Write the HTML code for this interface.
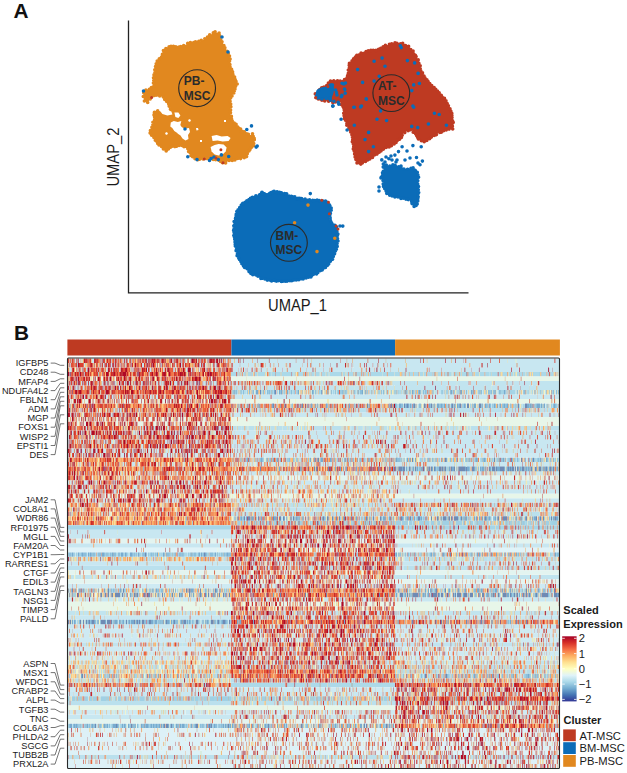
<!DOCTYPE html>
<html><head><meta charset="utf-8"><style>
html,body{margin:0;padding:0;background:#fff;}
body{width:627px;height:773px;overflow:hidden;}
svg{display:block;font-family:"Liberation Sans",sans-serif;}
</style></head><body>
<svg width="627" height="773" viewBox="0 0 627 773">
<path d="M215.3 32.2C216.2 32.3 218.1 32.7 218.9 33.6C219.7 34.5 219.7 36.5 220.3 37.9C220.9 39.3 221.7 40.5 222.5 42.2C223.3 43.9 224.5 46.1 225.4 48.0C226.3 49.9 227.5 51.8 228.2 53.7C228.9 55.6 229.3 57.2 229.7 59.4C230.1 61.5 229.9 64.4 230.4 66.6C230.9 68.8 231.7 70.2 232.5 72.4C233.3 74.6 234.7 77.6 235.4 79.5C236.1 81.4 236.9 82.3 236.8 83.8C236.7 85.3 235.6 86.9 235.0 88.5C234.4 90.1 233.9 91.8 233.2 93.4C232.5 95.0 231.5 96.2 231.0 98.0C230.5 99.8 230.5 101.5 230.4 104.0C230.3 106.5 230.2 110.4 230.4 112.8C230.6 115.2 230.9 116.9 231.5 118.5C232.1 120.1 233.0 121.2 234.0 122.5C235.0 123.8 236.1 125.1 237.5 126.5C238.9 127.9 240.8 129.7 242.7 131.0C244.6 132.3 247.2 133.7 248.9 134.5C250.6 135.3 252.2 134.8 253.1 135.7C254.0 136.6 254.6 138.2 254.6 139.9C254.6 141.6 254.0 144.2 253.1 146.1C252.2 148.0 249.9 149.6 248.9 151.3C247.9 153.0 248.2 155.3 246.8 156.5C245.4 157.7 242.7 158.0 240.6 158.5C238.5 159.0 236.3 159.2 234.4 159.6C232.5 159.9 230.6 160.1 229.2 160.6C227.8 161.1 227.1 162.3 226.1 162.7C225.1 163.1 224.2 163.5 223.0 163.2C221.8 162.8 220.4 161.2 218.8 160.6C217.2 160.0 215.2 159.9 213.7 159.6C212.1 159.2 211.2 158.6 209.5 158.5C207.8 158.4 204.9 159.0 203.3 159.2C201.7 159.4 201.2 159.8 199.8 159.7C198.4 159.6 196.4 159.3 195.0 158.7C193.6 158.0 192.1 157.1 191.1 155.8C190.1 154.5 190.0 152.5 189.2 151.1C188.4 149.7 187.7 148.2 186.4 147.2C185.1 146.2 183.5 145.5 181.6 145.3C179.7 145.2 176.8 146.1 174.9 146.3C173.0 146.5 171.6 146.0 170.1 146.7C168.6 147.4 167.6 150.8 165.8 150.6C164.1 150.4 161.4 147.1 159.6 145.3C157.8 143.5 156.3 141.6 154.8 139.6C153.3 137.6 151.2 135.1 150.5 133.5C149.8 131.9 149.9 131.6 150.3 130.1C150.7 128.6 152.1 126.2 152.7 124.4C153.3 122.7 153.8 121.7 154.1 119.6C154.4 117.5 154.1 113.5 154.6 112.0C155.1 110.5 155.7 110.5 157.1 110.8C158.5 111.0 161.1 112.9 162.9 113.5C164.7 114.1 166.3 114.7 167.7 114.4C169.1 114.1 171.2 112.9 171.5 111.6C171.8 110.3 170.4 108.6 169.6 106.8C168.8 105.0 167.8 102.6 166.7 101.0C165.6 99.4 164.5 98.2 162.9 97.2C161.3 96.2 158.8 95.2 157.1 95.0C155.3 94.8 153.5 95.3 152.4 96.0C151.3 96.7 151.2 98.1 150.4 99.1C149.6 100.1 148.6 101.8 147.6 102.0C146.6 102.2 145.2 101.4 144.5 100.5C143.8 99.6 143.4 97.7 143.3 96.5C143.2 95.3 143.2 94.4 143.7 93.4C144.1 92.4 144.9 91.2 146.0 90.5C147.1 89.8 148.7 89.8 150.0 89.0C151.3 88.2 153.0 87.5 153.6 86.0C154.2 84.5 153.5 81.8 153.6 80.0C153.7 78.2 154.1 77.4 154.3 75.2C154.5 73.0 154.5 69.0 155.0 66.6C155.5 64.2 156.1 62.6 157.2 60.9C158.3 59.2 160.6 58.3 161.5 56.6C162.4 54.9 162.2 52.2 162.9 50.8C163.6 49.4 164.4 48.7 165.8 48.0C167.2 47.3 169.3 46.8 171.5 46.5C173.7 46.2 176.3 46.6 178.7 46.5C181.1 46.4 184.3 46.4 185.9 45.8C187.5 45.2 186.8 43.5 188.0 42.9C189.2 42.3 191.3 42.4 193.1 42.2C194.9 42.0 196.9 42.0 198.8 41.5C200.7 41.0 203.1 40.1 204.5 39.4C205.9 38.7 206.4 37.9 207.4 37.2C208.4 36.5 209.3 35.7 210.3 35.0C211.3 34.3 212.4 33.4 213.2 32.9C214.0 32.4 214.4 32.1 215.3 32.2Z" fill="#E1881F"/>
<path d="M215.1 31.8h0M219.1 33.1h0M219.6 35.6h0M219.8 37.9h0M220.8 40.0h0M222.0 41.7h0M223.9 45.5h0M224.9 47.7h0M227.0 51.4h0M228.3 53.6h0M229.5 56.0h0M230.1 59.1h0M229.5 61.3h0M229.9 64.6h0M230.0 66.7h0M231.6 69.3h0M232.6 71.9h0M232.9 74.4h0M234.6 77.0h0M235.2 79.6h0M236.0 81.4h0M237.2 84.0h0M235.6 86.2h0M235.0 89.0h0M234.4 90.7h0M233.8 92.9h0M232.0 96.0h0M230.6 98.0h0M230.1 101.2h0M230.7 104.1h0M230.9 106.7h0M230.6 110.0h0M230.5 112.7h0M231.4 116.2h0M231.5 118.7h0M232.2 120.7h0M234.2 123.1h0M236.1 124.2h0M237.4 126.7h0M238.7 128.0h0M240.6 129.0h0M242.2 131.3h0M244.3 131.9h0M246.7 133.8h0M248.4 134.4h0M253.2 136.2h0M254.2 138.2h0M254.3 139.8h0M253.7 143.5h0M253.6 145.7h0M251.3 147.5h0M250.0 149.5h0M249.0 151.0h0M247.3 153.8h0M246.6 156.6h0M244.2 157.7h0M240.6 158.6h0M237.7 158.5h0M234.9 159.9h0M232.2 160.5h0M229.1 160.5h0M225.6 162.9h0M222.5 162.7h0M220.6 161.5h0M218.6 160.1h0M215.7 159.7h0M213.2 159.4h0M208.9 158.9h0M206.5 158.4h0M203.0 159.0h0M199.6 159.2h0M197.8 159.8h0M195.0 158.7h0M192.6 156.8h0M190.9 155.5h0M190.5 153.0h0M188.6 151.6h0M187.8 148.7h0M186.5 146.6h0M184.0 146.8h0M182.0 145.5h0M179.1 145.5h0M176.7 146.3h0M174.9 146.6h0M172.3 146.2h0M170.5 147.3h0M168.4 149.0h0M166.2 150.9h0M163.4 148.9h0M161.5 146.5h0M159.0 145.0h0M157.7 143.6h0M156.9 141.4h0M155.3 140.2h0M153.9 137.4h0M151.6 135.2h0M150.1 133.1h0M150.4 130.6h0M151.9 127.2h0M152.9 124.8h0M152.9 122.2h0M154.6 119.9h0M154.6 117.0h0M154.0 114.9h0M154.4 112.4h0M157.7 110.7h0M159.9 112.7h0M163.2 113.1h0M164.9 113.5h0M168.2 114.8h0M169.2 113.4h0M172.1 111.8h0M170.4 109.3h0M169.2 106.2h0M168.7 104.1h0M166.7 101.5h0M164.7 99.5h0M163.3 96.9h0M159.7 95.9h0M156.8 95.1h0M154.5 95.4h0M152.0 96.5h0M150.2 99.0h0M147.7 102.5h0M144.4 101.0h0M143.3 96.5h0M143.7 92.8h0M145.9 90.1h0M149.4 89.4h0M151.4 87.5h0M153.9 86.1h0M153.4 83.0h0M153.7 80.3h0M153.5 77.7h0M154.0 74.9h0M154.9 72.3h0M154.8 69.8h0M155.5 66.5h0M156.2 63.8h0M157.2 61.1h0M159.3 58.8h0M161.5 57.1h0M162.4 54.2h0M163.4 50.5h0M165.9 48.5h0M169.1 46.8h0M171.0 46.4h0M173.4 46.2h0M175.8 46.7h0M179.0 47.0h0M180.7 46.5h0M183.7 45.6h0M186.4 46.4h0M187.7 43.4h0M190.4 42.5h0M193.7 42.6h0M195.5 41.8h0M198.8 41.3h0M201.3 40.2h0M204.8 38.8h0M207.5 37.1h0M209.7 34.8h0M213.3 32.9h0" stroke="#E1881F" stroke-width="3.6" stroke-linecap="round" fill="none"/>
<path d="M397.4 42.8C399.3 42.8 401.3 43.1 403.2 43.7C405.1 44.3 407.3 45.3 408.9 46.6C410.5 47.9 411.4 49.6 412.7 51.4C414.0 53.1 415.5 55.2 416.6 57.1C417.7 59.0 418.6 60.7 419.4 62.9C420.2 65.1 420.3 68.0 421.3 70.5C422.3 73.0 423.4 75.7 425.2 78.2C427.0 80.8 429.5 83.2 431.9 85.8C434.3 88.3 437.5 91.3 439.5 93.5C441.5 95.7 442.7 97.3 444.0 98.9C445.3 100.5 446.0 101.1 447.2 103.1C448.4 105.1 450.1 107.6 451.1 110.9C452.2 114.2 453.3 119.8 453.5 122.8C453.7 125.8 453.5 127.6 452.3 128.8C451.1 130.0 448.6 129.4 446.4 130.0C444.2 130.6 441.6 131.2 439.2 132.4C436.8 133.6 434.4 135.6 432.0 137.2C429.6 138.8 427.0 141.6 424.8 142.0C422.6 142.4 420.5 141.0 418.9 139.6C417.3 138.2 416.7 135.2 415.3 133.6C413.9 132.0 412.3 130.2 410.5 130.0C408.7 129.8 406.1 131.2 404.5 132.4C402.9 133.6 402.3 135.6 400.9 137.2C399.5 138.8 398.1 140.4 396.1 142.0C394.1 143.6 391.3 145.4 388.9 146.8C386.5 148.2 383.9 149.1 381.5 150.5C379.1 151.9 376.8 153.8 374.5 155.5C372.2 157.2 369.8 159.0 367.5 160.5C365.2 162.0 362.3 164.2 360.5 164.5C358.7 164.8 357.7 164.1 356.7 162.3C355.7 160.6 354.9 157.0 354.3 154.0C353.7 151.0 353.5 147.6 353.1 144.4C352.7 141.2 352.7 137.6 351.9 134.8C351.1 132.0 349.5 130.4 348.3 127.6C347.1 124.8 345.5 121.3 344.7 118.1C343.9 114.9 344.0 110.8 343.5 108.5C343.0 106.2 342.2 105.2 341.5 104.0C340.8 102.8 339.9 101.8 339.0 101.5C338.1 101.2 337.0 101.8 336.0 102.0C335.0 102.2 334.2 103.1 333.0 103.0C331.8 102.9 330.3 101.9 329.0 101.5C327.7 101.1 326.5 100.8 325.0 100.5C323.5 100.2 321.6 99.9 320.0 99.5C318.4 99.1 316.2 98.9 315.5 98.0C314.8 97.1 315.1 95.2 315.5 94.0C315.9 92.8 316.9 92.0 318.0 91.0C319.1 90.0 320.5 89.2 322.0 88.2C323.5 87.2 325.6 86.1 327.0 85.0C328.4 83.9 329.3 82.3 330.5 81.5C331.7 80.7 332.4 80.5 334.0 80.3C335.6 80.1 338.3 80.6 340.0 80.5C341.7 80.4 342.9 79.9 344.0 79.5C345.1 79.1 345.9 79.7 346.7 78.2C347.5 76.7 348.1 73.0 348.6 70.5C349.1 68.0 348.5 65.1 349.6 62.9C350.7 60.7 353.4 58.7 355.3 57.1C357.2 55.5 358.9 54.2 361.1 53.3C363.3 52.3 365.8 52.0 368.7 51.4C371.6 50.8 375.4 50.5 378.3 49.5C381.2 48.5 383.7 46.7 385.9 45.7C388.1 44.7 389.8 44.2 391.7 43.7C393.6 43.2 395.5 42.8 397.4 42.8Z" fill="#BE3A22"/>
<path d="M396.9 43.4h0M400.6 43.8h0M402.7 43.4h0M405.5 45.5h0M408.6 46.2h0M410.7 49.5h0M413.1 51.1h0M413.6 53.8h0M415.4 55.4h0M416.1 56.6h0M418.2 59.9h0M418.9 63.4h0M420.2 65.8h0M420.2 68.4h0M420.8 70.9h0M422.5 72.9h0M424.0 76.1h0M424.9 77.8h0M426.9 79.8h0M428.1 81.6h0M429.7 83.5h0M431.7 85.6h0M434.1 87.5h0M435.7 89.3h0M437.4 91.0h0M439.2 92.9h0M441.3 95.4h0M442.1 97.1h0M444.5 98.4h0M446.0 100.9h0M447.2 103.5h0M448.4 105.7h0M450.0 108.9h0M450.9 111.3h0M451.8 113.4h0M451.9 115.5h0M452.0 117.6h0M452.5 120.7h0M453.2 122.4h0M452.4 126.2h0M452.7 129.0h0M449.1 129.1h0M446.2 130.0h0M443.6 130.7h0M441.3 132.2h0M439.8 132.5h0M436.5 134.6h0M434.2 135.4h0M431.4 137.1h0M429.6 138.8h0M426.8 140.4h0M424.2 141.7h0M421.4 140.7h0M418.4 139.0h0M417.5 137.3h0M416.6 135.6h0M415.6 133.8h0M413.2 132.3h0M410.4 129.8h0M408.1 130.8h0M404.8 132.6h0M402.2 135.2h0M401.4 137.4h0M399.6 139.2h0M397.3 140.4h0M396.1 142.4h0M394.1 144.0h0M391.4 145.7h0M389.1 147.0h0M386.1 147.5h0M383.5 149.1h0M381.0 150.9h0M379.2 152.3h0M377.0 154.1h0M374.5 154.9h0M372.5 157.5h0M369.8 158.9h0M367.7 160.0h0M365.5 161.5h0M362.3 162.9h0M360.8 164.1h0M357.0 162.9h0M355.9 159.4h0M355.1 157.0h0M354.6 154.1h0M354.2 151.1h0M353.3 148.9h0M353.7 146.6h0M353.2 143.8h0M352.3 141.7h0M352.7 139.8h0M352.4 136.9h0M351.9 134.8h0M350.7 131.9h0M350.0 129.6h0M348.9 128.1h0M346.8 125.2h0M346.9 123.4h0M345.5 120.2h0M344.4 118.6h0M344.1 115.8h0M343.7 113.3h0M344.3 110.5h0M343.9 108.5h0M343.0 106.5h0M341.2 104.5h0M339.0 100.9h0M335.4 102.0h0M332.9 102.8h0M328.6 101.3h0M324.8 100.9h0M321.9 100.3h0M320.4 99.0h0M318.3 99.0h0M316.0 97.7h0M315.3 93.9h0M318.6 91.1h0M319.8 89.5h0M321.7 87.7h0M324.0 87.0h0M326.7 85.5h0M328.4 83.0h0M330.5 81.1h0M333.8 80.8h0M337.5 80.8h0M340.2 81.0h0M344.5 79.6h0M347.0 77.7h0M347.6 75.6h0M348.3 73.2h0M348.3 70.0h0M349.4 67.5h0M349.2 65.2h0M349.4 63.2h0M352.1 60.7h0M353.6 58.8h0M355.4 57.0h0M356.8 55.4h0M358.8 55.1h0M361.1 53.0h0M364.1 53.3h0M366.1 51.6h0M368.3 50.9h0M370.9 50.4h0M373.2 50.2h0M376.0 50.4h0M378.6 49.4h0M380.7 48.3h0M383.2 46.8h0M385.4 45.4h0M389.4 44.3h0M391.7 43.9h0M395.0 42.9h0" stroke="#BE3A22" stroke-width="3.6" stroke-linecap="round" fill="none"/>
<path d="M383.6 164.4C384.6 163.6 387.3 165.6 389.3 165.7C391.3 165.8 393.8 164.7 395.7 165.1C397.6 165.5 398.9 167.7 400.8 168.3C402.7 168.9 405.1 168.9 407.2 168.9C409.3 168.9 412.0 167.8 413.6 168.3C415.2 168.8 416.0 170.6 416.8 172.1C417.6 173.6 418.5 175.3 418.7 177.2C418.9 179.1 418.0 181.5 418.0 183.6C418.0 185.7 418.7 187.4 418.7 190.0C418.7 192.6 418.2 196.6 418.0 198.9C417.8 201.2 418.1 202.7 417.4 204.0C416.7 205.3 414.7 206.9 413.6 206.5C412.5 206.1 412.3 202.7 411.0 201.4C409.7 200.1 408.0 199.5 405.9 198.9C403.8 198.3 400.6 198.0 398.3 197.6C396.0 197.2 393.8 196.9 391.9 196.3C390.0 195.7 388.1 195.1 386.8 193.8C385.5 192.5 384.8 190.8 384.2 188.7C383.6 186.6 383.4 182.9 383.0 181.0C382.6 179.1 381.6 178.9 381.7 177.2C381.8 175.5 383.3 172.9 383.6 170.8C383.9 168.7 382.7 165.2 383.6 164.4Z" fill="#0B6CB8"/>
<path d="M383.3 164.1h0M386.3 165.0h0M389.8 166.1h0M392.9 164.8h0M395.1 165.4h0M398.7 166.7h0M400.9 167.7h0M403.9 169.1h0M407.6 169.3h0M411.0 168.3h0M413.1 167.9h0M415.2 170.4h0M417.3 172.4h0M417.9 175.0h0M418.6 177.3h0M417.8 180.7h0M417.7 184.1h0M418.5 186.6h0M418.3 189.7h0M418.7 192.5h0M417.9 193.9h0M418.2 196.8h0M417.9 198.6h0M417.8 200.9h0M417.2 204.0h0M416.1 205.4h0M414.1 206.5h0M412.0 203.6h0M411.6 201.6h0M408.2 199.6h0M405.9 199.1h0M403.3 198.2h0M401.0 198.5h0M398.0 197.0h0M394.9 196.9h0M392.1 195.9h0M389.7 195.3h0M386.8 193.4h0M386.1 191.0h0M384.6 188.4h0M383.5 186.4h0M383.2 184.1h0M383.0 180.6h0M381.4 177.1h0M382.5 175.6h0M382.5 172.8h0M383.3 171.4h0M383.2 167.1h0" stroke="#0B6CB8" stroke-width="3.6" stroke-linecap="round" fill="none"/>
<path d="M251.0 198.4C252.6 197.6 254.9 197.3 256.7 196.5C258.4 195.7 259.9 193.7 261.5 193.5C263.1 193.3 264.2 195.7 266.3 195.5C268.4 195.3 271.3 192.7 273.9 192.2C276.4 191.7 279.1 192.1 281.6 192.7C284.2 193.2 286.6 194.6 289.2 195.5C291.8 196.4 294.3 197.8 296.9 198.4C299.5 199.1 302.1 199.1 304.6 199.4C307.2 199.7 309.6 200.2 312.2 200.3C314.8 200.5 317.3 200.0 319.9 200.3C322.4 200.6 325.6 200.9 327.5 202.2C329.4 203.5 331.0 205.8 331.3 208.0C331.6 210.2 329.4 213.0 329.4 215.6C329.4 218.2 330.0 221.4 331.3 223.3C332.6 225.2 336.1 225.7 337.1 227.0C338.1 228.3 337.0 229.0 337.1 230.9C337.2 232.8 338.0 236.1 338.0 238.6C338.0 241.1 337.7 243.6 337.1 246.2C336.5 248.8 335.0 251.7 334.2 253.9C333.4 256.1 333.4 257.7 332.3 259.6C331.2 261.5 329.6 263.5 327.5 265.4C325.4 267.3 322.8 269.2 319.9 271.1C317.0 273.0 313.8 275.5 310.3 276.9C306.8 278.3 303.0 278.9 298.8 279.7C294.6 280.5 289.9 281.5 285.4 281.7C280.9 281.9 276.1 281.3 272.0 280.7C267.9 280.1 264.0 279.1 260.5 277.8C257.0 276.5 253.9 275.1 251.0 273.0C248.1 270.9 245.5 268.3 243.3 265.4C241.1 262.5 239.0 259.3 237.6 255.8C236.2 252.3 235.3 248.1 234.7 244.3C234.0 240.5 233.7 236.6 233.7 232.8C233.7 229.0 234.2 224.9 234.7 221.4C235.2 217.9 235.5 214.5 236.6 211.8C237.7 209.1 239.7 206.8 241.4 205.1C243.2 203.3 245.5 202.4 247.1 201.3C248.7 200.2 249.4 199.2 251.0 198.4Z" fill="#0B6CB8"/>
<path d="M250.5 198.3h0M254.3 197.9h0M257.0 197.1h0M259.6 194.8h0M261.1 194.0h0M264.2 193.9h0M266.5 195.4h0M268.7 194.2h0M271.0 192.7h0M273.6 192.0h0M277.0 191.9h0M279.6 192.2h0M281.4 193.1h0M284.5 193.6h0M286.1 194.5h0M289.0 196.0h0M291.4 196.3h0M294.8 196.9h0M296.8 198.8h0M299.8 198.2h0M301.5 198.5h0M305.1 199.1h0M307.4 200.2h0M309.5 199.7h0M312.7 200.4h0M314.5 200.6h0M317.1 200.0h0M319.3 200.6h0M322.9 201.1h0M325.5 201.0h0M327.2 202.2h0M329.3 204.7h0M329.9 205.8h0M331.2 208.0h0M331.2 210.2h0M330.4 213.4h0M329.8 215.9h0M330.2 218.0h0M330.5 220.6h0M331.6 222.8h0M332.9 224.8h0M334.9 225.2h0M336.5 227.1h0M336.9 231.5h0M337.9 234.1h0M337.4 235.5h0M337.5 238.6h0M338.0 241.1h0M337.1 243.6h0M337.2 246.4h0M336.4 249.2h0M335.4 250.9h0M334.6 253.7h0M333.3 256.6h0M332.6 259.2h0M330.4 261.2h0M328.7 263.9h0M327.6 265.2h0M325.5 267.4h0M323.7 267.9h0M322.2 269.9h0M320.5 270.6h0M317.9 272.6h0M316.5 273.9h0M313.6 274.3h0M311.8 275.4h0M310.9 277.0h0M308.5 277.3h0M306.1 278.0h0M303.1 278.9h0M301.6 278.7h0M298.9 279.8h0M296.2 279.9h0M293.9 280.0h0M291.8 280.8h0M290.0 280.7h0M287.0 281.2h0M285.6 281.3h0M282.9 281.2h0M281.3 281.4h0M278.2 280.7h0M276.3 281.1h0M274.4 280.4h0M271.6 280.9h0M269.6 279.9h0M267.2 280.1h0M264.9 279.0h0M262.6 278.3h0M260.9 278.4h0M258.0 276.2h0M256.0 275.0h0M252.8 274.7h0M250.9 273.4h0M249.0 271.6h0M247.1 268.8h0M244.6 267.4h0M243.5 265.9h0M241.7 263.6h0M240.9 261.6h0M239.5 259.4h0M238.8 258.2h0M237.1 255.8h0M237.4 254.1h0M236.1 250.8h0M236.4 249.5h0M235.3 246.1h0M235.2 244.2h0M235.0 242.1h0M234.7 239.3h0M234.4 237.1h0M233.8 235.5h0M234.1 232.4h0M233.6 230.4h0M234.1 228.1h0M233.8 225.7h0M234.8 224.2h0M234.1 221.5h0M235.5 218.4h0M236.1 216.1h0M236.2 214.3h0M236.8 211.6h0M238.1 209.7h0M239.7 207.5h0M241.3 205.0h0M242.7 204.0h0M245.2 202.2h0M247.4 201.6h0M249.0 199.5h0" stroke="#0B6CB8" stroke-width="3.6" stroke-linecap="round" fill="none"/>
<path d="M170.8 122.5l3 -1.5l4 1l3.5 -1l-1 4l2 3l-2 4l-3 1l-3 -2l-2 -3l-2 -1.5z" fill="#fff"/>
<path d="M177 129l4 -2l4 1.5l4 -0.5l1 4l-2 3l0.5 4l-3 1.5l-3 -2l-2 -3l-3 -2z" fill="#fff"/>
<path d="M211.6 136l5 -1l5 1.5l6 -0.5l3 2l-2 3l-6 0.5l-5 -1l-5 0.5z" fill="#fff"/>
<path d="M210.6 147l4 -2l4 -1l5 0.5l3 3l-1 4l-3 3l-4 1l-4 -1l-3 -3z" fill="#fff"/>
<path d="M159.4 110l6 0l6 1.5l1 3l-5 1l-5 -1.5z" fill="#fff"/>
<path d="M174.4 112.5l4 0l2 3l-2 2.5l-3 -1z" fill="#fff"/>
<path d="M196 128l2 0l0.5 2l-2 0.5z" fill="#fff"/>
<path d="M165 133l2 -1l1 2l-2 1z" fill="#fff"/>
<path d="M200 140l2 0l0 2l-2 0z" fill="#fff"/>
<path d="M188 120l2 -1l1 2l-2 1z" fill="#fff"/>
<path d="M224 120l2 0l0 2l-2 0z" fill="#fff"/>
<path d="M317.5 89.5C318.3 88.8 319.6 88.0 321.0 87.5C322.4 87.0 324.5 87.2 326.0 86.5C327.5 85.8 328.8 83.9 330.0 83.5C331.2 83.1 332.3 83.2 333.0 84.0C333.7 84.8 333.9 86.5 334.0 88.0C334.1 89.5 333.8 91.5 333.5 93.0C333.2 94.5 332.4 95.8 332.0 97.0C331.6 98.2 331.6 100.0 331.0 100.5C330.4 101.0 329.5 100.3 328.5 100.0C327.5 99.7 326.2 98.6 325.0 98.5C323.8 98.4 322.2 99.5 321.0 99.5C319.8 99.5 318.4 99.1 317.5 98.5C316.6 97.9 316.1 97.1 315.8 96.0C315.6 94.9 315.7 93.1 316.0 92.0C316.3 90.9 316.7 90.2 317.5 89.5Z" fill="#0B6CB8"/>
<path d="M342.0 83.3h0M345.5 83.0h0M344.5 89.0h0M345.2 93.2h0M341.3 96.7h0M338.2 102.4h0M338.8 104.3h0M333.0 106.0h0M330.5 100.2h0M335.6 90.0h0M318.4 91.0h0M336.5 92.5h0M337.0 95.0h0M343.8 83.9h0M344.8 89.7h0M341.9 95.4h0M332.5 85.0h0M331.0 87.0h0M316.5 96.0h0M318.0 98.0h0M322.0 99.0h0M326.0 98.5h0M330.0 98.0h0" stroke="#0B6CB8" stroke-width="3.6" stroke-linecap="round" fill="none"/>
<path d="M400.3 45.7h0M401.2 47.6h0M382.1 58.1h0M374.1 61.3h0M385.0 66.3h0M407.4 60.6h0M414.6 62.9h0M357.6 69.6h0M418.1 73.4h0M362.6 82.4h0M374.1 81.1h0M379.2 76.3h0M413.7 84.9h0M419.4 83.5h0M411.8 90.6h0M366.4 99.2h0M360.7 106.9h0M353.8 107.3h0M413.7 107.3h0M366.2 98.9h0M354.3 107.3h0M361.4 106.1h0M380.6 110.9h0M377.0 119.3h0M386.6 120.5h0M412.9 106.1h0M434.4 113.3h0M439.2 114.5h0M428.4 124.0h0M446.4 125.2h0M411.7 126.4h0M417.7 127.6h0M368.6 132.4h0M365.0 139.6h0M373.4 146.8h0M368.6 151.6h0M354.3 125.2h0M347.1 130.0h0M341.1 119.3h0M332.7 106.1h0M333.9 101.3h0" stroke="#0B6CB8" stroke-width="3.6" stroke-linecap="round" fill="none"/>
<path d="M402.1 146.8h0M398.5 151.6h0M394.9 155.1h0M381.8 159.9h0M388.9 158.7h0M412.9 145.6h0M421.2 146.8h0M416.5 157.5h0M420.0 164.7h0M422.4 161.1h0M392.0 160.0h0M396.0 162.0h0M385.0 162.0h0M401.0 166.0h0M410.0 158.0h0M418.0 163.0h0M407.0 151.0h0M391.0 156.0h0M386.0 157.0h0M397.0 160.0h0M405.0 160.0h0M379.0 187.0h0M379.0 191.0h0M381.0 178.0h0" stroke="#0B6CB8" stroke-width="3.6" stroke-linecap="round" fill="none"/>
<path d="M222.0 37.0h0M228.0 52.0h0M251.5 125.9h0M246.8 129.5h0M257.2 146.1h0M256.2 147.1h0M211.1 158.5h0M218.3 159.6h0M221.4 154.9h0M228.7 156.5h0M197.0 159.6h0M187.8 156.8h0M185.0 129.0h0M143.5 91.0h0M209.5 160.5h0M214.0 157.0h0" stroke="#0B6CB8" stroke-width="3.6" stroke-linecap="round" fill="none"/>
<path d="M151.6 97.5h0M315.8 97.6h0M328.0 86.5h0M220.9 149.7h0M204.3 159.1h0M223.0 162.7h0M216.0 158.0h0" stroke="#BE3A22" stroke-width="3.0" stroke-linecap="round" fill="none"/>
<path d="M252.5 197.5h0M256.0 196.0h0M262.0 192.5h0M266.5 195.0h0M270.0 193.5h0M274.0 191.5h0M277.5 192.5h0M281.0 193.0h0M286.5 194.0h0M292.5 197.0h0M298.0 198.5h0M302.0 199.5h0M247.0 201.0h0M243.0 203.5h0M264.0 194.0h0M272.0 192.5h0" stroke="#0B6CB8" stroke-width="4.0" stroke-linecap="round" fill="none"/>
<path d="M308.0 205.1h0M294.6 222.7h0M334.8 238.2h0M317.0 251.6h0" stroke="#E1881F" stroke-width="3.6" stroke-linecap="round" fill="none"/>
<path d="M321.8 200.3h0M328.5 202.2h0M329.4 213.7h0M336.1 226.1h0M338.0 229.0h0" stroke="#BE3A22" stroke-width="3.0" stroke-linecap="round" fill="none"/>
<path d="M342.8 226.1h0M340.0 226.0h0M310.3 193.6h0M262.4 193.6h0" stroke="#0B6CB8" stroke-width="3.6" stroke-linecap="round" fill="none"/>
<path d="M252.5 133.7h0M241.6 132.1h0" stroke="#E1881F" stroke-width="3.6" stroke-linecap="round" fill="none"/>
<circle cx="197.1" cy="88.2" r="18.4" fill="none" stroke="#2b2b2b" stroke-width="1.15"/><text x="183.8" y="85.4" font-weight="bold" font-size="12" fill="#2b2b2b">PB-</text><text x="183.8" y="99.6" font-weight="bold" font-size="12" fill="#2b2b2b">MSC</text>
<circle cx="391.3" cy="93.1" r="18.4" fill="none" stroke="#2b2b2b" stroke-width="1.15"/><text x="378.0" y="90.3" font-weight="bold" font-size="12" fill="#2b2b2b">AT-</text><text x="378.0" y="104.5" font-weight="bold" font-size="12" fill="#2b2b2b">MSC</text>
<circle cx="288.9" cy="242.8" r="18.4" fill="none" stroke="#2b2b2b" stroke-width="1.15"/><text x="275.6" y="240.0" font-weight="bold" font-size="12" fill="#2b2b2b">BM-</text><text x="275.6" y="254.2" font-weight="bold" font-size="12" fill="#2b2b2b">MSC</text>
<path d="M128.5 20.4V292.8H468.5" fill="none" stroke="#222" stroke-width="1.3"/>
<text transform="translate(297.5 310.8) scale(0.9 1)" text-anchor="middle" font-size="16.4" fill="#1a1a1a">UMAP_1</text>
<text transform="translate(118.5 157.1) rotate(-90) scale(0.9 1)" text-anchor="middle" font-size="16.4" fill="#1a1a1a">UMAP_2</text>
<text x="13.5" y="17.9" font-weight="bold" font-size="20.8" fill="#111">A</text>
<text x="14.0" y="340.4" font-weight="bold" font-size="20.8" fill="#111">B</text>
<rect x="67.4" y="339.5" width="164" height="16" fill="#BE3A22"/>
<rect x="231.4" y="339.5" width="163.7" height="16" fill="#0B6CB8"/>
<rect x="395.1" y="339.5" width="164.8" height="16" fill="#E1881F"/>
<g fill="none" stroke-width="4.525">
<path stroke="#da4131" d="M68 360.75h1m3 0h1M80 365.26h3m112 0h1M102 369.76h1m8 0h1m90 0h2M94 374.27h1m38 0h1m9 0h1m6 0h1m24 0h1M172 378.77h1m20 0h1M71 383.28h1m213 0h1M101 387.78h1m3 0h1m54 0h1m38 0h1M78 392.29h1m2 0h1m32 0h1m7 0h1m60 0h1m23 0h2M100 396.79h1m1 0h1m40 0h1m84 0h1M100 405.80h2m94 0h1m11 0h1m16 0h1m152 0h1M127 410.31h1m44 0h1m24 0h1m139 0h1M115 414.81h1M199 419.32h1M198 428.33h1M120 432.83h1m244 0h1M132 441.84h1m16 0h1m6 0h1m32 0h1m21 0h1M131 446.35h1m15 0h1m20 0h1m323 0h1M85 450.85h1M89 455.36h1m61 0h1M85 459.86h1m19 0h1m3 0h1m6 0h1m62 0h1M68 464.37h1m76 0h1M171 468.87h1m30 0h1m101 0h2M164 477.88h1M119 482.39h1M299 491.40h1M69 500.41h2M139 504.91h1m18 0h1m34 0h1M91 513.92h1m97 0h1m1 0h1M77 518.43h1m86 0h1M73 522.93h1m43 0h1m10 0h1m53 0h1m20 0h1M246 527.44h1m18 0h1m21 0h1m5 0h1m56 0h1m7 0h1M254 531.94h1m111 0h2M282 536.45h1M334 545.46h1M251 549.96h1m47 0h1m24 0h1m125 0h1M239 554.47h1m39 0h1m85 0h1m16 0h1M389 558.97h1M255 563.48h1M238 572.49h1m61 0h1m7 0h1M256 576.99h1m75 0h1m2 0h1M235 581.50h1M328 586.00h1m55 0h1M269 590.51h1m10 0h1m14 0h1m50 0h1m4 0h1M336 595.01h1m3 0h1M233 599.52h1m43 0h2m58 0h1M355 608.53h1M251 617.54h1M370 622.04h1m160 0h1M319 631.05h1M233 635.56h1m84 0h1M422 640.06h1M280 644.57h1M254 649.07h1m107 0h1M328 653.58h1m90 0h1M321 658.08h1M244 671.60h1m5 0h1m40 0h1m24 0h1m11 0h1m31 0h1m30 0h1M368 676.10h1M250 680.61h1m117 0h1M84 685.11h1m65 0h1m45 0h1m292 0h1m1 0h1m15 0h1m19 0h1M203 689.62h1m274 0h1M422 694.12h1m117 0h1m4 0h1M397 698.63h1m30 0h1m43 0h1m4 0h1m10 0h1m36 0h1M396 712.14h1m29 0h1m69 0h1M529 716.65h1M509 721.15h1M531 725.66h1m2 0h1M558 739.17h1M382 743.68h1M416 748.18h1M408 757.19h1M407 766.20h1"/>
<path stroke="#ddafa1" d="M69 360.75h1M286 365.26h1M77 369.76h1m75 0h1m40 0h1m62 0h1M110 383.28h1m206 0h1m46 0h1M84 387.78h1m192 0h1M295 392.29h1M115 396.79h1m36 0h1m272 0h1M92 401.30h1m81 0h1m30 0h1M96 410.31h1m38 0h1m189 0h1m29 0h1m23 0h1m43 0h1M169 414.81h1m111 0h1m89 0h1m42 0h1M79 419.32h1m9 0h1m10 0h1m11 0h1m51 0h1M183 423.82h1m236 0h2M420 428.33h1m127 0h1M181 432.83h1M99 437.34h2M284 441.84h1m99 0h1M122 446.35h1m225 0h1m165 0h1M240 450.85h1m14 0h1m91 0h1M172 455.36h1m26 0h1m100 0h1M299 464.37h1m64 0h1m160 0h1M182 468.87h1M71 473.38h1m35 0h1m130 0h1m7 0h1m298 0h1M117 477.88h1m19 0h1M264 482.39h1m254 0h1M423 486.89h1m60 0h1M186 491.40h1m51 0h1m100 0h1m55 0h1M254 495.90h1m55 0h1M202 500.41h1m58 0h1M238 504.91h1m45 0h1m34 0h1m21 0h1m66 0h1M134 513.92h1m173 0h1M212 518.43h1M520 531.94h1M257 536.45h1M159 540.95h1M265 545.46h1m31 0h1m72 0h1M287 549.96h1m56 0h1M529 554.47h1M168 558.97h1m49 0h1m58 0h1M246 572.49h1m54 0h1m38 0h1m53 0h1M304 576.99h1m198 0h1M293 581.50h1m4 0h1m19 0h1m4 0h1M521 586.00h1M347 599.52h1M271 604.02h1M251 608.53h1m9 0h1m23 0h1m18 0h1M166 613.03h1m270 0h1m18 0h1m10 0h1m89 0h1M211 617.54h1M176 626.55h1m170 0h1m88 0h1M305 631.05h1m203 0h1M198 635.56h1m169 0h1m16 0h1M96 644.57h1m47 0h1m68 0h1M219 649.07h1m194 0h1M81 653.58h1m23 0h1m68 0h1m124 0h1M274 658.08h1m50 0h1M209 662.59h1m231 0h1m18 0h1M344 667.09h1m56 0h1m75 0h1M400 671.60h1M68 676.10h1m22 0h1M112 680.61h1m180 0h1m25 0h1m139 0h1M68 689.62h1m112 0h1m263 0h1M221 694.12h1m29 0h1m276 0h1M308 703.13h1m12 0h1M552 707.64h1M460 712.14h1m25 0h1M244 716.65h1M145 721.15h1m95 0h1m30 0h1m54 0h1m5 0h1m23 0h1m132 0h1m54 0h1M445 730.16h1m2 0h1m38 0h1m65 0h1M168 734.67h1m78 0h1m40 0h1m85 0h1M333 739.17h1m37 0h1M75 743.68h1m170 0h1m283 0h1M81 748.18h1m26 0h1m151 0h1m16 0h1m80 0h1m19 0h1m29 0h1M306 752.69h1m43 0h1m12 0h1M410 757.19h1m79 0h1m60 0h1M90 761.70h1m82 0h1m86 0h2m130 0h1M329 766.20h1m82 0h1m43 0h1m39 0h1m1 0h1m18 0h1"/>
<path stroke="#df745c" d="M70 360.75h1m2 0h1m114 0h1m16 0h1M75 365.26h1m7 0h1m5 0h1m138 0h1M135 369.76h1m39 0h1m46 0h1M219 374.27h1M82 378.77h1m20 0h1m31 0h1M350 383.28h1m7 0h1M154 387.78h1m251 0h1M71 392.29h1m24 0h1m18 0h1m73 0h1m11 0h1M146 396.79h1m37 0h1M136 401.30h1m46 0h1M121 405.80h1m28 0h1m31 0h1M107 410.31h1m50 0h1m20 0h1m40 0h1m150 0h1M95 414.81h1M198 419.32h1M110 423.82h1m71 0h1m30 0h1M107 428.33h1m333 0h1M461 432.83h1M232 437.34h1m176 0h1M109 441.84h1m49 0h1m70 0h1m88 0h1M72 446.35h1m15 0h1m63 0h1m39 0h1m15 0h1M261 450.85h1m2 0h1m220 0h1M179 455.36h1m81 0h1M95 459.86h1m49 0h1m14 0h1m21 0h1M117 464.37h1m104 0h1m289 0h1m17 0h1M227 468.87h1m41 0h1m14 0h1m42 0h1M112 477.88h1m12 0h1m55 0h1m46 0h1m10 0h1m166 0h1M102 486.89h1m27 0h1m23 0h1M182 491.40h1m206 0h1M77 495.90h1m75 0h1m50 0h1M188 500.41h1M86 504.91h1m85 0h1m295 0h1M139 509.42h1M145 518.43h1m49 0h1m17 0h1M99 522.93h1m72 0h1m48 0h1M241 527.44h1m38 0h1m64 0h1M264 531.94h1M313 536.45h1M265 540.95h1M390 545.46h1m2 0h1m158 0h1M241 554.47h1m60 0h1M329 558.97h1M259 563.48h1m24 0h1m22 0h1m86 0h1m39 0h1M243 567.98h1m17 0h2m66 0h1m54 0h1M322 581.50h1m22 0h1M249 586.00h1M352 590.51h1m53 0h1M232 595.01h1m21 0h1M283 599.52h1m103 0h1M361 604.02h1m32 0h1M295 608.53h1m6 0h1m28 0h1m61 0h1m43 0h1M256 617.54h1m86 0h1M414 622.04h1m71 0h1M557 626.55h1M349 631.05h1m1 0h1M115 635.56h1m219 0h1M318 640.06h1m44 0h1m20 0h1m69 0h1m40 0h1M108 644.57h1m186 0h1m64 0h1m32 0h1M277 649.07h1M191 653.58h1m62 0h1m10 0h1m125 0h1M309 658.08h1m5 0h1M384 662.59h1m10 0h1m66 0h1M233 667.09h1m100 0h1m15 0h1m114 0h1m23 0h1m24 0h1M89 671.60h1m414 0h1M297 676.10h1m24 0h1M414 685.11h1m45 0h1m31 0h1m13 0h1M414 689.62h1M177 694.12h1m102 0h1m229 0h1m11 0h1m11 0h1M452 698.63h1m88 0h1M508 703.13h1M527 707.64h1M172 712.14h1m42 0h1m216 0h1M286 716.65h1m184 0h1m79 0h1M212 721.15h1m126 0h1m155 0h1M549 725.66h1M264 730.16h1m223 0h1m2 0h1M221 734.67h1m23 0h1m186 0h1m92 0h1M125 743.68h1m230 0h1M334 748.18h1M284 752.69h1m113 0h1m41 0h1m38 0h1M481 761.70h1"/>
<path stroke="#d1aea4" d="M71 360.75h1m29 0h1m265 0h1M278 365.26h1m40 0h1M254 374.27h1m108 0h1m41 0h1m149 0h1M138 383.28h1m63 0h1m30 0h1m10 0h1m10 0h1m44 0h1m74 0h1M147 387.78h1m23 0h1m338 0h2M231 392.29h1M234 396.79h1m109 0h1m79 0h1M223 405.80h1m30 0h1M225 410.31h1M99 414.81h1m46 0h2m37 0h1m36 0h1m9 0h1m245 0h1m63 0h1m15 0h1M89 428.33h1m389 0h1M117 432.83h1m45 0h1m19 0h1m167 0h1M222 437.34h1m36 0h1m32 0h1m214 0h1M309 441.84h1m57 0h1m104 0h1M83 446.35h1m293 0h1M124 450.85h1m138 0h1m72 0h1m51 0h1m81 0h1M316 459.86h1m16 0h1m190 0h1M363 464.37h1M183 468.87h1M127 473.38h1m7 0h1m20 0h1m165 0h1m45 0h2m159 0h1M240 482.39h1m106 0h1m90 0h1m34 0h1M186 486.89h1M100 491.40h1m1 0h1m166 0h1m11 0h1M109 500.41h1m34 0h1M149 504.91h1m118 0h1m44 0h1m96 0h1m38 0h1M163 509.42h1m61 0h1m281 0h1M77 513.92h1m27 0h1m39 0h1m92 0h1M173 518.43h1m225 0h1M256 522.93h1m242 0h1M274 527.44h1m195 0h1m42 0h1m14 0h1M201 531.94h1m161 0h1m69 0h1m46 0h1m23 0h1M266 536.45h1m32 0h1m30 0h1m65 0h1m38 0h1m83 0h1M328 545.46h2m132 0h2M539 554.47h1M546 558.97h2M164 563.48h1m138 0h1m7 0h1m222 0h1M334 567.98h2m113 0h1M216 576.99h1m38 0h1m56 0h1m132 0h1M238 586.00h1m144 0h1m41 0h1M497 590.51h1m20 0h1M437 595.01h1M293 599.52h1m4 0h1m147 0h1M360 613.03h1m125 0h1M240 617.54h1m94 0h1m2 0h1m13 0h1m24 0h2m2 0h1m102 0h1m16 0h1M109 626.55h2m98 0h1M90 631.05h1m61 0h1m153 0h1m25 0h1m86 0h1M73 635.56h1m197 0h1m4 0h1m65 0h1M248 640.06h1m8 0h1M118 644.57h1m90 0h1m59 0h1m124 0h1M313 649.07h1m181 0h2M381 653.58h1m28 0h1m17 0h1M258 658.08h1m9 0h1m1 0h1m110 0h1m8 0h1M147 662.59h1m168 0h1m99 0h1m66 0h1M279 667.09h2m43 0h1m91 0h1M240 671.60h1m43 0h1m47 0h1m95 0h1M131 676.10h1m9 0h1m61 0h1m240 0h1m50 0h1M113 680.61h1m202 0h1m120 0h1M91 685.11h1m24 0h1m4 0h1m38 0h1m4 0h1m27 0h1M86 689.62h1m360 0h1M216 694.12h1m1 0h2m194 0h1m45 0h1m74 0h1M416 698.63h1m13 0h1m20 0h1m39 0h1m62 0h1M429 703.13h1M117 712.14h1m87 0h1m43 0h1m156 0h1m133 0h1M306 716.65h1m70 0h1m9 0h1m78 0h1M392 725.66h1M501 748.18h1M310 752.69h1M79 757.19h1m134 0h2m144 0h1M251 766.20h1"/>
<path stroke="#d3968c" d="M74 360.75h1M126 365.26h1m83 0h1m172 0h1M189 383.28h1M98 387.78h1m13 0h1m136 0h1m69 0h1m4 0h1M89 392.29h1m122 0h1m214 0h1M81 396.79h1m53 0h2m417 0h1M151 401.30h1M271 405.80h1m14 0h1m61 0h1m15 0h1m12 0h1M131 410.31h1m17 0h1m140 0h1m14 0h1m136 0h1m6 0h1m75 0h1M119 414.81h1m4 0h1m3 0h1m63 0h1m99 0h1m14 0h1M90 419.32h1M175 428.33h1m7 0h1m15 0h1m24 0h1M73 432.83h1m21 0h1M501 437.34h1M70 441.84h1m8 0h1M133 446.35h1m274 0h1M183 450.85h1m202 0h1m147 0h1M457 455.36h1M493 464.37h1m14 0h1M354 468.87h1m13 0h1M159 473.38h1m157 0h1M167 477.88h1m50 0h1m19 0h1M107 482.39h1m4 0h1m7 0h1m33 0h1m63 0h1m147 0h1m182 0h1M317 486.89h1m10 0h1m183 0h1M201 491.40h1m158 0h1m12 0h1m113 0h1M113 500.41h1m31 0h1m113 0h1m102 0h1M105 504.91h1m367 0h1m4 0h1m33 0h1m12 0h1m1 0h1M208 509.42h1m131 0h1m161 0h1m22 0h1M223 513.92h1M188 518.43h1m11 0h1m65 0h1m142 0h1M232 522.93h1M273 527.44h1m162 0h1m62 0h1m53 0h1M244 531.94h1m20 0h1m108 0h1m15 0h1m164 0h1M315 536.45h1m28 0h1m202 0h1M270 540.95h1m100 0h1M335 545.46h1M271 549.96h1M334 554.47h1m143 0h1m5 0h1M288 558.97h1m57 0h1M257 563.48h1m56 0h1m29 0h1m132 0h1m27 0h1M238 567.98h1m136 0h1M139 576.99h1m121 0h1m94 0h1M232 581.50h1M203 586.00h1m75 0h1m191 0h1M327 590.51h1m202 0h1M522 595.01h1M481 599.52h1M237 608.53h1m25 0h1M218 613.03h1m22 0h1m66 0h1m78 0h1m3 0h1M233 617.54h1m89 0h1M295 622.04h1m18 0h1m202 0h1M353 626.55h1m23 0h1M297 631.05h1m20 0h1m55 0h1m108 0h1M108 635.56h1m104 0h1m34 0h1m8 0h1m72 0h1m138 0h1M98 640.06h1m185 0h1m98 0h1m37 0h1m81 0h1M267 644.57h1m2 0h1m51 0h1m40 0h1m55 0h1M285 649.07h1m50 0h1m133 0h1m72 0h1m11 0h1M138 653.58h1m240 0h1M346 658.08h1m20 0h1M263 662.59h1m2 0h1M125 667.09h1m132 0h1m72 0h1m22 0h1m37 0h1m81 0h1m1 0h1m22 0h1m2 0h1M351 671.60h1m24 0h1M382 676.10h1m101 0h1M96 680.61h1m22 0h1m141 0h1m23 0h1m158 0h1m85 0h1M109 685.11h1m43 0h1m34 0h1m282 0h1m38 0h1m27 0h1M167 689.62h1m45 0h1m46 0h1m45 0h1m128 0h1m106 0h1M154 694.12h1m180 0h1m90 0h1m88 0h1M353 698.63h1m52 0h1m43 0h1M350 703.13h1m73 0h1M545 707.64h1M191 712.14h1m191 0h1m1 0h1M395 716.65h1m14 0h1M463 721.15h1M207 725.66h1m214 0h1m56 0h1M125 730.16h1M156 734.67h1m68 0h1m329 0h1M434 739.17h1M522 743.68h1m18 0h1M255 748.18h1m125 0h1m33 0h1M396 752.69h1m94 0h1M85 757.19h1m44 0h1m30 0h1m29 0h1m211 0h1M116 761.70h1m391 0h1M153 766.20h1m375 0h1"/>
<path stroke="#c8e7f1" d="M75 360.75h1m3 0h1m12 0h2m34 0h1m97 0h1m4 0h3m1 0h3m3 0h2m1 0h8m1 0h4m1 0h10m2 0h7m1 0h17m2 0h6m2 0h2m1 0h3m1 0h28m1 0h5m2 0h4m1 0h14m2 0h9m1 0h6m2 0h18m1 0h14m1 0h2m1 0h2m2 0h17m1 0h5m1 0h3m1 0h7m1 0h1m2 0h23m1 0h8m1 0h7m1 0h7m2 0h37m2 0h3M84 365.26h1m26 0h1m30 0h2m31 0h1m24 0h1m4 0h1m9 0h1m17 0h6m2 0h7m1 0h5m2 0h1m2 0h1m4 0h1m1 0h3m2 0h2m2 0h3m1 0h6m3 0h1m2 0h11m1 0h4m1 0h2m2 0h7m2 0h2m1 0h6m1 0h5m2 0h7m4 0h2m3 0h5m2 0h3m1 0h1m1 0h5m2 0h3m2 0h4m2 0h2m1 0h2m2 0h13m2 0h62m2 0h10m2 0h4m1 0h28m2 0h41M70 369.76h1m76 0h1m2 0h1m35 0h1m4 0h1m7 0h1m12 0h1m20 0h5m1 0h1m2 0h1m1 0h1m3 0h3m2 0h1m8 0h4m2 0h4m4 0h6m1 0h3m2 0h12m1 0h5m1 0h5m4 0h7m1 0h5m4 0h18m1 0h9m2 0h2m2 0h2m2 0h3m1 0h1m2 0h2m1 0h3m1 0h5m1 0h7m1 0h6m2 0h19m4 0h11m1 0h19m1 0h2m2 0h5m1 0h6m2 0h31m1 0h7m1 0h28m2 0h2m1 0h6M266 392.29h1M84 396.79h1m21 0h2m4 0h1m37 0h1m2 0h1m2 0h2m14 0h1m17 0h1m5 0h1m10 0h1m18 0h1m8 0h7m1 0h9m1 0h1m2 0h3m2 0h9m2 0h14m1 0h13m2 0h3m1 0h3m3 0h1m1 0h28m3 0h4m1 0h3m2 0h21m1 0h12m1 0h16m2 0h3m2 0h2m1 0h1m3 0h1m1 0h2m3 0h1m3 0h1m1 0h2m1 0h9m1 0h2m2 0h4m6 0h2m2 0h1m1 0h2m2 0h2m2 0h2m1 0h1m1 0h8m3 0h3m4 0h6m1 0h4m2 0h1m1 0h7m1 0h17m1 0h4m2 0h6m2 0h2m1 0h4M111 414.81h1m107 0h1m11 0h1m2 0h6m1 0h1m1 0h7m2 0h2m1 0h5m1 0h1m2 0h1m2 0h3m5 0h4m8 0h1m1 0h1m4 0h1m1 0h10m2 0h7m3 0h4m5 0h8m2 0h1m1 0h2m3 0h1m1 0h5m1 0h3m1 0h3m3 0h9m1 0h2m1 0h1m2 0h12m3 0h2m2 0h8m2 0h1m2 0h4m2 0h3m4 0h4m2 0h1m1 0h1m1 0h12m2 0h1m4 0h1m2 0h5m2 0h1m4 0h1m1 0h6m1 0h1m4 0h2m1 0h5m2 0h4m1 0h4m2 0h2m2 0h5m1 0h1m2 0h1m2 0h4m2 0h1m1 0h5m1 0h6m1 0h2m2 0h6m2 0h2m3 0h2M500 428.33h1M72 432.83h1m39 0h1m27 0h1m19 0h1m4 0h1m9 0h1m19 0h1m19 0h1m7 0h1m8 0h2m1 0h12m2 0h7m3 0h1m1 0h3m3 0h4m2 0h35m2 0h2m2 0h2m1 0h8m2 0h4m1 0h1m1 0h5m2 0h2m2 0h6m2 0h1m1 0h3m2 0h4m3 0h5m1 0h1m1 0h2m1 0h1m1 0h6m2 0h12m2 0h3m2 0h5m2 0h3m6 0h2m1 0h2m3 0h4m2 0h1m3 0h1m1 0h3m3 0h3m2 0h5m3 0h4m2 0h4m1 0h2m1 0h2m3 0h13m3 0h5m4 0h3m4 0h5m4 0h1m2 0h1m1 0h4m2 0h2m2 0h3m3 0h4m1 0h1m2 0h3m2 0h3M94 437.34h1m24 0h1m86 0h1m18 0h1m14 0h1m1 0h1m3 0h8m6 0h8m4 0h2m1 0h2m1 0h1m1 0h2m2 0h1m5 0h2m1 0h2m2 0h1m5 0h4m4 0h6m1 0h10m2 0h7m5 0h1m2 0h8m1 0h3m1 0h5m1 0h4m3 0h4m1 0h1m1 0h2m2 0h1m1 0h1m2 0h6m3 0h1m2 0h2m2 0h2m2 0h2m1 0h2m2 0h8m2 0h3m2 0h4m1 0h1m4 0h4m2 0h12m3 0h21m1 0h3m8 0h1m1 0h1m1 0h3m2 0h1m2 0h1m2 0h3m4 0h7m2 0h5m2 0h6m1 0h7m1 0h1m2 0h1m2 0h4m2 0h1M83 441.84h1m20 0h1m7 0h1m1 0h1m50 0h2m18 0h1m10 0h1m36 0h4m4 0h2m6 0h1m5 0h2m2 0h6m12 0h2m8 0h1m4 0h3m2 0h1m2 0h1m2 0h1m2 0h2m7 0h3m2 0h9m2 0h1m3 0h1m5 0h1m6 0h1m1 0h3m2 0h3m2 0h3m5 0h2m2 0h1m1 0h2m3 0h1m6 0h5m7 0h8m1 0h3m1 0h3m2 0h6m2 0h6m2 0h4m1 0h6m2 0h9m1 0h3m1 0h1m1 0h11m3 0h4m1 0h4m2 0h13m1 0h6m2 0h10m1 0h2m2 0h1m2 0h5m1 0h3m1 0h17m1 0h4M103 446.35h1m38 0h1m33 0h1m11 0h1m37 0h1m5 0h2m2 0h1m1 0h2m11 0h1m1 0h1m3 0h3m2 0h1m2 0h1m3 0h2m5 0h1m1 0h3m3 0h2m2 0h1m3 0h2m5 0h1m2 0h1m2 0h2m4 0h1m2 0h1m8 0h1m8 0h4m1 0h1m1 0h4m2 0h1m4 0h2m6 0h4m4 0h2m2 0h1m4 0h2m1 0h2m3 0h1m5 0h2m4 0h8m6 0h3m2 0h1m2 0h5m1 0h3m1 0h3m1 0h4m2 0h4m1 0h4m3 0h16m1 0h8m1 0h6m1 0h6m1 0h2m2 0h9m1 0h1m1 0h9m2 0h2m1 0h8m2 0h7m2 0h9m1 0h2m1 0h8M72 450.85h1m2 0h1m3 0h1m2 0h3m7 0h1m3 0h1m7 0h2m8 0h1m27 0h1m3 0h1m5 0h1m2 0h1m1 0h2m7 0h1m2 0h1m3 0h2m5 0h1m17 0h2m6 0h1m10 0h3m15 0h2m2 0h1m3 0h1m2 0h1m3 0h1m1 0h2m3 0h1m1 0h2m6 0h1m3 0h1m4 0h1m6 0h2m3 0h9m1 0h4m1 0h1m2 0h1m1 0h5m2 0h6m2 0h1m4 0h2m7 0h1m1 0h7m2 0h4m2 0h1m2 0h1m2 0h2m2 0h14m3 0h4m5 0h1m1 0h3m1 0h2m1 0h6m1 0h4m1 0h3m1 0h4m2 0h2m1 0h1m3 0h4m3 0h1m1 0h4m2 0h8m3 0h2m2 0h4m1 0h6m2 0h5m2 0h6m4 0h6m3 0h5m1 0h2m3 0h4m2 0h3m1 0h2m1 0h5m2 0h6m2 0h5m1 0h10m1 0h1m1 0h1M343 459.86h1m14 0h1M123 464.37h1m8 0h3m3 0h1m33 0h1m15 0h1m27 0h1m28 0h2m3 0h1m2 0h1m2 0h1m5 0h2m4 0h1m4 0h2m6 0h2m1 0h1m3 0h1m20 0h2m2 0h1m7 0h2m1 0h1m1 0h1m2 0h3m5 0h3m9 0h1m11 0h1m8 0h1m4 0h1m2 0h1m8 0h1m4 0h1m2 0h7m3 0h1m1 0h2m1 0h5m7 0h1m4 0h9m3 0h15m1 0h1m1 0h4m2 0h2m2 0h6m1 0h2m4 0h3m1 0h1m1 0h1m2 0h2m1 0h1m3 0h3m1 0h7m2 0h3m1 0h1m1 0h7m1 0h2m2 0h1m3 0h1m1 0h2m3 0h2m2 0h1m1 0h5m2 0h1m1 0h2m2 0h1M138 473.38h2m67 0h2m1 0h1m20 0h1m2 0h1m4 0h1m4 0h2m3 0h2m1 0h3m8 0h1m1 0h1m3 0h1m4 0h1m1 0h1m4 0h4m1 0h2m1 0h1m4 0h3m2 0h2m6 0h2m2 0h1m2 0h1m5 0h1m5 0h1m2 0h1m2 0h1m8 0h3m1 0h2m8 0h2m8 0h1m1 0h1m2 0h2m7 0h1m1 0h3m2 0h1m4 0h2m1 0h3m1 0h1m2 0h2m2 0h2m2 0h2m2 0h2m2 0h2m2 0h1m1 0h4m4 0h6m2 0h1m1 0h1m4 0h3m2 0h2m3 0h2m2 0h1m1 0h4m1 0h5m1 0h4m2 0h2m12 0h1m3 0h5m2 0h2m1 0h2m3 0h3m2 0h1m4 0h3m2 0h2m1 0h1m6 0h3m1 0h1m10 0h1m3 0h3M68 482.39h1m1 0h1m2 0h1m10 0h3m9 0h1m3 0h1m47 0h1m10 0h1m24 0h1m3 0h2m23 0h1m1 0h1m19 0h1m8 0h1m8 0h3m3 0h4m4 0h3m5 0h1m5 0h1m3 0h2m3 0h1m1 0h2m1 0h1m5 0h3m1 0h8m5 0h6m1 0h5m2 0h2m1 0h1m5 0h1m2 0h1m3 0h2m9 0h2m2 0h1m3 0h1m6 0h2m3 0h1m3 0h2m3 0h1m10 0h2m5 0h1m9 0h3m2 0h1m1 0h5m3 0h3m5 0h3m2 0h1m4 0h2m2 0h3m1 0h1m1 0h3m1 0h1m4 0h5m1 0h1m1 0h2m3 0h4m1 0h1m1 0h1m1 0h1m1 0h4m2 0h1m2 0h1m1 0h1m4 0h1m1 0h4m1 0h2m4 0h4m3 0h1m1 0h1m5 0h1m2 0h4m2 0h1m1 0h2m2 0h1m3 0h1m1 0h1M76 486.89h1m5 0h1m6 0h1m20 0h1m23 0h3m10 0h1m7 0h1m8 0h1m26 0h2m17 0h1m6 0h1m9 0h3m3 0h7m2 0h4m1 0h3m2 0h4m1 0h3m5 0h1m2 0h1m5 0h3m1 0h3m1 0h3m3 0h5m5 0h2m1 0h1m1 0h2m5 0h1m1 0h2m4 0h1m2 0h3m2 0h2m3 0h1m1 0h6m1 0h3m3 0h1m2 0h4m2 0h1m2 0h4m2 0h5m3 0h1m2 0h1m1 0h2m2 0h2m2 0h6m3 0h1m1 0h1m2 0h18m2 0h2m5 0h1m3 0h2m2 0h2m1 0h7m2 0h1m1 0h1m3 0h5m3 0h5m2 0h1m1 0h5m1 0h3m4 0h1m2 0h1m3 0h3m1 0h3m1 0h5m2 0h1m4 0h1m3 0h1m2 0h1m4 0h2m1 0h1m1 0h1m1 0h1m2 0h5m2 0h2m1 0h1m2 0h2m2 0h2m6 0h3M80 491.40h2m8 0h3m21 0h1m18 0h1m3 0h1m4 0h1m7 0h1m9 0h1m12 0h1m2 0h1m6 0h1m16 0h1m27 0h2m4 0h2m1 0h1m22 0h1m5 0h1m7 0h1m5 0h1m1 0h2m7 0h1m2 0h3m9 0h1m7 0h1m1 0h1m2 0h1m4 0h2m3 0h2m6 0h1m2 0h2m2 0h2m3 0h1m14 0h3m13 0h1m6 0h1m3 0h2m5 0h2m1 0h7m2 0h16m1 0h11m2 0h9m2 0h9m1 0h2m1 0h3m2 0h4m1 0h13m2 0h1m1 0h32m1 0h3m1 0h3m1 0h3m1 0h2m1 0h1m1 0h2m2 0h1m1 0h8m1 0h3M75 500.41h1m12 0h1m6 0h1m7 0h2m1 0h1m8 0h1m15 0h1m23 0h1m10 0h2m4 0h2m1 0h1m10 0h2m1 0h1m7 0h2m1 0h2m3 0h1m2 0h1m17 0h1m3 0h1m6 0h2m3 0h1m1 0h1m7 0h1m2 0h2m7 0h1m2 0h2m4 0h1m5 0h3m2 0h1m5 0h2m9 0h2m3 0h1m1 0h1m1 0h1m1 0h1m1 0h2m11 0h1m1 0h1m3 0h1m1 0h1m5 0h1m6 0h2m6 0h1m3 0h2m3 0h2m11 0h1m3 0h1m2 0h3m5 0h9m2 0h16m1 0h13m1 0h5m1 0h2m2 0h4m1 0h30m1 0h16m2 0h5m2 0h16m1 0h12m1 0h4m1 0h1m1 0h3m2 0h1m2 0h8M68 531.94h2m1 0h6m1 0h9m2 0h15m2 0h11m1 0h43m1 0h38m2 0h9m2 0h18m3 0h1m6 0h1m25 0h1m1 0h1m26 0h1m10 0h1m24 0h1m36 0h1m12 0h1m13 0h2m1 0h7m2 0h2m3 0h3m2 0h3m1 0h2m2 0h6m7 0h1m1 0h2m1 0h2m2 0h1m3 0h1m2 0h2m2 0h3m2 0h4m1 0h3m4 0h4m3 0h1m1 0h3m3 0h2m3 0h2m1 0h2m5 0h5m3 0h2m1 0h3m2 0h4m2 0h1m5 0h3m1 0h5m3 0h1m2 0h6M69 536.45h13m1 0h2m1 0h1m3 0h99m2 0h10m1 0h4m2 0h23m1 0h3m5 0h2m2 0h1m5 0h1m2 0h2m7 0h1m4 0h1m1 0h1m1 0h1m5 0h1m23 0h1m10 0h1m3 0h1m20 0h1m7 0h2m25 0h1m5 0h1m1 0h1m14 0h1m3 0h2m6 0h4m1 0h1m4 0h2m1 0h4m2 0h3m4 0h2m4 0h1m3 0h4m1 0h1m4 0h2m2 0h4m2 0h2m2 0h2m5 0h1m1 0h3m3 0h2m2 0h1m2 0h4m2 0h1m4 0h1m3 0h2m1 0h1m1 0h1m1 0h1m2 0h3m5 0h1m7 0h2m2 0h1m2 0h4m1 0h5m3 0h3m2 0h2m1 0h1M68 545.46h25m2 0h50m1 0h55m2 0h17m1 0h5m1 0h2m1 0h1m4 0h1m38 0h1m17 0h1m6 0h1m3 0h1m3 0h1m8 0h1m3 0h2m18 0h1m10 0h1m3 0h1m11 0h1m23 0h1m6 0h14m1 0h2m2 0h1m4 0h1m1 0h6m2 0h1m2 0h1m2 0h4m1 0h1m2 0h9m2 0h5m2 0h3m2 0h1m1 0h16m1 0h5m2 0h3m4 0h4m2 0h1m1 0h4m1 0h1m1 0h6m2 0h5m2 0h9m1 0h7m1 0h1m2 0h1m1 0h2m1 0h1M68 563.48h3m1 0h6m2 0h27m1 0h3m2 0h4m1 0h17m3 0h8m2 0h16m1 0h17m2 0h28m1 0h4m1 0h13m9 0h1m11 0h1m25 0h1m6 0h1m4 0h1m1 0h1m2 0h1m20 0h1m2 0h1m3 0h1m30 0h1m2 0h1m27 0h1m13 0h1m3 0h19m1 0h1m4 0h2m1 0h1m3 0h4m2 0h6m3 0h1m1 0h6m2 0h1m1 0h1m1 0h6m1 0h1m2 0h3m1 0h7m2 0h2m2 0h1m4 0h3m2 0h1m4 0h2m3 0h2m1 0h2m1 0h4m1 0h1m4 0h2m1 0h1m5 0h5m1 0h6m3 0h4m1 0h3M68 599.52h2m10 0h2m2 0h1m1 0h3m1 0h2m3 0h1m2 0h2m2 0h6m1 0h4m3 0h1m1 0h4m4 0h2m1 0h2m3 0h3m3 0h3m6 0h9m3 0h1m2 0h1m2 0h3m4 0h5m1 0h1m2 0h5m1 0h1m1 0h5m4 0h3m5 0h4m2 0h1m3 0h1m1 0h2m4 0h1m1 0h3m22 0h1m9 0h1m2 0h2m11 0h1m4 0h1m3 0h1m3 0h1m12 0h1m14 0h1m3 0h4m7 0h1m3 0h1m4 0h1m18 0h3m23 0h1m5 0h2m2 0h2m2 0h3m1 0h1m1 0h3m2 0h1m2 0h4m1 0h12m5 0h1m2 0h4m1 0h3m2 0h1m1 0h1m1 0h3m2 0h1m3 0h3m2 0h10m2 0h1m2 0h2m3 0h8m1 0h1m2 0h10m1 0h3m3 0h4m1 0h8m1 0h5m1 0h6m1 0h7m1 0h2m2 0h1M68 617.54h3m2 0h1m1 0h18m2 0h5m1 0h3m1 0h13m1 0h36m3 0h1m1 0h1m1 0h27m2 0h20m1 0h8m1 0h10m14 0h1m6 0h1m8 0h1m5 0h1m16 0h1m3 0h1m5 0h1m17 0h3m27 0h1m20 0h1m7 0h1m23 0h1m1 0h8m1 0h2m3 0h2m1 0h4m2 0h1m7 0h1m1 0h5m2 0h7m5 0h1m2 0h3m1 0h2m2 0h5m1 0h3m1 0h3m1 0h1m3 0h3m2 0h1m4 0h1m2 0h2m6 0h2m2 0h3m2 0h2m1 0h3m1 0h1m1 0h3m1 0h4m2 0h1m5 0h5m1 0h12m1 0h6M68 626.55h6m4 0h2m1 0h2m2 0h4m1 0h4m1 0h10m6 0h2m1 0h4m6 0h5m1 0h1m1 0h6m1 0h3m3 0h9m1 0h3m1 0h13m2 0h2m6 0h1m1 0h2m2 0h3m2 0h1m4 0h3m1 0h1m3 0h3m1 0h5m1 0h5m3 0h3m1 0h1m41 0h1m15 0h1m11 0h1m1 0h2m21 0h1m36 0h2m1 0h1m2 0h3m6 0h1m2 0h2m2 0h2m3 0h1m1 0h1m5 0h5m1 0h4m2 0h3m1 0h1m3 0h6m2 0h4m1 0h8m1 0h4m5 0h5m3 0h1m1 0h4m2 0h3m2 0h3m2 0h3m3 0h5m2 0h2m2 0h2m1 0h3m3 0h2m1 0h2m3 0h5m1 0h1m1 0h5m1 0h3m2 0h5m4 0h1m1 0h2m1 0h2m2 0h4m1 0h1m2 0h5M486 662.59h1M161 680.61h1M68 694.12h1m1 0h3m1 0h4m2 0h10m3 0h2m1 0h2m1 0h11m1 0h3m2 0h1m2 0h1m1 0h8m3 0h2m2 0h1m2 0h2m2 0h4m3 0h1m1 0h2m1 0h7m3 0h1m1 0h5m2 0h2m5 0h10m2 0h1m2 0h2m1 0h1m1 0h7m1 0h4m1 0h2m1 0h1m4 0h3m2 0h4m2 0h1m6 0h2m2 0h3m5 0h1m5 0h3m1 0h4m2 0h2m3 0h1m3 0h3m1 0h1m2 0h3m3 0h1m7 0h1m2 0h3m3 0h3m8 0h2m2 0h4m3 0h1m2 0h2m2 0h1m1 0h1m2 0h1m2 0h1m3 0h3m1 0h1m1 0h4m1 0h1m4 0h3m1 0h3m1 0h1m3 0h1m2 0h3m2 0h1m3 0h3m3 0h1m4 0h2m26 0h1m9 0h2m1 0h1m5 0h2m8 0h1m5 0h1m6 0h1m1 0h1m13 0h1m11 0h3m17 0h1m2 0h2m10 0h1m9 0h2M68 716.65h12m2 0h20m1 0h16m2 0h8m2 0h28m2 0h9m1 0h2m2 0h6m1 0h10m3 0h36m6 0h2m2 0h2m6 0h4m2 0h1m7 0h1m2 0h1m4 0h1m2 0h2m1 0h4m8 0h2m1 0h1m2 0h1m3 0h5m4 0h1m1 0h1m2 0h1m12 0h3m2 0h2m1 0h2m6 0h1m1 0h1m2 0h7m1 0h3m8 0h2m6 0h3m1 0h2m2 0h1m1 0h3m2 0h1m1 0h2m8 0h1m5 0h1m3 0h1m12 0h1m5 0h2m8 0h1m13 0h2m3 0h1m10 0h1m2 0h3m3 0h1m2 0h1m1 0h2m14 0h1m30 0h1m11 0h1m4 0h1m1 0h1m7 0h1"/>
<path stroke="#d17d78" d="M76 360.75h1m82 0h1m15 0h1M121 365.26h1m8 0h1m66 0h1M223 369.76h1M75 378.77h1M112 383.28h1m39 0h1m71 0h1m126 0h1M72 387.78h1m16 0h1m75 0h1m51 0h1m24 0h1M111 392.29h1M495 396.79h1M295 405.80h1M154 410.31h2m58 0h1m61 0h1m160 0h1M164 414.81h1m43 0h1M121 419.32h1m4 0h1m15 0h1m11 0h1m73 0h1M537 423.82h1M75 428.33h1m79 0h1m13 0h1m18 0h1m273 0h1m73 0h1M127 432.83h1m18 0h1m402 0h1M90 437.34h1m70 0h1m52 0h1M285 441.84h1m174 0h1M78 446.35h1m8 0h1m29 0h1M70 450.85h1m92 0h1m28 0h1m35 0h1m43 0h1M106 455.36h1m100 0h1m8 0h1m109 0h1m138 0h1M130 459.86h1m19 0h1m85 0h1m110 0h1M147 464.37h1m177 0h1M219 468.87h1m72 0h1M111 473.38h1m97 0h1m19 0h1m295 0h1M288 477.88h1M93 482.39h1m75 0h1m17 0h1m258 0h1m40 0h1M93 486.89h1m31 0h1m80 0h1m273 0h1M184 491.40h1M82 495.90h1m31 0h1m238 0h1M96 504.91h1m18 0h1m369 0h1m4 0h1m41 0h1m22 0h1M122 509.42h1M108 513.92h1m157 0h1M502 518.43h1M266 522.93h1M284 527.44h1m3 0h1m74 0h1m121 0h1M266 531.94h1m214 0h1m30 0h1M189 536.45h1m83 0h1m118 0h1m164 0h1M242 545.46h1m199 0h1M276 549.96h1M349 554.47h1m109 0h1M261 558.97h1m8 0h1M267 563.48h1m8 0h1m17 0h1m96 0h1M479 567.98h1M194 572.49h1m41 0h1m27 0h1M271 581.50h1m30 0h1m37 0h1m94 0h1M237 586.00h1m89 0h1M91 590.51h1m241 0h1M204 595.01h1m6 0h1m181 0h1M259 599.52h1M346 604.02h1M319 608.53h1m3 0h1m1 0h1m54 0h1M448 617.54h1M451 622.04h1m63 0h1M74 626.55h1m98 0h1m146 0h1m67 0h1M298 631.05h1m38 0h1m23 0h1m145 0h1M211 635.56h1m278 0h1m54 0h1M319 640.06h1m159 0h1m68 0h1M81 644.57h1m63 0h1m126 0h1M83 649.07h1m181 0h1m13 0h1m14 0h1m23 0h1m44 0h1m97 0h1M85 653.58h1m129 0h1m137 0h1m4 0h1m35 0h1m88 0h1M276 658.08h1M81 671.60h1m223 0h1M188 676.10h1m42 0h1m75 0h1m6 0h1M315 680.61h1m27 0h1M140 685.11h1m2 0h1m279 0h1m84 0h1M228 689.62h1M455 694.12h1M429 698.63h1M421 703.13h2m109 0h1m6 0h1M264 712.14h1m70 0h1m122 0h1m93 0h1M364 716.65h1m44 0h1M350 725.66h1M77 730.16h1m165 0h1m90 0h1m77 0h1m133 0h1M183 734.67h1M276 739.17h1m137 0h1m111 0h1M211 743.68h1M357 748.18h1m41 0h1m51 0h1m25 0h1m9 0h1m54 0h1M253 752.69h1M557 757.19h1M262 761.70h1m26 0h1m147 0h1m41 0h1m66 0h1M129 766.20h1m135 0h1m10 0h1m101 0h1m29 0h1m41 0h1"/>
<path stroke="#c2949d" d="M77 360.75h1m191 0h1M336 365.26h2M82 369.76h1M498 374.27h1M70 383.28h1m22 0h1m9 0h1m186 0h1m113 0h1M107 387.78h1m365 0h1M437 392.29h1M286 396.79h1M335 405.80h1m23 0h1m28 0h1m23 0h1M75 410.31h1m13 0h1m361 0h1m21 0h1M135 414.81h1m296 0h1M158 428.33h1M178 432.83h1m324 0h1M177 437.34h1m219 0h1M175 441.84h1m15 0h1m32 0h1m185 0h1m113 0h1M85 446.35h1m441 0h2M154 450.85h1m54 0h1m325 0h1M76 455.36h1m147 0h1m5 0h1m187 0h1M68 459.86h1m146 0h1m62 0h1m84 0h1m164 0h1M126 464.37h1M352 468.87h1m134 0h1M166 473.38h1m352 0h1M467 482.39h1M230 486.89h1m1 0h1M98 491.40h1M154 500.41h1m58 0h1M183 504.91h1M78 509.42h1m138 0h1M245 513.92h1m166 0h1m4 0h1m139 0h1M276 518.43h1m38 0h1m109 0h1M269 522.93h1m57 0h1m57 0h1m152 0h1M256 527.44h1m28 0h1m30 0h1m81 0h1m112 0h1M354 531.94h1M82 536.45h1m256 0h1m22 0h1m125 0h1m23 0h1M337 545.46h1m47 0h1m50 0h2M165 549.96h1M348 554.47h1m65 0h1m112 0h1M249 558.97h1m2 0h1m61 0h1m67 0h2M447 563.48h1M301 567.98h2m204 0h1M245 576.99h1m81 0h1M312 586.00h1m197 0h2M257 590.51h1m44 0h1m41 0h1m14 0h1m44 0h1M151 595.01h1m60 0h1m13 0h1m25 0h1m176 0h1M245 599.52h1m58 0h1m110 0h1M145 613.03h1m393 0h1M159 617.54h1m93 0h1m44 0h1m106 0h1M425 622.04h1m112 0h1m2 0h1M259 626.55h1m80 0h1m39 0h1m107 0h1M361 635.56h1M273 640.06h1m122 0h1m63 0h1m12 0h1m7 0h1M250 644.57h1m140 0h1m50 0h1m84 0h2M350 658.08h1M287 667.09h1m38 0h1M303 671.60h1m136 0h1M114 676.10h1m295 0h1m54 0h1M339 680.61h1m108 0h1M81 685.11h1m35 0h1m23 0h1m39 0h1m40 0h1m182 0h1M164 689.62h1m26 0h2m200 0h1m79 0h1M502 694.12h1m34 0h1M83 698.63h1m160 0h1m120 0h1m72 0h1M405 703.13h1M468 712.14h1M513 716.65h1M83 725.66h1M284 730.16h1M98 734.67h1m214 0h1m81 0h1m109 0h1m42 0h1M340 739.17h1m124 0h1M87 743.68h1m228 0h1m20 0h1m142 0h1m43 0h1m17 0h1M474 748.18h1m44 0h1M229 752.69h1m145 0h1m45 0h1m66 0h1M366 757.19h1m64 0h1M189 761.70h1m54 0h1m64 0h1m55 0h1m69 0h1m12 0h1M250 766.20h1m8 0h2m64 0h1m35 0h1m143 0h1m44 0h1"/>
<path stroke="#bf5867" d="M78 360.75h1m47 0h1m21 0h1m42 0h1M112 365.26h1m53 0h1M113 369.76h1m24 0h1M209 374.27h1M146 378.77h1m1 0h1m61 0h1M150 383.28h1m27 0h1m147 0h1M110 387.78h1m7 0h1m70 0h2m15 0h1M124 396.79h1M216 401.30h1M89 405.80h1m159 0h1M90 410.31h1m146 0h1M73 414.81h1m55 0h1m3 0h1m46 0h1m210 0h1M81 419.32h1m88 0h1m11 0h1m24 0h1M89 423.82h1m30 0h1m15 0h1M91 432.83h1m38 0h1m13 0h1m46 0h1m32 0h1m3 0h1M208 437.34h1m26 0h1M84 441.84h1m34 0h1m53 0h1m27 0h1m14 0h1M118 446.35h1m51 0h1m79 0h1M212 450.85h1m112 0h1m131 0h1m96 0h1M107 455.36h1m54 0h1m212 0h1M73 464.37h1m13 0h1m82 0h1M105 468.87h1m177 0h1m55 0h1m33 0h1m20 0h1M163 473.38h1m63 0h1M154 477.88h1m61 0h1M83 482.39h1M74 486.89h1m114 0h1m36 0h1M129 495.90h1m37 0h1m50 0h2M156 500.41h1m5 0h1m36 0h1M185 504.91h1m28 0h1m246 0h1M474 509.42h1M320 518.43h1M353 527.44h1m86 0h1M239 531.94h2m102 0h1m200 0h1M334 536.45h1M69 540.95h1m139 0h1m48 0h1m64 0h1m6 0h1M317 545.46h1m6 0h1m41 0h1M272 549.96h1m86 0h1M336 554.47h1m195 0h1M299 563.48h1M237 567.98h1m26 0h1m2 0h1m6 0h1M231 572.49h1m120 0h1M272 576.99h1m3 0h1m22 0h1M357 581.50h1m124 0h1M386 586.00h1M322 590.51h1m16 0h1m21 0h1M246 595.01h1m55 0h1M282 599.52h1m3 0h2m20 0h1M357 604.02h1m7 0h1M250 608.53h1m66 0h1m68 0h1m48 0h1M247 613.03h1m134 0h1M527 622.04h1M329 626.55h1M278 631.05h1m12 0h1m8 0h1m39 0h1M290 635.56h1M286 640.06h1m7 0h1m47 0h1m2 0h1m10 0h1M135 644.57h1M307 649.07h1m29 0h1M74 653.58h1m56 0h1m54 0h1m49 0h1M240 662.59h1m89 0h1m6 0h1m20 0h1m6 0h1M234 667.09h1m112 0h1m21 0h1M269 671.60h1m83 0h1M302 676.10h1m28 0h1m5 0h1M246 680.61h1m61 0h1m8 0h1m9 0h1m35 0h1m14 0h1m2 0h1M71 685.11h1m107 0h1m230 0h1M401 689.62h1m3 0h2m8 0h1m12 0h1m39 0h1M397 694.12h1m5 0h1m31 0h1M279 698.63h1m221 0h1M441 703.13h1m38 0h1M516 707.64h1M275 712.14h1m164 0h1m5 0h1m22 0h1m19 0h1m63 0h1M438 721.15h1m59 0h1m22 0h1M268 730.16h1m99 0h1m147 0h1m1 0h1M195 734.67h1m260 0h1m14 0h1M431 739.17h1m62 0h1m6 0h1M436 743.68h1m41 0h1m56 0h1M190 748.18h1m84 0h1m159 0h1m39 0h1m17 0h1M450 752.69h1M243 757.19h1m178 0h1m45 0h1M361 761.70h1m37 0h1m36 0h1m58 0h1m26 0h1m26 0h1M381 766.20h1m19 0h1m116 0h1m3 0h1m24 0h1"/>
<path stroke="#dec7ab" d="M80 360.75h1m324 0h1M98 365.26h1M131 383.28h1m165 0h1m92 0h1M314 387.78h1m31 0h1M318 392.29h1m200 0h1M98 396.79h1m133 0h1M277 405.80h1m206 0h1M216 410.31h1m68 0h1m53 0h1m19 0h1M227 414.81h1m297 0h1M130 428.33h1M338 437.34h1M122 441.84h1M322 446.35h1M251 450.85h1m126 0h1M251 459.86h1m97 0h1M114 464.37h1m88 0h1m81 0h1m87 0h1m41 0h1M247 468.87h1m222 0h1M76 473.38h1m23 0h1m112 0h1m122 0h1m15 0h1m13 0h1M167 482.39h1m65 0h1m31 0h1m89 0h1m15 0h1m14 0h1M188 486.89h1m269 0h1m33 0h1M83 491.40h1m40 0h1m150 0h1m14 0h1m31 0h1M243 500.41h1m78 0h1M297 504.91h1m65 0h1m45 0h1m45 0h1m50 0h1m1 0h1M196 509.42h1m14 0h1m196 0h1m96 0h1M138 513.92h1m27 0h1m59 0h1m22 0h1m68 0h1m133 0h1m19 0h1M375 518.43h1m10 0h1m5 0h1m136 0h1M357 522.93h1m199 0h1M371 536.45h1m79 0h1m56 0h1m39 0h1M248 545.46h1M498 554.47h1M221 558.97h1m35 0h1m209 0h1m83 0h1M374 563.48h1M338 567.98h1m210 0h1M146 576.99h1M95 590.51h1m118 0h1m288 0h1M227 599.52h1M173 613.03h1M291 617.54h1m99 0h1M259 622.04h1m157 0h1m9 0h1m11 0h1M466 626.55h1m10 0h1M359 631.05h1m61 0h1m48 0h1m32 0h1M329 635.56h1m22 0h1m85 0h1M119 640.06h1m317 0h1M107 644.57h1m55 0h1m254 0h1M427 653.58h1M333 658.08h1m89 0h1m18 0h1M170 662.59h1M88 667.09h1m2 0h1m10 0h1m100 0h1M106 671.60h1m16 0h1m14 0h1m2 0h1m27 0h1m201 0h1m99 0h1M86 676.10h1m7 0h1m339 0h1M81 680.61h1m69 0h1m279 0h1M111 685.11h2m26 0h1m286 0h1m14 0h1M533 694.12h1M121 698.63h1m16 0h1m106 0h1m61 0h1M314 703.13h1m208 0h1M504 712.14h1M288 725.66h1m70 0h1M382 757.19h1m134 0h1"/>
<path stroke="#d6dcc6" d="M81 360.75h2m344 0h1M258 365.26h1m26 0h1m73 0h1M81 369.76h1m190 0h1m13 0h1m27 0h1M246 374.27h2m9 0h1m84 0h1m2 0h1m8 0h1m153 0h1m6 0h1M243 383.28h1m76 0h1M341 387.78h1m41 0h1m153 0h1M324 392.29h1m83 0h1m2 0h1m33 0h1m111 0h1M117 396.79h1m327 0h1M209 410.31h1m30 0h1m94 0h1M125 414.81h1m338 0h1M108 428.33h1m58 0h1m122 0h1m52 0h1m27 0h1m84 0h1m3 0h1m69 0h1M213 432.83h1m205 0h1M491 437.34h1M214 441.84h1m292 0h1M248 446.35h1m5 0h1M165 450.85h1m27 0h1m247 0h2M354 459.86h1m140 0h1M173 464.37h1m208 0h1m20 0h1M235 468.87h1m197 0h1M268 473.38h1m71 0h1m10 0h1m9 0h1m99 0h1m25 0h1m30 0h1m1 0h1M242 482.39h1m88 0h1m69 0h2m27 0h1M120 486.89h1m135 0h1m13 0h1m86 0h1m34 0h1M169 491.40h1m81 0h1m61 0h1M342 500.41h1m97 0h1M288 504.91h1m14 0h1m16 0h1m16 0h2m13 0h1M264 509.42h1m80 0h1m24 0h1m27 0h1m43 0h1m37 0h1m3 0h1m19 0h1m22 0h1M248 513.92h1m93 0h1m4 0h1m14 0h1m29 0h1m101 0h1m59 0h1M236 518.43h1m275 0h1M296 522.93h1m75 0h1m82 0h1m6 0h1M495 527.44h1M436 531.94h1m100 0h1M506 536.45h1M287 545.46h1M216 558.97h1m296 0h1M285 567.98h1M69 576.99h1m113 0h1m176 0h1m17 0h1m40 0h1M148 590.51h1m294 0h1m27 0h1M125 595.01h1m66 0h1M216 599.52h1m32 0h1M169 613.03h1m198 0h1m136 0h1m4 0h1M458 617.54h2M172 626.55h1m42 0h1M94 635.56h1m108 0h1m217 0h1M516 640.06h1M72 644.57h1m6 0h1m174 0h1m94 0h1m15 0h1m63 0h1M104 653.58h1M129 658.08h1m387 0h1M118 662.59h1m4 0h1m4 0h1m21 0h1m78 0h1m263 0h1m27 0h1M142 667.09h1m40 0h1m106 0h1m22 0h1m132 0h1m109 0h1M87 671.60h1m55 0h1m5 0h1M184 676.10h1m182 0h1m48 0h1M87 680.61h1m27 0h1m85 0h1m233 0h1m77 0h1M148 685.11h1m178 0h1M320 689.62h1M180 694.12h1m56 0h1m36 0h1m37 0h1m116 0h1m99 0h1M70 698.63h1m113 0h1m101 0h1m43 0h1M371 703.13h1M111 712.14h1m49 0h1m122 0h1m28 0h1M102 716.65h1m173 0h1m28 0h1m182 0h1m3 0h1m12 0h1M291 725.66h1M144 757.19h2m39 0h1m131 0h1m72 0h1"/>
<path stroke="#f89f60" d="M83 360.75h1M150 365.26h1m41 0h1M90 369.76h1m89 0h1M105 378.77h1m7 0h1m111 0h1M75 383.28h1m96 0h1m28 0h1m150 0h1m10 0h1M70 387.78h1m56 0h1m6 0h1m28 0h1m12 0h1M97 392.29h1m67 0h1m15 0h1M120 396.79h1M84 405.80h1m3 0h1m72 0h1m18 0h1m23 0h1m2 0h1m22 0h1m57 0h2M86 410.31h1m50 0h1m64 0h1m108 0h1m32 0h1m207 0h1m4 0h1M152 414.81h1M176 423.82h1M519 428.33h1M511 432.83h1m11 0h1M93 446.35h1m121 0h1M302 455.36h1M90 459.86h2m34 0h1m64 0h1m188 0h1M92 464.37h1m88 0h1M120 468.87h1m17 0h1m17 0h1m51 0h1m24 0h1m17 0h1m3 0h1m53 0h1m53 0h1M90 473.38h1m127 0h1m200 0h1M99 477.88h1m52 0h1M250 495.90h1m142 0h1M111 500.41h1M93 504.91h1m71 0h1m40 0h2m18 0h1m194 0h1M95 509.42h2m51 0h1m20 0h1m3 0h1M74 513.92h1m210 0h1M82 518.43h1m6 0h1m49 0h1m8 0h1m2 0h1m39 0h1m77 0h1M135 522.93h1m8 0h1m3 0h2m11 0h1m54 0h1m113 0h1M305 527.44h1M330 531.94h1m201 0h1M249 545.46h1m16 0h1M257 554.47h1m11 0h1M129 558.97h1m10 0h1m28 0h1m50 0h1m15 0h1m72 0h1M396 563.48h1M381 567.98h1m110 0h1M338 572.49h1m11 0h1m7 0h1M548 586.00h1M145 590.51h1m138 0h1m1 0h1m3 0h1m5 0h1m37 0h1m52 0h1M81 595.01h1m195 0h1m41 0h2m6 0h1m47 0h1M329 599.52h1M267 604.02h1M235 608.53h1M244 622.04h1m54 0h1m8 0h1m29 0h1m27 0h1m40 0h1m45 0h1m11 0h1m80 0h1M512 631.05h1M74 635.56h1M370 649.07h1M249 653.58h1M431 658.08h1M185 662.59h1m42 0h1m154 0h1m130 0h1m4 0h1M103 667.09h1m62 0h1m49 0h1m157 0h1m33 0h1m51 0h1M114 671.60h1m24 0h1m62 0h1m18 0h1m12 0h1m143 0h1m4 0h1M211 676.10h1m41 0h1m39 0h1m34 0h1M209 680.61h1m31 0h1m262 0h1m18 0h1m5 0h1M90 685.11h1m68 0h1m29 0h1m242 0h1M395 694.12h1m87 0h1m71 0h1M247 698.63h1m162 0h1M413 703.13h1m1 0h1M138 712.14h1m160 0h1M343 725.66h1m60 0h1m13 0h1m43 0h1m63 0h1m15 0h1M405 743.68h1"/>
<path stroke="#b81a2c" d="M84 360.75h1m67 0h1m1 0h1m7 0h1m8 0h1m24 0h1m13 0h2M91 365.26h1M73 369.76h1m34 0h1m12 0h1m3 0h1m16 0h1m13 0h1m11 0h1m58 0h1M75 374.27h1m12 0h1m31 0h1m18 0h1m23 0h1m1 0h1m15 0h2m28 0h1m12 0h1M84 378.77h1m19 0h1m13 0h1m11 0h1m8 0h1m17 0h1m34 0h1m31 0h1M91 383.28h1m35 0h1m38 0h1m119 0h1M68 387.78h1m22 0h1m2 0h1m30 0h1m13 0h1m12 0h1m11 0h1m1 0h1m7 0h1m40 0h1m3 0h1M75 392.29h1m3 0h1m13 0h1m5 0h1m8 0h1m18 0h1m22 0h1m12 0h1m8 0h2m4 0h1m36 0h1m2 0h1m1 0h1m5 0h1M101 396.79h1m36 0h1M74 401.30h2m1 0h1m70 0h1m12 0h1m60 0h1M174 405.80h1m1 0h1m44 0h1M94 410.31h1m92 0h2m24 0h1M69 414.81h1m2 0h1m36 0h1m4 0h1m3 0h1m38 0h1m5 0h1m1 0h1m21 0h1m23 0h1m3 0h1m5 0h1M229 419.32h1M97 423.82h1m16 0h1m16 0h1m64 0h1M68 428.33h1m59 0h1m28 0h1m56 0h2m12 0h1M78 432.83h1m37 0h1m30 0h1m23 0h1m37 0h1m6 0h2M69 437.34h1m79 0h1m39 0h1m39 0h1M148 441.84h1m58 0h1M70 446.35h1m36 0h1m28 0h1m20 0h1m7 0h1m23 0h1m17 0h1m19 0h1m176 0h1M68 450.85h1m25 0h1m3 0h1m79 0h1M112 455.36h1m6 0h1m20 0h1m46 0h1m31 0h1M70 459.86h1m16 0h1m82 0h1m16 0h1M148 464.37h1m5 0h2m55 0h1M199 468.87h2M69 473.38h1m38 0h1m3 0h1M110 477.88h1m57 0h1M89 482.39h1m9 0h1m35 0h1M69 486.89h1m8 0h1m104 0h1M84 491.40h1m49 0h1m21 0h1m46 0h1M141 495.90h1m45 0h1M68 500.41h1m18 0h1m26 0h1m8 0h1m5 0h1m9 0h1m17 0h1M87 504.91h1m423 0h1M198 509.42h1M179 513.92h1m1 0h1m35 0h1M243 527.44h1m10 0h1m81 0h1m9 0h1m1 0h1m32 0h1M255 531.94h1m48 0h1m34 0h1m15 0h1M326 536.45h1m2 0h1M271 540.95h1m24 0h1m41 0h2m36 0h1m17 0h1M253 545.46h1M246 549.96h1m28 0h1m82 0h1m5 0h1m12 0h1M251 554.47h1m30 0h1m11 0h1m47 0h1M232 558.97h1m59 0h1m48 0h1M231 563.48h1m90 0h1m24 0h1M365 567.98h1m23 0h1M146 572.49h1m85 0h1m21 0h1m58 0h1m14 0h1m8 0h1m51 0h1M368 576.99h1M241 581.50h1m17 0h1m95 0h1M313 586.00h1m18 0h1m220 0h1M248 590.51h1m5 0h1m7 0h1m92 0h1m26 0h1M310 595.01h1m7 0h1m58 0h2M273 599.52h1m32 0h1m2 0h1M292 608.53h1m49 0h1M344 613.03h1M239 617.54h1m41 0h1m26 0h1M252 622.04h1m38 0h1m19 0h1m14 0h1m18 0h1m2 0h1m32 0h1m37 0h1M246 626.55h1m33 0h1m1 0h1m38 0h1m10 0h2M258 631.05h1m84 0h1m16 0h1M239 635.56h1m4 0h1m27 0h1M376 640.06h2m4 0h1m123 0h1M306 644.57h1m18 0h1m6 0h1M253 649.07h1m2 0h1m4 0h1m18 0h1m39 0h1m51 0h1m5 0h1M280 653.58h1m9 0h1m78 0h1m20 0h1M238 658.08h1m150 0h1M231 662.59h1m104 0h1m6 0h1m34 0h1M352 667.09h1M290 671.60h1m21 0h1m27 0h1M370 676.10h1M301 680.61h1m24 0h1M168 685.11h1m277 0h1m37 0h1m30 0h1m5 0h1m13 0h1m21 0h1M134 689.62h1m289 0h1m26 0h1m54 0h2m11 0h2m12 0h1m11 0h1M541 694.12h1M395 698.63h2m30 0h1m6 0h1m10 0h1m18 0h1m6 0h1m4 0h1m44 0h1m5 0h1m24 0h1m5 0h1M410 703.13h1m62 0h1m53 0h1M396 707.64h1m9 0h1m72 0h1M404 712.14h1m137 0h1M404 716.65h1m9 0h1m45 0h1M519 721.15h1M399 725.66h1m2 0h1m92 0h1m18 0h1m24 0h1M402 730.16h1m125 0h1m25 0h1M369 734.67h1m99 0h1m87 0h1M286 739.17h1m170 0h2m23 0h1M401 743.68h1m59 0h1M405 748.18h1m61 0h1M394 752.69h1M423 757.19h1m40 0h2M245 761.70h1m109 0h1m109 0h1m41 0h1M388 766.20h1m155 0h1"/>
<path stroke="#cc403b" d="M85 360.75h1m4 0h1m6 0h1m5 0h1m6 0h1m46 0h1m18 0h1m17 0h1m17 0h1M102 365.26h1m69 0h1m28 0h1m21 0h1M97 374.27h1m49 0h1m37 0h1M121 378.77h1m36 0h1m41 0h1M167 383.28h1m209 0h1M117 387.78h1m40 0h1m21 0h1m24 0h1m19 0h1M88 392.29h1m37 0h1m22 0h1m8 0h1m37 0h1m8 0h1M158 396.79h1m3 0h1m5 0h1m52 0h1M182 401.30h1m46 0h1M83 405.80h1m1 0h1m34 0h1m8 0h1m26 0h1M102 410.31h1m40 0h1m50 0h1m12 0h1m2 0h2m77 0h1M85 414.81h1m16 0h1m4 0h1m63 0h1m14 0h1m1 0h1M139 419.32h1M146 423.82h1m33 0h1M91 428.33h1m5 0h1m20 0h1m54 0h1m47 0h1m5 0h1M103 432.83h1m52 0h1m62 0h1M74 437.34h1m50 0h1m69 0h1M123 441.84h1m36 0h1m57 0h1M154 446.35h2m39 0h1m17 0h1m129 0h1M220 450.85h1M134 455.36h1M185 459.86h1M83 464.37h1M116 468.87h2m39 0h1m8 0h1m164 0h1M116 473.38h1M68 477.88h1m18 0h1M82 482.39h1m96 0h1M178 486.89h1M214 491.40h1m2 0h1M106 495.90h1M216 500.41h1M80 504.91h1m339 0h1M108 509.42h1M87 518.43h1m8 0h1m40 0h1m33 0h1m6 0h1m15 0h1M133 522.93h1M253 527.44h1m214 0h1M272 531.94h1m38 0h1M370 536.45h1m34 0h1M391 540.95h1M257 545.46h1m10 0h1M371 549.96h1m4 0h1M236 554.47h1m7 0h1m63 0h1M293 558.97h1m45 0h1m28 0h1M336 563.48h1m23 0h1m5 0h1M277 567.98h1m63 0h1M235 572.49h1m73 0h1M235 576.99h1m54 0h1m7 0h1m35 0h1M244 581.50h1M136 586.00h1M300 590.51h1m19 0h1m5 0h1m63 0h1M387 595.01h1M234 599.52h1m40 0h1m84 0h1m25 0h1M263 613.03h1M256 622.04h1m53 0h1m43 0h1M271 631.05h1m38 0h1m52 0h1M319 635.56h1M235 649.07h1m88 0h1m64 0h1M330 653.58h1M272 658.08h1m15 0h1m67 0h1M236 667.09h1m140 0h1m12 0h1m14 0h1M243 671.60h1m48 0h1M250 676.10h1m108 0h1M273 680.61h1m20 0h1M89 685.11h1m110 0h1m8 0h1m230 0h1m37 0h1m21 0h1m33 0h1M422 689.62h1m70 0h1M420 698.63h1m3 0h1m123 0h1M427 703.13h1m12 0h1m5 0h1m90 0h1M443 707.64h1m47 0h1M403 712.14h1m154 0h1M472 716.65h1m7 0h1m61 0h1M413 721.15h1m25 0h1m43 0h1M395 725.66h1m58 0h1M457 730.16h1M270 739.17h1m11 0h1m173 0h1m88 0h1m11 0h1M98 748.18h1m318 0h1m13 0h1m22 0h1m3 0h1M292 761.70h1M444 766.20h1"/>
<path stroke="#c93535" d="M86 360.75h1m8 0h1m67 0h1M79 365.26h1m35 0h1m73 0h1m14 0h1m56 0h1M96 369.76h1m12 0h1m33 0h1M117 374.27h1m12 0h1m43 0h1m15 0h1m4 0h1M99 378.77h1m79 0h1M155 383.28h1m182 0h1M109 387.78h1M112 392.29h1m15 0h1m96 0h1M188 396.79h1m10 0h1m10 0h1M228 401.30h1M77 405.80h1M84 410.31h1m108 0h1M134 414.81h1m10 0h1M111 419.32h1M151 423.82h1M152 428.33h1M94 432.83h1m34 0h1M166 437.34h1M142 441.84h1m130 0h1m102 0h1M199 446.35h1m2 0h1M101 450.85h1m17 0h1m101 0h1M73 455.36h1m19 0h1M110 459.86h1M102 464.37h1m276 0h1M74 468.87h1m35 0h2m24 0h1M86 477.88h1m13 0h1m109 0h1M136 482.39h1M103 486.89h1m55 0h1m40 0h1M71 491.40h1m35 0h1m11 0h1m98 0h1M81 495.90h1m31 0h1m72 0h1m18 0h1M130 500.41h1m52 0h1m162 0h1M83 504.91h1M168 513.92h1m25 0h1M78 518.43h1m67 0h1m14 0h1m183 0h1M340 522.93h1M294 527.44h1m33 0h1m5 0h1m5 0h1m1 0h1M276 531.94h1m1 0h1m38 0h1M263 536.45h1M261 540.95h1m28 0h1m16 0h1M247 545.46h1m64 0h1m48 0h2M373 549.96h1M254 554.47h1m36 0h1m43 0h1m44 0h1m10 0h1M241 558.97h1m36 0h1M377 563.48h1M252 567.98h1m90 0h1M258 572.49h1m9 0h1M278 576.99h1m9 0h1M394 581.50h1M311 586.00h1M363 590.51h1m2 0h1M284 595.01h1m100 0h1M374 599.52h1M252 604.02h1m22 0h1M290 608.53h1M353 613.03h1M328 617.54h1M245 622.04h1m15 0h1m56 0h1m104 0h1M444 626.55h1M282 631.05h1m11 0h1m86 0h1M393 635.56h1M505 640.06h1M303 644.57h1M97 653.58h1m143 0h1m63 0h1m23 0h1M290 662.59h1m245 0h1M297 671.60h1m43 0h1m48 0h1M286 676.10h1M320 680.61h1m36 0h1m24 0h1M86 685.11h1m19 0h1m342 0h1m4 0h1m62 0h1M431 689.62h1m92 0h1m10 0h1M305 694.12h1m139 0h1M492 698.63h1m38 0h1m1 0h1m1 0h1m10 0h1M489 703.13h1M520 721.15h1M401 725.66h1M508 748.18h1m22 0h1M120 761.70h1"/>
<path stroke="#dd634c" d="M87 360.75h1m21 0h1m45 0h1m267 0h1M92 365.26h1m132 0h1M213 369.76h1m61 0h1m55 0h1M71 374.27h1m54 0h1m41 0h1m25 0h1M88 378.77h1m37 0h1M140 383.28h1m129 0h1m42 0h1M181 387.78h2m37 0h1M101 392.29h1m17 0h2m27 0h1m30 0h1m19 0h1M93 396.79h1m76 0h1M98 405.80h1m238 0h1M256 410.31h1M175 414.81h1M97 419.32h1m88 0h1m36 0h1M297 423.82h1M95 428.33h1M169 432.83h1M537 437.34h1M89 441.84h1m65 0h1m198 0h1m170 0h1M135 446.35h1m94 0h1m58 0h1M197 450.85h1m7 0h1m256 0h1M96 455.36h1m64 0h1M206 459.86h1M151 464.37h1m19 0h1M77 468.87h1m11 0h1m35 0h1m44 0h1m115 0h1m60 0h1M99 473.38h1m62 0h1m19 0h1m13 0h1M115 477.88h1M337 482.39h1m44 0h1M425 486.89h1M68 491.40h1m173 0h1m217 0h1M302 495.90h1M271 500.41h1m26 0h1M210 504.91h1m259 0h1M91 509.42h1m66 0h1M86 513.92h1m181 0h1m27 0h1M80 518.43h1m174 0h1M106 522.93h1m49 0h1m40 0h1M242 527.44h1m33 0h1m12 0h1m32 0h1M302 531.94h1m50 0h1m4 0h1m186 0h1M331 536.45h1M260 545.46h1m23 0h1m269 0h1M334 549.96h1M359 554.47h1m91 0h1M316 558.97h1m49 0h1M299 567.98h1M374 572.49h1M259 576.99h1m33 0h1m13 0h1m79 0h1M270 581.50h1M300 586.00h1M245 590.51h1M260 595.01h1m37 0h1m31 0h1M237 599.52h1m9 0h1M280 604.02h1m6 0h1M332 608.53h1M273 617.54h1m181 0h1M297 622.04h1m36 0h1m139 0h1m77 0h1M231 631.05h1m2 0h1m137 0h1m13 0h1m6 0h1M252 635.56h2m53 0h1m83 0h1M77 644.57h1m154 0h1m95 0h1M281 649.07h1m32 0h1M116 653.58h1m38 0h1m118 0h1m16 0h1m106 0h1M391 658.08h1M299 662.59h1M348 671.60h1M338 676.10h1m39 0h1m54 0h1M464 680.61h1M152 685.11h1m303 0h1m95 0h1M458 689.62h1M536 694.12h1M409 698.63h1M395 712.14h1m47 0h1m64 0h1m37 0h1M371 716.65h1m135 0h1M302 721.15h1m243 0h1M331 730.16h1m33 0h1m51 0h1M308 734.67h1m32 0h1M520 743.68h1M455 748.18h1M347 752.69h1m12 0h1"/>
<path stroke="#d0736f" d="M88 360.75h1m27 0h1m21 0h1m11 0h1m87 0h1M148 365.26h1m8 0h1m15 0h1m8 0h1m49 0h1M224 369.76h1M236 374.27h1M230 378.77h1m113 0h1M235 383.28h1m95 0h1m11 0h1M230 387.78h1m74 0h1M188 392.29h1M129 396.79h3m54 0h1m32 0h1m291 0h1M88 401.30h1m18 0h1m48 0h1m43 0h1M232 405.80h1M124 410.31h1m48 0h1m228 0h1M71 414.81h1M152 419.32h1m23 0h1m17 0h1M206 423.82h1m12 0h1M90 428.33h1M97 432.83h1m11 0h1m290 0h1M164 437.34h1m6 0h1m116 0h1m215 0h1M100 441.84h1m53 0h1m53 0h1m3 0h1M71 446.35h1m43 0h1m16 0h1m313 0h1M76 450.85h1m85 0h1M99 455.36h1m41 0h1m112 0h1m297 0h1M70 464.37h1M109 477.88h1m290 0h1M101 482.39h1m84 0h1m19 0h1M503 486.89h1M69 491.40h1m27 0h1m57 0h1m31 0h1m115 0h1M163 495.90h1m175 0h1M143 500.41h1m5 0h1m71 0h1M536 504.91h1m17 0h1M74 509.42h1m60 0h1m356 0h1M344 513.92h1M211 518.43h1m13 0h1M68 522.93h1m119 0h1m71 0h1m28 0h1m25 0h1M432 527.44h1M342 531.94h1m74 0h1M247 536.45h1m35 0h1m58 0h1m26 0h1m183 0h1M118 540.95h1m116 0h1m15 0h1m102 0h1m149 0h1M280 545.46h1m29 0h1m47 0h1m30 0h1M267 549.96h1m73 0h1M528 554.47h1M269 558.97h1m146 0h1M245 563.48h1m22 0h1m179 0h1M518 567.98h1m19 0h1M123 572.49h1m173 0h1m7 0h1m26 0h1m50 0h1M364 576.99h1M268 581.50h1m68 0h1m26 0h1m22 0h1m10 0h1M296 586.00h1m25 0h1m64 0h1m6 0h1M285 590.51h1M243 595.01h1m56 0h1m194 0h1M197 599.52h1m174 0h1m62 0h1M247 604.02h1m7 0h1M234 608.53h1m130 0h1M227 613.03h1m10 0h1m71 0h1m98 0h1M248 617.54h1m1 0h1m132 0h1m6 0h1M255 622.04h1m117 0h1m76 0h1m19 0h1m76 0h1M263 626.55h1m286 0h1M244 631.05h1m25 0h1m16 0h1m169 0h1M274 640.06h1m34 0h1m54 0h1M231 644.57h1M246 649.07h1M124 653.58h1m182 0h1m117 0h1M377 658.08h1m9 0h1m79 0h1M246 662.59h1m2 0h1m46 0h1m5 0h1m72 0h1m3 0h1M332 667.09h1m215 0h1M333 671.60h1M266 680.61h1m55 0h1m22 0h1m24 0h1m129 0h1M70 685.11h1M97 689.62h1m166 0h1m162 0h1m4 0h1M418 694.12h1m53 0h1m46 0h1M432 698.63h1m79 0h1M494 703.13h1M509 707.64h1m2 0h1M337 712.14h1m212 0h1M288 716.65h1m15 0h1M371 721.15h1m1 0h1M356 730.16h1m105 0h1m32 0h1M307 734.67h1m47 0h1m93 0h1M461 739.17h1m14 0h1m34 0h1m30 0h1M223 743.68h1M295 757.19h1m63 0h1m31 0h1m119 0h1m31 0h1M557 761.70h1M471 766.20h1m31 0h1"/>
<path stroke="#ec6a44" d="M89 360.75h1m28 0h1M167 365.26h1M118 369.76h1M217 374.27h1M220 378.77h1M257 383.28h1m83 0h1M143 387.78h2m33 0h1M94 392.29h1m39 0h1m33 0h1m48 0h1M110 396.79h1m7 0h1m73 0h1M133 405.80h1m132 0h1m1 0h1m93 0h1M76 410.31h1m45 0h1m89 0h1m69 0h1m16 0h1M103 414.81h1m28 0h1M92 419.32h1m37 0h1m7 0h1M80 428.33h1m97 0h1m323 0h1M76 437.34h1m30 0h1m26 0h1m24 0h1m18 0h1M93 441.84h1m57 0h1m27 0h1m25 0h1m160 0h1M178 446.35h1m2 0h1m11 0h1M81 459.86h1m62 0h1m12 0h1m38 0h1m16 0h2m13 0h1m133 0h1M108 464.37h1m3 0h1m15 0h1m79 0h1m58 0h1M87 468.87h2m20 0h1m17 0h1m20 0h1m77 0h1m4 0h1m33 0h1m56 0h1m18 0h1M93 473.38h1m109 0h1M183 477.88h1m9 0h1m21 0h1M143 482.39h1M261 486.89h1M198 491.40h1M238 495.90h1M249 500.41h1M175 504.91h1m280 0h1M430 509.42h1M142 513.92h1m42 0h1m114 0h1M72 518.43h1m82 0h1M90 522.93h1m89 0h1m19 0h1M231 527.44h1m139 0h1m11 0h1m6 0h1M119 540.95h1M296 545.46h1m68 0h1M269 549.96h1M240 554.47h1m15 0h1m21 0h1m4 0h1m26 0h1m53 0h1M108 558.97h1m88 0h1m32 0h1m161 0h1M345 563.48h1M271 567.98h1M311 576.99h1m19 0h1m19 0h1M253 590.51h1m29 0h1M329 595.01h1m3 0h1m3 0h1m10 0h1m17 0h1m19 0h1M319 599.52h1M338 608.53h1m10 0h1m31 0h1M246 613.03h1m39 0h1m71 0h1m26 0h1M297 617.54h1m51 0h1M235 622.04h1m6 0h1m14 0h1m43 0h1m28 0h1m45 0h1m7 0h1m45 0h1M336 640.06h1m34 0h1M369 644.57h1M273 649.07h1m42 0h1m9 0h1M145 653.58h1m62 0h1m108 0h1m135 0h1M351 658.08h1m9 0h1M292 662.59h1m13 0h1m213 0h1M232 667.09h1M173 671.60h1m73 0h1m45 0h1m26 0h1M236 676.10h1m1 0h1m20 0h1m19 0h1m43 0h1m11 0h1m6 0h1M125 685.11h1m3 0h1m14 0h1m6 0h1m266 0h1m67 0h1m33 0h1m7 0h1m14 0h1M236 689.62h1M287 694.12h1m8 0h1m80 0h1M413 698.63h1m96 0h1m23 0h1M445 707.64h1M413 725.66h1m39 0h1m39 0h1m2 0h1m13 0h1m35 0h1M283 734.67h1M372 743.68h1M507 748.18h1M341 757.19h1"/>
<path stroke="#eeca95" d="M91 360.75h1m142 0h1M406 365.26h1M474 374.27h1m65 0h1M306 383.28h1M110 392.29h1m190 0h1m219 0h1M155 401.30h1M71 410.31h1m102 0h1m127 0h1M193 423.82h1m35 0h1M261 428.33h1m118 0h1m137 0h1m6 0h1M231 437.34h1m51 0h1M70 455.36h1M416 459.86h1M75 464.37h1m114 0h1m6 0h1m91 0h1m52 0h1m26 0h1m167 0h1M132 468.87h1m182 0h1M137 473.38h1m139 0h1m40 0h1m69 0h1M114 477.88h1m14 0h1m1 0h1m1 0h1m65 0h1m70 0h1m91 0h1m113 0h1M201 486.89h1m3 0h1M179 491.40h1m127 0h1m15 0h1M267 495.90h1M246 500.41h1m111 0h1m16 0h1M111 504.91h1m9 0h1m114 0h1m251 0h1m27 0h1M120 509.42h1m30 0h1m83 0h1m27 0h1m118 0h1m37 0h1m42 0h1M130 513.92h1m15 0h1m50 0h1m8 0h1m54 0h1m175 0h1m28 0h1m7 0h1M143 518.43h1m355 0h1M465 522.93h1m3 0h1M249 531.94h1m98 0h1m154 0h1M262 549.96h1m76 0h1m10 0h1M158 554.47h1m296 0h1m1 0h1m25 0h1m23 0h1m4 0h1M159 558.97h1m290 0h1m14 0h1M347 567.98h1m103 0h1M156 576.99h1m23 0h1M265 581.50h1M413 586.00h1M297 590.51h1m43 0h1m72 0h1m54 0h1M103 595.01h1m114 0h1m9 0h1m192 0h1M115 599.52h1M163 604.02h1m41 0h1m39 0h1M368 608.53h1m40 0h1M89 613.03h1m115 0h1M514 617.54h1M553 622.04h1M75 626.55h1m281 0h1M252 631.05h1M93 635.56h1M92 644.57h1m132 0h1m27 0h1m271 0h1M365 649.07h1m107 0h1M117 662.59h1m55 0h1m259 0h1m71 0h1m25 0h1M106 667.09h1m42 0h1m120 0h1m128 0h1m150 0h1M97 671.60h1m34 0h1m3 0h1m67 0h1m225 0h1m72 0h1m9 0h1M133 676.10h1m3 0h1m108 0h1m42 0h1m224 0h1m2 0h1m36 0h1M73 680.61h1m230 0h1m158 0h1m13 0h1m11 0h1m26 0h1m8 0h1m22 0h1M133 685.11h1m68 0h1M469 689.62h1m30 0h1M234 694.12h1m178 0h1m63 0h1M249 698.63h1m37 0h1M169 703.13h1m95 0h1M322 712.14h1m140 0h1M487 716.65h1M532 721.15h1M340 725.66h1m67 0h1M204 734.67h1M241 739.17h1M282 743.68h1m28 0h1M352 766.20h1m22 0h1m73 0h1"/>
<path stroke="#bd2b36" d="M94 360.75h1m98 0h1m22 0h1M198 365.26h1m146 0h1M190 369.76h1M113 374.27h1m7 0h2m34 0h1m49 0h1m5 0h1m1 0h1M72 378.77h1m16 0h1m46 0h1m76 0h1M74 383.28h1m48 0h1m6 0h1m5 0h1m31 0h1M73 387.78h1m46 0h1m25 0h1M87 392.29h1m57 0h1M200 396.79h1M177 401.30h1M79 405.80h1m31 0h1m108 0h1M69 410.31h1m62 0h1M130 414.81h1m75 0h1m73 0h1m179 0h1M127 419.32h1m41 0h1m23 0h1m2 0h1M71 423.82h1m116 0h1M84 428.33h1m24 0h1M107 432.83h1m2 0h1m12 0h1m26 0h1M150 437.34h1m25 0h1M183 441.84h1m39 0h1M94 446.35h1m44 0h1m40 0h1M196 450.85h1M69 455.36h1m9 0h1m111 0h1m14 0h1M192 464.37h1M167 468.87h1m41 0h1M72 473.38h1m60 0h1M206 477.88h1m13 0h1m109 0h1M117 482.39h1m7 0h1m24 0h1M68 486.89h1m11 0h1m33 0h1m104 0h1M174 491.40h1m38 0h1M118 500.41h1m9 0h1M202 504.91h1M88 513.92h1m95 0h1M317 527.44h1m56 0h1m18 0h1m26 0h1M291 531.94h1m41 0h1m23 0h1m33 0h1M297 536.45h1M252 540.95h1M371 545.46h1M250 554.47h1M233 558.97h1m39 0h1m101 0h1M232 563.48h1m80 0h1m11 0h1m38 0h1M286 567.98h1m90 0h1m12 0h1M368 572.49h1M240 576.99h1m10 0h1m100 0h1m31 0h1M243 581.50h1m43 0h1M252 586.00h1m138 0h1M247 590.51h1m11 0h1m3 0h1m43 0h1M371 595.01h1M72 599.52h1m276 0h1M246 604.02h1m29 0h1m100 0h1M257 617.54h1m82 0h1m4 0h1M337 622.04h1m50 0h1M357 631.05h1M249 635.56h1m46 0h1m28 0h1m106 0h1M278 640.06h1m50 0h1m25 0h1M351 644.57h1M234 653.58h1m5 0h1m122 0h1m25 0h1M262 662.59h1m30 0h1m41 0h1M280 671.60h1m28 0h1m52 0h1M243 676.10h1m64 0h1m44 0h1m6 0h1M337 680.61h1M395 685.11h1m33 0h1m33 0h1m6 0h1m5 0h1m10 0h1m26 0h1m7 0h1M522 698.63h1m3 0h1m26 0h1M540 703.13h1m5 0h1M424 712.14h1m50 0h1M509 716.65h2m35 0h1M478 721.15h1M507 725.66h1M261 730.16h1m146 0h1M514 734.67h1m12 0h1M336 743.68h1M484 752.69h1M456 761.70h1M447 766.20h1m51 0h1"/>
<path stroke="#ce4f4a" d="M96 360.75h1m45 0h1m15 0h1M149 365.26h1m53 0h1M116 369.76h1m126 0h1M155 374.27h1M87 378.77h1m28 0h1M144 383.28h1M183 387.78h1m8 0h1M68 401.30h2m74 0h1m33 0h1m8 0h1m4 0h1M102 405.80h1m2 0h1m95 0h1m143 0h1M68 410.31h1m326 0h1M153 419.32h1m37 0h1m28 0h1M75 423.82h1m35 0h1m50 0h1m57 0h1M105 428.33h1m87 0h1M82 441.84h1M75 446.35h1M175 450.85h1M126 455.36h1M198 459.86h1M226 464.37h1M381 468.87h1M155 482.39h1M111 491.40h1m108 0h1m15 0h1M76 495.90h1M121 500.41h1M146 504.91h1m75 0h1m188 0h1M87 509.42h1m65 0h1m7 0h1m364 0h1M128 518.43h1M100 522.93h1m41 0h1M279 527.44h1m17 0h1m66 0h1m13 0h1M381 531.94h1M294 536.45h1m11 0h1m69 0h1m107 0h1m50 0h1M238 540.95h1M267 545.46h1m112 0h1M260 549.96h1m37 0h1m23 0h1M387 554.47h1M275 567.98h1M274 572.49h1M382 576.99h1M282 581.50h1m37 0h1m48 0h1m16 0h1M323 586.00h1m148 0h1m82 0h1M241 595.01h1m26 0h1m12 0h1m12 0h2M256 604.02h1m4 0h1M264 608.53h1m69 0h1M320 613.03h1m55 0h1M532 617.54h1M285 622.04h1m79 0h1M427 626.55h1M272 640.06h1m121 0h1m17 0h1M266 644.57h1m196 0h1M325 649.07h1M245 653.58h1m100 0h1M277 658.08h1m42 0h1m55 0h1m9 0h1M276 662.59h1m70 0h1M282 671.60h1m2 0h1m64 0h1M288 676.10h1M325 680.61h1m39 0h1m13 0h1M421 685.11h1m46 0h1m6 0h1m21 0h1m27 0h1M205 689.62h1m250 0h1M208 694.12h1m38 0h1m180 0h1M271 698.63h1m221 0h1M341 703.13h1m14 0h1m95 0h1m94 0h1M433 707.64h1M408 716.65h1m41 0h1m83 0h1M402 721.15h1m9 0h1M459 730.16h1M416 734.67h1M400 739.17h1m53 0h1M154 743.68h2M252 748.18h1m46 0h1M549 752.69h1M528 757.19h1m19 0h1M198 761.70h1M290 766.20h1"/>
<path stroke="#ee7147" d="M98 360.75h1m36 0h1M219 365.26h1M162 369.76h1m66 0h1M171 374.27h1m50 0h1m5 0h2M79 378.77h1m149 0h1M73 392.29h1m135 0h1m12 0h1M90 396.79h1M121 401.30h1m97 0h1M140 405.80h1m27 0h1m19 0h1m16 0h1m20 0h2M217 410.31h1m9 0h1m141 0h1M108 419.32h1M205 423.82h1m9 0h1M79 428.33h1m86 0h1m63 0h1M128 441.84h1M125 446.35h1m84 0h1M160 450.85h1M114 455.36h1M125 459.86h1m23 0h1M220 464.37h1m7 0h1m147 0h1M107 468.87h1m5 0h1m39 0h1m9 0h1m50 0h1m26 0h1m11 0h1m137 0h1M199 473.38h1m5 0h1m11 0h1m10 0h1m12 0h1M88 477.88h1m60 0h1m59 0h1M236 482.39h1M327 491.40h1M84 500.41h1m219 0h1M71 504.91h1M546 509.42h1M155 513.92h1m16 0h1m178 0h1M103 518.43h1m46 0h1m39 0h1M138 522.93h1m65 0h1m7 0h1M296 527.44h1m34 0h1M338 531.94h1m22 0h1M329 554.47h1m40 0h1m76 0h1m94 0h1M283 558.97h1m3 0h1M245 567.98h1m110 0h1m23 0h1M289 581.50h1M347 590.51h1m23 0h1m22 0h1M255 595.01h1m32 0h1m1 0h1m40 0h1m13 0h1M377 599.52h1M286 608.53h1m39 0h1M261 613.03h1m236 0h1M237 617.54h1m91 0h1M292 622.04h1m26 0h1m29 0h1m40 0h1m131 0h1m12 0h1m8 0h1M233 626.55h1M391 631.05h1M394 635.56h1M258 640.06h1M255 649.07h1m178 0h1m96 0h1M372 653.58h1M398 662.59h1m4 0h1M73 667.09h1m175 0h1m3 0h1m263 0h1M131 671.60h1m122 0h1m1 0h1m69 0h1M126 676.10h1m138 0h1m15 0h1m2 0h1m14 0h1m71 0h1m9 0h1M194 680.61h1m63 0h1m4 0h1m14 0h1m108 0h1M94 685.11h1m32 0h1m63 0h1m32 0h1m206 0h1m99 0h1m5 0h1m20 0h1M450 694.12h1m23 0h1m17 0h1m32 0h1M457 698.63h1m39 0h1M452 716.65h1M464 725.66h1m12 0h1M286 734.67h1m171 0h1m28 0h1M525 743.68h1M496 748.18h1M280 752.69h1M374 761.70h1"/>
<path stroke="#f2945f" d="M99 360.75h1M145 365.26h1M141 369.76h1m13 0h1m1 0h1M89 374.27h1m56 0h1M80 383.28h1m170 0h1m46 0h1m6 0h1M227 387.78h1M95 396.79h1M135 405.80h1m1 0h1m60 0h1M154 414.81h1M101 419.32h1m90 0h1M100 428.33h1M111 432.83h1M302 437.34h1M102 441.84h1M385 450.85h1M144 455.36h1M203 459.86h1M129 464.37h1m217 0h1M323 468.87h1m34 0h1M71 477.88h1m19 0h1M166 486.89h1M152 491.40h1m132 0h1M226 495.90h1m76 0h1M188 504.91h1M92 509.42h1m73 0h1m22 0h1m19 0h1m194 0h1M213 513.92h1m1 0h1m285 0h1m53 0h1M154 518.43h1m13 0h1m20 0h1m15 0h1m11 0h1m9 0h1M76 522.93h1m9 0h1m8 0h1m20 0h1m38 0h1m34 0h1m18 0h1m42 0h1M245 527.44h1m13 0h1m7 0h1m32 0h1m188 0h1M252 531.94h1m94 0h1M349 536.45h1M244 549.96h1m3 0h1m64 0h1m58 0h1m19 0h1M362 554.47h1m15 0h1m115 0h1M127 558.97h1m46 0h1m54 0h1M392 572.49h1M287 576.99h1M368 590.51h1m12 0h1M323 595.01h2M248 599.52h1M134 604.02h1m203 0h1M306 608.53h1m14 0h1M337 617.54h1M322 622.04h1m79 0h1m61 0h1m30 0h1m46 0h1M256 626.55h1m4 0h1M174 644.57h1m198 0h1M298 649.07h1M216 653.58h1M362 658.08h1m86 0h1M195 662.59h1m306 0h1M286 667.09h1M178 671.60h1m66 0h1m48 0h1m11 0h1M97 676.10h1m173 0h1m78 0h1M174 685.11h1m51 0h1m1 0h1m206 0h1m57 0h1m39 0h1M79 689.62h1M444 698.63h1m70 0h1M441 707.64h1M312 712.14h1M557 721.15h1M331 725.66h1m143 0h1m62 0h1M349 730.16h1M259 734.67h1M255 743.68h1"/>
<path stroke="#cd979e" d="M100 360.75h1M116 365.26h1m53 0h1M74 378.77h1m2 0h1M120 383.28h1m101 0h1m71 0h1M123 396.79h1m3 0h1m48 0h1m94 0h1M100 401.30h1m51 0h1m15 0h1m2 0h1m18 0h1m19 0h1m2 0h1M220 414.81h1m269 0h1M91 419.32h1m56 0h1m57 0h1M70 423.82h1m10 0h1m53 0h1m27 0h1m6 0h2m1 0h1m11 0h1M160 428.33h1M106 432.83h1m298 0h1m125 0h1M162 437.34h1m116 0h1M95 441.84h1m88 0h1m21 0h1m21 0h1m21 0h1M228 446.35h1m14 0h1m110 0h1m37 0h1M210 455.36h1M201 464.37h1m271 0h1m17 0h1M157 473.38h1M178 477.88h1M162 482.39h2m115 0h1M190 486.89h1M343 491.40h1M69 495.90h1m37 0h1m102 0h1M82 500.41h1M497 504.91h1M326 531.94h1M249 536.45h1m78 0h1m9 0h1m126 0h1M217 540.95h1m77 0h1m65 0h1M313 545.46h1M368 549.96h1M335 558.97h1M117 563.48h1M235 567.98h1m180 0h1m63 0h1M103 572.49h2m177 0h1m2 0h1m33 0h3m7 0h1m24 0h1m22 0h1M350 576.99h1m12 0h1M240 581.50h1m50 0h1m25 0h1m23 0h1m8 0h1m26 0h1m13 0h1m113 0h2m28 0h1m15 0h1M140 586.00h1m144 0h1m8 0h1m9 0h1m90 0h1M388 599.52h1m167 0h2M232 604.02h1m50 0h1m5 0h1m16 0h1m77 0h1M182 608.53h1m56 0h1m119 0h1m122 0h1m45 0h1M272 613.03h1M260 617.54h1m5 0h1m202 0h1m5 0h1M113 626.55h1m69 0h1m104 0h1M170 631.05h1m97 0h1M104 635.56h1m157 0h1m53 0h1m188 0h1M304 640.06h1M140 644.57h1m17 0h1m331 0h1M123 653.58h1m49 0h1M126 658.08h1m110 0h1m6 0h1m79 0h1M218 667.09h1m40 0h1m49 0h1m118 0h1M296 671.60h1M268 676.10h1M526 680.61h1M325 689.62h1m2 0h1M392 694.12h1M147 707.64h1m247 0h1m11 0h1m11 0h1m10 0h1m116 0h1M541 712.14h1m7 0h1M320 716.65h1m201 0h1M130 721.15h1m189 0h1m44 0h1m34 0h1m44 0h1m102 0h1M361 730.16h1m49 0h1m86 0h1m3 0h1m33 0h1M134 734.67h1m213 0h1m62 0h1m36 0h1m19 0h1m22 0h1m1 0h1M273 739.17h2m8 0h1m132 0h1m16 0h1m1 0h1M305 743.68h1m60 0h1m161 0h1m2 0h1m22 0h1M489 748.18h1m35 0h2M242 752.69h1m2 0h1m98 0h1m26 0h1m15 0h1m32 0h1m27 0h1m87 0h1M437 757.19h1M225 761.70h1m40 0h1m285 0h2M540 766.20h1m2 0h1"/>
<path stroke="#b37e8e" d="M102 360.75h1M487 365.26h1M376 369.76h1M79 374.27h1M107 383.28h1m5 0h1m21 0h1m11 0h1m29 0h1m15 0h1m12 0h1m122 0h1m194 0h1M179 387.78h1M551 396.79h1M86 405.80h1m4 0h1m56 0h1m82 0h1m66 0h1m91 0h1M119 410.31h1m78 0h1m55 0h1m146 0h1M170 414.81h1m31 0h1M123 428.33h1m27 0h1m1 0h1m40 0h1m23 0h1M82 432.83h1m89 0h1m321 0h1M78 437.34h1m39 0h1M71 441.84h1m33 0h1m68 0h1m206 0h1M148 446.35h1m2 0h1m4 0h1m61 0h1m88 0h1M134 450.85h1m6 0h1m46 0h1m6 0h1M159 455.36h1m10 0h1m11 0h1m19 0h1M237 459.86h1m47 0h1m29 0h1m8 0h1m2 0h1m12 0h1m50 0h1m108 0h1M218 464.37h1M162 468.87h1m12 0h1m2 0h1m112 0h1m61 0h1m8 0h1m9 0h1m6 0h1m10 0h1M384 473.38h1m27 0h1M105 486.89h1m57 0h1m10 0h1m272 0h1m17 0h1M76 491.40h1m114 0h1M94 500.41h1m125 0h1m1 0h1M186 504.91h1m362 0h1M119 509.42h1M112 518.43h1m21 0h1m103 0h1m66 0h1m47 0h1m36 0h1m9 0h1M369 522.93h1M237 527.44h1m114 0h1m3 0h1m84 0h1m12 0h1m26 0h1m23 0h2m11 0h1m19 0h1M260 536.45h1m19 0h1m41 0h1m63 0h1M145 545.46h1M252 554.47h1m85 0h1m127 0h1m24 0h1M100 558.97h1m137 0h1m47 0h1m92 0h1M137 563.48h1m112 0h1m49 0h1m4 0h1m15 0h1m9 0h1m31 0h1m152 0h1M371 567.98h1M204 576.99h1m37 0h1m15 0h1m47 0h1M242 586.00h1m34 0h1m74 0h1m7 0h1m16 0h1m77 0h1M81 590.51h1m243 0h1m27 0h1M93 595.01h1m49 0h1m122 0h1m211 0h1M242 599.52h1M235 613.03h1m34 0h1m19 0h1m56 0h1m13 0h1m30 0h1M316 617.54h1M110 622.04h1m120 0h1m26 0h1m17 0h1m10 0h1m2 0h1m68 0h1m2 0h2m79 0h1m32 0h1m3 0h1m3 0h1m52 0h1M491 626.55h1M241 631.05h1m19 0h1M370 635.56h1m11 0h1M237 640.06h1m1 0h1m51 0h1m11 0h1m11 0h1m130 0h1M315 644.57h1m71 0h1m1 0h1m42 0h1m90 0h1m34 0h1M309 649.07h1m129 0h1M335 653.58h1m162 0h1M284 662.59h1m60 0h1M272 667.09h1M279 671.60h1M200 676.10h1m148 0h1m25 0h1m10 0h1m39 0h1m11 0h1m16 0h1m37 0h1M392 680.61h1M85 685.11h1m208 0h1m127 0h1m41 0h1M117 689.62h1m6 0h1m25 0h1m76 0h1m171 0h1m97 0h1m46 0h1M90 694.12h1m375 0h1M280 698.63h1m122 0h1m22 0h1m35 0h1m6 0h1m12 0h1m21 0h1M499 703.13h1m1 0h2m8 0h1m16 0h1m1 0h1m13 0h1M297 716.65h1m67 0h1m59 0h1m43 0h1m56 0h1m11 0h1m6 0h1M244 725.66h1m161 0h1m31 0h1m45 0h1m72 0h1M119 757.19h1m96 0h1m135 0h1m44 0h1m36 0h2m16 0h1m51 0h1m7 0h1m34 0h1"/>
<path stroke="#dd4835" d="M104 360.75h1m40 0h1m58 0h1M183 365.26h1m78 0h1M72 369.76h1m50 0h1m30 0h1m59 0h1M72 374.27h1m5 0h1m7 0h1m3 0h1m5 0h1m7 0h1m65 0h1m12 0h1M138 378.77h1m41 0h1m17 0h1M122 383.28h1m126 0h1m4 0h1M106 387.78h1m93 0h1M103 392.29h1m9 0h1m4 0h1m2 0h1m32 0h1m1 0h1m12 0h1m7 0h1m28 0h1m6 0h1m9 0h1M132 396.79h1m14 0h1m1 0h1M68 405.80h1m21 0h1m15 0h1m38 0h1m196 0h1M125 410.31h1m58 0h1M87 414.81h1m12 0h1m60 0h1M146 419.32h1M129 423.82h1M106 428.33h1m10 0h1m94 0h1M75 432.83h1m114 0h1m329 0h1M101 437.34h1m58 0h1m41 0h1M120 441.84h1M126 446.35h1m35 0h1m158 0h1M137 450.85h1M150 455.36h1m49 0h1M108 459.86h1m15 0h1m6 0h1m69 0h1m7 0h1M202 464.37h1m24 0h1M69 468.87h1m25 0h1m49 0h1m22 0h1m24 0h1m49 0h1M104 473.38h1m59 0h1m18 0h1M106 486.89h1m21 0h1m2 0h1m33 0h1m352 0h1M119 495.90h1M133 500.41h1m81 0h1M447 504.91h1M88 509.42h1m75 0h1m37 0h1m1 0h1M122 513.92h1m4 0h1M87 522.93h1m5 0h1m27 0h1m41 0h1m19 0h1M232 527.44h1m1 0h1m48 0h1m25 0h1m60 0h1m17 0h1M295 531.94h1m41 0h1M326 540.95h1M268 549.96h1m79 0h1M261 554.47h1m38 0h1m2 0h1m24 0h1m14 0h2m6 0h1m8 0h1m18 0h1m3 0h1M250 558.97h1m7 0h1m66 0h1M272 567.98h1m118 0h1M390 572.49h1M239 590.51h1m48 0h1m61 0h1m19 0h1M381 595.01h1M353 599.52h1M333 608.53h1M371 613.03h2M279 617.54h1m44 0h1m39 0h1M232 622.04h1m10 0h1m58 0h1m13 0h1m60 0h1m76 0h1M238 626.55h1m83 0h1m48 0h1M274 631.05h1m4 0h1m5 0h1m87 0h1M243 635.56h1m43 0h1m45 0h1m10 0h1m176 0h1M328 640.06h1m6 0h1M175 644.57h1m71 0h1m72 0h1M305 649.07h2m28 0h1m7 0h1m33 0h1m4 0h1M325 653.58h1m12 0h1M231 658.08h1m156 0h1M326 662.59h1M256 667.09h1m17 0h1M231 671.60h1m19 0h1m12 0h1m22 0h1m26 0h1m29 0h1M329 676.10h1m22 0h1m31 0h1m9 0h1M257 680.61h1M126 685.11h1m63 0h1m8 0h1m20 0h1m176 0h1m47 0h1m102 0h1M149 694.12h1M436 698.63h1m11 0h1m14 0h1m34 0h1m41 0h1M426 703.13h1m79 0h1M401 707.64h1M342 712.14h1m116 0h1M394 721.15h1m41 0h1m27 0h1m38 0h1m19 0h1M468 725.66h2m4 0h1m38 0h1M287 730.16h1M96 734.67h1m190 0h1m143 0h1M422 743.68h1M489 752.69h1M429 757.19h1M524 761.70h1M235 766.20h1"/>
<path stroke="#cecfcf" d="M105 360.75h1m240 0h1M302 365.26h1m49 0h1M71 369.76h1m234 0h1m44 0h1m38 0h1m35 0h1M118 383.28h1m37 0h1m72 0h1m114 0h1m161 0h1M71 387.78h1m164 0h1m4 0h1m122 0h1M369 392.29h1M309 410.31h1m68 0h1m154 0h1M121 414.81h1m92 0h1m146 0h1m169 0h1M365 428.33h1M271 432.83h1m53 0h1m46 0h1m75 0h1m23 0h1M137 437.34h1m179 0h1M172 441.84h1m67 0h1m3 0h1m9 0h1m263 0h1M223 446.35h1m156 0h1m54 0h1m55 0h1M91 450.85h1m139 0h1m70 0h1m32 0h1m158 0h1m10 0h1M539 455.36h1M94 464.37h1m9 0h1m1 0h1m52 0h1m197 0h2m197 0h1M84 473.38h1m35 0h1m27 0h1m115 0h1m27 0h1m8 0h1m13 0h1m186 0h1m28 0h1M248 482.39h1m304 0h1M324 486.89h2m110 0h1m69 0h1m39 0h1m3 0h1M194 491.40h1m32 0h1m172 0h1m139 0h1M178 500.41h1m124 0h1m193 0h1M162 504.91h1m117 0h1m28 0h1m76 0h1M276 509.42h1m88 0h1m59 0h1m103 0h1M280 513.92h1m51 0h2m44 0h1m65 0h2M374 518.43h1M268 531.94h1m258 0h1M231 536.45h1m165 0h1m77 0h1M244 545.46h1m254 0h2m15 0h1M376 558.97h1m177 0h1M136 563.48h1m356 0h1M523 567.98h1M111 576.99h2m232 0h1M258 586.00h1m17 0h1m30 0h1m2 0h1m140 0h1m6 0h1m36 0h1m12 0h1m28 0h1M94 599.52h1m5 0h1m69 0h1m105 0h1M90 613.03h1m194 0h1m218 0h1M220 617.54h1m175 0h1m54 0h1m50 0h1M278 626.55h2m203 0h2M72 631.05h1m74 0h1m164 0h1m138 0h1m56 0h1M119 635.56h1m27 0h1m2 0h1m51 0h1m17 0h1M68 644.57h1m33 0h1m1 0h1m45 0h1m332 0h1m68 0h1M323 649.07h1M167 653.58h1m215 0h1M265 658.08h1m262 0h1m29 0h1M161 662.59h1m52 0h1m170 0h1M305 667.09h1m8 0h1m127 0h1m1 0h1m34 0h1m28 0h1M129 689.62h1m141 0h1m80 0h1m13 0h1M239 694.12h1m145 0h1m89 0h1m17 0h1m53 0h1M378 703.13h1m91 0h1m82 0h1M84 712.14h1m275 0h1m118 0h1m52 0h1M160 716.65h1m33 0h1m37 0h2m85 0h1m10 0h1m85 0h1M183 757.19h1m61 0h1"/>
<path stroke="#f18454" d="M106 360.75h1M221 365.26h1M68 369.76h1m26 0h1m81 0h1M100 374.27h1m57 0h1m14 0h1m26 0h1M171 378.77h1m15 0h1M92 387.78h1m108 0h1M104 392.29h1M91 396.79h1M134 401.30h1M97 405.80h1m27 0h1m8 0h1m4 0h1m12 0h1m31 0h1m31 0h1m44 0h1m114 0h1M165 410.31h1m17 0h1m15 0h1m6 0h1M88 414.81h1M73 428.33h1m4 0h1M106 437.34h1M141 441.84h1m46 0h1m48 0h1m185 0h1M99 450.85h1m132 0h1M178 455.36h1m295 0h1M78 459.86h1m1 0h1m11 0h1m9 0h1m20 0h1m31 0h1m65 0h1m3 0h1m1 0h1m2 0h1M76 464.37h1m9 0h1m9 0h1m19 0h1m10 0h1m21 0h1m43 0h1m231 0h1M83 468.87h1m47 0h1m120 0h1m5 0h1m3 0h1m4 0h1m30 0h1m62 0h1M141 473.38h1m11 0h1m224 0h1M120 477.88h1m67 0h1m250 0h1M110 482.39h1m35 0h1m209 0h1M117 491.40h1m192 0h1M161 500.41h1M94 504.91h1m28 0h1m74 0h1M201 509.42h1m40 0h1M116 513.92h1m7 0h1m1 0h1m240 0h1M91 518.43h1m55 0h1m72 0h2m50 0h1M109 522.93h1m50 0h1m20 0h1m43 0h1M244 527.44h1m3 0h1m59 0h1m23 0h1m24 0h1M309 531.94h1m65 0h1M314 540.95h1m54 0h1M349 545.46h1M366 549.96h1M284 554.47h1m13 0h1m73 0h1m17 0h1M205 558.97h1M296 563.48h1M315 567.98h1m26 0h1m35 0h1M365 572.49h1M375 576.99h1M306 581.50h1M289 590.51h1m4 0h1m18 0h1m7 0h1M262 595.01h1m88 0h1m7 0h1M360 617.54h1M269 622.04h1m9 0h2m19 0h1m14 0h1m105 0h1m36 0h1m29 0h1M250 626.55h1m53 0h1M250 631.05h1m12 0h1M369 640.06h1M218 644.57h1m207 0h1M288 649.07h1m98 0h1m47 0h1M297 653.58h1M138 662.59h1M433 667.09h1m56 0h1m67 0h1M68 671.60h1m1 0h1m96 0h1m24 0h1m13 0h1m29 0h1m18 0h1m15 0h1m9 0h1m28 0h1m32 0h1m12 0h1m2 0h1m1 0h1m17 0h1m6 0h1m42 0h1M241 676.10h1m61 0h1m39 0h1m147 0h1m23 0h1M157 680.61h1m201 0h1m37 0h1m48 0h1M167 685.11h1m275 0h1m75 0h1M436 689.62h1m115 0h1M233 703.13h1m252 0h1M502 712.14h1M503 716.65h1M354 721.15h1M403 725.66h1m112 0h1m30 0h1m3 0h1M323 730.16h1M303 757.19h1"/>
<path stroke="#c9282b" d="M107 360.75h1m69 0h1m35 0h1M108 365.26h1m23 0h1m8 0h1m76 0h1M122 369.76h1m21 0h1m20 0h1M77 374.27h1m7 0h1m22 0h1m2 0h1m15 0h1m14 0h1m19 0h1m15 0h1M71 378.77h1m14 0h1m20 0h1M173 383.28h1m46 0h1m151 0h1M167 387.78h1m7 0h1M123 392.29h1m13 0h1m15 0h1m1 0h1m3 0h1m22 0h1m4 0h1m28 0h1M86 396.79h1m34 0h1M98 401.30h1m61 0h1m53 0h1M94 405.80h1m27 0h1m3 0h1m11 0h1m39 0h1M177 410.31h1m12 0h1M117 414.81h1m77 0h1M169 423.82h1m19 0h2M70 428.33h1m31 0h1m11 0h1m14 0h1m14 0h1m2 0h1m32 0h1m8 0h1M118 432.83h1m2 0h1m45 0h1m327 0h1M104 437.34h1m10 0h1m42 0h1m14 0h1m19 0h1m6 0h1m29 0h1m319 0h1M94 441.84h1m43 0h1m241 0h1M124 446.35h1m81 0h1m109 0h1M147 450.85h1m79 0h1m2 0h1M135 455.36h1M107 459.86h1m31 0h1m24 0h1m32 0h1M93 464.37h1m36 0h1m88 0h1M164 468.87h1m38 0h1m35 0h1m152 0h1M77 477.88h1m33 0h1m53 0h1m348 0h1M134 482.39h1m57 0h1m341 0h1m9 0h1M86 486.89h1m90 0h1m30 0h1M75 491.40h1m18 0h1m11 0h1m3 0h1m96 0h1m7 0h1M71 495.90h1m59 0h1m27 0h1m33 0h1m7 0h1m20 0h1M120 500.41h1m37 0h1m37 0h1M132 504.91h1m21 0h1m15 0h1m54 0h1m214 0h1M101 509.42h1m2 0h1m86 0h1m5 0h1M265 513.92h1M111 518.43h1m110 0h1M91 522.93h1m116 0h1M319 527.44h1m23 0h1M237 531.94h1m65 0h1m61 0h1m20 0h1m63 0h1M236 536.45h1m63 0h1m1 0h1M144 540.95h1m109 0h1m112 0h1m20 0h1M256 545.46h1m37 0h1m10 0h1m19 0h1m20 0h1M238 549.96h1m42 0h1m8 0h1m17 0h1m69 0h1m8 0h1M270 554.47h2m1 0h1m6 0h1m11 0h2M285 558.97h1m36 0h1m58 0h1M235 563.48h1m20 0h1m15 0h2m35 0h1m22 0h1m40 0h1M236 567.98h1m79 0h1m27 0h1m13 0h1m77 0h1M259 572.49h1m91 0h1m30 0h1M280 576.99h1M248 581.50h1M298 586.00h1m3 0h1m48 0h1m38 0h1M249 590.51h1m17 0h1m56 0h1m39 0h1m18 0h1m9 0h1M309 595.01h1m6 0h1m8 0h1m8 0h1M310 599.52h1m31 0h1m24 0h1m149 0h1M248 604.02h1M277 608.53h1m18 0h1M388 613.03h1M309 617.54h1m34 0h1m21 0h1m27 0h1M251 622.04h1m11 0h1m1 0h1m16 0h2m45 0h1m2 0h1m6 0h1m3 0h1M264 626.55h1m69 0h1m77 0h1M265 631.05h1m18 0h1m40 0h2M255 635.56h1m93 0h1m5 0h1m21 0h1M240 640.06h1M263 644.57h1m25 0h1m17 0h1m68 0h1M276 649.07h1m81 0h1M231 653.58h1m74 0h1m8 0h1m41 0h1M328 658.08h1m40 0h1m2 0h1m2 0h1M268 662.59h1m52 0h1M238 667.09h1m9 0h1m8 0h1m97 0h1M267 671.60h1m10 0h1m32 0h1m15 0h1M280 676.10h1m29 0h1m30 0h1m3 0h1m2 0h1m20 0h1m21 0h1M243 680.61h1m24 0h1m37 0h1m188 0h1M229 685.11h1m179 0h1m14 0h1m13 0h1m20 0h1m56 0h1m1 0h1m28 0h1M434 689.62h1m64 0h1M91 694.12h1m367 0h1m7 0h1M442 698.63h2m26 0h1m29 0h1m1 0h1m34 0h1m4 0h1M423 703.13h1m72 0h1M402 707.64h1m78 0h1m17 0h1M410 712.14h1m7 0h1M535 716.65h1M547 721.15h1M502 725.66h1M393 730.16h1M149 743.68h1M486 748.18h1M358 752.69h1m170 0h1M558 757.19h1"/>
<path stroke="#ef774b" d="M108 360.75h1M187 365.26h2m33 0h1M85 369.76h1m42 0h1m81 0h1m8 0h1M93 374.27h1m16 0h1m42 0h1m18 0h1m33 0h1m20 0h1m77 0h1M206 378.77h1m2 0h1m8 0h1M96 383.28h1m169 0h1m1 0h1M85 387.78h1m118 0h1M74 392.29h1m7 0h1M81 401.30h1m55 0h1M110 405.80h1m60 0h1m1 0h1m54 0h1m53 0h1M98 410.31h1m5 0h1m66 0h1m6 0h1M176 428.33h1M187 432.83h1M105 437.34h1M81 441.84h1m64 0h1m55 0h1M112 446.35h1m60 0h1m40 0h1m40 0h1M211 450.85h1M136 455.36h1M104 459.86h1m38 0h1m22 0h1m158 0h1m45 0h1M91 464.37h1m68 0h1m26 0h1m22 0h1m10 0h1M68 468.87h1m59 0h1m1 0h1m34 0h1m6 0h1m28 0h1m20 0h1m14 0h1m19 0h1m3 0h1M87 473.38h1m37 0h1m109 0h1M229 477.88h1M109 482.39h1m141 0h1m177 0h1M103 491.40h1m142 0h1m57 0h1M185 495.90h1M89 504.91h1m60 0h1m20 0h1m27 0h1m5 0h1m24 0h1m203 0h1m29 0h1M103 509.42h1m12 0h1m48 0h1M156 513.92h1m98 0h1m147 0h1m64 0h1M75 518.43h1m101 0h1m9 0h1m31 0h1m128 0h1M70 522.93h1m40 0h1m6 0h1m1 0h1m22 0h1m2 0h1m71 0h1m1 0h1M255 527.44h1m45 0h1m21 0h1m60 0h1M259 531.94h1m39 0h1m12 0h1M368 536.45h1M242 554.47h1m38 0h1m30 0h1m34 0h1m23 0h1m5 0h1M109 558.97h1M326 563.48h1m51 0h1M343 572.49h2M316 576.99h1m189 0h1M525 581.50h1M416 586.00h1m74 0h1M231 590.51h1m86 0h2M313 595.01h1m14 0h1M343 608.53h1M316 613.03h1M322 617.54h1m7 0h1m19 0h1m34 0h1M233 622.04h1m40 0h1m23 0h1m104 0h1m22 0h1m124 0h1M276 626.55h1m47 0h1M69 644.57h1m205 0h1m43 0h1m6 0h1M329 649.07h1M109 653.58h1m100 0h1M394 658.08h1M279 662.59h1m72 0h1M70 667.09h1m233 0h1M193 671.60h1m36 0h1m6 0h1m63 0h2m19 0h1m41 0h1m23 0h1m4 0h1M160 676.10h1m84 0h1M259 680.61h1m123 0h1M119 685.11h1m26 0h1m30 0h1m233 0h1m13 0h1m8 0h1m107 0h1M136 689.62h1M449 698.63h1m25 0h1m56 0h1m3 0h1m7 0h1M257 703.13h1m200 0h2M438 712.14h1m17 0h1M442 716.65h1m6 0h1m45 0h1M285 721.15h1M405 725.66h1m75 0h1M241 730.16h1M501 743.68h1M316 748.18h1m212 0h1M426 757.19h1m69 0h1"/>
<path stroke="#cbc0ca" d="M111 360.75h1m13 0h1m96 0h1m240 0h1M351 365.26h1M132 369.76h1m40 0h1m108 0h1m188 0h1M134 383.28h1m118 0h1m17 0h1m53 0h1m1 0h1m14 0h1m125 0h1m24 0h1m45 0h1M69 387.78h1m385 0h2m40 0h1M191 396.79h1m121 0h1m142 0h1m5 0h1M80 410.31h1m115 0h1m135 0h2M101 414.81h1m54 0h1m19 0h1m118 0h1m55 0h1m40 0h1M323 428.33h1m170 0h1M176 432.83h1m87 0h1m141 0h1m6 0h1m53 0h1m64 0h1M194 437.34h1m94 0h1m39 0h1m156 0h1m13 0h1M139 441.84h1m28 0h1m189 0h1m32 0h1m1 0h1M244 446.35h1m85 0h2m39 0h1m75 0h1m40 0h1M112 450.85h1m94 0h1m21 0h1m32 0h1m75 0h1M139 455.36h1m72 0h1m33 0h1m247 0h1m51 0h1m4 0h1M69 464.37h1m14 0h1m145 0h1m26 0h1M167 473.38h1m313 0h1m13 0h1m30 0h1M87 482.39h1m115 0h1M203 486.89h1m277 0h1m6 0h1m13 0h1m24 0h1M378 491.40h1M79 500.41h1m12 0h1m3 0h1m79 0h1m15 0h1m100 0h2m139 0h1M241 504.91h1m153 0h1M269 513.92h1m117 0h1m1 0h1m65 0h1M371 531.94h1m62 0h1m12 0h1m50 0h1m14 0h1M415 536.45h1m40 0h1m53 0h1M345 545.46h1m49 0h2M340 558.97h1M71 563.48h1m267 0h1m11 0h1m40 0h1m56 0h1m40 0h1m30 0h1M269 567.98h1M217 576.99h1m95 0h1M72 586.00h1m55 0h1m8 0h1m131 0h1m14 0h1m45 0h1m10 0h1m12 0h1m7 0h1m10 0h1m4 0h1m28 0h1m35 0h1m35 0h1m24 0h1m11 0h1m28 0h1M278 595.01h1M343 599.52h1m39 0h1m52 0h1m86 0h1M248 613.03h1m34 0h1m5 0h1M353 617.54h1m67 0h1M177 626.55h1M98 631.05h1m107 0h1m7 0h2m16 0h1m120 0h1m2 0h1m8 0h1m22 0h1m148 0h1M121 635.56h1m18 0h1m90 0h1m10 0h1m65 0h1m11 0h1m1 0h1m14 0h1m19 0h1m5 0h1m49 0h1m36 0h1M217 640.06h1m44 0h1m16 0h1m73 0h1m21 0h1m4 0h1m52 0h1m46 0h1M131 644.57h1m14 0h1m112 0h1m71 0h1M79 649.07h1m194 0h1m79 0h1M73 653.58h1m27 0h1m133 0h1M161 658.08h1m87 0h1m81 0h1m2 0h1m38 0h1m11 0h1m25 0h1m7 0h1M104 662.59h1m198 0h1m243 0h1m5 0h1M296 667.09h1m123 0h1m95 0h1M348 680.61h1M143 689.62h1m4 0h1m3 0h1m151 0h1m98 0h1m84 0h1m57 0h1m3 0h1M131 694.12h1m94 0h1m22 0h1m101 0h1m11 0h1M295 703.13h1M145 712.14h1m95 0h1m10 0h1m117 0h1m48 0h1m19 0h1m24 0h1m46 0h2m24 0h1M262 716.65h1m44 0h1m46 0h1m15 0h1m66 0h1m48 0h1M263 757.19h1m268 0h1"/>
<path stroke="#f18a58" d="M112 360.75h1m16 0h1m3 0h1m65 0h1m28 0h1M140 365.26h1M105 369.76h1m122 0h1M99 374.27h1m98 0h1M159 378.77h1M208 383.28h1m58 0h1m94 0h1M90 387.78h1m47 0h1M175 392.29h1M72 396.79h1m96 0h1M130 405.80h1m33 0h1m114 0h1m90 0h1M133 410.31h1m147 0h1M77 432.83h1m106 0h1m1 0h1M196 437.34h1M203 441.84h1M101 459.86h1m40 0h1M107 464.37h1m2 0h1m306 0h1M71 468.87h1m63 0h1m5 0h1m102 0h1m1 0h1m7 0h1m15 0h1M107 477.88h1m82 0h1m145 0h1M243 482.39h1M143 491.40h1m105 0h1M213 495.90h1M391 500.41h1M75 504.91h1m55 0h1m62 0h1m326 0h1M138 509.42h1m1 0h1m79 0h1m167 0h1m123 0h1M92 513.92h1m134 0h1m138 0h1M127 518.43h1m24 0h1m9 0h1m20 0h1m153 0h1M136 522.93h1m17 0h1m4 0h1m19 0h1m9 0h1m12 0h1m2 0h1m7 0h1m3 0h1m145 0h1M382 527.44h1M416 531.94h1M101 540.95h1m129 0h1M232 554.47h1m73 0h1m56 0h1m172 0h1M117 558.97h1m24 0h1m99 0h1M287 563.48h1M270 567.98h1m25 0h1M126 572.49h1m200 0h1M234 576.99h1m2 0h1m24 0h1M416 581.50h1M549 586.00h1M258 590.51h1m120 0h1m4 0h1m83 0h1M271 595.01h2m16 0h1m104 0h1M236 604.02h1M260 608.53h1m90 0h1M198 613.03h1m52 0h1M317 622.04h1m7 0h1m43 0h1m4 0h1m33 0h1m22 0h1m57 0h1m67 0h1M252 626.55h1m13 0h1M303 631.05h1M324 635.56h1m53 0h1M143 644.57h1M224 653.58h1m108 0h1M242 662.59h1m281 0h1M432 667.09h1m87 0h1M260 671.60h1m16 0h1m90 0h1m20 0h1m2 0h1m1 0h1m124 0h1M251 676.10h1m8 0h1m15 0h1m116 0h1m75 0h1M242 680.61h1m150 0h1m156 0h1M164 685.11h1m65 0h1m172 0h1M270 689.62h1m152 0h1m110 0h1M416 694.12h1m26 0h1M423 698.63h1m85 0h1m40 0h1m4 0h1M421 716.65h1m42 0h1M481 721.15h1m70 0h1M476 725.66h1m38 0h1m16 0h1M411 743.68h1M432 761.70h1"/>
<path stroke="#e75a3b" d="M113 360.75h1m88 0h1M96 365.26h1m40 0h1m16 0h1m24 0h1M84 369.76h1m9 0h1m32 0h1m44 0h1m57 0h1M81 374.27h1m5 0h1m7 0h1m23 0h1M70 378.77h1m70 0h2m20 0h1M84 383.28h1m140 0h1m53 0h2M148 387.78h1M86 392.29h1m8 0h1m44 0h1m5 0h1m4 0h1m10 0h1m7 0h1m57 0h1M144 405.80h1m58 0h1m223 0h1M87 410.31h1m71 0h1m45 0h1M79 414.81h1m36 0h1m41 0h1m3 0h1m40 0h1m6 0h1M91 423.82h1M69 428.33h1m1 0h1m22 0h1m25 0h1m11 0h1m38 0h1M119 432.83h1m68 0h1m16 0h1M70 437.34h1m4 0h1m133 0h1m9 0h1m1 0h1m6 0h1M143 441.84h1M80 446.35h1m65 0h1M131 450.85h1M117 459.86h1m9 0h1m71 0h1M95 464.37h1m7 0h1m11 0h1m50 0h1m9 0h1M173 468.87h1m3 0h1m12 0h1M68 473.38h1m62 0h1m91 0h1m6 0h1M106 477.88h1m55 0h1M208 482.39h1M127 486.89h1m22 0h1m63 0h1M109 491.40h1m106 0h1M133 495.90h1M210 500.41h1m110 0h1M137 504.91h1m91 0h1m169 0h1m12 0h1m85 0h1m31 0h1M133 509.42h1m11 0h1m26 0h1m14 0h1M201 518.43h1M261 527.44h1m30 0h1m11 0h1m19 0h1M231 531.94h1m53 0h1M366 536.45h1M385 540.95h1M338 549.96h1M247 554.47h1m42 0h1m31 0h1m1 0h1m14 0h1m10 0h1m42 0h1M321 558.97h1M310 563.48h1m22 0h1m49 0h1M109 572.49h1m194 0h1m50 0h1m1 0h1M281 576.99h1m28 0h1M249 581.50h1m62 0h1M498 586.00h1M268 590.51h1m36 0h1m86 0h1M258 595.01h1m62 0h1m31 0h1m3 0h1m9 0h1m4 0h1m7 0h1M356 599.52h1M332 604.02h1M330 608.53h1M307 613.03h1m38 0h1m5 0h1M238 617.54h1m81 0h1m61 0h1M236 622.04h1m12 0h1m20 0h2m17 0h1m34 0h1m17 0h1m144 0h1M251 626.55h1m89 0h1M309 631.05h1m12 0h1m31 0h1m20 0h1M237 635.56h1M504 640.06h1M377 644.57h1M341 649.07h1m26 0h1M298 653.58h1m25 0h1M393 658.08h1m26 0h1M261 667.09h1m80 0h1m8 0h1m24 0h1m7 0h1M258 671.60h1m9 0h1m69 0h2M257 676.10h1m19 0h1m17 0h1m16 0h1m13 0h1M245 680.61h1m14 0h1m89 0h1m37 0h1m162 0h1M83 685.11h1m26 0h1m99 0h1m231 0h1m47 0h1M87 689.62h1M451 694.12h1m105 0h1M440 698.63h1m25 0h1m39 0h1m10 0h2m9 0h1M412 703.13h1M503 712.14h1M360 716.65h1m65 0h1M345 721.15h1m125 0h1m72 0h1M409 725.66h1m60 0h1m15 0h1m25 0h1m6 0h2m29 0h1M551 730.16h1M527 743.68h1M422 748.18h1M426 766.20h1"/>
<path stroke="#bfa5b0" d="M114 360.75h1m85 0h1m6 0h2m31 0h1m16 0h1M199 365.26h1m2 0h1m13 0h1m43 0h1m116 0h1M140 369.76h1m10 0h1m35 0h1m73 0h1m50 0h2m63 0h1m27 0h2M72 383.28h1m4 0h1m81 0h1m28 0h1m9 0h1m31 0h1m80 0h1M103 387.78h1m105 0h1m11 0h1m237 0h1m25 0h1m22 0h1M104 396.79h1m120 0h1m283 0h1m40 0h1M138 410.31h1m212 0h1M96 414.81h1m323 0h1m28 0h1m72 0h1m26 0h2M83 432.83h1m30 0h1m10 0h1m11 0h1m195 0h1m67 0h1m145 0h1M174 437.34h1m13 0h1m82 0h1m36 0h1m34 0h1m201 0h1M167 441.84h1m1 0h1m126 0h1m146 0h2m29 0h1M114 446.35h1m166 0h1m19 0h1m54 0h1m29 0h1M87 450.85h1m45 0h1m6 0h1m49 0h1m34 0h2m7 0h1m2 0h1m32 0h1m124 0h1M85 455.36h1m89 0h1m18 0h1m8 0h1m5 0h1m5 0h1M257 459.86h1M164 464.37h1m34 0h1m106 0h1m215 0h1M310 473.38h1m100 0h1m138 0h1M193 482.39h1M84 486.89h1m28 0h1m39 0h1m19 0h1m11 0h1m246 0h1m33 0h1M101 491.40h1M93 500.41h1m30 0h1m79 0h1m335 0h1M144 504.91h1m8 0h1m322 0h1m66 0h1m14 0h1M373 513.92h1M525 527.44h1M77 531.94h1m219 0h1m213 0h1m19 0h1M85 536.45h1m212 0h1m6 0h1m5 0h1m13 0h1m29 0h1m5 0h1m111 0h1m80 0h1M264 545.46h1m6 0h1m9 0h1m22 0h1m6 0h1m75 0h1m68 0h1m13 0h1M336 558.97h1m23 0h1m23 0h1m43 0h1m107 0h1M239 563.48h1m57 0h1m126 0h1m8 0h1m95 0h1M82 567.98h1m401 0h1m23 0h1M203 576.99h1m91 0h1m222 0h1M231 586.00h1m24 0h1m76 0h1m30 0h1m3 0h1m7 0h1m79 0h1M260 599.52h1m19 0h1m81 0h1m126 0h1M225 613.03h1m49 0h1m26 0h1m28 0h1m62 0h1m96 0h1M156 617.54h1m107 0h1m81 0h1m15 0h1m25 0h1m141 0h1M144 626.55h1m51 0h1m48 0h1m8 0h1m55 0h1m5 0h1m18 0h1m16 0h1m53 0h1m36 0h1m94 0h1M259 631.05h1m7 0h1m152 0h1M381 635.56h1M192 640.06h1m204 0h1M176 644.57h1m56 0h1M151 649.07h1m170 0h1m117 0h1M187 653.58h1m70 0h1m35 0h2m17 0h1m5 0h1m12 0h1M242 658.08h1m48 0h1M257 662.59h1M263 667.09h1m54 0h1m51 0h1m1 0h1M337 671.60h1M234 680.61h1m116 0h1M68 685.11h1M82 689.62h1m20 0h2m291 0h1m12 0h1M69 694.12h1m59 0h1m36 0h1m5 0h2m200 0h2m32 0h1m14 0h1m24 0h1M169 698.63h1M304 703.13h1m94 0h1m1 0h1m26 0h1m10 0h1m27 0h1m58 0h1M261 712.14h1m228 0h1m23 0h1m1 0h1M418 716.65h1m10 0h1m32 0h1m20 0h1m27 0h2M131 757.19h2m6 0h1m158 0h1m125 0h1m26 0h1"/>
<path stroke="#d4362e" d="M115 360.75h1m37 0h1M90 365.26h1m36 0h1m16 0h1m40 0h1M98 369.76h1m15 0h1m33 0h1m11 0h1M112 374.27h1m21 0h1m16 0h1m27 0h1M83 378.77h1m45 0h1m32 0h1m11 0h1m22 0h1m9 0h1M165 383.28h1m19 0h1m33 0h1m58 0h1m61 0h1M95 387.78h1m34 0h1m28 0h1M133 392.29h1m42 0h1m13 0h1m28 0h1m10 0h1M68 396.79h1m2 0h1m113 0h1M126 401.30h1m45 0h1M230 410.31h1m17 0h1M86 414.81h1m112 0h1m13 0h1M157 419.32h1m64 0h1M130 423.82h1M74 432.83h1m25 0h1m67 0h1M163 437.34h1m49 0h1m56 0h1m25 0h1M127 441.84h1m81 0h1M97 446.35h1m23 0h1m31 0h1m44 0h1m6 0h1m3 0h1M118 450.85h1M115 455.36h1M71 459.86h1m7 0h1m85 0h1m44 0h1m5 0h1M142 464.37h1m9 0h1M102 468.87h1m92 0h1M119 473.38h1m8 0h1M69 477.88h1m152 0h1M142 482.39h1m52 0h1m8 0h1M156 486.89h1M86 495.90h1M91 500.41h1M197 504.91h1M193 509.42h2M151 513.92h1m6 0h1m31 0h1M192 518.43h1m9 0h1M92 522.93h1M247 527.44h1m12 0h1m76 0h1m56 0h1M232 531.94h1m18 0h1m21 0h2m108 0h1M264 536.45h1m58 0h1M285 540.95h1M278 545.46h1m51 0h1M240 549.96h1m6 0h1m7 0h1M288 554.47h1m12 0h1m53 0h1M282 558.97h1m111 0h1M248 563.48h1m92 0h1m23 0h1M257 567.98h1m91 0h1m7 0h1M242 572.49h1m2 0h1m123 0h1m17 0h1M349 576.99h1m22 0h1m8 0h1M296 581.50h1M350 586.00h1m4 0h1M309 590.51h1M257 595.01h1m124 0h1M232 599.52h1m31 0h1m56 0h1M240 608.53h1M287 613.03h1m87 0h1M249 617.54h1m46 0h1m96 0h1M250 622.04h1m80 0h1m61 0h1m149 0h1M242 626.55h2m83 0h1m16 0h1m49 0h1m129 0h1M280 631.05h1M238 635.56h1m59 0h1M241 644.57h1m67 0h1m30 0h1m49 0h1M357 649.07h1m9 0h1M80 653.58h1m205 0h1m83 0h1m24 0h1m133 0h1M287 658.08h1m59 0h1M191 662.59h1m67 0h1M231 667.09h1m139 0h1m9 0h1M232 671.60h1m91 0h1M232 676.10h1m61 0h1m67 0h1M303 680.61h1M132 685.11h1m265 0h1m59 0h1m2 0h1m43 0h1m40 0h1M529 689.62h1m28 0h1M421 694.12h1m42 0h1m26 0h1M422 698.63h1m18 0h1m38 0h1m14 0h1m3 0h1m14 0h1m8 0h1m21 0h1m11 0h1M407 703.13h1M482 707.64h1M556 712.14h1M496 721.15h1M473 725.66h1m11 0h1m15 0h1M298 730.16h1m204 0h1M463 734.67h1M410 743.68h1M231 748.18h1m274 0h1"/>
<path stroke="#dca195" d="M117 360.75h1m107 0h1M165 365.26h1m104 0h1M159 369.76h1m127 0h1M348 374.27h1M140 378.77h1m67 0h1M192 383.28h1m20 0h1m45 0h1m188 0h1M276 387.78h1M73 396.79h1m149 0h1m235 0h1M153 401.30h1m30 0h1M279 410.31h1m210 0h1M148 414.81h1m281 0h1M106 419.32h1M92 423.82h1M196 432.83h1m68 0h1m246 0h1M142 437.34h1m39 0h1m260 0h1m43 0h1M295 441.84h1m3 0h1m77 0h1M344 446.35h1M172 450.85h1M239 455.36h1M283 459.86h1m48 0h1m18 0h1M179 464.37h1m54 0h1m132 0h1M351 468.87h1M204 473.38h1m116 0h1m168 0h1M78 477.88h1m55 0h1m8 0h1m2 0h1m58 0h1m62 0h1m87 0h1m68 0h1m28 0h1m89 0h1m9 0h1M345 482.39h1m129 0h1M77 486.89h1m18 0h1m64 0h1m312 0h1M95 491.40h1m29 0h1m25 0h1m5 0h1M198 495.90h1m22 0h1M81 500.41h1m121 0h1m54 0h1m15 0h1m88 0h1m56 0h1m121 0h1M88 504.91h1M347 509.42h1m128 0h1m76 0h1M186 513.92h1m5 0h1m32 0h1m269 0h1M284 522.93h1M306 531.94h1m6 0h1M246 536.45h1M93 540.95h1m72 0h1m90 0h1M259 545.46h1m48 0h1M250 549.96h1m72 0h1m5 0h1m25 0h1M153 558.97h1M289 563.48h1m27 0h1m80 0h1m2 0h1m123 0h2M134 572.49h1m17 0h1m112 0h1m118 0h1M333 576.99h1m159 0h1M348 581.50h1m36 0h1m70 0h1m18 0h1M297 586.00h1M434 599.52h1M290 604.02h1M281 608.53h1M136 613.03h1m225 0h1m189 0h1M268 617.54h1m6 0h1m2 0h1m93 0h1M277 626.55h1m64 0h1m21 0h1m166 0h1M169 635.56h1m105 0h1m142 0h1m60 0h1m62 0h1M386 640.06h1M120 644.57h1m304 0h1M278 649.07h1M198 653.58h1m47 0h1m20 0h2m15 0h1m38 0h1m36 0h1m24 0h1m152 0h1M354 658.08h1M155 662.59h1m125 0h1m149 0h1m4 0h1M275 667.09h1m153 0h1M324 676.10h1M511 680.61h1M99 689.62h1m121 0h1m140 0h1m87 0h1m67 0h1M326 694.12h1M334 698.63h1m66 0h1M471 703.13h1M556 707.64h1M290 712.14h1m25 0h1m175 0h1m5 0h1m22 0h1m25 0h1M261 716.65h1m205 0h1M263 721.15h1m58 0h2m7 0h1M346 730.16h1m39 0h1m165 0h1M181 734.67h1m7 0h1m12 0h1m20 0h1M245 739.17h1M143 743.68h1m86 0h1m27 0h1m119 0h1m126 0h1M70 748.18h1m3 0h1m47 0h1m17 0h1m121 0h1m40 0h1m92 0h1M352 752.69h1m50 0h1M264 757.19h1m96 0h1M162 761.70h1m191 0h1m11 0h1m76 0h1m70 0h1M257 766.20h1m108 0h1m70 0h1"/>
<path stroke="#dca79c" d="M119 360.75h1m100 0h1M348 365.26h1M120 369.76h1M97 383.28h1m278 0h1M104 387.78h1m117 0h1M93 401.30h1m102 0h1M264 410.31h1m176 0h1M74 419.32h1m59 0h1m33 0h1m77 0h1M82 423.82h1m20 0h1m17 0h1m3 0h1m97 0h1m6 0h1M148 428.33h1M258 437.34h1m41 0h1M204 441.84h1m43 0h1m26 0h1m89 0h1M252 446.35h1m62 0h1M213 450.85h1m55 0h1m3 0h1m33 0h1m250 0h1M101 455.36h1m51 0h1m141 0h1M295 464.37h1m39 0h1m24 0h1m25 0h1M140 473.38h1m217 0h1M231 477.88h1M111 482.39h1m179 0h1m106 0h1m106 0h1M272 486.89h1m89 0h1m30 0h1m120 0h1M208 491.40h1m47 0h1m266 0h1M172 495.90h1m24 0h1M101 500.41h1m34 0h1M422 504.91h1m121 0h1M105 509.42h1m64 0h1m12 0h1m104 0h1m98 0h1m79 0h1M94 513.92h1m24 0h1m276 0h1M324 531.94h1m222 0h1M518 536.45h1M68 540.95h1m12 0h1m190 0h1m7 0h1m64 0h1m196 0h1M331 545.46h1m225 0h1M283 549.96h1m41 0h1m123 0h1M539 558.97h1M509 563.48h1M388 567.98h1m26 0h1m86 0h1m2 0h1M94 572.49h1m47 0h1m19 0h1M391 576.99h1M330 581.50h1m185 0h1m35 0h1M289 586.00h1M271 599.52h1m22 0h1m102 0h1M237 604.02h1m76 0h1m14 0h1m55 0h1M344 608.53h1m2 0h1M403 613.03h1m147 0h1M190 617.54h1m238 0h1M530 626.55h1M455 631.05h1M388 635.56h1m70 0h1m62 0h1M249 640.06h1m67 0h1m178 0h1M169 644.57h1m185 0h1M268 649.07h1m214 0h1M75 653.58h1m366 0h1M370 658.08h1m89 0h1M344 662.59h1M74 667.09h1m285 0h1M121 676.10h1m400 0h1M402 680.61h1M72 685.11h1M153 689.62h1m265 0h1m55 0h1m73 0h1M141 694.12h1m58 0h1m34 0h1m35 0h1m67 0h1m53 0h1m157 0h1M304 698.63h1M231 703.13h1m64 0h1m210 0h1M466 707.64h1m70 0h1M397 712.14h1m4 0h1m91 0h1M231 716.65h1m66 0h1m81 0h1m62 0h1m14 0h1M221 721.15h1m81 0h1m71 0h2m6 0h1m40 0h1m45 0h1M240 730.16h1m15 0h1m6 0h1m14 0h1m23 0h1M125 734.67h1m151 0h1m118 0h1M324 739.17h1M124 743.68h1m112 0h1m47 0h1m144 0h1m42 0h1m18 0h1m2 0h1M76 748.18h1m74 0h1m201 0h1m195 0h2M78 752.69h1m256 0h1m88 0h2m96 0h1M516 757.19h1m10 0h1M259 761.70h1m11 0h1m97 0h1m36 0h1m77 0h1M310 766.20h1m163 0h1"/>
<path stroke="#ce5752" d="M120 360.75h1m9 0h1m9 0h1m10 0h1m13 0h1m43 0h1M118 365.26h1m43 0h1M103 369.76h1M82 374.27h1M73 378.77h1m103 0h1m11 0h1M76 383.28h1M142 387.78h1m2 0h1m78 0h1m54 0h1M103 396.79h1m99 0h1m4 0h1m20 0h1M99 401.30h1M360 405.80h1M194 414.81h1M73 419.32h1m69 0h1m51 0h1M68 423.82h1m29 0h1m9 0h1M172 428.33h1M70 432.83h1m27 0h1m127 0h1M110 437.34h1m17 0h1m43 0h1m84 0h1M181 441.84h2m11 0h1m241 0h1M100 446.35h1m62 0h1m55 0h2M111 450.85h1M127 455.36h1m14 0h1M93 468.87h1m85 0h2M77 473.38h1m87 0h1M80 482.39h1m22 0h1m54 0h1m222 0h1M170 486.89h1m10 0h1m31 0h1M153 491.40h2m66 0h1M139 495.90h1m84 0h1m24 0h1M85 504.91h1m23 0h1m33 0h1m258 0h1m35 0h1M160 509.42h1M114 513.92h1m49 0h1m31 0h1m324 0h1M100 518.43h1m106 0h1M165 522.93h1m111 0h1M251 527.44h1m6 0h1m16 0h1M290 536.45h1M278 540.95h1m111 0h1M181 549.96h1m49 0h1m108 0h1m19 0h1m23 0h1M262 554.47h1m1 0h1m54 0h1m66 0h1M268 558.97h1m22 0h1m16 0h1M304 563.48h1m41 0h1M241 567.98h1m80 0h1m64 0h1M288 572.49h1M389 576.99h1M237 581.50h1m132 0h1M238 590.51h1m13 0h1M392 595.01h1M235 599.52h1M307 604.02h1M278 608.53h1m96 0h1M266 613.03h1m6 0h1M236 617.54h1m69 0h1m47 0h1m2 0h1m7 0h1m7 0h1M378 622.04h1M231 626.55h1m51 0h1m3 0h1m7 0h1m63 0h1M371 631.05h1m174 0h1M105 635.56h1m148 0h1m88 0h1M316 640.06h1m5 0h1M211 644.57h1m75 0h1m83 0h1m50 0h1M331 649.07h1m8 0h1m189 0h1M100 653.58h1m27 0h1m212 0h1m60 0h1m113 0h1M250 658.08h1m53 0h1m66 0h1m6 0h1M248 662.59h1m48 0h1m15 0h1M291 667.09h1m35 0h1m5 0h1m39 0h1M329 671.60h1M256 676.10h1m41 0h1m17 0h1M247 680.61h1m32 0h1m109 0h1m89 0h1M407 685.11h1m69 0h1m46 0h1M370 689.62h1m75 0h1m89 0h1M415 694.12h1m33 0h1m39 0h1m48 0h1M530 698.63h1M522 707.64h1m3 0h1M373 712.14h1m162 0h1M497 721.15h1m15 0h1m21 0h1M508 725.66h1M100 734.67h1m166 0h1M307 739.17h1m245 0h1M266 743.68h1m201 0h1M515 752.69h1M152 757.19h1M299 761.70h1m27 0h1m45 0h1m30 0h1m5 0h1m20 0h1"/>
<path stroke="#f39962" d="M121 360.75h1m10 0h1M87 365.26h1M196 374.27h1m4 0h1m28 0h1M131 378.77h1m37 0h1m56 0h1M202 392.29h1m24 0h1M95 405.80h1m277 0h1m71 0h1M129 410.31h1m10 0h1m169 0h1M94 414.81h1m46 0h1M73 423.82h1m19 0h1m13 0h1m114 0h1M93 428.33h1M75 441.84h1M214 455.36h1M96 459.86h1m35 0h1m38 0h1M136 464.37h1M123 468.87h1m18 0h1m3 0h1m41 0h1m24 0h1m2 0h2m76 0h1m12 0h1M144 473.38h1m112 0h1m9 0h1M136 477.88h1m11 0h1m12 0h1m11 0h1m15 0h1m2 0h1M121 482.39h1m358 0h1M355 491.40h1M170 495.90h1M117 504.91h1m37 0h1m47 0h1M167 509.42h1m11 0h1m5 0h1m27 0h1m1 0h1m12 0h1m240 0h1M113 513.92h1m38 0h2m44 0h1m286 0h1M110 518.43h1m30 0h1m32 0h1m190 0h1M74 522.93h1m21 0h1m35 0h1m6 0h1m56 0h1m9 0h1m170 0h1M329 531.94h1M94 540.95h1M342 545.46h1m20 0h1M237 554.47h1m247 0h1M146 558.97h1m32 0h1m30 0h1m48 0h1m71 0h1M233 572.49h1m5 0h1m132 0h1M277 576.99h1M102 590.51h1m132 0h1m63 0h1m43 0h1m33 0h1m98 0h1M240 595.01h1m35 0h1m22 0h1m11 0h1m3 0h1m22 0h1M262 599.52h1m116 0h1M293 608.53h1M304 613.03h1M376 617.54h1M294 622.04h1m10 0h1m41 0h1m32 0h1m1 0h1M547 626.55h1M201 635.56h1m242 0h1M389 640.06h1M220 644.57h1m133 0h1M295 649.07h1m73 0h1M408 653.58h1M235 658.08h1m59 0h1m49 0h1M114 667.09h1m273 0h1m132 0h1M300 676.10h1m16 0h1m16 0h1m9 0h1M131 680.61h1m32 0h1m110 0h1m26 0h1m121 0h1m107 0h1M427 685.11h1m9 0h1m35 0h1M111 689.62h1m43 0h1M553 694.12h1M380 703.13h1m138 0h1M410 707.64h1M447 712.14h1M429 721.15h1M240 725.66h1m140 0h1m64 0h1M412 752.69h1M248 761.70h1"/>
<path stroke="#ddbcb2" d="M122 360.75h1M274 369.76h1M521 378.77h1M469 383.28h2M354 396.79h1m34 0h1M455 401.30h1M120 419.32h1m4 0h1m32 0h1M115 423.82h1m18 0h1m8 0h1M247 432.83h2m125 0h1m65 0h1M73 437.34h1m133 0h1m205 0h1M199 441.84h1m43 0h1m214 0h1M277 446.35h1m86 0h2m60 0h1m9 0h1m11 0h1m66 0h1M352 450.85h1m73 0h1M272 455.36h1m11 0h1m79 0h1M206 464.37h1m59 0h1m123 0h1m33 0h1m111 0h1M92 473.38h1m150 0h1m176 0h1m29 0h1m81 0h1M318 477.88h1m40 0h1m58 0h1M130 482.39h1m107 0h1m95 0h1m167 0h1M397 486.89h1m142 0h1M362 491.40h1m100 0h1M102 495.90h1m70 0h1m193 0h1m4 0h1M182 500.41h1m49 0h1m1 0h1m138 0h1m69 0h2M275 509.42h1M87 513.92h1M278 536.45h1m57 0h1m101 0h1m60 0h1M74 540.95h1m165 0h1m33 0h1M348 545.46h1m96 0h1M141 549.96h1m221 0h1m93 0h1M262 563.48h1m18 0h1m93 0h1m6 0h1m14 0h1M93 572.49h1m169 0h1m23 0h1m98 0h1M484 576.99h1M192 581.50h1m110 0h1m216 0h1m18 0h1M120 586.00h1m200 0h1M103 590.51h1M240 599.52h1M272 604.02h1m37 0h1m15 0h1m4 0h1M313 608.53h1m173 0h1M171 613.03h1m267 0h1M258 617.54h1m45 0h1m28 0h2M222 626.55h1m190 0h1M313 631.05h1m241 0h1M112 635.56h1m200 0h1m32 0h1m167 0h1M253 640.06h1m11 0h2m186 0h1M399 649.07h1m22 0h1M157 653.58h1m11 0h1m50 0h1m247 0h2M97 658.08h1m44 0h1m123 0h1m139 0h1m101 0h1m22 0h1M211 662.59h1m29 0h1m148 0h1M505 680.61h1M343 689.62h1m97 0h1M254 694.12h1m79 0h1M417 707.64h1M139 712.14h1m165 0h1m45 0h1m202 0h1M361 716.65h1m51 0h1M401 721.15h1m63 0h1M265 730.16h1m126 0h1m42 0h1m41 0h1M81 734.67h1m63 0h1m70 0h1m44 0h1m142 0h1m79 0h1M259 739.17h1m72 0h1m20 0h1m86 0h1M158 743.68h1m19 0h2m94 0h1m22 0h1m62 0h1m62 0h1m47 0h1M198 748.18h1m167 0h1M190 752.69h1m82 0h1m62 0h1m172 0h1M95 761.70h2m85 0h1m16 0h1m106 0h1m40 0h1m141 0h1M186 766.20h1"/>
<path stroke="#cec9cc" d="M123 360.75h1m172 0h1m71 0h1m97 0h1M384 365.26h1m6 0h1M107 369.76h1m130 0h1m1 0h1m13 0h1M190 383.28h2m2 0h1m12 0h1m57 0h1m108 0h1m144 0h1M97 387.78h1m37 0h1m96 0h1M189 396.79h1m231 0h1m47 0h1m17 0h1m8 0h1M222 410.31h1m143 0h2m176 0h1M242 414.81h1m81 0h1m70 0h1m31 0h1m61 0h1M520 428.33h1M161 432.83h1m27 0h1m126 0h1m35 0h1m187 0h1M245 437.34h1m310 0h1M310 441.84h1m19 0h1m1 0h1m6 0h1m54 0h1m163 0h1M231 446.35h1m35 0h1m84 0h1M144 450.85h1m120 0h1m159 0h1m60 0h1M157 455.36h1m25 0h1m17 0h1m132 0h1m163 0h1M328 464.37h1m21 0h1m8 0h1m56 0h1M534 468.87h1M79 473.38h1m140 0h1m30 0h1m96 0h1m14 0h1M168 482.39h1m62 0h1m5 0h1m181 0h1m69 0h1M202 486.89h1m188 0h1m138 0h1m11 0h1m8 0h1M70 491.40h1m14 0h1m169 0h1M165 500.41h1m123 0h1m48 0h1m33 0h1M204 504.91h1m179 0h1m77 0h1m68 0h1M136 509.42h1m303 0h1m90 0h1m11 0h1M258 513.92h1m5 0h1M70 531.94h1m17 0h1m156 0h1m24 0h1m124 0h1M207 536.45h1m27 0h1m131 0h1m16 0h1m81 0h1m13 0h1m60 0h1M251 545.46h1m23 0h1M553 554.47h1M272 558.97h1m235 0h1M473 563.48h1m12 0h1m8 0h1m28 0h1m8 0h1m1 0h1M498 567.98h1M369 576.99h1M221 586.00h1m98 0h1m24 0h1m69 0h1m10 0h1m49 0h1m19 0h1m9 0h1m13 0h1m14 0h1M369 599.52h1m90 0h1m27 0h1m27 0h1M185 613.03h1m69 0h1m65 0h1m13 0h1m23 0h1m38 0h1m2 0h1m129 0h1M327 617.54h1m157 0h1M84 626.55h1m136 0h1m7 0h1m18 0h1m82 0h1m17 0h1m161 0h1M246 631.05h1m46 0h1m34 0h1m142 0h1m62 0h1M103 635.56h1m12 0h1m99 0h1m131 0h1m43 0h1M78 640.06h1m45 0h1m70 0h1m170 0h1m46 0h1m76 0h1M75 644.57h1m97 0h1m3 0h1m36 0h1m7 0h1m95 0h1m230 0h1M82 649.07h1m22 0h1m241 0h1m53 0h1m48 0h1m4 0h1m72 0h1M348 653.58h1m121 0h1m35 0h1m26 0h1M178 658.08h1m187 0h1M210 662.59h1m106 0h1m36 0h1m31 0h1m76 0h1M260 667.09h1m275 0h1M454 680.61h1m48 0h1M176 689.62h1m63 0h1m109 0h1m40 0h1m85 0h1M79 694.12h1m237 0h1m40 0h1m119 0h1M353 703.13h1m182 0h1M255 712.14h1m52 0h1m16 0h1m15 0h1m19 0h1m63 0h1m103 0h1M235 716.65h1m12 0h1m9 0h1m8 0h2m12 0h1m5 0h1m24 0h1m23 0h1m97 0h1m9 0h1m79 0h1M123 757.19h1m82 0h1M506 766.20h1"/>
<path stroke="#cb4745" d="M124 360.75h1M76 365.26h1M91 369.76h1m77 0h1M205 374.27h1M125 378.77h1m91 0h1M292 383.28h1m89 0h1M100 387.78h1M191 392.29h1M128 396.79h1m51 0h1m30 0h1M103 401.30h1m28 0h1m52 0h1m29 0h1M127 405.80h1M218 423.82h1M150 428.33h1M446 432.83h1M103 437.34h1m12 0h1m109 0h1M89 446.35h1M185 450.85h1m1 0h1M545 455.36h1M212 473.38h1M166 477.88h1m280 0h1M172 486.89h1M88 491.40h1m34 0h1M140 500.41h1M556 504.91h1M137 513.92h1m63 0h1m28 0h1M156 518.43h1M176 522.93h1M236 527.44h1M298 531.94h1M259 540.95h1M306 545.46h1m79 0h1m1 0h1M273 549.96h1M524 567.98h1M274 581.50h1M268 586.00h1M308 595.01h1M311 608.53h1M383 613.03h1M277 617.54h1m39 0h1m71 0h1m2 0h1M371 622.04h1M239 626.55h1M324 631.05h1m27 0h1m39 0h1M339 640.06h1m201 0h1M248 644.57h1m112 0h1M334 649.07h1m3 0h1M406 653.58h1M332 662.59h1m40 0h1m117 0h1m15 0h1M243 667.09h1m134 0h1M210 671.60h1M332 676.10h1m46 0h1M195 685.11h1m305 0h1m21 0h1M513 689.62h1M414 698.63h1m134 0h1M323 703.13h1m76 0h1M519 707.64h1m3 0h1M454 712.14h1M507 721.15h1M522 725.66h1m2 0h1M481 739.17h1M463 743.68h1M469 752.69h1M458 757.19h1M468 761.70h1"/>
<path stroke="#de8d7d" d="M127 360.75h1m9 0h1m6 0h1m42 0h1m277 0h1M123 365.26h1m266 0h1M76 369.76h1m3 0h1m58 0h1M148 374.27h1M151 378.77h1m14 0h1m17 0h1M348 383.28h1M378 387.78h1M141 392.29h1m51 0h1M488 396.79h1M97 401.30h1M357 405.80h1M208 410.31h1m79 0h1m110 0h1M196 414.81h1m28 0h1m170 0h1M76 419.32h1M76 423.82h1m114 0h1m29 0h1M143 428.33h1m167 0h1m116 0h1M159 432.83h1m69 0h1M102 437.34h1M101 441.84h1m51 0h1m36 0h1m26 0h1m155 0h1M266 446.35h1m20 0h1m30 0h1m19 0h1M106 450.85h1m107 0h1m82 0h1m15 0h1m7 0h1M279 455.36h1m66 0h1m149 0h1m20 0h1M106 459.86h1m81 0h1M177 464.37h1m37 0h1M73 468.87h1M154 473.38h1m136 0h1m13 0h1M89 477.88h1m87 0h1m69 0h1M133 482.39h1m112 0h1M160 486.89h1m218 0h1m44 0h1m98 0h1M112 491.40h1m13 0h1m98 0h1m27 0h1m44 0h1m87 0h1M171 495.90h1m169 0h1M134 504.91h1m111 0h1m64 0h1m11 0h1M428 509.42h1M289 513.92h1M484 522.93h1M250 527.44h1m61 0h1m28 0h1m12 0h1M271 531.94h1m22 0h1m49 0h1m6 0h1m18 0h1M377 536.45h1m38 0h1M109 540.95h1m90 0h1m115 0h1m15 0h1M331 554.47h1m21 0h1M244 558.97h1m52 0h1m65 0h1m174 0h1M330 563.48h1m6 0h1m134 0h1m16 0h1M304 567.98h1m164 0h1M267 572.49h1m107 0h1M268 576.99h1m68 0h1m33 0h1m111 0h1M263 581.50h1M519 586.00h1M373 590.51h1M287 595.01h1M355 599.52h1M295 604.02h1M243 608.53h1m76 0h1m56 0h1M256 613.03h1m203 0h1M293 617.54h1M360 622.04h1M299 626.55h1m12 0h1m32 0h1m28 0h1m148 0h1M162 631.05h1m101 0h1m56 0h1m123 0h1m6 0h1m5 0h1m9 0h1m3 0h1M228 635.56h1m70 0h1m227 0h1M320 640.06h1m41 0h1m38 0h1m9 0h1m16 0h1m18 0h1M338 644.57h1M259 649.07h1m257 0h1m9 0h1M293 653.58h1m70 0h1m71 0h1m102 0h1M192 658.08h1m114 0h1m186 0h1M467 662.59h1M456 667.09h1M201 676.10h1m338 0h1M70 680.61h1m216 0h1m68 0h1m56 0h1M400 685.11h1m3 0h1M511 689.62h1m13 0h1M78 694.12h1m134 0h1m47 0h1m58 0h1m185 0h1M464 703.13h1m20 0h1M465 707.64h1M256 712.14h1m40 0h1m29 0h1m103 0h1m59 0h1M236 716.65h1m146 0h1m122 0h1m48 0h1M255 721.15h1m153 0h1m6 0h1m99 0h1m14 0h1M242 725.66h1m31 0h1M247 730.16h1m105 0h1m155 0h1M73 734.67h1m35 0h1m26 0h1m18 0h1m74 0h1m27 0h1m16 0h1m36 0h1m101 0h1M314 739.17h1M94 743.68h1m107 0h1m148 0h1M211 748.18h1m68 0h1m44 0h1m5 0h1m16 0h1M262 757.19h1M113 761.70h1m102 0h1"/>
<path stroke="#beb9c2" d="M131 360.75h1m49 0h1M77 365.26h1m83 0h1m149 0h1m18 0h1M465 369.76h1m86 0h1M84 374.27h1m64 0h1m156 0h1m63 0h1m47 0h1m78 0h1M142 383.28h1m28 0h1m10 0h1m26 0h1m6 0h1m22 0h1m55 0h1m32 0h1m183 0h1M77 387.78h1m63 0h1m49 0h1m24 0h1m185 0h1m22 0h1m94 0h1M417 396.79h1M269 405.80h1m6 0h1m149 0h1M92 410.31h1m37 0h1m113 0h1m33 0h1m13 0h1m21 0h1m137 0h1m19 0h1m50 0h1M112 414.81h1m68 0h1m30 0h1m102 0h1m22 0h1m80 0h1M203 428.33h1m151 0h1m142 0h1M138 432.83h1m4 0h1m53 0h1m12 0h1m153 0h1M120 437.34h1m18 0h1m76 0h1M68 441.84h1m21 0h1m15 0h1m184 0h1M357 446.35h1m48 0h2m128 0h2m9 0h1M86 450.85h1m114 0h1m124 0h1M214 464.37h1m90 0h1m14 0h1M158 473.38h1m150 0h1m28 0h1M92 482.39h1m21 0h1m132 0h1m295 0h1M72 486.89h1m148 0h1m223 0h1m37 0h1M171 491.40h1m18 0h1M153 500.41h1m227 0h1M84 504.91h1m167 0h1m160 0h1m25 0h1m8 0h1M238 509.42h1m236 0h1M375 513.92h1m182 0h1M346 518.43h1M141 522.93h1m367 0h1M313 527.44h1m81 0h1m53 0h1m38 0h1m27 0h1M247 531.94h1m8 0h1M272 536.45h1m81 0h1m33 0h1m81 0h1M319 545.46h1m21 0h1m151 0h1M239 558.97h1m6 0h1m7 0h1m7 0h1m3 0h1m102 0h1m4 0h1M112 563.48h1m125 0h1m15 0h1m22 0h1m23 0h1m36 0h1m10 0h1m6 0h1m5 0h1M167 567.98h1m132 0h1m71 0h1m9 0h1m128 0h1m40 0h1M238 576.99h1m109 0h1M537 590.51h1M89 595.01h1M340 599.52h1m128 0h1m30 0h1m17 0h1M224 613.03h1m73 0h1m13 0h1m61 0h1m152 0h1M243 617.54h1m2 0h1m139 0h1m164 0h1M122 626.55h1m161 0h1m26 0h1M372 644.57h1m7 0h1m2 0h1m4 0h1m61 0h1m105 0h1M252 662.59h1m14 0h1m52 0h1m29 0h1m12 0h1m123 0h1M269 667.09h1m164 0h1m22 0h1M130 671.60h1m325 0h1M459 676.10h1M272 680.61h1m32 0h1m6 0h2m33 0h1m5 0h1m10 0h1m75 0h1M95 685.11h1m41 0h1m31 0h1M134 694.12h1m274 0h1m34 0h1m13 0h1m57 0h1M187 698.63h1m128 0h1M395 703.13h1m65 0h1m38 0h1m2 0h1M181 716.65h1m61 0h1m70 0h1m8 0h1m21 0h2m41 0h1m102 0h1m4 0h1m26 0h1M273 725.66h1M86 757.19h1m94 0h1m246 0h1m4 0h1m23 0h1m2 0h1m14 0h1m23 0h1m29 0h1m4 0h1m9 0h2"/>
<path stroke="#d0a09b" d="M134 360.75h1m68 0h1M78 369.76h1m20 0h1m101 0h1m23 0h1M161 378.77h1M169 383.28h1M117 401.30h1m99 0h1M336 405.80h1M136 410.31h1m15 0h1m233 0h1m39 0h1m7 0h1M168 414.81h1m105 0h1m16 0h1m185 0h1M133 419.32h1m87 0h1M551 423.82h2M201 428.33h1m9 0h1M377 432.83h1m34 0h1m91 0h1M81 437.34h1m51 0h1m264 0h1M103 441.84h1m13 0h1M380 450.85h1M80 455.36h1m319 0h1m53 0h1M115 459.86h1m129 0h1m93 0h1M306 468.87h1m48 0h1M337 473.38h1m51 0h1M138 477.88h1m292 0h2M94 482.39h1M218 486.89h1m126 0h1M116 491.40h1m22 0h1m62 0h1m64 0h1M356 495.90h1m185 0h1M126 500.41h1m25 0h1m70 0h1m120 0h1M159 504.91h1m145 0h1m12 0h1m73 0h1m31 0h1m49 0h1M127 509.42h1m282 0h1m84 0h1M136 513.92h1m310 0h1M259 518.43h1m53 0h1M131 522.93h1m115 0h1m143 0h1m61 0h1M385 527.44h1M307 536.45h1m11 0h1M253 540.95h1m32 0h1m49 0h1M241 545.46h1m44 0h1M169 549.96h1M255 554.47h1M90 558.97h1m183 0h1m29 0h1M512 567.98h1M291 572.49h1m50 0h1M367 576.99h1m22 0h1M287 586.00h1m82 0h1M388 590.51h1M345 599.52h1M301 604.02h1m87 0h1M300 608.53h1M264 613.03h1m38 0h1M426 617.54h1M467 622.04h1m14 0h1M89 626.55h1m352 0h1m27 0h2M254 640.06h2m151 0h1M111 644.57h1m218 0h1m78 0h1M507 649.07h1M192 653.58h2m7 0h1m339 0h1M280 658.08h1m77 0h1m25 0h1m94 0h1M333 662.59h1m70 0h1M254 667.09h1m61 0h1m109 0h1M93 671.60h1m278 0h1M274 680.61h1m15 0h1m37 0h1m40 0h1M76 685.11h1M512 694.12h1M364 698.63h1m12 0h1M374 712.14h1m120 0h1M325 721.15h1m12 0h1m145 0h1M239 730.16h1m69 0h1m22 0h1m209 0h1M97 734.67h1m166 0h1m147 0h1M455 739.17h1m51 0h1M201 743.68h1m39 0h1m51 0h1M168 748.18h2m65 0h1m136 0h1M156 757.19h1m10 0h1m355 0h1M331 761.70h1m110 0h1M485 766.20h1"/>
<path stroke="#fbca83" d="M136 360.75h1M85 365.26h1m47 0h1M196 369.76h1M92 374.27h1m67 0h1m239 0h1M134 378.77h1M195 392.29h1m8 0h1m54 0h1M122 396.79h1m79 0h1M197 401.30h1M158 405.80h1m3 0h1m124 0h1m5 0h1m92 0h1M147 410.31h1m123 0h1m8 0h1m46 0h1M173 419.32h1M121 428.33h1m5 0h1m128 0h1m53 0h1m37 0h1M290 441.84h1M112 459.86h1m68 0h1m10 0h1m12 0h1m12 0h1m160 0h1m75 0h1M120 464.37h1m165 0h1m68 0h1M80 468.87h1m15 0h1m15 0h1m46 0h1m36 0h1m93 0h1m20 0h1m14 0h1m15 0h1m7 0h1m31 0h1M95 473.38h1m36 0h1m78 0h1m91 0h1m8 0h1m37 0h1m34 0h1M95 477.88h1m211 0h1m31 0h1M283 482.39h1m20 0h1m195 0h1M91 486.89h1m277 0h1M383 491.40h2M331 495.90h1M368 500.41h1m1 0h1M70 504.91h1m145 0h1m229 0h1M97 509.42h2m16 0h1m40 0h1m17 0h1m112 0h1m117 0h1M118 513.92h1m38 0h1m29 0h1m177 0h1m95 0h1m18 0h1M69 518.43h1m24 0h1m35 0h1m48 0h1m19 0h1m18 0h1m111 0h1m23 0h1M80 522.93h1m7 0h1m5 0h1m20 0h1m10 0h1m10 0h1m2 0h1m43 0h1m10 0h1m14 0h1m283 0h1M283 531.94h1m37 0h1M263 545.46h1M285 549.96h1M295 554.47h1m3 0h1m25 0h1m4 0h1m21 0h1m15 0h1m84 0h1M83 558.97h1m23 0h1m49 0h1m9 0h1m10 0h1m12 0h1m4 0h1m222 0h1m15 0h1M68 576.99h1m310 0h1M144 590.51h1m23 0h1m27 0h1m32 0h1m25 0h1m8 0h1m110 0h1m26 0h1m35 0h1m33 0h1M79 595.01h1m17 0h1m68 0h1m9 0h1m10 0h1m14 0h1m90 0h1m3 0h1m16 0h1m39 0h1m7 0h1m5 0h1M97 599.52h1m40 0h1M345 608.53h1M96 613.03h1m125 0h1M278 622.04h1m193 0h1M253 631.05h1m130 0h1M77 635.56h1m187 0h1M70 644.57h1m18 0h1m221 0h1M315 649.07h1m11 0h1M342 653.58h1m92 0h1M174 658.08h1M121 662.59h2m34 0h1m59 0h1M188 667.09h1m31 0h1m34 0h1m138 0h1m20 0h1m81 0h1m26 0h1m32 0h1M85 671.60h1m29 0h1m11 0h1m118 0h1m48 0h1m2 0h1m70 0h1m50 0h1m33 0h1m21 0h1M71 676.10h1m28 0h1m73 0h1m1 0h1m232 0h1M158 680.61h2m117 0h1m137 0h1m71 0h1m14 0h1M482 685.11h1M270 694.12h1M335 698.63h1M327 703.13h1M447 721.15h1m78 0h1M278 725.66h1m121 0h1m33 0h2m8 0h1m16 0h1m18 0h1m36 0h1M159 739.17h1M247 757.19h1M275 761.70h1"/>
<path stroke="#e17d63" d="M139 360.75h1M88 365.26h1m47 0h1M74 374.27h1m122 0h1M80 378.77h1m12 0h1m17 0h1m35 0h1m25 0h1m16 0h1M247 383.28h1M286 387.78h1M84 392.29h1M163 396.79h1m355 0h1M147 401.30h1m38 0h1m367 0h1M195 405.80h1m79 0h1M316 410.31h1M77 414.81h1m13 0h1m282 0h1M174 428.33h1m21 0h1m35 0h1m59 0h1M86 432.83h1m95 0h1M108 441.84h1m106 0h1M79 446.35h1m132 0h1m55 0h1m48 0h1m18 0h1m181 0h1M107 450.85h1m2 0h1m325 0h1M77 455.36h1M173 459.86h1M105 464.37h1m212 0h1m101 0h1M82 468.87h1m206 0h1M134 473.38h1m26 0h1m36 0h1m1 0h1m92 0h1M174 477.88h1m277 0h1m47 0h1M164 482.39h1m10 0h1m40 0h1m13 0h1m315 0h1M264 486.89h1m213 0h1M438 491.40h1m107 0h1M80 495.90h1m180 0h1m9 0h1M127 500.41h1m51 0h1m146 0h1m23 0h1M141 504.91h1m335 0h1M188 509.42h1m33 0h1m17 0h1m213 0h1M106 513.92h1m32 0h1m68 0h1m1 0h1m11 0h1m63 0h1m133 0h1M98 522.93h1m52 0h1M315 527.44h1M494 536.45h1M177 540.95h1m192 0h1M273 545.46h1M353 549.96h1m16 0h1M333 558.97h1M247 563.48h1M336 567.98h1M255 572.49h1m27 0h1M284 576.99h1M338 581.50h1m20 0h1m2 0h1m169 0h1M240 586.00h1M345 590.51h1m8 0h1M301 595.01h1m45 0h1M165 599.52h1m75 0h1m128 0h1m37 0h1M313 604.02h1M256 608.53h2m40 0h1m93 0h1M276 613.03h1M276 617.54h1m84 0h1m5 0h1m119 0h1M320 622.04h1m46 0h1m7 0h1m69 0h1M192 626.55h1m198 0h2M368 631.05h1M289 635.56h1m164 0h1M378 640.06h1m159 0h1M236 644.57h1M95 649.07h1m137 0h1m8 0h1m106 0h1m11 0h1m50 0h1M432 653.58h1M134 658.08h1m203 0h1m35 0h1M453 662.59h1M192 667.09h1m48 0h1m55 0h1m61 0h1m177 0h1M283 676.10h1m70 0h1M311 680.61h1m19 0h1m167 0h1M219 685.11h1m176 0h1m132 0h1M128 689.62h1M500 694.12h1m17 0h1M97 698.63h1M491 703.13h1M399 707.64h1m8 0h1m142 0h1M235 712.14h2m236 0h1m11 0h1M277 721.15h1m54 0h1m144 0h1M465 725.66h1M423 730.16h1m123 0h1M472 734.67h1M357 739.17h1M369 743.68h1m187 0h1M232 748.18h1m74 0h1M487 752.69h1m43 0h1m22 0h1M238 757.19h1M217 766.20h1m91 0h1m245 0h1"/>
<path stroke="#e1ae8e" d="M141 360.75h1M193 365.26h1M361 369.76h1M132 374.27h1m254 0h1m119 0h1M127 378.77h1M291 383.28h1M212 387.78h1m16 0h1m44 0h1M209 396.79h1m23 0h1M314 405.80h1M376 410.31h1m52 0h1M92 428.33h1m40 0h1m300 0h1M245 441.84h1m5 0h1M210 450.85h1M321 455.36h1m15 0h1m46 0h1m91 0h1M242 459.86h1m80 0h1M71 464.37h1M189 468.87h1M248 473.38h1M93 477.88h1m257 0h1M496 482.39h1M320 486.89h1m107 0h1M181 491.40h1m95 0h1m30 0h1m222 0h1M208 495.90h1m84 0h1M90 500.41h1m8 0h1m91 0h1M405 504.91h1m38 0h1M85 509.42h1m140 0h1m175 0h1m63 0h1m50 0h1m21 0h1M69 513.92h1m61 0h1m228 0h1m66 0h1m64 0h1m9 0h1m15 0h1m21 0h1M316 518.43h1M271 522.93h1m35 0h1m15 0h1m100 0h1M280 531.94h1m113 0h1M265 536.45h1M289 545.46h1M253 554.47h1m276 0h1m6 0h1M504 558.97h1M388 563.48h1M288 567.98h1m241 0h1M170 572.49h1M393 576.99h1M259 586.00h1m125 0h1m45 0h1M271 590.51h1m6 0h1m53 0h1M88 595.01h1m395 0h1M93 599.52h1m105 0h1M138 613.03h1m60 0h1m154 0h1M254 617.54h1m47 0h1m67 0h1m42 0h1M396 622.04h1m81 0h1M131 626.55h1m26 0h1m46 0h1m83 0h1m72 0h1M150 631.05h1M235 635.56h1m9 0h1m23 0h1M235 640.06h1m129 0h1m37 0h1M112 644.57h1m16 0h1m121 0h1m29 0h1m61 0h1m149 0h1M238 649.07h1m113 0h1M90 653.58h1m165 0h1m92 0h1m2 0h1m20 0h1m99 0h1M75 658.08h1m76 0h1m92 0h1m9 0h1M389 662.59h1m3 0h1M252 667.09h1M183 671.60h1m133 0h1m137 0h1m22 0h1m45 0h1M168 676.10h1m55 0h1m130 0h1m44 0h1M129 680.61h1m121 0h1m17 0h1M102 685.11h1m336 0h1m54 0h1M80 689.62h1m337 0h1M124 698.63h1m61 0h1m329 0h1M317 703.13h1m151 0h1m44 0h1m37 0h1M403 707.64h1m34 0h1M387 712.14h1m60 0h1M344 721.15h1m191 0h1M346 725.66h1m124 0h1M293 739.17h1M478 757.19h1M85 761.70h1"/>
<path stroke="#df513a" d="M143 360.75h1M71 365.26h2m36 0h1m18 0h1m48 0h1M124 369.76h1m54 0h1m4 0h1M115 374.27h1m19 0h1m4 0h1m13 0h1m47 0h1m13 0h1M117 378.77h1m2 0h1m73 0h1M81 387.78h1m49 0h1m40 0h1m14 0h1m38 0h1M102 392.29h1m63 0h1m4 0h1M78 396.79h1m80 0h1m34 0h1m234 0h1m42 0h1M128 405.80h1m22 0h1m23 0h1m1 0h1m1 0h1m10 0h1m188 0h1M134 410.31h1m21 0h2m2 0h1m85 0h1m123 0h1M108 414.81h1m14 0h1m55 0h1m48 0h1M104 423.82h1m47 0h1M81 428.33h1m17 0h1m10 0h1m5 0h1m74 0h1M128 432.83h1M111 437.34h2m40 0h1m29 0h1M72 441.84h1m37 0h1m7 0h1m10 0h1m4 0h1m28 0h1m148 0h1M325 446.35h1m65 0h1M127 450.85h1m196 0h1M72 455.36h1M100 459.86h1m12 0h1m34 0h1m71 0h1m60 0h1M113 464.37h1m27 0h1m1 0h1m42 0h1m42 0h1M70 468.87h1m4 0h1m8 0h1m69 0h2m20 0h1m4 0h1m22 0h1m6 0h1m12 0h1m15 0h1m27 0h1m43 0h1m56 0h1m7 0h1M85 473.38h1m19 0h1m74 0h1m16 0h1m18 0h1M90 477.88h1m48 0h1m20 0h1M132 482.39h1m88 0h1m6 0h1m141 0h1M100 486.89h1m79 0h1M96 491.40h1m91 0h1m7 0h1m13 0h2m7 0h1m48 0h1M128 495.90h1m20 0h1M119 500.41h1m30 0h1m194 0h1M178 504.91h1m303 0h1M102 509.42h1m22 0h1m84 0h1m203 0h1M78 513.92h1m49 0h1m99 0h1M126 518.43h1m33 0h1m2 0h1M193 522.93h1m119 0h1M270 527.44h1m36 0h1m2 0h1m62 0h1m15 0h1m96 0h1M323 531.94h1M309 536.45h1M260 540.95h1m107 0h1M240 545.46h1m97 0h1M265 549.96h1m83 0h1m24 0h1M272 554.47h1m44 0h1m40 0h1m7 0h1m9 0h1m12 0h1m2 0h1m150 0h1M263 558.97h1m38 0h1m20 0h1M327 563.48h1m51 0h1m152 0h1M247 567.98h1M243 572.49h1m58 0h1m4 0h1m40 0h1m15 0h1M260 576.99h1M232 590.51h1m42 0h1m102 0h1M283 595.01h1m51 0h1M312 599.52h1m19 0h1m130 0h1M247 608.53h1m14 0h1m44 0h1M288 613.03h1m36 0h1m19 0h1m27 0h1M247 617.54h1m77 0h1m22 0h1M247 622.04h1m40 0h1m20 0h1m13 0h1m9 0h1m86 0h1m112 0h1M240 626.55h2m104 0h1m194 0h1M243 631.05h1m225 0h1M332 635.56h1M308 640.06h1m34 0h1M370 644.57h1M390 649.07h1M185 653.58h1m65 0h1m1 0h1m107 0h1m24 0h1m6 0h1M264 658.08h1m20 0h1m186 0h1M364 662.59h1M281 667.09h1m75 0h1M249 671.60h1m3 0h1m3 0h1m8 0h1m3 0h1m54 0h1m19 0h1M235 676.10h1m3 0h1m7 0h1m30 0h1m61 0h1m10 0h1m6 0h1M300 680.61h1M74 685.11h1m423 0h1m40 0h1M217 689.62h1m179 0h1m128 0h1M379 698.63h1m41 0h1m36 0h2m43 0h1m47 0h1M468 707.64h1M412 712.14h1m28 0h1m30 0h1M540 716.65h1M551 721.15h1M463 725.66h1M416 730.16h1M180 748.18h1M136 761.70h1m253 0h1"/>
<path stroke="#ac3956" d="M146 360.75h1m72 0h1m1 0h1M147 365.26h1M178 369.76h1m190 0h1m178 0h1M76 378.77h1m88 0h1M78 383.28h2m48 0h1m14 0h1m37 0h1m2 0h1M105 396.79h1m71 0h1M108 401.30h1m56 0h1m43 0h1M92 405.80h1M180 410.31h1m194 0h1M127 414.81h1m335 0h1M85 419.32h1M124 423.82h1m7 0h1M159 428.33h1m1 0h1m55 0h1m7 0h1M71 432.83h1m8 0h1m32 0h1m50 0h1m9 0h1m28 0h1m275 0h1M86 437.34h1m100 0h1m3 0h1m7 0h1M219 441.84h1m85 0h1M346 446.35h1m41 0h1M77 450.85h1m3 0h1m11 0h1m57 0h1m34 0h1M86 455.36h1m16 0h1m20 0h1M103 468.87h1m18 0h1m61 0h1m114 0h1m84 0h1M83 473.38h1M450 477.88h1M152 482.39h1m4 0h1m18 0h1m6 0h1M109 486.89h1m5 0h1m35 0h1m35 0h1m34 0h1M158 491.40h1m7 0h1m5 0h1m49 0h1m174 0h1M80 500.41h1m78 0h1m20 0h2M396 509.42h1M98 518.43h1M342 522.93h1M333 527.44h1m26 0h1m65 0h1m31 0h1M261 536.45h1m96 0h1m23 0h2m3 0h1m3 0h1m125 0h1m9 0h1M311 540.95h1m28 0h1m33 0h1M245 545.46h1m6 0h1m26 0h1m101 0h1M246 554.47h1m40 0h1m8 0h1m97 0h1M68 558.97h1m166 0h1m4 0h1m12 0h1M315 563.48h1m36 0h1m14 0h2m3 0h1M233 567.98h1m17 0h1m69 0h1m209 0h1M252 576.99h1m139 0h1M231 581.50h1m23 0h1m57 0h1M260 586.00h1m17 0h1m47 0h1m10 0h2m1 0h1m24 0h1m63 0h1m120 0h1M361 595.01h1m2 0h1M89 599.52h1m175 0h1m70 0h1m100 0h1M266 604.02h1M242 608.53h1m258 0h1M268 613.03h1m50 0h1m73 0h1m151 0h1M244 617.54h1m236 0h1M379 622.04h1m60 0h1m18 0h1m11 0h1M306 626.55h1m69 0h1m13 0h1M289 631.05h1m60 0h1m60 0h1M317 635.56h1m44 0h1m93 0h1m49 0h1m3 0h1M347 640.06h1M386 644.57h1M492 649.07h1M368 653.58h1m18 0h1M278 658.08h1m44 0h1m5 0h1m7 0h1M233 662.59h1m74 0h1m20 0h1m8 0h1m9 0h1M237 667.09h1m26 0h1m56 0h1M380 671.60h1M336 676.10h1M184 680.61h1m103 0h1M128 685.11h1m75 0h1m1 0h1m195 0h1M314 689.62h1m83 0h1m68 0h1m17 0h1m19 0h1m21 0h1M236 694.12h1m266 0h1M461 698.63h1M404 703.13h1m20 0h1m58 0h1m3 0h1M314 712.14h1m182 0h1M246 716.65h1m37 0h1m115 0h1m2 0h1m15 0h1m27 0h1m70 0h1m35 0h1M487 721.15h1m53 0h1M523 725.66h1M328 730.16h1m72 0h1m127 0h1M299 734.67h1m6 0h1m187 0h1M537 739.17h1M398 743.68h1m82 0h2M445 748.18h1M462 752.69h1M137 757.19h1m271 0h1m45 0h1m94 0h1M357 761.70h1m42 0h1m109 0h1M348 766.20h1"/>
<path stroke="#d1c3b7" d="M147 360.75h1M265 365.26h1m81 0h1m168 0h2M216 369.76h1m112 0h1M307 374.27h1m7 0h1m37 0h1m130 0h1m61 0h1M301 383.28h1m76 0h1M188 387.78h1m173 0h1m84 0h1M310 392.29h1M109 396.79h1m15 0h1m179 0h1m105 0h1m36 0h1m9 0h1m4 0h1m14 0h1M331 410.31h1m42 0h1m7 0h1m129 0h1m21 0h1m2 0h1m16 0h1M140 414.81h1m10 0h1m270 0h1M344 428.33h2m157 0h1m46 0h1M166 432.83h1m268 0h2M155 437.34h1m83 0h1m166 0h1m52 0h1M276 441.84h1M430 446.35h1M153 450.85h1m25 0h1m97 0h1M190 455.36h1M394 459.86h1m27 0h1m39 0h1M327 464.37h1m16 0h1m9 0h1m47 0h1m34 0h1M145 473.38h1m28 0h1m72 0h1m83 0h1m25 0h1m46 0h1m89 0h1M273 482.39h1m192 0h1m11 0h1m41 0h1M216 486.89h1M89 491.40h1m73 0h1m84 0h1M236 500.41h1m20 0h1m119 0h1m1 0h1m118 0h1M103 504.91h1m153 0h1m143 0h1M359 509.42h1M240 513.92h1m40 0h2m72 0h1M307 518.43h1m126 0h1m83 0h1m28 0h1M329 522.93h1m201 0h1M277 531.94h1m12 0h1m242 0h1m14 0h1M239 536.45h1m95 0h1m88 0h1m100 0h1M262 545.46h1m84 0h1M521 554.47h1M155 558.97h1m343 0h1m21 0h1m30 0h1M212 563.48h1m85 0h1m101 0h1M234 567.98h1m203 0h1m38 0h1M478 576.99h1M277 590.51h1m123 0h1M150 595.01h1m316 0h1M85 599.52h1m85 0h1m100 0h1m8 0h1M93 617.54h2m94 0h1m102 0h1m238 0h1M424 622.04h1M384 626.55h2m79 0h1m31 0h1m5 0h1M130 644.57h1m293 0h1m30 0h1M554 662.59h1M139 667.09h1m38 0h1m119 0h1m67 0h1m20 0h1m60 0h1m5 0h1m30 0h2M201 671.60h1m81 0h1m34 0h1m116 0h1m76 0h1m32 0h1M553 676.10h1M202 680.61h1m83 0h1m45 0h1m1 0h1m107 0h1m91 0h1m1 0h1M218 685.11h1M115 694.12h1m224 0h1m89 0h1M98 698.63h1m17 0h1m83 0h1m99 0h1m36 0h1M509 703.13h1M259 716.65h1m58 0h1m149 0h1M371 725.66h1M189 757.19h1m106 0h1m121 0h1m6 0h1"/>
<path stroke="#c06775" d="M149 360.75h1m295 0h1m9 0h1M110 365.26h1m35 0h1m5 0h1m211 0h1m1 0h1M158 369.76h1m33 0h1m16 0h1m21 0h1m152 0h1m126 0h1m7 0h1M95 378.77h1m131 0h1M82 383.28h1m113 0h1m26 0h1m137 0h1M87 387.78h1m14 0h1m70 0h1m21 0h1m2 0h1m19 0h1m62 0h1M82 396.79h1m2 0h1m25 0h1m49 0h1m43 0h1m229 0h1m21 0h1m31 0h1m4 0h1M78 401.30h1m35 0h1m13 0h1m4 0h1m35 0h1m18 0h1m13 0h1M93 405.80h1m203 0h1m22 0h1M72 410.31h1m204 0h1m13 0h1M84 414.81h1m70 0h1m48 0h1m2 0h1M123 419.32h1m35 0h1m6 0h1M96 423.82h1m3 0h1m85 0h1m13 0h1m13 0h1M74 428.33h1m71 0h1m45 0h1M84 432.83h1m4 0h1m25 0h1m10 0h1m50 0h1m14 0h1m5 0h2m108 0h1m113 0h1m15 0h2m102 0h1M89 437.34h1m113 0h1M150 441.84h1m7 0h1m17 0h1m3 0h1m32 0h1m216 0h1M69 446.35h1m3 0h1m39 0h1m14 0h1m62 0h1M78 450.85h1m37 0h1m86 0h2m53 0h1m87 0h1m63 0h1m40 0h1m100 0h1M88 455.36h1m1 0h1m17 0h2m231 0h1m131 0h1M133 459.86h1M88 464.37h1M250 468.87h1m23 0h1m99 0h1m5 0h1M102 473.38h1m40 0h1m70 0h1m129 0h1m52 0h1m30 0h1M200 477.88h1m62 0h1m180 0h1M79 482.39h1m8 0h1m62 0h1m25 0h1m78 0h1m207 0h1M83 486.89h1m17 0h1m60 0h1m281 0h1M93 491.40h1m67 0h1m311 0h1M98 495.90h1m19 0h1m25 0h1m30 0h1m23 0h1m14 0h1m110 0h1m51 0h1M108 500.41h1m16 0h1m44 0h1m40 0h1m38 0h1m129 0h1M179 504.91h1M111 509.42h1m127 0h1m263 0h1M68 513.92h1M144 518.43h1M75 522.93h1m300 0h1M238 527.44h1m27 0h1m5 0h1m149 0h1m92 0h1M250 531.94h1m138 0h1m56 0h1M190 536.45h1m102 0h1m16 0h1m62 0h1m129 0h1M70 540.95h1m239 0h1m16 0h1m5 0h1m10 0h1m19 0h1m18 0h1M315 545.46h1m27 0h1M136 549.96h1m143 0h1m75 0h1m26 0h1M243 554.47h1m141 0h1M231 558.97h1m19 0h1m47 0h1m1 0h1m40 0h1m1 0h1M279 563.48h1m6 0h1m25 0h1m68 0h1m69 0h1m9 0h1m51 0h1m35 0h1M273 567.98h1m49 0h1m42 0h1m186 0h1M281 572.49h1m85 0h1M239 576.99h1M239 581.50h1m26 0h1m16 0h1m35 0h1m47 0h1m14 0h2M218 586.00h1m20 0h1m40 0h1m35 0h1m40 0h1m30 0h1m28 0h1m110 0h1M555 590.51h1M251 599.52h1m43 0h1m1 0h1m40 0h1m13 0h1m20 0h1m16 0h1m77 0h1m32 0h1M233 604.02h1m66 0h1m40 0h1m1 0h1m49 0h1M341 608.53h1m180 0h1M313 613.03h1M234 617.54h1m52 0h1m59 0h1m20 0h1M328 622.04h1m28 0h2m54 0h1m8 0h1m111 0h1M105 626.55h1m15 0h1m183 0h1m2 0h1m142 0h1M273 631.05h1m46 0h1m15 0h1m5 0h1m15 0h1m30 0h1M122 635.56h1m16 0h1m17 0h1m152 0h1m49 0h1m4 0h1m46 0h1M280 640.06h1m148 0h1M168 644.57h1m59 0h1m9 0h1m3 0h1m86 0h1m3 0h1m8 0h1m4 0h1M237 649.07h1m5 0h1m18 0h1m39 0h1m41 0h1m14 0h1m32 0h1m149 0h1M266 653.58h1m2 0h1m5 0h1m13 0h1m44 0h1m95 0h1m48 0h1M240 658.08h1m16 0h1m28 0h1m24 0h1m45 0h1M245 662.59h1m41 0h1m26 0h1M284 667.09h1m23 0h1m84 0h1M164 676.10h1m55 0h1m48 0h1m76 0h1M244 680.61h1m8 0h1m22 0h1m52 0h1m56 0h1m56 0h1M92 685.11h1m4 0h1m37 0h1m71 0h2m257 0h1m44 0h1M489 689.62h1m2 0h1M110 694.12h1m296 0h1m49 0h1m36 0h1m36 0h1m7 0h1m8 0h1M425 698.63h1M504 703.13h1m17 0h1M447 707.64h1m66 0h1M242 712.14h1m25 0h1m69 0h1m27 0h1m4 0h1m29 0h1m3 0h1m5 0h1m65 0h1m10 0h1m17 0h1m37 0h1M240 716.65h1m140 0h1m23 0h1m11 0h1m33 0h1m4 0h1m4 0h1m1 0h1m55 0h1m36 0h1M405 721.15h1m1 0h1m34 0h1m58 0h1m37 0h1M71 730.16h1m165 0h1m104 0h1m12 0h1m59 0h1m23 0h1m18 0h1m41 0h1m20 0h1M102 734.67h1m112 0h1m117 0h1m20 0h1m35 0h1m61 0h1m2 0h1M446 739.17h1m19 0h1m45 0h1m16 0h1m6 0h1m13 0h1M146 743.68h1m42 0h1m116 0h1m89 0h1m36 0h1m15 0h1m50 0h1m13 0h1M240 748.18h1m25 0h1m227 0h1m63 0h1M275 752.69h1m65 0h1m39 0h1m55 0h1m8 0h1m16 0h1m44 0h1M174 757.19h1m220 0h1m50 0h1m83 0h1M209 761.70h1m105 0h1m89 0h1m8 0h1m76 0h1M280 766.20h1m104 0h1m8 0h1m19 0h1m13 0h1m43 0h1m2 0h1"/>
<path stroke="#e1846a" d="M156 360.75h1M74 365.26h1m59 0h1M200 369.76h1m55 0h1m109 0h1M188 378.77h1M133 383.28h1m5 0h1m91 0h1m10 0h1M132 387.78h1m316 0h1M87 396.79h1m38 0h1m12 0h1m15 0h1m66 0h1M116 401.30h1M214 405.80h1M221 410.31h1m2 0h1M174 414.81h1m42 0h1M115 419.32h1m93 0h1M96 428.33h1m113 0h1M148 437.34h1m21 0h1m9 0h1m366 0h1M86 441.84h1m135 0h1m58 0h1M172 446.35h1m220 0h1M108 450.85h1m249 0h1M81 455.36h1M74 459.86h1m108 0h1m2 0h1m115 0h1M124 464.37h1m28 0h1m44 0h1m13 0h1m25 0h1m78 0h1M79 468.87h1m192 0h1m65 0h1M81 473.38h1m97 0h1m297 0h1M80 477.88h1m116 0h1M76 482.39h1m47 0h1m98 0h1M94 486.89h1m4 0h1m38 0h1m76 0h1M99 491.40h1M207 495.90h1M147 500.41h1m148 0h1M97 504.91h1m31 0h1m410 0h1M117 509.42h1m36 0h1m64 0h1M394 513.92h2m47 0h1m70 0h1M244 522.93h1M425 527.44h1m78 0h1M440 531.94h1M284 536.45h1m140 0h1M359 540.95h1M292 549.96h2M234 554.47h1M315 558.97h1M182 563.48h1m58 0h1m1 0h1m98 0h1m27 0h1M305 567.98h1m147 0h1m104 0h1M174 572.49h1M232 576.99h1m21 0h1m62 0h1M351 581.50h1M287 590.51h1m74 0h1m17 0h1M245 595.01h1M243 599.52h1M240 604.02h1M465 608.53h1M139 613.03h1m24 0h1m162 0h1M119 626.55h1m219 0h1m46 0h1M251 631.05h1m92 0h1M107 635.56h1m276 0h1m96 0h1M368 640.06h1M304 644.57h1m102 0h1M240 649.07h1m233 0h1M209 653.58h1M349 658.08h1m33 0h1m87 0h1M269 662.59h1m42 0h1m29 0h1M406 667.09h1m65 0h1M336 671.60h1M366 680.61h1m28 0h1m119 0h1M145 685.11h1M248 689.62h1m162 0h1M256 694.12h1m32 0h1m143 0h1m45 0h1M130 698.63h1M368 703.13h1m93 0h1M288 712.14h1m124 0h1m69 0h1m43 0h1M393 716.65h1m8 0h1m9 0h1m44 0h1m78 0h1M432 721.15h1m110 0h1M530 725.66h1M510 730.16h1M272 734.67h1m140 0h1m27 0h1m66 0h1M283 743.68h1M495 748.18h1M444 752.69h1M493 757.19h1M303 761.70h1m130 0h1m47 0h1M252 766.20h1m90 0h1m66 0h1"/>
<path stroke="#cdaab1" d="M160 360.75h1M120 365.26h1M206 369.76h1M94 378.77h1m88 0h1m175 0h1M407 396.79h1M118 401.30h2m47 0h1m50 0h1m64 0h1M201 419.32h1m8 0h1M259 423.82h1M82 437.34h1M221 441.84h1M242 446.35h1M68 455.36h1m6 0h1m78 0h1m176 0h1m140 0h1M350 477.88h1m197 0h1M140 482.39h1m136 0h1M508 486.89h1M138 491.40h1M101 495.90h1m40 0h1m195 0h1M160 500.41h1m63 0h1M481 509.42h1M161 531.94h1M259 536.45h1m72 0h1m48 0h1m58 0h1M242 540.95h1m30 0h1m17 0h1m37 0h1m52 0h1M244 563.48h1m110 0h1m66 0h1m118 0h1M149 572.49h1M297 581.50h1m55 0h1m78 0h1m58 0h1M305 604.02h1m41 0h1m6 0h1M449 608.53h1M281 613.03h1m24 0h1M538 617.54h1M475 626.55h2M236 635.56h1m130 0h1M327 640.06h1M283 649.07h1m202 0h1M242 653.58h1M244 662.59h1M137 689.62h1m264 0h1m54 0h1m56 0h1m25 0h1m16 0h1M505 707.64h1m36 0h1M417 712.14h1m82 0h1M348 721.15h1m9 0h1m47 0h1M406 743.68h1M374 766.20h1"/>
<path stroke="#db5a46" d="M161 360.75h1m8 0h1M105 365.26h1m62 0h1M92 369.76h2m35 0h1M141 374.27h1m34 0h1m12 0h1m2 0h1M164 378.77h1M99 383.28h1M96 387.78h1m2 0h1m8 0h1m14 0h1m60 0h1m11 0h1m16 0h1M91 392.29h1m6 0h1m10 0h1m19 0h1m13 0h1m3 0h1m13 0h1m52 0h1m9 0h1M198 396.79h1M223 401.30h1M108 405.80h1m5 0h1m4 0h1m4 0h1m32 0h1m57 0h1M93 410.31h1m16 0h1m81 0h1M143 414.81h1m33 0h1m48 0h1M109 423.82h1m100 0h1M101 428.33h1M148 432.83h1M123 437.34h1m11 0h1m5 0h1m23 0h1M133 441.84h1m30 0h1m62 0h1m1 0h1M123 446.35h1m184 0h1M118 455.36h1M76 459.86h1m197 0h1M213 464.37h1M207 468.87h1M82 473.38h1m11 0h1m51 0h1M197 482.39h1M224 486.89h1M165 491.40h1M130 495.90h1M171 500.41h1m12 0h1M133 504.91h1m62 0h1m22 0h2M205 509.42h1M81 513.92h1m315 0h1M84 518.43h1m16 0h1m70 0h1m20 0h1m2 0h1M104 522.93h1m70 0h1M263 527.44h1m87 0h1m40 0h1m86 0h1M351 536.45h1m41 0h1M318 554.47h1m21 0h1m34 0h1m5 0h1M265 558.97h1m82 0h1m21 0h1M293 563.48h1m49 0h1M359 567.98h1M336 576.99h1M267 586.00h1M246 590.51h1m61 0h1M290 599.52h1M325 604.02h1m33 0h1M245 608.53h1m19 0h1m62 0h1m28 0h1M234 613.03h1m97 0h1m36 0h1M283 617.54h1m26 0h1M266 622.04h1m19 0h1m112 0h1M283 631.05h1m23 0h1m23 0h1M274 635.56h1m249 0h1m3 0h1M261 653.58h1m49 0h1m114 0h1M254 658.08h1m39 0h1M250 662.59h1M285 667.09h1M275 671.60h1m37 0h1M252 676.10h1m14 0h1M309 680.61h1m32 0h1m28 0h1M415 685.11h1m3 0h1M474 689.62h1m1 0h1M447 698.63h1m60 0h1M535 703.13h1M533 707.64h1M462 712.14h1M453 716.65h1M537 721.15h1M440 725.66h1m9 0h2m102 0h1M294 730.16h1M514 739.17h1m26 0h1"/>
<path stroke="#ce6966" d="M164 360.75h1m9 0h1m23 0h1M213 365.26h1M134 369.76h1m2 0h1M193 374.27h1m355 0h1M90 383.28h1m57 0h1m37 0h1M264 387.78h1m46 0h1M69 392.29h1m7 0h1M206 401.30h1M87 405.80h1m242 0h1M74 410.31h1m71 0h1M75 414.81h1m34 0h1M131 419.32h1m68 0h1m16 0h1M69 423.82h1M82 428.33h1m2 0h1m121 0h1M155 432.83h1m52 0h1M87 437.34h1m29 0h1m106 0h1M87 441.84h1m33 0h1m30 0h1m24 0h1m32 0h1m14 0h1M102 446.35h1m56 0h1m65 0h1m190 0h1M109 450.85h1m12 0h1m36 0h1m16 0h1m137 0h1M223 455.36h1M248 459.86h1M72 464.37h1m102 0h1m47 0h1m147 0h1m2 0h1M78 468.87h1m296 0h1M240 477.88h1M106 482.39h1m8 0h1m31 0h1M81 486.89h1M164 491.40h1m24 0h1M132 495.90h1M78 500.41h1m55 0h1m127 0h1M114 504.91h1m239 0h1m59 0h1m38 0h1m66 0h1m36 0h1M415 509.42h1m92 0h1M297 513.92h1M279 518.43h1m72 0h1M288 522.93h1M264 527.44h1m208 0h1M104 531.94h1m170 0h1m64 0h1m52 0h1M303 536.45h1m29 0h1M350 540.95h1M243 545.46h1m26 0h1m19 0h1m48 0h1m39 0h1M257 549.96h1m16 0h1m70 0h1M237 558.97h1M508 563.48h1M205 567.98h1m70 0h1m30 0h1m9 0h1M145 572.49h1m110 0h1m12 0h1m61 0h1M233 576.99h1m36 0h1m53 0h1M160 586.00h1m140 0h1m27 0h1M391 595.01h1M299 599.52h1m17 0h2m57 0h1m24 0h1M302 604.02h1M262 613.03h1m46 0h1m33 0h1m11 0h1m14 0h1M339 617.54h1M241 622.04h1m98 0h1m144 0h1M83 626.55h1m111 0h1m59 0h1m13 0h1M257 631.05h1m53 0h1m17 0h1M223 635.56h1m10 0h1m5 0h1m146 0h1M270 640.06h1m73 0h1m129 0h1M262 644.57h1m94 0h1M350 649.07h1m23 0h1M98 653.58h1m202 0h1m57 0h1M292 658.08h1m50 0h1m9 0h1m112 0h1M285 662.59h1m8 0h1M348 667.09h1M372 676.10h1M192 680.61h1m71 0h1m45 0h1m80 0h1m102 0h1M108 685.11h1m4 0h1m33 0h1m138 0h1m164 0h1m15 0h1m17 0h1M142 689.62h1m287 0h1m21 0h1m103 0h1M434 694.12h1m69 0h1m47 0h1M484 698.63h1M403 703.13h1m139 0h1M536 707.64h1M409 712.14h1m24 0h1M373 716.65h1m22 0h1m30 0h1m17 0h1m48 0h1M462 721.15h1m10 0h1M396 725.66h1M419 730.16h1m2 0h1M424 734.67h1M409 739.17h2M441 743.68h1M461 748.18h1m38 0h1M308 752.69h1m86 0h1m120 0h1M414 757.19h1M232 761.70h1m118 0h1m171 0h1M400 766.20h1"/>
<path stroke="#f1bd82" d="M166 360.75h1M163 365.26h1m27 0h1M368 374.27h1M156 378.77h1m64 0h1M345 383.28h1M130 392.29h1m53 0h1M145 401.30h1M82 405.80h1m63 0h1m2 0h1m50 0h1m112 0h1m25 0h1m47 0h1M105 410.31h1m147 0h1m40 0h1m3 0h1m51 0h1m178 0h1M198 414.81h1m41 0h1M110 419.32h1M98 428.33h1m101 0h1m68 0h1m125 0h1m130 0h1M326 432.83h1M277 437.34h1m63 0h1M157 441.84h1M95 446.35h1M86 459.86h1m75 0h1m91 0h1m80 0h1m115 0h1m2 0h1m6 0h1m51 0h1M146 464.37h1m22 0h1M124 468.87h1m36 0h1m43 0h1m79 0h1m251 0h1M374 473.38h1M203 477.88h1m15 0h1m107 0h1m114 0h1M274 482.39h1m86 0h1m30 0h1m14 0h1m27 0h1M309 486.89h1M224 491.40h1M93 495.90h1m87 0h1m54 0h1m145 0h1m5 0h1M138 500.41h1m88 0h1m64 0h1M106 504.91h1m159 0h1m5 0h1m229 0h1M71 509.42h1m27 0h2m70 0h1m5 0h1m12 0h1m32 0h1m249 0h1m78 0h1M90 513.92h1m273 0h1m21 0h1m99 0h1M215 518.43h1M129 522.93h1m27 0h1m4 0h1m3 0h1m20 0h1m11 0h1m14 0h1m15 0h1m15 0h1m168 0h1m87 0h1M246 531.94h1m14 0h1m24 0h1M89 536.45h1M238 545.46h1M306 549.96h1M274 554.47h1m98 0h1m86 0h1m36 0h1m43 0h1M123 558.97h1m69 0h1m17 0h1m36 0h1m217 0h1M258 567.98h1m276 0h1M308 576.99h1M318 586.00h1M221 590.51h1m135 0h1M170 595.01h1m103 0h1m71 0h1M79 613.03h1m102 0h1M264 622.04h1m177 0h1m70 0h1M268 626.55h1m192 0h1M81 631.05h1M291 635.56h1M134 644.57h1m14 0h1m4 0h1m146 0h1m215 0h1M408 649.07h1m124 0h1m6 0h1M92 653.58h1M193 658.08h1m1 0h1m107 0h1m8 0h1m6 0h1M225 662.59h1m114 0h2m139 0h1m62 0h1M136 667.09h1m86 0h1m173 0h1m61 0h1m94 0h1M82 671.60h1m37 0h1m60 0h1m117 0h1m21 0h1m161 0h1m53 0h1M148 676.10h1m10 0h1m46 0h1m14 0h1m93 0h1m72 0h1m29 0h1m35 0h1m101 0h1M88 680.61h1m18 0h1m68 0h1m28 0h1m23 0h1m22 0h1m177 0h1M98 685.11h1m397 0h1m15 0h1m13 0h1M367 694.12h1M185 698.63h1M359 703.13h1M411 707.64h1m81 0h1M378 712.14h1M234 716.65h1M308 725.66h1m45 0h1m27 0h1m41 0h1m42 0h1m41 0h1m26 0h1M315 730.16h1M190 734.67h1m269 0h1M275 739.17h1m242 0h1M485 748.18h1M221 752.69h1m147 0h1M321 761.70h1"/>
<path stroke="#f8a664" d="M167 360.75h1m11 0h1M139 365.26h1M152 369.76h1M225 374.27h2M100 383.28h1M124 387.78h1m12 0h1m31 0h1M192 392.29h1M207 401.30h1M78 405.80h1m2 0h1m30 0h1m28 0h1m82 0h1m45 0h1m52 0h2m50 0h1M270 410.31h1m102 0h1m179 0h1M159 414.81h1M230 419.32h1M162 432.83h1M100 450.85h1M121 459.86h1m19 0h1m66 0h1m14 0h1m102 0h1m160 0h1M191 464.37h1m84 0h1M119 468.87h1m17 0h1m14 0h1m32 0h2m33 0h1m9 0h1m3 0h1m31 0h1m8 0h1m12 0h1m24 0h1m22 0h1m30 0h1M78 473.38h1m7 0h1M223 477.88h1M387 482.39h1M148 491.40h1m151 0h1m10 0h1m19 0h1m25 0h1M112 500.41h1m80 0h1m46 0h1M108 504.91h1m19 0h1m62 0h1m25 0h1m14 0h1m204 0h1M121 509.42h1m28 0h1m92 0h1m202 0h1M123 513.92h1m9 0h1m6 0h1m24 0h1m7 0h1m40 0h1m225 0h1m32 0h1M74 518.43h1m46 0h1m13 0h1m30 0h2m1 0h1m5 0h1m27 0h2m34 0h1m30 0h1m106 0h1M71 522.93h1m7 0h1m54 0h1m18 0h1m57 0h1m12 0h1m275 0h1M257 527.44h1m45 0h1M532 536.45h1M250 540.95h1M372 545.46h1M300 549.96h1M495 554.47h1M96 558.97h1m19 0h1m44 0h1m39 0h1m104 0h1m25 0h1m10 0h1M360 572.49h1M138 576.99h1m97 0h1M405 586.00h1M126 590.51h1m177 0h1m6 0h1m23 0h2m3 0h1m44 0h1m99 0h1M235 595.01h2m7 0h1m51 0h1M163 599.52h1m80 0h1m103 0h1M315 608.53h1M242 617.54h1M246 622.04h1m66 0h1m37 0h1m85 0h1m63 0h1M292 626.55h1M299 631.05h1m62 0h1M276 644.57h1m33 0h1m167 0h1m74 0h1M287 649.07h1M310 653.58h1M424 658.08h1M208 662.59h1m73 0h1m17 0h1M85 667.09h1M108 671.60h1m26 0h1m112 0h1m14 0h1m25 0h1m17 0h1m22 0h2m35 0h1m84 0h1m6 0h1m95 0h1M262 676.10h1m3 0h1m89 0h1m111 0h1m11 0h1M68 680.61h1m83 0h1m1 0h1m55 0h1m2 0h1m121 0h1m92 0h1M104 685.11h1m108 0h2m232 0h1m26 0h1m6 0h1m1 0h1m18 0h1m1 0h1M344 689.62h1m80 0h1M238 694.12h1m197 0h1m119 0h1M473 698.63h1m64 0h1M525 707.64h1M309 712.14h1m126 0h1M282 725.66h1m75 0h1m170 0h1m3 0h1m7 0h1m2 0h1m13 0h1"/>
<path stroke="#f9b46f" d="M168 360.75h1M190 365.26h1M129 374.27h1m14 0h1m16 0h1m135 0h1M203 378.77h2M128 387.78h1m41 0h1M211 392.29h1M201 396.79h1M183 405.80h1m94 0h1m92 0h1m13 0h1m126 0h1M334 410.31h1m5 0h1M205 414.81h1m17 0h1m48 0h1M119 428.33h1M80 437.34h1m129 0h1M200 441.84h1m117 0h1M77 446.35h1m26 0h1M93 459.86h1m5 0h1m18 0h1m1 0h1m37 0h1m10 0h1m6 0h2m53 0h1m60 0h1m15 0h1m19 0h1M100 464.37h1m66 0h1m17 0h1m23 0h1M100 468.87h1m32 0h1m139 0h1m36 0h1m7 0h1m15 0h1m13 0h1m16 0h1m10 0h1M236 473.38h1M82 477.88h1m38 0h1m10 0h1m47 0h1m30 0h1M98 482.39h1m3 0h1m24 0h1M132 486.89h1M121 491.40h1m77 0h1m65 0h1m20 0h1M369 500.41h1M92 504.91h1m99 0h1m40 0h1m82 0h1m36 0h1m175 0h1m23 0h1M81 509.42h1m28 0h1m89 0h1m23 0h1M75 513.92h1m19 0h1m198 0h1m34 0h1M86 518.43h1m3 0h1m13 0h1m8 0h1m8 0h1m6 0h1m2 0h1m3 0h1m77 0h1m8 0h1m118 0h1M81 522.93h1m28 0h1m34 0h1m1 0h1m4 0h1m11 0h1m26 0h1m2 0h1m12 0h1m33 0h1m99 0h1m19 0h1M333 545.46h1M261 549.96h1m100 0h1m16 0h1M249 554.47h1m26 0h2m48 0h1m204 0h1M125 558.97h1m49 0h1m10 0h1m2 0h2m11 0h1M379 572.49h1M207 576.99h1m41 0h1M314 586.00h1M128 590.51h1m177 0h1m9 0h1M142 595.01h1m24 0h1m124 0h1m29 0h1m29 0h1m5 0h1m24 0h1M322 599.52h1M272 608.53h1M384 613.03h1m84 0h1M293 622.04h1M337 626.55h1M394 631.05h1m34 0h1M485 635.56h1M155 644.57h1m156 0h1m53 0h1M208 658.08h1M78 662.59h1m53 0h1m29 0h1m3 0h1m184 0h1m44 0h1M140 667.09h1m36 0h1m11 0h1m18 0h1M86 671.60h1m146 0h1m210 0h1m35 0h1m4 0h1M75 676.10h1m51 0h1m109 0h1m4 0h1m11 0h1m108 0h1m28 0h1m86 0h1M153 680.61h1m245 0h1m106 0h1M450 685.11h1M432 694.12h1m49 0h1M539 698.63h1M403 721.15h1M414 725.66h1m17 0h1m9 0h1m51 0h1M236 730.16h1M476 734.67h1M335 743.68h1"/>
<path stroke="#c17c86" d="M169 360.75h1m10 0h1m197 0h1M94 365.26h1m5 0h1m23 0h1m357 0h1M207 369.76h1M102 374.27h1m88 0h1M109 378.77h1M105 383.28h1m2 0h1m16 0h1m19 0h1m18 0h1m69 0h1m119 0h1m33 0h1m43 0h1M114 387.78h1m129 0h1m44 0h1m217 0h1M70 392.29h1m34 0h1m80 0h1M216 396.79h1m189 0h1m8 0h1m2 0h1m13 0h1M141 401.30h1m142 0h1M300 405.80h1M82 410.31h1m150 0h1m220 0h1M78 414.81h1m34 0h1m8 0h1m77 0h1m28 0h1m235 0h1M83 419.32h1m4 0h1m4 0h1m9 0h1m14 0h1m46 0h1m14 0h1M83 423.82h1m17 0h1M124 432.83h1m28 0h1m112 0h1m112 0h1m79 0h1m49 0h1M140 437.34h1m15 0h1m238 0h1M161 441.84h1m176 0h1m67 0h1M81 446.35h1m104 0h1m14 0h1m15 0h1m137 0h1M136 450.85h1m71 0h1M83 455.36h1m47 0h1m24 0h1m3 0h1m6 0h1m16 0h1M83 459.86h1m135 0h1m24 0h1m212 0h1m52 0h1M200 464.37h1m6 0h1m84 0h1m60 0h1M80 473.38h1m322 0h1M79 477.88h1m469 0h1M72 482.39h1m17 0h1m111 0h1m95 0h1m31 0h1m114 0h1M71 486.89h1m124 0h1m2 0h1m73 0h1m144 0h1M135 491.40h1m11 0h1m93 0h1m17 0h1m86 0h1m188 0h1M160 495.90h1m51 0h1m15 0h1M135 500.41h1m15 0h1M81 504.91h1m349 0h1M195 509.42h1M144 513.92h1m32 0h1m2 0h1M314 518.43h1M251 522.93h1m39 0h1m40 0h1m10 0h1M366 527.44h1m10 0h1m1 0h1m73 0h1m26 0h1M378 531.94h1M87 536.45h1m229 0h1m9 0h1m12 0h1m23 0h1M236 540.95h1m55 0h1m80 0h1M332 545.46h1m122 0h1M182 549.96h1m51 0h1m21 0h1M266 554.47h1M275 558.97h1m22 0h1m19 0h1m30 0h1M251 563.48h1m11 0h1m10 0h2m72 0h1m44 0h1m33 0h1M350 567.98h1m50 0h1m29 0h1M148 572.49h1m85 0h1m22 0h1m115 0h1m11 0h1M115 576.99h1m134 0h1m49 0h1m25 0h1M242 581.50h1m67 0h1M515 586.00h1m35 0h1M281 590.51h1m74 0h1M250 595.01h1M366 599.52h1m15 0h1M141 604.02h1m96 0h2m116 0h1M255 608.53h1m131 0h1M259 613.03h1m130 0h1M157 617.54h1m358 0h1M235 626.55h1m36 0h1m85 0h1m197 0h1M266 631.05h1m25 0h1m9 0h1m63 0h1m45 0h1m131 0h1M466 635.56h1m10 0h1m22 0h1M213 640.06h1m100 0h1M384 644.57h1M245 649.07h1m23 0h1m23 0h1m52 0h1M99 653.58h1m30 0h1m191 0h1M299 658.08h1M247 662.59h1m24 0h1m18 0h1m54 0h1m12 0h1m9 0h1M251 667.09h1m16 0h1m37 0h1m54 0h1M147 676.10h1m258 0h1M289 680.61h1m5 0h1m116 0h1M176 685.11h1m3 0h1m231 0h1m7 0h1M89 689.62h1m326 0h1m38 0h1m23 0h1m37 0h1M147 694.12h1m294 0h1M505 698.63h1M451 703.13h1m35 0h1m9 0h1M457 707.64h1m40 0h1m22 0h1m36 0h1M253 712.14h1m162 0h1m10 0h1M247 716.65h1m151 0h1m22 0h1m5 0h1M233 721.15h1M370 725.66h1m111 0h1m45 0h1M296 730.16h1m135 0h1m36 0h2m3 0h1m74 0h1M336 734.67h1m113 0h1m92 0h1M427 739.17h1m4 0h1m20 0h1M99 743.68h1m274 0h1m32 0h1m12 0h1m17 0h1m16 0h1m20 0h1M264 748.18h1m2 0h1m208 0h1m5 0h2m70 0h1M243 752.69h2m9 0h1m88 0h1m7 0h1m189 0h1M404 757.19h1m8 0h1m49 0h1M99 761.70h1m183 0h1m30 0h1m181 0h1m31 0h1m19 0h1M239 766.20h1m62 0h1m151 0h1m69 0h1m3 0h1m23 0h1"/>
<path stroke="#cdb9bc" d="M172 360.75h1m66 0h1m64 0h1M114 365.26h1m272 0h1M131 369.76h1m123 0h1m185 0h1M98 383.28h1m161 0h1m2 0h1m18 0h1M260 387.78h1M134 396.79h1m30 0h1m58 0h1m84 0h1m193 0h1M81 410.31h1m183 0h1m20 0h1m237 0h1M428 414.81h1m51 0h1M507 428.33h1M135 432.83h1m71 0h1M344 437.34h1m24 0h1m23 0h2m49 0h1m12 0h1m27 0h1m43 0h1M257 441.84h1m43 0h1m40 0h1M194 446.35h1m129 0h1m177 0h1m47 0h1M71 450.85h1m169 0h1m14 0h1M120 455.36h1m27 0h1m87 0h1m121 0h1M301 464.37h1M215 473.38h1m43 0h2M271 482.39h1m176 0h1M168 486.89h1m93 0h1m18 0h1m116 0h1m50 0h1m61 0h1m8 0h1m8 0h1m6 0h1m6 0h1m8 0h1M130 491.40h1M391 504.91h1M146 509.42h1m71 0h1m154 0h1m184 0h1M202 513.92h1m160 0h1m89 0h1m44 0h1m4 0h1M87 531.94h1m123 0h2m92 0h1m167 0h1m15 0h2M242 536.45h1m71 0h1M514 545.46h1M415 558.97h1M439 563.48h1m45 0h1M256 567.98h1m82 0h1m54 0h1m105 0h1M140 576.99h1m23 0h1m78 0h1m65 0h1m140 0h2m88 0h1M403 586.00h1M159 599.52h1m378 0h1M239 613.03h1m17 0h1m76 0h1M542 626.55h1M335 631.05h1M307 640.06h1M195 644.57h1m11 0h1m41 0h1m106 0h1m57 0h1m79 0h1M236 649.07h1m49 0h1m4 0h1M132 653.58h1m10 0h1M335 658.08h1M295 662.59h1m212 0h1M72 667.09h1m142 0h1m76 0h1m42 0h1m4 0h1m97 0h1m36 0h1m18 0h1M95 671.60h1m250 0h1m67 0h1M279 680.61h1m116 0h1m1 0h1m142 0h2M207 689.62h1m51 0h1M176 694.12h1m233 0h1M70 703.13h1m408 0h1m38 0h1M318 712.14h1M358 716.65h1m3 0h1M489 730.16h2M386 734.67h1M198 757.19h1m53 0h1m47 0h1m186 0h1"/>
<path stroke="#cdafb5" d="M173 360.75h1m41 0h1m11 0h1m75 0h1m3 0h1m32 0h1m214 0h1M323 365.26h1M110 369.76h1m22 0h1m117 0h1m80 0h1m96 0h1M126 383.28h1m135 0h1M75 387.78h1M70 396.79h1m42 0h2m29 0h1m86 0h1m38 0h1m155 0h1m41 0h1M117 410.31h1m127 0h1m204 0h1m64 0h1m10 0h1M74 414.81h1m92 0h1m15 0h1m101 0h1m168 0h1m59 0h1M122 432.83h1m95 0h1m2 0h1m122 0h1m42 0h1m78 0h1M190 437.34h1m245 0h1M115 441.84h2m76 0h1m1 0h1m72 0h1m14 0h1m238 0h1M68 446.35h1m102 0h1m65 0h1m174 0h1m28 0h1M143 450.85h1m17 0h1m123 0h1m19 0h1m117 0h1m60 0h1M94 455.36h1m37 0h1m52 0h1m188 0h1M137 464.37h1m164 0h1M149 473.38h1m183 0h1m59 0h1m72 0h1m18 0h2M75 482.39h1m77 0h1m218 0h1M87 486.89h1m79 0h1m7 0h1m140 0h1m112 0h1M144 491.40h1m112 0h1m121 0h1m164 0h1M83 500.41h1m32 0h1m20 0h1m25 0h1m10 0h1m124 0h1m205 0h1M416 504.91h1m111 0h1M237 509.42h1m141 0h1m70 0h1M104 513.92h1m64 0h1m276 0h1m98 0h1M350 531.94h1m55 0h1m149 0h1M252 536.45h1m3 0h1m13 0h1m15 0h1m21 0h1m176 0h1m50 0h1M189 540.95h1m151 0h1M229 545.46h1M177 549.96h2m80 0h1m166 0h1m62 0h1M245 558.97h1M492 563.48h1M246 567.98h1m98 0h1M80 572.49h1M273 576.99h1m40 0h1M280 581.50h1m82 0h1m70 0h1m20 0h1m25 0h1M164 586.00h2m85 0h1m14 0h1m15 0h1m66 0h1m58 0h1m122 0h1m20 0h1M254 599.52h1m75 0h1m50 0h1m39 0h1m37 0h1m23 0h1M453 613.03h1M265 617.54h1m24 0h1m65 0h1m201 0h1M106 626.55h1m195 0h1m25 0h1m167 0h1M100 631.05h2m84 0h1m62 0h1m64 0h1m138 0h1M106 635.56h1m161 0h1m126 0h1M68 640.06h1m147 0h1m24 0h1m294 0h1M208 644.57h1m105 0h1m102 0h1m66 0h1m48 0h1m12 0h1M211 649.07h2m119 0h1m40 0h1m14 0h1m48 0h2M102 653.58h1m228 0h1m30 0h1m60 0h1m10 0h1m102 0h1M162 658.08h1m16 0h1m72 0h1m111 0h1M265 662.59h1m41 0h1m19 0h1m34 0h1m185 0h1M345 667.09h1m164 0h1m14 0h1M450 671.60h1M283 680.61h2m11 0h1m41 0h1m19 0h1m159 0h1M91 689.62h1m103 0h1m103 0h1m137 0h1m22 0h1m30 0h1m4 0h1m4 0h1M142 694.12h1m77 0h1m67 0h1m135 0h1m27 0h1M202 703.13h1M254 712.14h1m46 0h2m79 0h1m6 0h1m25 0h1m29 0h1m9 0h1m37 0h1m54 0h1M309 716.65h1m53 0h1m117 0h1M389 721.15h1M177 730.16h1m180 0h1m38 0h1m6 0h1m5 0h1m2 0h1m35 0h1m4 0h1m17 0h1m5 0h1m56 0h1m4 0h1m2 0h2M158 734.67h1m23 0h1m15 0h1m39 0h1m23 0h1m29 0h1m24 0h1m9 0h1m209 0h1m7 0h1M236 739.17h1m41 0h1m17 0h1m128 0h1m4 0h1m10 0h1m22 0h1m5 0h2m2 0h1m20 0h1m7 0h1m2 0h1m24 0h1m12 0h1M107 743.68h1m34 0h1m32 0h1m16 0h1m99 0h1m30 0h1m59 0h1m24 0h1m3 0h1m14 0h1m11 0h1m22 0h1m16 0h1m57 0h1M77 748.18h1m68 0h1m134 0h1m26 0h1m89 0h1m7 0h1m31 0h1m26 0h1m18 0h1m32 0h1m9 0h1m7 0h3m1 0h1M276 752.69h1m165 0h1m30 0h1m8 0h1m2 0h1m4 0h1m15 0h1m14 0h1m18 0h1m1 0h1m8 0h2M68 757.19h1m108 0h1m340 0h1M204 761.70h1m123 0h1m30 0h1m34 0h1m22 0h1m41 0h1m7 0h1m52 0h1m29 0h1M75 766.20h1m158 0h1m137 0h1m38 0h1m40 0h2m56 0h1m16 0h1m14 0h1m2 0h1m7 0h1"/>
<path stroke="#de9787" d="M178 360.75h1M176 365.26h1m112 0h1m17 0h1m52 0h1M145 378.77h1m32 0h1m278 0h1M241 383.28h1m131 0h1M80 387.78h1M76 396.79h1m104 0h1m230 0h1M112 401.30h1m85 0h2m26 0h1m143 0h1m158 0h1M260 405.80h1M73 410.31h1m157 0h1m111 0h1m1 0h1m3 0h1m78 0h1M131 414.81h1m118 0h1M95 419.32h1M72 423.82h1m71 0h2m1 0h1M202 428.33h1m260 0h1M258 432.83h1m267 0h1m14 0h1M146 437.34h1m97 0h1m50 0h1m2 0h1M329 441.84h1m223 0h1M84 446.35h1M274 450.85h1m181 0h1m100 0h1M376 455.36h1m79 0h1M180 464.37h1m14 0h1m193 0h1m14 0h1m14 0h1M142 473.38h1m79 0h1m206 0h1m76 0h1M81 477.88h1m31 0h1m9 0h1M207 482.39h1m70 0h1m99 0h1m135 0h1m37 0h1M111 486.89h1m64 0h1m138 0h1M167 491.40h1m86 0h1m16 0h1m46 0h1m23 0h1m7 0h1M223 495.90h1m135 0h1M72 500.41h1m29 0h1m61 0h1m117 0h1M287 504.91h1M182 509.42h1M83 513.92h1m99 0h1m107 0h1m89 0h1m34 0h1m124 0h1M379 536.45h1m101 0h1M91 540.95h1m153 0h1m30 0h1m12 0h1M220 545.46h1m25 0h1m221 0h1M304 549.96h1m97 0h1M78 558.97h1m205 0h1m129 0h1m24 0h1M288 563.48h1m19 0h1m49 0h1m164 0h1M291 567.98h1m59 0h1m2 0h1M83 572.49h1m140 0h1m55 0h1M530 576.99h1M347 581.50h1M379 586.00h1m56 0h1m28 0h1m43 0h1m26 0h1m1 0h1M374 590.51h1m108 0h1M239 599.52h1m45 0h1M241 608.53h1m111 0h1M340 613.03h1m59 0h1m37 0h1M271 617.54h1m23 0h1m177 0h1M285 626.55h1M69 631.05h1m73 0h1m195 0h1m24 0h1m111 0h1M165 635.56h1m1 0h1m111 0h1m2 0h1m152 0h1m5 0h1M510 640.06h1M141 644.57h1m58 0h1m145 0h1M360 649.07h1m99 0h1m85 0h1M272 653.58h1m6 0h1m104 0h1M184 662.59h1m217 0h1M323 667.09h1M186 671.60h1m228 0h1M178 676.10h1m282 0h1M265 680.61h1m55 0h1m22 0h1m87 0h1m33 0h1m34 0h1M285 685.11h1M144 689.62h1m157 0h1m53 0h1m190 0h1M114 694.12h1m138 0h1M307 703.13h1m146 0h1m21 0h1M398 707.64h1m23 0h1m55 0h1m53 0h1m10 0h1m5 0h1M85 712.14h1m82 0h1m212 0h1m96 0h1m43 0h1M436 716.65h1m64 0h1M384 721.15h1m119 0h1M459 725.66h1M238 730.16h1m16 0h1M232 734.67h1m77 0h1m87 0h1m93 0h1M167 739.17h1m201 0h1m45 0h1m122 0h1M337 748.18h1M255 752.69h1m27 0h1M205 757.19h1m125 0h1m75 0h1M129 761.70h1m119 0h1m40 0h1m134 0h1m50 0h1M318 766.20h1"/>
<path stroke="#d08481" d="M182 360.75h1m307 0h1M83 369.76h1m5 0h1m7 0h1m51 0h1m68 0h1m1 0h1m11 0h1M128 378.77h1m83 0h1M121 383.28h1m259 0h1M140 387.78h1m52 0h1M210 392.29h1M300 396.79h1M131 401.30h1M265 405.80h1M201 410.31h1m316 0h1M153 414.81h1M80 423.82h1m76 0h1M213 428.33h1m99 0h1M202 432.83h1m277 0h1M71 437.34h1m41 0h1m375 0h1M96 441.84h1M108 446.35h2m200 0h1M90 450.85h1m39 0h1m53 0h1M105 455.36h1m143 0h1M204 459.86h1m30 0h1m2 0h1M278 464.37h1m144 0h1M303 468.87h1M115 473.38h1m86 0h1m161 0h1M462 477.88h1M210 482.39h1M193 486.89h1M74 491.40h1m105 0h1m268 0h1m40 0h1m64 0h1M142 500.41h1M116 504.91h1m268 0h1M267 513.92h1m31 0h1M263 518.43h1m83 0h1M333 522.93h1M469 527.44h1M523 536.45h1M187 540.95h1M353 545.46h1M245 549.96h1m194 0h1M110 558.97h1M463 563.48h1M282 567.98h1m11 0h1m53 0h1m178 0h1M248 572.49h1M106 576.99h1m139 0h1M334 581.50h1M132 590.51h1M279 604.02h1m110 0h1M412 613.03h1M307 617.54h1m33 0h1m151 0h1M386 622.04h1M558 626.55h1M543 631.05h1M273 635.56h1m30 0h1m81 0h1M229 644.57h1m44 0h1M237 653.58h1m49 0h1m28 0h1m97 0h1M365 658.08h1m66 0h1m32 0h1M394 662.59h1M138 667.09h1m105 0h1m43 0h1m78 0h1m165 0h1M241 671.60h1M84 676.10h1m197 0h1M198 685.11h1M349 689.62h1m83 0h1m32 0h1M311 694.12h1m141 0h1m33 0h1m58 0h1M188 698.63h1m187 0h1M442 703.13h1m91 0h1m10 0h1M434 707.64h1m27 0h1m24 0h1M273 716.65h1m51 0h1m33 0h1m142 0h1m34 0h1m9 0h1M548 730.16h1M534 734.67h1M91 757.19h1m439 0h1m8 0h1m1 0h1M83 761.70h1m279 0h1"/>
<path stroke="#ea633f" d="M183 360.75h1m39 0h1M73 365.26h1M101 369.76h1m15 0h1m27 0h1m24 0h2M76 374.27h1m39 0h1m95 0h1m1 0h1m6 0h1m1 0h1M81 378.77h1M95 383.28h1m142 0h1M88 387.78h1m66 0h1m171 0h1M138 392.29h1m28 0h1m35 0h1M220 396.79h1M72 405.80h1m26 0h1m4 0h1m61 0h1m2 0h1m15 0h1m20 0h1M95 410.31h1m48 0h1m58 0h2m24 0h1m54 0h1M190 414.81h1M133 423.82h1m91 0h1M111 428.33h1m78 0h1M144 437.34h1m59 0h1m13 0h1m4 0h1M145 446.35h1M192 455.36h1M103 459.86h1m63 0h2m31 0h1M258 464.37h1M101 468.87h1m121 0h1M91 473.38h1m21 0h1m3 0h1m42 0h1M85 477.88h1m59 0h1m71 0h1M204 486.89h1M108 491.40h1m76 0h1m9 0h1m1 0h1m8 0h1M72 495.90h1m21 0h1m45 0h1m36 0h1M73 500.41h1M224 504.91h1m3 0h1M68 509.42h1M103 513.92h1m45 0h1M226 518.43h1M119 522.93h1m103 0h1M372 527.44h1m2 0h1m26 0h1m68 0h1M288 531.94h1m36 0h1m54 0h1M404 536.45h1M377 540.95h1M239 545.46h1M390 549.96h1M361 554.47h1M303 558.97h1m15 0h1M248 567.98h1m34 0h1m71 0h1m29 0h1m142 0h1M262 572.49h1M279 576.99h1m38 0h1m69 0h1M234 581.50h1M308 586.00h1m185 0h1M272 590.51h1m9 0h1m20 0h1m54 0h1m10 0h1m19 0h1M256 595.01h1m22 0h1m11 0h1m40 0h1M296 599.52h1M380 613.03h1M321 617.54h1m123 0h1M268 622.04h1m58 0h1m64 0h1m23 0h1m40 0h1m15 0h1m76 0h1M172 631.05h1m205 0h1m3 0h1M267 640.06h1m58 0h1M282 644.57h1M339 649.07h1M144 653.58h1m105 0h1m260 0h1M271 658.08h1M236 662.59h1m94 0h1M295 667.09h1m41 0h1m140 0h1M259 671.60h1m2 0h1m2 0h1m34 0h1m53 0h1m15 0h1m3 0h1M270 676.10h1m16 0h1m4 0h1m3 0h1m23 0h1m64 0h1M373 680.61h1m26 0h1m54 0h1M130 685.11h1m92 0h1m189 0h1m34 0h1m96 0h1m3 0h2M461 689.62h1m69 0h1M511 694.12h1M439 698.63h1m54 0h1M434 703.13h1M418 707.64h1m109 0h1M311 716.65h1M414 721.15h1M407 725.66h1m15 0h1m15 0h1m9 0h1m93 0h1M368 743.68h1M548 752.69h1M242 757.19h1M91 761.70h1m254 0h1M500 766.20h1"/>
<path stroke="#bc8b9e" d="M184 360.75h1m58 0h1m176 0h1M69 365.26h1m34 0h1m26 0h1m28 0h1m65 0h1m63 0h1M87 369.76h1m376 0h1m14 0h1M69 374.27h1m150 0h1M114 383.28h1m95 0h1m34 0h1M74 387.78h1m78 0h1m270 0h1M455 396.79h1M210 405.80h1m97 0h1m54 0h1M186 410.31h1m351 0h1M98 414.81h1m6 0h1m182 0h1m28 0h1m59 0h1m12 0h1m59 0h2m59 0h1m1 0h1M112 428.33h1m82 0h1m27 0h1M151 432.83h1m108 0h1m164 0h1m3 0h1m23 0h1M96 437.34h1m136 0h1m105 0h1M69 441.84h1m100 0h1m27 0h1m154 0h1m28 0h1M96 446.35h1m67 0h1m12 0h1m4 0h2m6 0h1m33 0h1m240 0h1m38 0h1M80 450.85h1m14 0h1m1 0h1m37 0h1m46 0h1m33 0h1m6 0h1M91 455.36h2m24 0h1M338 459.86h1M261 464.37h1m57 0h1M108 468.87h1m278 0h1M88 473.38h1m136 0h1m232 0h2M113 482.39h1m9 0h1m2 0h1m14 0h1m7 0h1m74 0h1m2 0h1M169 486.89h1M73 491.40h1m39 0h1m98 0h1m10 0h1M185 500.41h1m130 0h1M314 513.92h1m172 0h1M452 518.43h1M286 527.44h1m68 0h1M236 531.94h1m63 0h1m33 0h1M287 536.45h1m1 0h1m6 0h1m44 0h1m32 0h1m15 0h1m3 0h1m74 0h1M261 545.46h1m132 0h1m99 0h1M233 554.47h1m52 0h1m258 0h1M327 558.97h1M111 563.48h1m141 0h1M168 567.98h1m155 0h1m15 0h1m27 0h1M266 576.99h1m38 0h1m101 0h1M124 586.00h1m118 0h2m72 0h1m1 0h1m54 0h1M330 590.51h1M145 595.01h1m88 0h1m16 0h1m65 0h1m26 0h1m11 0h1M252 599.52h1m4 0h2m153 0h1m99 0h1M260 613.03h1m8 0h1m1 0h1m6 0h1m18 0h1m65 0h1m1 0h1M326 617.54h1m5 0h1m161 0h1M146 622.04h1m247 0h1M108 626.55h1m92 0h1m34 0h1m118 0h1m25 0h1M409 631.05h1M109 635.56h1M245 640.06h1m59 0h1m51 0h1m185 0h1M291 644.57h1m52 0h1m7 0h1m123 0h1m19 0h1M244 649.07h1m6 0h1m37 0h1m211 0h1M69 653.58h2m181 0h1m68 0h1m60 0h1m32 0h1m28 0h1M233 658.08h1m5 0h1m29 0h1M247 667.09h1m62 0h1m38 0h1M347 671.60h1M236 680.61h1m249 0h1M307 685.11h1M119 689.62h1m15 0h1m68 0h1m4 0h1m219 0h1m42 0h1m31 0h1m38 0h1M425 694.12h1M437 698.63h1m22 0h1m28 0h1M444 703.13h1m3 0h1m66 0h1M266 712.14h1m170 0h1m32 0h2M192 716.65h1m230 0h1M497 725.66h1m29 0h1M406 757.19h1m20 0h1m8 0h1m6 0h1m56 0h1m2 0h1m16 0h1m17 0h1"/>
<path stroke="#d6d5bf" d="M185 360.75h1m11 0h1m113 0h1M125 365.26h1m104 0h1m115 0h1M436 374.27h2m23 0h1m40 0h1m53 0h2M109 383.28h1m22 0h1m170 0h1m5 0h1m46 0h2m27 0h1M223 387.78h1m10 0h1m112 0h1m18 0h1M239 392.29h1m45 0h1m61 0h1m32 0h1M290 405.80h1m130 0h1m13 0h1m35 0h1m5 0h1M100 410.31h1m220 0h1m62 0h1m25 0h1m120 0h1m15 0h1M322 414.81h1m37 0h1m177 0h1M76 428.33h1m47 0h1m40 0h1m20 0h1m50 0h1m109 0h1m98 0h1M211 432.83h1m323 0h1M127 437.34h1m242 0h1M135 441.84h1m227 0h1m6 0h1m12 0h1m31 0h1m115 0h1M216 446.35h1m57 0h1m20 0h1m13 0h1M322 450.85h1m190 0h1M377 459.86h1M194 464.37h1m30 0h1m23 0h1m2 0h1m38 0h1m11 0h1m62 0h1m17 0h1m24 0h1m44 0h1M333 468.87h1M150 473.38h2m40 0h1m95 0h1m86 0h1m1 0h1m62 0h1m31 0h1m18 0h1m18 0h2m43 0h1M165 482.39h2m237 0h1m29 0h1m12 0h1m69 0h1M212 486.89h1m134 0h1m5 0h2M279 491.40h1m9 0h1m237 0h1M277 500.41h1m58 0h1m212 0h1M69 504.91h1m261 0h1m15 0h1M109 509.42h1m37 0h1m227 0h1m13 0h1m39 0h1m35 0h1m16 0h1m16 0h2M199 513.92h1m83 0h1m43 0h1m169 0h1M341 518.43h1m130 0h1m44 0h1M416 522.93h1m75 0h1m43 0h1m12 0h1M315 531.94h1m6 0h1M298 545.46h1M401 554.47h1M71 558.97h1m4 0h1m12 0h1m136 0h1m54 0h1m89 0h1m23 0h1m36 0h1m18 0h1m1 0h1m8 0h1m17 0h1m22 0h1m28 0h1M237 563.48h1m42 0h1m25 0h1m133 0h1M253 567.98h1m153 0h1m48 0h1m44 0h1M107 576.99h1m17 0h1m76 0h1m12 0h1m7 0h1m23 0h1m27 0h1m86 0h1m85 0h1M85 590.51h1m338 0h1m111 0h1M70 595.01h1M307 599.52h1m90 0h1M126 613.03h1m6 0h1m28 0h1m175 0h1m81 0h1m2 0h1m56 0h1m4 0h1m13 0h1m29 0h1m6 0h1M72 617.54h1m226 0h1m186 0h1M428 622.04h1M223 626.55h1m33 0h1m38 0h1m156 0h1M86 644.57h1m1 0h1m6 0h1m93 0h1m47 0h1m264 0h1m11 0h1M93 662.59h1m52 0h1m33 0h1m37 0h1m15 0h1m8 0h1m156 0h1m27 0h1m14 0h1m59 0h1M77 667.09h1m4 0h1m115 0h1m183 0h1m88 0h1M79 671.60h1m41 0h1m36 0h1m7 0h1m36 0h1m82 0h1m119 0h1m5 0h1m85 0h1m1 0h1m6 0h1m23 0h1m7 0h1M130 676.10h1m1 0h1m5 0h1m293 0h1m39 0h1m76 0h1M69 680.61h1m75 0h1m60 0h1m18 0h1m182 0h1m149 0h1M184 685.11h1M406 694.12h1m5 0h1m75 0h1M122 698.63h1m86 0h1m122 0h1m6 0h1m3 0h1m2 0h1m11 0h1M241 703.13h2m5 0h1m7 0h1m19 0h1m5 0h2m14 0h1m259 0h1M501 712.14h1M170 716.65h1m111 0h1m234 0h1m3 0h1M245 725.66h1m69 0h1m7 0h1M147 757.19h1m120 0h1m2 0h1m14 0h1m4 0h1m30 0h2m24 0h1m15 0h1"/>
<path stroke="#d7ece0" d="M186 360.75h1m328 0h2M264 383.28h1M278 392.29h1m84 0h1m21 0h1M173 396.79h1M417 405.80h1M83 414.81h1M293 428.33h1m93 0h1m41 0h1m5 0h1m3 0h1m24 0h1m5 0h1M487 450.85h1M386 455.36h1M265 459.86h1M183 464.37h1m128 0h1m152 0h1M455 468.87h1m23 0h1M258 473.38h1M456 482.39h1m52 0h1m28 0h1M211 486.89h1m118 0h1M287 491.40h1m68 0h1M126 504.91h1m133 0h1m45 0h1m135 0h1M314 509.42h1m19 0h1m26 0h1m136 0h1M398 513.92h1m91 0h1M430 518.43h1M501 531.94h2M497 536.45h1M309 545.46h1M354 549.96h1m97 0h1M397 554.47h1M403 558.97h1m60 0h1m5 0h1M81 576.99h1m53 0h1m351 0h1M99 590.51h1m441 0h1M68 595.01h1m147 0h1M215 599.52h1M142 613.03h1m51 0h1M318 626.55h2M149 631.05h1m145 0h1M131 635.56h1m5 0h1m11 0h1m21 0h1m257 0h1M533 640.06h1M258 649.07h1m11 0h1m135 0h1M68 653.58h1m152 0h1m7 0h1M76 658.08h1m10 0h1m13 0h1m1 0h1m12 0h1m36 0h1m65 0h1m14 0h1m61 0h1m99 0h1m24 0h1m13 0h2m76 0h1m4 0h1m25 0h1M115 662.59h1m157 0h1m138 0h1m31 0h1m4 0h1m19 0h1M119 667.09h1m12 0h1m62 0h1M180 671.60h1m200 0h1m69 0h1m97 0h1M179 680.61h1m3 0h1m46 0h1M247 689.62h1m306 0h1M295 698.63h1M99 712.14h1m13 0h1m66 0h1m33 0h1m96 0h1m46 0h1m125 0h1m49 0h1M294 716.65h1M362 725.66h1M116 730.16h1m16 0h1m96 0h1m14 0h1m14 0h1m38 0h1m156 0h1M95 734.67h1m82 0h1m52 0h1m50 0h1m147 0h1m31 0h1m46 0h1M279 739.17h1m32 0h1m16 0h1m11 0h1m32 0h1m144 0h1M137 743.68h1m21 0h1m4 0h1m152 0h2m30 0h1m3 0h1m17 0h1m100 0h1M335 748.18h1m16 0h1m67 0h1m107 0h1M200 752.69h2m33 0h1m66 0h1m16 0h2m46 0h1m24 0h1m46 0h1m5 0h1M130 761.70h1m4 0h1m66 0h1m174 0h2m104 0h1m17 0h1m56 0h1M236 766.20h1m6 0h1m12 0h1m73 0h1m13 0h1m73 0h1m118 0h1m11 0h1"/>
<path stroke="#eff5ce" d="M189 360.75h1M158 365.26h1M75 369.76h1M155 378.77h1M323 392.29h1m220 0h1m5 0h1M295 401.30h1M422 405.80h1M99 410.31h1M138 414.81h1M171 419.32h1M209 423.82h1M420 432.83h1M255 437.34h1M229 455.36h1M418 459.86h1m45 0h1M168 464.37h1M362 473.38h1M102 477.88h1m55 0h1m39 0h1M422 482.39h1M151 495.90h1m78 0h1m1 0h1m6 0h1m15 0h1m32 0h1m6 0h1m95 0h1M99 504.91h1M113 509.42h1m117 0h1m308 0h1M111 513.92h1m214 0h1M108 518.43h1m123 0h1M288 540.95h1M356 545.46h1M310 549.96h1m171 0h1M452 554.47h1M162 558.97h1m239 0h1M289 572.49h1m81 0h1M74 576.99h1m34 0h1m157 0h1M127 581.50h1M100 590.51h1m40 0h1m32 0h1m61 0h1m209 0h1M92 595.01h1m3 0h1m31 0h1m12 0h1m46 0h1m292 0h1m19 0h1M117 599.52h1m205 0h1M259 608.53h1m9 0h1m9 0h1M129 613.03h1m31 0h1M99 622.04h1M256 635.56h1M298 644.57h1M248 649.07h1M200 658.08h1m333 0h1m11 0h1M158 662.59h1m40 0h1m23 0h1m244 0h1m40 0h1M71 667.09h1m87 0h2m154 0h1M76 671.60h2m51 0h1m10 0h1m20 0h1m14 0h1m18 0h2m302 0h1M102 676.10h1m41 0h1m386 0h1m7 0h1M95 680.61h1m121 0h1M465 689.62h1M331 694.12h1M125 712.14h1m82 0h1M335 721.15h1M261 725.66h1m14 0h1m97 0h1M328 757.19h1M151 766.20h1m244 0h1"/>
<path stroke="#cfc8bc" d="M190 360.75h1M378 365.26h1M149 383.28h1m33 0h1m100 0h1m222 0h1M373 387.78h1M251 392.29h1m37 0h1m218 0h1M311 396.79h1M169 410.31h1m99 0h1m157 0h1m8 0h1m8 0h1m11 0h1M381 428.33h1m165 0h1M417 432.83h1M72 437.34h1m209 0h1m45 0h1m54 0h1M253 441.84h1m13 0h1m76 0h1M82 446.35h1m158 0h1M353 450.85h1m173 0h1M551 459.86h1M233 464.37h1m122 0h1m184 0h1M266 473.38h1M299 482.39h1m51 0h1m57 0h1M198 486.89h1M396 491.40h1m42 0h1M339 500.41h1m7 0h1M136 504.91h1m53 0h1m298 0h1M289 509.42h1m22 0h1M160 513.92h1m155 0h1m183 0h1M300 518.43h1M178 522.93h1m74 0h1m4 0h1m227 0h1m8 0h1m46 0h2M484 527.44h1M453 531.94h1m40 0h2M487 545.46h1M432 554.47h1M144 558.97h1m207 0h1M146 563.48h2M516 567.98h1M123 576.99h1m218 0h1M194 590.51h1m65 0h1m139 0h1m52 0h1M497 595.01h1m40 0h1M145 599.52h1m167 0h1m173 0h1M134 613.03h1m144 0h1m186 0h1m28 0h1M418 617.54h2m30 0h1M151 644.57h1m46 0h1m72 0h1m248 0h1M82 662.59h1m36 0h1m252 0h1M173 667.09h1m88 0h1m67 0h1m69 0h1m12 0h1m116 0h1M109 671.60h1m99 0h1m278 0h1M227 676.10h1m266 0h1m11 0h1M93 680.61h1m53 0h1m123 0h1m26 0h1m105 0h1m13 0h1m41 0h1m9 0h1m3 0h1m15 0h1m54 0h1M203 698.63h1m38 0h1m35 0h1m88 0h1M258 703.13h1m61 0h1m11 0h1m104 0h1M193 716.65h1m135 0h1M165 757.19h1m174 0h1m132 0h1m10 0h1m41 0h1"/>
<path stroke="#ae0927" d="M192 360.75h1m24 0h1M78 365.26h1m56 0h1m17 0h1m26 0h1M88 369.76h1m37 0h1m19 0h1m36 0h1m4 0h2m14 0h1M68 374.27h1m11 0h1m25 0h2m6 0h1m8 0h3m26 0h1m3 0h1m7 0h1m4 0h1m10 0h1m3 0h1m18 0h1m4 0h1m1 0h1M78 378.77h1m19 0h1m11 0h1m13 0h1m28 0h1m22 0h1m18 0h2m2 0h1M119 383.28h1m50 0h1m16 0h1M115 387.78h1m13 0h1m73 0h1m10 0h1M76 392.29h1m3 0h1m25 0h2m17 0h1m5 0h2m27 0h1m36 0h1m23 0h1M83 396.79h1m12 0h1m100 0h1m19 0h2M79 401.30h2m8 0h1m121 0h2m11 0h2M181 405.80h1m9 0h1m5 0h1m196 0h1M166 410.31h1M68 414.81h1m35 0h1m31 0h1m36 0h1m8 0h1M72 419.32h1M86 423.82h2m2 0h1m11 0h1M156 428.33h1m6 0h2m22 0h1m38 0h1M85 432.83h1m6 0h2m2 0h1m42 0h1m14 0h1m25 0h1m23 0h1m20 0h1M109 437.34h1m4 0h1m42 0h1m9 0h2m23 0h1m19 0h1M124 441.84h1m5 0h1m40 0h1m6 0h1m47 0h1M90 446.35h1m36 0h1m22 0h1m9 0h1m5 0h1M102 450.85h1m35 0h1m32 0h1m50 0h1M104 455.36h1m40 0h1m72 0h1M172 459.86h1M99 468.87h1m69 0h1m22 0h1m19 0h1M74 473.38h1M74 477.88h1m120 0h1M91 482.39h1m12 0h1m66 0h1m8 0h1m24 0h1m14 0h1M79 486.89h1m104 0h1m12 0h1M146 491.40h1M164 495.90h2m26 0h1m7 0h1m10 0h1M97 500.41h1M82 504.91h1M252 527.44h1m29 0h1m12 0h1m51 0h1m11 0h1m55 0h1M238 531.94h1m88 0h2M288 536.45h1m61 0h1M247 540.95h2m51 0h2m50 0h1m40 0h1M285 545.46h1m32 0h1m4 0h1M289 549.96h1m96 0h1M235 554.47h1m91 0h1m39 0h1M260 558.97h1M249 563.48h1m79 0h1M249 567.98h1m129 0h1m3 0h1M294 576.99h1M245 581.50h1m8 0h1m14 0h1m31 0h1m44 0h1M235 586.00h1m63 0h1m9 0h1m37 0h1m5 0h1m27 0h1M298 590.51h1M269 604.02h1m72 0h1M246 608.53h1M231 613.03h1m21 0h1m13 0h1m23 0h1m30 0h1m41 0h1M272 617.54h1m136 0h1M234 622.04h1m19 0h1m29 0h1m79 0h1M247 626.55h1m33 0h1m56 0h1m15 0h1M235 631.05h1m1 0h2m38 0h1m49 0h1m2 0h1m10 0h1M323 635.56h1m17 0h1M275 640.06h1m12 0h1m48 0h1M257 644.57h1m35 0h2m80 0h1M250 649.07h1m9 0h1M232 653.58h1m79 0h1m13 0h1M243 658.08h1m78 0h1m13 0h1M309 662.59h1m39 0h1M239 667.09h2M301 676.10h1m17 0h1m57 0h1M346 680.61h1m33 0h1M401 685.11h1m15 0h1m37 0h1M413 689.62h1m95 0h1m6 0h1m13 0h1M530 694.12h1M399 698.63h1m81 0h1m5 0h1m32 0h1m3 0h1m22 0h1M402 703.13h1m15 0h1m24 0h1m3 0h1M446 707.64h1m99 0h1M423 712.14h1M478 716.65h1M450 721.15h1m64 0h1M521 725.66h1M427 730.16h1m3 0h1m100 0h1M521 734.67h1M467 739.17h1m12 0h1M536 743.68h1M468 748.18h1M461 757.19h2m22 0h1M440 761.70h1m6 0h1"/>
<path stroke="#de6a52" d="M195 360.75h1m303 0h1M97 365.26h1m40 0h1m35 0h1m11 0h1M115 369.76h1m20 0h1m44 0h1M103 374.27h1M167 378.77h1M276 383.28h2M294 387.78h1M152 392.29h1m186 0h1M137 396.79h1m28 0h1m12 0h1m72 0h1M135 401.30h1M170 405.80h1m70 0h1M167 410.31h1m32 0h1m25 0h1m1 0h1m164 0h1M97 414.81h1m51 0h1m47 0h1M135 419.32h1m11 0h1M104 428.33h1m76 0h1M105 432.83h1M98 437.34h1m27 0h1m129 0h1M73 441.84h1m112 0h1M86 446.35h1m184 0h1m133 0h1M202 450.85h1m63 0h1M320 455.36h1M88 459.86h1m106 0h1M144 464.37h1M72 468.87h1m25 0h1m99 0h1m120 0h1m5 0h1M70 473.38h1m100 0h1m61 0h1M232 477.88h1M200 482.39h1m18 0h1m43 0h1M171 486.89h1M78 491.40h1m153 0h1M96 495.90h1m65 0h1M169 504.91h1m25 0h1m4 0h1m193 0h1m59 0h1M89 509.42h1m40 0h1m68 0h1m30 0h1M147 513.92h1m22 0h1m38 0h1m19 0h1m47 0h1m20 0h1M170 518.43h1M122 522.93h1m54 0h1M281 527.44h1m9 0h1M248 531.94h1m43 0h1m131 0h1m132 0h1M343 536.45h1M137 540.95h1m242 0h1m8 0h1M359 545.46h1M303 549.96h1M289 554.47h1m15 0h1m14 0h1m212 0h1M326 558.97h1m53 0h1M350 563.48h1m38 0h1m110 0h1M231 567.98h1m46 0h1m14 0h1m31 0h1M214 572.49h1m75 0h1M265 576.99h1m56 0h1m51 0h1m10 0h1M237 590.51h1M286 595.01h1m17 0h1M331 599.52h1M379 604.02h1M236 608.53h1m73 0h1m13 0h1m54 0h1M315 617.54h1m35 0h1M350 622.04h1m17 0h1m149 0h1m4 0h1M275 626.55h1m72 0h1m1 0h1M379 631.05h1M247 635.56h1m15 0h1m167 0h1M234 640.06h1m1 0h1M110 644.57h1m162 0h1m34 0h1M231 649.07h1m15 0h1m132 0h1m2 0h1M347 653.58h1m17 0h1M262 658.08h1m79 0h1m25 0h1M106 662.59h1m270 0h1M452 667.09h1M375 671.60h1m157 0h1M264 676.10h1m46 0h1m6 0h1m38 0h1m22 0h1M434 680.61h1M69 685.11h1m35 0h1m363 0h1m9 0h1m52 0h1M76 689.62h1M402 694.12h1m65 0h1m40 0h1M170 698.63h1m237 0h1m37 0h1M505 703.13h1M324 707.64h1m79 0h1M433 712.14h1m105 0h1m15 0h1M245 716.65h1M460 721.15h1M452 725.66h1m3 0h1M209 730.16h1m104 0h1M334 743.68h1m97 0h1m1 0h1M317 748.18h1m95 0h1m64 0h1M156 752.69h1m177 0h1m101 0h1M333 766.20h1"/>
<path stroke="#cd605d" d="M201 360.75h1M224 365.26h1M79 369.76h1M83 374.27h1M182 378.77h1M69 383.28h1m15 0h1m60 0h1m11 0h1m58 0h1M136 387.78h1m40 0h1M80 396.79h1m16 0h1m76 0h1M212 405.80h1m68 0h1m40 0h1M185 410.31h1m63 0h1m103 0h1M89 414.81h1M99 419.32h1m22 0h1m101 0h1M122 423.82h1m27 0h1m13 0h1m3 0h1m23 0h1m31 0h1M194 432.83h1m252 0h1M108 437.34h1m45 0h1m31 0h1m82 0h1M85 441.84h1m39 0h1m185 0h1M138 446.35h1m58 0h1M69 450.85h1m69 0h1M118 464.37h1M106 468.87h1M73 477.88h1M105 482.39h1m38 0h1m54 0h1M487 486.89h1M70 495.90h1m29 0h1m33 0h1M105 500.41h1M144 509.42h1M379 522.93h1M281 536.45h1M141 540.95h1M233 545.46h1m20 0h1m3 0h1m118 0h1M304 554.47h1m36 0h1m3 0h1M294 558.97h1M324 563.48h1M260 567.98h1m131 0h2M275 572.49h1m117 0h1M236 581.50h1m13 0h1M133 586.00h1M366 604.02h1M289 608.53h1M349 613.03h1M358 617.54h1M234 626.55h1M269 631.05h1M232 635.56h1M370 640.06h1M362 644.57h1m18 0h2M239 649.07h1m24 0h1M363 658.08h1M253 662.59h1m21 0h1m98 0h1M441 667.09h1M365 671.60h1m19 0h1M290 676.10h1m82 0h1M384 680.61h1M412 689.62h1m95 0h1M490 698.63h1M405 707.64h1m7 0h1m63 0h1m40 0h1M408 712.14h1M337 721.15h1M363 734.67h1m114 0h2m26 0h1M535 739.17h1M208 743.68h1M368 748.18h1M295 761.70h1m12 0h1m107 0h1"/>
<path stroke="#f0e9b7" d="M206 360.75h1M171 365.26h1m39 0h1M296 374.27h1m219 0h1M492 383.28h1M299 392.29h1m76 0h1m12 0h1m2 0h1m62 0h1m31 0h1M158 401.30h1m118 0h1m49 0h2M116 405.80h1m339 0h1m12 0h1m6 0h1m43 0h1M82 414.81h1M190 419.32h1M105 423.82h1m201 0h1M301 428.33h1m88 0h1m115 0h1M113 441.84h1M82 459.86h1m15 0h1m113 0h1m201 0h1m2 0h1m30 0h1m9 0h1m29 0h1m56 0h1m10 0h1M139 464.37h1m17 0h1m46 0h1m34 0h1m112 0h1m15 0h1m183 0h1M126 473.38h1m227 0h1m154 0h1M124 477.88h1m15 0h1m50 0h1m99 0h1m69 0h1m13 0h1m15 0h1M526 482.39h1M152 486.89h1m133 0h1m172 0h1M136 491.40h1m55 0h1m143 0h1m31 0h1M83 495.90h1m96 0h1m84 0h1m40 0h1m42 0h1m19 0h1M325 500.41h1m5 0h1m5 0h1M148 504.91h1m183 0h1M123 509.42h1m314 0h1M287 513.92h1m58 0h1M71 518.43h1m9 0h1m60 0h1m63 0h1m60 0h1m10 0h1m9 0h1m37 0h1m105 0h1m95 0h1M496 522.93h1M169 540.95h1m305 0h1M332 549.96h1M503 554.47h1m45 0h1M72 558.97h1m64 0h1m61 0h1m198 0h2m157 0h1M335 563.48h1M68 572.49h1m81 0h1m102 0h1m107 0h1m1 0h1M100 576.99h1M321 581.50h1M164 590.51h1m247 0h1m94 0h1m50 0h1M76 595.01h1m22 0h1m54 0h1m23 0h1m16 0h1m7 0h1m3 0h1m98 0h1m166 0h1m3 0h1m42 0h1M77 599.52h1M154 604.02h1m86 0h1m81 0h1m10 0h1m2 0h1m38 0h1M117 608.53h1m51 0h1m88 0h1M127 613.03h1m88 0h1m6 0h1M554 622.04h1M80 635.56h1m57 0h1m111 0h1M361 640.06h1m79 0h1m90 0h1m1 0h1M492 644.57h1M351 649.07h1M226 653.58h1M69 658.08h1m117 0h1m3 0h1M69 662.59h1m78 0h1m18 0h1m1 0h1m277 0h1m28 0h1M93 667.09h1m3 0h1m18 0h1m16 0h1m336 0h1m44 0h1M100 671.60h1m1 0h1m49 0h1m3 0h1m34 0h1m249 0h1m104 0h1M122 676.10h1m355 0h1m21 0h1M173 680.61h1m4 0h1m12 0h1m7 0h1m15 0h1m81 0h1m77 0h1m131 0h1M156 689.62h1M281 698.63h1m27 0h1m58 0h1m21 0h1M252 703.13h1m228 0h1M397 707.64h1m75 0h1m27 0h2m27 0h1M330 712.14h1M316 716.65h1M419 721.15h1m14 0h1m33 0h1m42 0h1M102 725.66h1m147 0h1m12 0h1m40 0h1M187 730.16h1m159 0h1M408 739.17h1M357 752.69h1M277 757.19h1m16 0h1m94 0h1m79 0h1M133 761.70h1m273 0h1M398 766.20h1m33 0h1m60 0h1"/>
<path stroke="#bc3f4e" d="M214 360.75h1M106 365.26h1m6 0h1m37 0h1m65 0h1M167 369.76h1m58 0h1M199 374.27h1M106 378.77h1m45 0h1m61 0h2M88 383.28h1m3 0h1m11 0h1m32 0h1m90 0h1m309 0h1M93 387.78h1m108 0h1m7 0h1M213 396.79h1M90 401.30h1M73 405.80h1m79 0h1m33 0h1m34 0h1M91 410.31h1m150 0h1m69 0h1m11 0h1M495 414.81h1M215 419.32h1m9 0h1M201 423.82h1M87 428.33h1m116 0h1M99 432.83h1m45 0h1M131 437.34h1m37 0h1m193 0h1M192 441.84h1m144 0h1m40 0h1m6 0h1m149 0h1M403 446.35h1M181 450.85h1m7 0h1m1 0h1m2 0h1M130 455.36h1M74 464.37h1M85 468.87h1m243 0h1M78 482.39h1M195 486.89h1M127 495.90h1M219 500.41h1M452 504.91h1M73 509.42h1m118 0h1M120 513.92h1m40 0h1M321 527.44h1m95 0h1M336 531.94h1M68 536.45h1m176 0h1m45 0h1m3 0h1m61 0h1m1 0h1m29 0h1M313 540.95h1m10 0h1m53 0h1M272 545.46h1M236 549.96h1m4 0h1m86 0h1m6 0h1m33 0h1m24 0h1M317 558.97h1m35 0h1m2 0h1M340 563.48h1M333 567.98h1m36 0h1M306 572.49h1m17 0h1M246 586.00h1m101 0h1m43 0h1M240 590.51h1M267 595.01h1M303 599.52h1m53 0h1M282 608.53h1m39 0h1m47 0h1M232 613.03h1M312 622.04h1M455 626.55h1M505 631.05h1M259 635.56h1m49 0h1m26 0h1m3 0h1M350 640.06h1m1 0h1m6 0h1m13 0h1m92 0h1M290 644.57h1m8 0h1m39 0h1M282 649.07h1m111 0h1M276 653.58h1m27 0h1m9 0h1M241 658.08h1M301 662.59h1M271 667.09h1M355 671.60h1M309 676.10h1m77 0h1m111 0h1M465 685.11h1M498 689.62h1m52 0h1M198 694.12h1m114 0h1M496 698.63h1M396 703.13h2m19 0h1m27 0h1m31 0h1M420 707.64h1m54 0h1M422 712.14h1m5 0h1m15 0h1m68 0h1m1 0h1M285 716.65h1M391 721.15h1m26 0h1m110 0h1M506 725.66h1M519 730.16h1M409 734.67h1m12 0h1m34 0h1m74 0h1M335 739.17h1m76 0h1m25 0h1m11 0h2M385 743.68h1M407 748.18h1m126 0h1M257 752.69h1m56 0h1m82 0h1M533 757.19h1M490 761.70h1M429 766.20h1m28 0h1m6 0h1m29 0h1m30 0h1"/>
<path stroke="#dfbb9e" d="M218 360.75h1M255 365.26h1M166 369.76h1m213 0h1M159 374.27h1M258 383.28h1m235 0h1M161 387.78h1m93 0h1m79 0h1M258 392.29h1m205 0h1M551 401.30h1M155 405.80h1M141 410.31h1m73 0h1m16 0h1m113 0h1m99 0h1M128 419.32h1M209 428.33h1m285 0h1M69 432.83h1m284 0h1M237 437.34h1m72 0h1M289 441.84h1M297 446.35h1m87 0h1M282 450.85h1m223 0h1M322 455.36h1M239 459.86h1m28 0h1m36 0h1M109 464.37h1m159 0h1m111 0h1m44 0h1m101 0h1M388 468.87h1M98 473.38h1m4 0h1m81 0h1m75 0h1m8 0h1M77 482.39h1m179 0h1m81 0h1M240 486.89h1m5 0h1m124 0h1M72 491.40h1m55 0h1m41 0h1m90 0h1m120 0h1M91 495.90h1m96 0h1m1 0h1M231 500.41h1m28 0h1M122 504.91h1m50 0h1m68 0h1m11 0h1m85 0h1m36 0h1m157 0h1M374 509.42h1m78 0h1M178 513.92h1m263 0h1m35 0h1M185 518.43h1M337 522.93h1m11 0h1M258 531.94h1m125 0h1m97 0h1M411 536.45h1M202 545.46h1M233 549.96h1M290 558.97h1m5 0h1m123 0h1m76 0h1M291 563.48h1M452 567.98h1m86 0h1M84 576.99h1m99 0h1m354 0h1M336 586.00h1m82 0h1m14 0h1m54 0h1M76 590.51h1m82 0h1m11 0h1m11 0h1M188 599.52h1m170 0h1M156 608.53h1m204 0h1M116 613.03h1m29 0h1m258 0h1m88 0h1m49 0h1M548 622.04h1M414 626.55h1m37 0h1M290 631.05h1m85 0h1M489 635.56h1M295 640.06h1M80 644.57h1m179 0h1m167 0h1m31 0h1M301 649.07h1m152 0h1m4 0h1m90 0h1M78 653.58h1m116 0h1m200 0h1m74 0h1m23 0h1M102 658.08h1M156 662.59h1m300 0h1m65 0h1m16 0h1M273 667.09h1m28 0h1m82 0h1m23 0h1m13 0h1m57 0h1M80 671.60h1m146 0h1M92 676.10h1M94 680.61h1m7 0h1m60 0h1m71 0h1m18 0h1m37 0h1m84 0h1m72 0h1m31 0h1m45 0h1m4 0h1M221 685.11h1M84 689.62h1m74 0h1m186 0h1m133 0h1M417 694.12h1M89 698.63h1m65 0h1m11 0h1m201 0h1M303 703.13h1m75 0h1M291 712.14h1m213 0h1M280 725.66h1M311 734.67h1M527 739.17h1M289 743.68h1M401 757.19h1m9 0h1m71 0h1"/>
<path stroke="#ebbc98" d="M224 360.75h1m27 0h1M68 365.26h1M306 392.29h1M99 396.79h1m249 0h1M95 401.30h1M265 414.81h1M75 419.32h1m37 0h1m46 0h1m41 0h1M265 428.33h1M99 446.35h1m79 0h1m80 0h1M115 450.85h1M347 455.36h1m14 0h1M217 459.86h1m72 0h1M121 464.37h1m60 0h1m53 0h1m4 0h1m1 0h1m133 0h1M108 477.88h1m38 0h1m73 0h1m172 0h1m42 0h1M69 482.39h1m4 0h1m195 0h1m42 0h1m54 0h1M118 486.89h1m22 0h2M132 491.40h1m160 0h1m39 0h1m40 0h1M242 495.90h1m55 0h1m8 0h1m11 0h1m28 0h1m6 0h1m30 0h1M323 500.41h1M74 504.91h1m186 0h1M131 509.42h1m2 0h1m97 0h1m3 0h1m134 0h1m5 0h1M307 513.92h1m207 0h1m31 0h1M82 522.93h1m14 0h1M263 531.94h1m85 0h1M413 536.45h1M294 540.95h1m26 0h1M519 554.47h1M143 558.97h1m27 0h1M353 563.48h1M189 572.49h1m54 0h1m90 0h1M83 576.99h1m332 0h1m45 0h1M375 581.50h1M76 586.00h1m385 0h1M484 590.51h1M196 595.01h1m42 0h1M166 599.52h1m226 0h1M293 604.02h1m58 0h1M238 608.53h1m13 0h2m40 0h1m34 0h1m9 0h1m32 0h1m5 0h1m93 0h1M336 617.54h1M335 622.04h1m59 0h1m64 0h1m33 0h1m50 0h1M336 626.55h1m182 0h1M276 631.05h1m106 0h1m59 0h1m109 0h1M311 635.56h1m2 0h1m38 0h1m103 0h1m91 0h1M348 644.57h1m108 0h1M384 649.07h1M71 653.58h1m112 0h1m214 0h1M275 658.08h1m42 0h1m25 0h1m58 0h1M86 662.59h1m26 0h1m35 0h1m108 0h1m121 0h1M107 667.09h1m37 0h1m47 0h1m197 0h1m92 0h1M146 671.60h1m3 0h1M124 676.10h1m264 0h1M324 680.61h1m183 0h1M185 685.11h1M85 689.62h1M269 698.63h1M452 707.64h1m8 0h1m95 0h1M270 712.14h1m238 0h1M499 716.65h1M290 721.15h1m33 0h1m47 0h1m1 0h1m50 0h1m22 0h1m33 0h1M130 730.16h1m120 0h1m6 0h1m237 0h1m34 0h1M294 734.67h1m90 0h1m58 0h1M307 743.68h1m89 0h1m2 0h1M403 748.18h1m17 0h1M514 752.69h1M140 757.19h1M276 761.70h1m16 0h1m102 0h1m22 0h1m68 0h1m29 0h1M488 766.20h1"/>
<path stroke="#e0b596" d="M229 360.75h1M104 369.76h1m80 0h1m87 0h1M268 374.27h1m34 0h1m131 0h1M122 378.77h1M386 383.28h1M228 387.78h1m21 0h1M328 405.80h1m179 0h1M116 410.31h1m135 0h1M406 414.81h1M113 428.33h1M132 437.34h1m242 0h1M185 446.35h1M245 450.85h1M388 459.86h1M558 468.87h1M124 473.38h1m63 0h1M196 477.88h1M191 482.39h1m17 0h1M75 486.89h1m47 0h1m383 0h1M159 491.40h1m15 0h1m2 0h1m193 0h1M215 495.90h1m136 0h1M107 500.41h1m268 0h1M73 504.91h1m177 0h1m25 0h1m30 0h1M84 509.42h1m118 0h1m118 0h1m160 0h1m30 0h1M195 513.92h1m124 0h1m79 0h1m10 0h1m38 0h1M88 518.43h1m212 0h1m69 0h1m25 0h1M320 522.93h1m4 0h1m207 0h1M330 527.44h1m202 0h1M341 531.94h1m35 0h1m151 0h1M401 536.45h1m17 0h1m104 0h1M249 540.95h1m85 0h1M322 545.46h1m52 0h1m45 0h1M423 554.47h1M70 558.97h1m43 0h1M280 567.98h1M328 581.50h1M70 590.51h1m17 0h1M238 599.52h1M324 604.02h1M354 608.53h1M195 613.03h1m160 0h1m139 0h1m6 0h1M359 617.54h1M383 622.04h1m78 0h1M275 631.05h1M286 635.56h1m139 0h1m126 0h1M452 640.06h1M127 644.57h1m25 0h1m92 0h1m132 0h1m85 0h1M504 649.07h1M504 658.08h1M75 662.59h1m59 0h1m15 0h1m30 0h1m263 0h1m69 0h2M329 667.09h1m123 0h1M137 671.60h1m177 0h1m148 0h1M96 676.10h1m338 0h1m67 0h1M406 680.61h1m13 0h1m18 0h1m35 0h1m43 0h1m2 0h1M194 685.11h1M476 694.12h1M77 698.63h1m31 0h1m51 0h1m15 0h1m5 0h1M154 712.14h1M398 716.65h1M282 721.15h1m63 0h1m17 0h1M188 725.66h1m268 0h1M275 730.16h1M401 734.67h1M306 739.17h1M72 757.19h1m103 0h1m40 0h1m95 0h1m63 0h1m39 0h1"/>
<path stroke="#eda67e" d="M230 360.75h1M99 365.26h1m19 0h1m9 0h1M85 378.77h1m100 0h1m29 0h1m6 0h1M153 383.28h1m205 0h1M149 387.78h1m44 0h1m83 0h1M96 401.30h1m7 0h1m88 0h1m9 0h1M167 405.80h1m45 0h1M77 410.31h1m25 0h1m46 0h1m25 0h1M541 414.81h1M70 419.32h1m408 0h1M113 423.82h1m4 0h1m65 0h1m27 0h1m15 0h1M135 428.33h1m189 0h1M452 432.83h1M205 437.34h1M91 441.84h1m55 0h1M211 446.35h1m82 0h1m179 0h1M469 450.85h1M110 455.36h1m134 0h1m302 0h1M94 459.86h1m116 0h1m92 0h1m8 0h1M82 464.37h1m164 0h1m16 0h1m46 0h1m82 0h1M206 468.87h1m11 0h1M152 473.38h1m255 0h1m74 0h1M142 477.88h1m1 0h1m10 0h1m14 0h1m8 0h1m44 0h1M531 482.39h1M77 491.40h1M203 495.90h1m39 0h1M110 504.91h1m29 0h1m144 0h1m36 0h1M86 509.42h1m134 0h1m5 0h1m1 0h1m54 0h1m114 0h1m45 0h1m84 0h1M84 513.92h1m4 0h1m6 0h1m46 0h1m15 0h1m14 0h1m43 0h1m161 0h1m3 0h1m75 0h1m10 0h1M124 518.43h1m55 0h1M123 522.93h1m49 0h1m147 0h1M362 527.44h1M385 531.94h1M430 536.45h1m11 0h1M99 540.95h1M352 545.46h1m177 0h1M143 549.96h1m231 0h1M176 554.47h1M512 558.97h1M270 563.48h1M362 567.98h1m154 0h1M195 572.49h1m77 0h1m21 0h1m19 0h1m64 0h1M218 576.99h1m5 0h1M305 581.50h1m203 0h1M331 586.00h1m39 0h1m161 0h1M73 590.51h1m191 0h1m62 0h2m85 0h1M242 595.01h1M203 599.52h1m142 0h1m37 0h2m67 0h1M299 608.53h1m48 0h1m40 0h1M110 613.03h1m10 0h1m220 0h1m74 0h1m102 0h1M510 617.54h1M341 622.04h1M495 626.55h1M248 631.05h1m270 0h1M284 635.56h1m246 0h1M242 640.06h1M206 644.57h1m78 0h1m50 0h2m64 0h1m12 0h1M223 653.58h1M171 662.59h1m29 0h1m132 0h1m97 0h1M226 671.60h1m1 0h1m94 0h1m10 0h1M167 676.10h1m15 0h1m256 0h1M104 680.61h1m102 0h1m47 0h1m166 0h1m56 0h1m11 0h1m65 0h1M158 685.11h1M267 694.12h1m128 0h1M474 698.63h1M346 703.13h1m13 0h1m55 0h1M535 707.64h1m3 0h1M152 712.14h1M81 716.65h1M281 721.15h1m24 0h1m121 0h1m62 0h1M412 725.66h1m6 0h1M330 730.16h1M435 734.67h1m77 0h1M421 739.17h1m15 0h1M359 743.68h1M105 757.19h1m58 0h1M128 761.70h1M312 766.20h1m171 0h1m63 0h1"/>
<path stroke="#c8d6de" d="M268 360.75h1m26 0h1M181 365.26h1m30 0h1m26 0h2m28 0h1m103 0h1M163 369.76h1m10 0h1m40 0h1m29 0h2m13 0h1m69 0h1m34 0h1m4 0h1m57 0h1m49 0h1m70 0h1M174 383.28h1m28 0h1m22 0h1m10 0h1m49 0h1m77 0h1M285 387.78h1m1 0h1m73 0h1m84 0h1M212 396.79h1m217 0h1m18 0h1m23 0h1m19 0h1M88 410.31h1m50 0h1m271 0h1m32 0h1m113 0h1M70 414.81h1m21 0h1m100 0h1m85 0h1m10 0h1m2 0h1m22 0h1m8 0h2m81 0h2m38 0h1m30 0h1m20 0h2m21 0h1m29 0h2M140 428.33h1m1 0h1m278 0h1m5 0h1M81 432.83h1m8 0h1m13 0h1m47 0h1m17 0h1m8 0h1m13 0h1m12 0h1m136 0h1m14 0h1m7 0h1m61 0h1m1 0h1m47 0h1m17 0h1m5 0h1m2 0h1m13 0h1m1 0h1m32 0h2M68 437.34h1m165 0h1m170 0h1m97 0h1m2 0h1m41 0h1m2 0h1M80 441.84h1m116 0h1m74 0h1m9 0h1m21 0h1m3 0h1m38 0h1m44 0h1m29 0h1M110 446.35h1m38 0h1m84 0h2m9 0h2m2 0h1m50 0h1m86 0h1m27 0h1M73 450.85h1m29 0h1m13 0h1m3 0h1m10 0h1m15 0h1m28 0h1m126 0h1m54 0h1m116 0h1M186 455.36h1m21 0h1m11 0h1m64 0h1M336 464.37h1M123 473.38h1m6 0h1m39 0h1m55 0h1m15 0h1m116 0h1m94 0h2m90 0h1M116 482.39h1m39 0h1m25 0h1m69 0h1m19 0h1m7 0h1m33 0h1m37 0h1m38 0h1m112 0h1m28 0h1m1 0h1m14 0h1M95 486.89h1m111 0h1m121 0h1m103 0h1m45 0h1m6 0h1m30 0h1m1 0h1m17 0h1M105 491.40h1m9 0h1m29 0h1m85 0h1m94 0h1m161 0h1M117 500.41h1m14 0h1m36 0h1m93 0h1m124 0h1m13 0h1M278 504.91h1m90 0h1m19 0h2m13 0h1M180 509.42h1m140 0h1m30 0h1m141 0h1M102 513.92h1m345 0h1m18 0h1m36 0h1M105 531.94h1m195 0h1m54 0h1m7 0h1m60 0h1m6 0h1m110 0h1M88 536.45h1m117 0h1m31 0h1m16 0h1m36 0h1m136 0h1m57 0h1m14 0h1m10 0h1m12 0h1M326 545.46h1m224 0h1M535 554.47h1M145 558.97h1m71 0h1m144 0h1m109 0h1m38 0h1M183 563.48h1m76 0h1m22 0h1m141 0h2m5 0h1m71 0h1m45 0h1M265 567.98h1m32 0h1m31 0h1m68 0h1M225 576.99h1m31 0h1m11 0h1m1 0h1m74 0h1m138 0h1M132 586.00h1m122 0h1m1 0h1m6 0h1m30 0h1m70 0h1m2 0h1m5 0h1m6 0h1m45 0h1m44 0h1m80 0h1M160 599.52h1m37 0h1m47 0h1m9 0h1m84 0h1m29 0h1m30 0h1m10 0h1m2 0h1m21 0h1m41 0h1M197 613.03h1m28 0h1m88 0h1m10 0h1m21 0h1m48 0h1m31 0h1m38 0h1m28 0h1m52 0h1m7 0h1M262 617.54h1m23 0h1m44 0h1m76 0h1m1 0h1m13 0h1m2 0h1m18 0h2m49 0h1m31 0h1M107 626.55h1m70 0h1m12 0h1m2 0h1m2 0h1m32 0h1m78 0h1m95 0h1m35 0h1m3 0h1m59 0h1m43 0h1M99 631.05h1m73 0h1m88 0h1m155 0h1m20 0h1M372 635.56h1m107 0h1M276 640.06h1m10 0h1m25 0h1m74 0h1m6 0h1m4 0h1m58 0h1M191 644.57h1m92 0h1m36 0h1m79 0h1m6 0h1m14 0h1m65 0h1m23 0h1M152 649.07h1m131 0h1m7 0h1m78 0h1m7 0h1m53 0h1m90 0h1m31 0h1M79 653.58h1m88 0h1m176 0h1m99 0h1m96 0h1M341 658.08h1m134 0h2M165 662.59h1m249 0h1m7 0h1m73 0h1m41 0h1M134 667.09h1m9 0h1m194 0h1m123 0h1m31 0h1M75 671.60h1m95 0h1m318 0h1m65 0h1M193 680.61h1m275 0h1m74 0h1M88 689.62h1m121 0h1m96 0h1M92 694.12h1m37 0h1m4 0h1m121 0h1m37 0h1m18 0h1m47 0h1m144 0h1m50 0h1M336 703.13h1m96 0h1m107 0h1M203 712.14h2m38 0h1m16 0h1m35 0h1m1 0h1m70 0h1m158 0h1M129 716.65h2m134 0h1m49 0h1m8 0h1m47 0h1m21 0h1m121 0h1m10 0h2m15 0h1M287 725.66h1M412 757.19h1m61 0h1"/>
<path stroke="#d3d6d3" d="M277 360.75h1m107 0h1M184 365.26h1m89 0h1m195 0h1M119 369.76h1M272 383.28h1m240 0h1M237 387.78h1m29 0h1m44 0h1m35 0h1M119 396.79h1m31 0h1m201 0h1m183 0h1M79 410.31h1m292 0h1M218 414.81h1m35 0h1m5 0h1m2 0h1m6 0h1m12 0h1m184 0h1M236 437.34h1m49 0h1m12 0h1m53 0h1m58 0h1m75 0h1m23 0h1m10 0h1M220 441.84h1m10 0h1m247 0h1M92 446.35h1m65 0h1m144 0h2M126 450.85h1m154 0h1m50 0h1m86 0h1m33 0h1m48 0h1m14 0h1m8 0h1m29 0h1M188 455.36h1m119 0h1m19 0h1m9 0h1m9 0h1m6 0h1m7 0h1m32 0h1M78 464.37h1m71 0h1m91 0h1m1 0h1m30 0h1m11 0h1m5 0h1m3 0h1m36 0h1M181 473.38h1m7 0h1m144 0h1m108 0h1M170 482.39h1m3 0h1m26 0h1m64 0h1m27 0h1m74 0h1m127 0h1m58 0h1M133 486.89h1m6 0h1m3 0h1m3 0h1m82 0h1m87 0h1m60 0h1m36 0h1M131 491.40h1m144 0h1m74 0h1m36 0h1m1 0h1M233 500.41h1m13 0h1m52 0h1m18 0h1m10 0h1m23 0h1m125 0h1M501 504.91h1M83 509.42h1m150 0h1m43 0h1m27 0h1m37 0h1m5 0h1m42 0h2m16 0h1m56 0h1m28 0h1m38 0h2M379 513.92h1m83 0h1m32 0h1M306 518.43h1m146 0h1M410 531.94h2m9 0h1m16 0h1M304 536.45h1m13 0h1m41 0h1m42 0h1M327 545.46h1m69 0h1m35 0h1m89 0h1M417 554.47h1M98 558.97h1m126 0h1M334 563.48h1m67 0h1m27 0h1m124 0h1M222 576.99h1m240 0h1M135 586.00h1m139 0h1m156 0h1m106 0h1M209 590.51h1M71 599.52h1m20 0h1m157 0h1m247 0h1M118 613.03h1m60 0h1m115 0h1m93 0h1m41 0h1M71 617.54h1m32 0h1m206 0h1m57 0h1m9 0h1m146 0h1M77 626.55h1m126 0h1m32 0h1m275 0h1M177 631.05h1m21 0h1m86 0h1m111 0h1m43 0h1m70 0h1m31 0h1M146 635.56h1m17 0h1m191 0h1m101 0h1m25 0h1m30 0h1M75 640.06h2m131 0h1m34 0h1m8 0h1m6 0h1m4 0h1m68 0h1m205 0h1m18 0h1M142 644.57h1m267 0h1m32 0h1m51 0h1M162 649.07h1m69 0h1m95 0h1m71 0h1m22 0h1m55 0h1M115 653.58h1m31 0h1m12 0h1m50 0h1m18 0h1m12 0h2m47 0h1m95 0h1m115 0h1m7 0h1m27 0h1m3 0h1M68 658.08h1m29 0h1m168 0h1m173 0h1m88 0h1M220 662.59h1m62 0h1m125 0h1M336 667.09h1M139 676.10h1M75 680.61h1m104 0h1m375 0h1M75 689.62h1m18 0h1m36 0h1m22 0h1m13 0h1m167 0h1m1 0h1m123 0h2m22 0h1M137 694.12h1m24 0h1m15 0h1m52 0h1m10 0h2m38 0h1m64 0h1m72 0h1m69 0h1m5 0h1M387 703.13h1M153 712.14h1m59 0h1m11 0h1m14 0h1m65 0h1m38 0h1m10 0h1m110 0h1M119 716.65h2m53 0h1m81 0h1m263 0h1M450 730.16h1M199 734.67h1M436 748.18h2M240 757.19h1m26 0h1m4 0h1M280 761.70h1"/>
<path stroke="#cbdfdc" d="M347 360.75h1m38 0h1M287 365.26h1M86 369.76h1m179 0h1M314 374.27h1m79 0h1m48 0h1m81 0h1m32 0h1M392 383.28h1M247 387.78h1m4 0h1m129 0h1m146 0h1M330 392.29h1m90 0h1m48 0h1m6 0h1m38 0h1m12 0h1M74 396.79h1M436 405.80h1M272 410.31h1m35 0h1m47 0h1m128 0h1m56 0h1m13 0h1M209 414.81h1m56 0h1m76 0h1m61 0h1m9 0h1M185 428.33h1m88 0h1m1 0h1m64 0h2m126 0h1m14 0h1M340 432.83h1M175 437.34h1m125 0h1m99 0h2m108 0h1M111 441.84h1m28 0h1m3 0h1m101 0h1m18 0h1M187 446.35h1m52 0h1m87 0h1m18 0h1m36 0h1M120 450.85h1m209 0h2M495 464.37h1m33 0h1m19 0h1M505 468.87h1M262 473.38h1m8 0h1m26 0h1m50 0h1m57 0h1M161 482.39h1m96 0h1m98 0h1m35 0h1m3 0h1m13 0h1m16 0h1m13 0h1M129 486.89h1m19 0h1m110 0h1m82 0h1m29 0h2m82 0h1M262 491.40h1m9 0h1m44 0h1m14 0h1m5 0h1m20 0h1M206 500.41h1m2 0h1m29 0h1m112 0h1m4 0h1m189 0h1M68 504.91h1m162 0h1m58 0h1m19 0h1m65 0h1m168 0h1M184 509.42h1m70 0h1m3 0h1m108 0h1m64 0h1m45 0h1m11 0h1m9 0h1m13 0h1m18 0h1M275 513.92h1m114 0h1m15 0h1m44 0h1m17 0h1m41 0h1m17 0h1M401 522.93h1m28 0h1M459 527.44h1M331 531.94h1m126 0h1m16 0h1m45 0h1m4 0h1M348 536.45h1m92 0h1m7 0h1m12 0h1M94 545.46h1m281 0h1m57 0h1m63 0h1m25 0h1m6 0h1M406 554.47h1M122 558.97h1m54 0h1m56 0h1m45 0h1m110 0h1m35 0h1m2 0h1m2 0h1m13 0h1m33 0h1M79 563.48h1m422 0h1m28 0h1M422 567.98h1m5 0h1m56 0h2m56 0h1M91 576.99h1m50 0h1m2 0h1m102 0h1m81 0h1M87 590.51h1m34 0h1m400 0h1m9 0h1M209 595.01h1M101 599.52h1m44 0h1m25 0h1m118 0h1m10 0h1M88 613.03h1m3 0h1m2 0h1m115 0h1m80 0h1m216 0h1m2 0h1m33 0h1M477 617.54h1M120 626.55h1m59 0h2m125 0h1M76 644.57h1m48 0h1m45 0h1m89 0h1m88 0h1m2 0h1m10 0h1m175 0h1m1 0h1m7 0h1M87 662.59h1m57 0h1m13 0h1m26 0h1m18 0h1m214 0h1m34 0h1m26 0h1m9 0h1M179 667.09h1m4 0h1m16 0h1m28 0h1m238 0h1m58 0h1m5 0h1m6 0h2m8 0h1M126 671.60h1m1 0h1m15 0h1m15 0h1m236 0h1m23 0h1m40 0h1M70 676.10h1m151 0h1m285 0h1M83 680.61h1m17 0h1m9 0h1m38 0h1m47 0h1m5 0h1m22 0h1m186 0h1m97 0h1M117 694.12h2m19 0h1m109 0h1m1 0h1m21 0h1m37 0h1m67 0h1m40 0h1M388 703.13h1M257 716.65h1m12 0h1m161 0h1m71 0h1M97 725.66h1m42 0h1m28 0h1m168 0h1m5 0h1m33 0h1M146 757.19h1m107 0h1m20 0h1"/>
<path stroke="#e0c1a0" d="M352 360.75h1m98 0h1M209 365.26h1M217 369.76h1M186 374.27h1m214 0h1m127 0h1M101 383.28h1m315 0h1M415 392.29h1m15 0h1M92 396.79h1M109 401.30h1M306 405.80h1M300 410.31h1M160 414.81h1m175 0h1m5 0h1M244 428.33h1m13 0h1m165 0h1m110 0h1M518 432.83h1M138 437.34h1m62 0h1m166 0h1M286 441.84h1M312 446.35h1M495 450.85h1M111 455.36h1M194 459.86h1m336 0h1M79 464.37h1m180 0h1m4 0h1m17 0h1m122 0h1M278 468.87h1M187 473.38h1m249 0h1M138 482.39h1m367 0h1M308 486.89h1M250 491.40h1m7 0h1m4 0h1M74 500.41h1m14 0h1m56 0h1m60 0h1m68 0h1M135 504.91h1m30 0h2m44 0h1m104 0h1m26 0h1m13 0h1m38 0h1m31 0h1m5 0h1m21 0h1m25 0h1m62 0h1M149 509.42h1m129 0h1m139 0h1m37 0h1M271 513.92h1m53 0h1m4 0h1m79 0h1m131 0h1M309 518.43h1m2 0h1m16 0h1M380 522.93h1m109 0h1M439 527.44h1m83 0h1M235 531.94h1m238 0h1M369 545.46h1M156 558.97h1m99 0h1m73 0h1m16 0h1m61 0h1M258 563.48h1m112 0h1M430 567.98h1m58 0h1m23 0h1m19 0h1M160 576.99h1m27 0h1m139 0h1m47 0h1M505 586.00h1M413 590.51h1m128 0h1M133 595.01h1m327 0h1M196 599.52h1M174 613.03h1M495 617.54h1M260 622.04h1m173 0h1M179 626.55h1m91 0h1m215 0h1M71 635.56h1m179 0h1m28 0h1m50 0h1m141 0h1M221 640.06h1m201 0h1M148 644.57h1m128 0h1m19 0h1m37 0h1m161 0h1m21 0h1m19 0h1M272 649.07h1m2 0h1m72 0h1m80 0h1M77 653.58h1m87 0h1m48 0h1m67 0h1M145 658.08h1m74 0h1m72 0h1m209 0h1M74 662.59h1m157 0h1m77 0h1m167 0h1m22 0h1M276 667.09h1m135 0h1M83 671.60h1m8 0h1m71 0h1m266 0h1m110 0h1M110 676.10h1m70 0h1m14 0h1m266 0h1m46 0h1M409 680.61h1m55 0h1m69 0h1M75 685.11h1m27 0h1m111 0h1M187 689.62h1M306 694.12h1m237 0h1M261 698.63h1m59 0h1m26 0h1m58 0h1M249 703.13h1m44 0h1m33 0h1m227 0h1M336 712.14h1M459 748.18h1M304 757.19h1m27 0h1M443 766.20h1"/>
<path stroke="#d5dcda" d="M426 360.75h1M195 369.76h1M323 414.81h1M234 432.83h1m289 0h1M385 437.34h1m42 0h1m63 0h1M314 441.84h1m19 0h1m79 0h1m69 0h1M221 446.35h1m107 0h1m39 0h1M279 450.85h1M102 455.36h1m46 0h1m112 0h2m59 0h1M340 464.37h1m24 0h1M118 473.38h1m113 0h1m194 0h1m126 0h1M194 477.88h1M250 482.39h1M269 486.89h1M245 491.40h1m69 0h1m110 0h1m40 0h1M343 500.41h1m206 0h1M97 540.95h1m112 0h1m5 0h1m85 0h1M236 545.46h1m141 0h1m33 0h1m5 0h1M170 549.96h1m66 0h1m195 0h2m4 0h1M328 563.48h1M286 572.49h1m38 0h2M251 581.50h1m6 0h1m50 0h1m70 0h1m111 0h1M402 586.00h1m54 0h1m41 0h1M451 599.52h1M161 617.54h1m73 0h1M293 626.55h1M136 631.05h1m110 0h1m304 0h1M72 635.56h1m29 0h1m17 0h1m57 0h2m42 0h1m128 0h1m67 0h1m2 0h2m23 0h1m77 0h1M139 640.06h1m9 0h1m35 0h1m3 0h1m135 0h1m41 0h1m50 0h1m69 0h1m51 0h1M91 649.07h2m217 0h1m104 0h1m15 0h1M110 653.58h1m23 0h1m18 0h1m2 0h1m40 0h1m4 0h1m14 0h1m193 0h1m45 0h1m45 0h1m45 0h1M181 658.08h1m97 0h1m47 0h1m74 0h1m96 0h1m16 0h1M77 689.62h1m92 0h1m13 0h1m8 0h1m18 0h1m5 0h1m111 0h1m34 0h1m9 0h1M73 694.12h1m254 0h1m155 0h1M101 712.14h1m145 0h1m15 0h1m5 0h1m77 0h1m103 0h1m99 0h1M549 721.15h1M126 730.16h1m69 0h2m71 0h1m73 0h1m59 0h1m1 0h1m24 0h1m3 0h1m57 0h2m33 0h1M140 734.67h1m47 0h1m5 0h1m25 0h1m123 0h1m4 0h2m20 0h2m47 0h2m48 0h1m2 0h1m41 0h1m28 0h1M237 739.17h1m31 0h1m14 0h1m37 0h1m25 0h1m32 0h1m60 0h1m40 0h1M207 743.68h1m90 0h1m16 0h1m26 0h1m14 0h1m7 0h1m36 0h1m37 0h1m15 0h1m89 0h1M118 748.18h2m3 0h1m67 0h1m62 0h1m21 0h1m8 0h1m20 0h1m49 0h1m47 0h1m39 0h1m21 0h1M256 752.69h1m136 0h1m47 0h1m38 0h1m51 0h1m20 0h1M89 761.70h1m17 0h2m6 0h1m44 0h2m12 0h2m12 0h1m19 0h1m22 0h1m47 0h1m14 0h1m12 0h1m24 0h1m12 0h1m26 0h1m20 0h1m9 0h1m62 0h1m58 0h1m21 0h1M307 766.20h1m12 0h2m40 0h1m10 0h1m6 0h1m23 0h1m31 0h1m22 0h1m41 0h2m20 0h1"/>
<path stroke="#d8e6d8" d="M507 360.75h1M320 374.27h1M162 387.78h1m98 0h1m77 0h1M307 392.29h1m188 0h1m21 0h1M106 410.31h1m111 0h1m17 0h1m203 0h1M251 414.81h1M254 428.33h1m91 0h1m16 0h1m30 0h1m36 0h1m27 0h1m7 0h1m20 0h1M214 432.83h1M271 441.84h1m8 0h1m59 0h1M373 446.35h1M280 450.85h1M133 455.36h1m110 0h1m68 0h3m9 0h1m13 0h2m41 0h1M125 464.37h1m30 0h1m60 0h1m14 0h1m61 0h1m183 0h2M516 468.87h1M201 473.38h1m174 0h1m3 0h1m41 0h1m61 0h1m36 0h1M289 482.39h1m52 0h2m33 0h1M223 486.89h1m26 0h1m133 0h1M79 491.40h1m208 0h1m78 0h1M85 500.41h1m131 0h1m99 0h1m49 0h1M145 504.91h1m341 0h1M339 509.42h1m111 0h1m9 0h1M243 513.92h1m99 0h1m28 0h1m53 0h1M233 518.43h1m144 0h1m25 0h1M282 531.94h1M363 536.45h1M416 545.46h1M215 558.97h1M233 563.48h1m32 0h1M490 567.98h1M196 576.99h1m118 0h1M218 590.51h1m198 0h1M109 595.01h1m19 0h1m33 0h1m375 0h1M144 599.52h1m36 0h2m42 0h1m327 0h1M75 613.03h1m37 0h1m79 0h1m214 0h1M465 617.54h1m40 0h1M164 622.04h1M274 626.55h1m146 0h2M387 631.05h1m105 0h1m17 0h1M89 635.56h1m21 0h1m181 0h1m134 0h1M263 640.06h1m248 0h1m7 0h1M201 644.57h2m42 0h1M176 649.07h1m228 0h1m12 0h1m39 0h1m90 0h1M366 653.58h1m97 0h1m49 0h1m39 0h1M78 658.08h1m29 0h1m50 0h1m7 0h2m91 0h1m140 0h1m20 0h1m40 0h1m6 0h1m9 0h1m57 0h1M76 662.59h1m2 0h1m4 0h1m42 0h1m26 0h1m20 0h1m13 0h1m7 0h1m229 0h1m130 0h1M202 667.09h1m19 0h1m194 0h1m33 0h1M538 671.60h1M190 676.10h1m11 0h1M186 680.61h1m1 0h1m8 0h1M327 689.62h1m9 0h1m100 0h1m3 0h1m51 0h1M171 698.63h1m202 0h1M201 712.14h1m198 0h1m119 0h1M333 716.65h1m163 0h1M327 725.66h1m40 0h1M278 757.19h1"/>
<path stroke="#d08c89" d="M554 360.75h1M214 365.26h1m16 0h1m249 0h1M252 369.76h1M170 378.77h1m14 0h1M73 383.28h1m37 0h1m67 0h1m152 0h1m67 0h1M175 396.79h1M175 401.30h1M240 405.80h1m23 0h1M151 410.31h1m122 0h1m18 0h1m64 0h1M126 414.81h1m12 0h1m38 0h1m274 0h1m21 0h1m7 0h1M119 419.32h1m57 0h1M158 423.82h1m1 0h1m66 0h1M72 428.33h1m30 0h1m30 0h1M79 432.83h1m51 0h1m68 0h1m21 0h1m163 0h1m34 0h1M95 437.34h1m55 0h1m33 0h1M258 441.84h1m77 0h1m136 0h1m47 0h1M143 446.35h1m129 0h1m46 0h1m41 0h1m50 0h1M123 450.85h1m46 0h1m104 0h1m111 0h1m39 0h1m92 0h1M98 455.36h1m127 0h1M158 464.37h1m189 0h1M293 468.87h1m3 0h1M97 473.38h1m57 0h1m39 0h1m128 0h1m75 0h1m152 0h1M76 477.88h1m276 0h1M97 482.39h1m20 0h1m62 0h1m16 0h1m165 0h1M73 486.89h1m11 0h1m309 0h1m55 0h1M141 491.40h1m235 0h1m90 0h1m74 0h1M92 495.90h1m17 0h1M195 500.41h1M201 504.91h1m11 0h1m251 0h1m9 0h1m61 0h1m1 0h1M351 509.42h1m104 0h1M93 513.92h1m371 0h1M262 518.43h1m214 0h1M77 522.93h1m192 0h1m21 0h1m55 0h1m7 0h1m25 0h1m3 0h1M239 527.44h1m59 0h1m20 0h1M335 531.94h1m32 0h1m19 0h1m60 0h1m1 0h1M243 536.45h1m7 0h1m95 0h1m37 0h1m69 0h1m37 0h1m27 0h1M128 540.95h1m114 0h1m90 0h1m16 0h1m3 0h1m28 0h1m1 0h1m5 0h1M226 545.46h1m73 0h1m13 0h1m35 0h1M294 549.96h1m98 0h1m54 0h1m83 0h1M510 554.47h1M357 558.97h1m32 0h1M261 563.48h1m40 0h1m56 0h1m35 0h1m152 0h1M250 567.98h1m28 0h1m140 0h1m50 0h1M274 576.99h1m27 0h1m51 0h2M272 581.50h1m81 0h1m1 0h1M234 586.00h1m19 0h1m10 0h1m114 0h1m12 0h1m96 0h1m39 0h1M547 590.51h1M127 595.01h1m136 0h1m5 0h1M255 599.52h1m122 0h1m12 0h1m92 0h1M330 604.02h1M384 608.53h1M137 613.03h1m22 0h1m225 0h1M387 617.54h1m37 0h1M373 626.55h1m36 0h1M240 631.05h1m75 0h1m127 0h1M347 635.56h1m156 0h1M94 640.06h1m1 0h1m134 0h1m45 0h1m15 0h1m40 0h1m101 0h1M217 644.57h1m267 0h1M210 649.07h1m3 0h1m19 0h1m73 0h1m10 0h1M443 653.58h1m84 0h1M248 658.08h1m2 0h1m11 0h1M278 667.09h1m46 0h1m2 0h1m29 0h1m44 0h1M304 671.60h1m218 0h1m20 0h1M347 676.10h1M355 680.61h1m11 0h1m33 0h1m115 0h1M107 685.11h1m23 0h1m274 0h1m23 0h1m68 0h1M224 689.62h1m10 0h1m45 0h1m23 0h1m36 0h1m20 0h1m40 0h1m59 0h1m67 0h1M151 694.12h1m73 0h1m254 0h1m43 0h1m24 0h1M325 698.63h1m185 0h1m44 0h1M277 703.13h1m247 0h1m5 0h1M412 707.64h1m131 0h1M303 712.14h1m40 0h1m22 0h1m163 0h1M283 716.65h1m12 0h1m93 0h1m85 0h1m53 0h1M321 721.15h1m200 0h1m5 0h1M427 725.66h1m17 0h1m43 0h1M262 730.16h1m81 0h1m97 0h1m68 0h1M71 734.67h1m67 0h1m133 0h1m71 0h1m165 0h1m35 0h1M252 739.17h1m94 0h1m2 0h1m31 0h1m147 0h1M112 743.68h1m144 0h1m41 0h1m158 0h1m88 0h1M71 748.18h1m12 0h1m85 0h1m115 0h1m186 0h1M191 752.69h1m208 0h1m119 0h1M98 757.19h1m138 0h1m77 0h1m125 0h1m52 0h1m3 0h1m23 0h1M240 761.70h1m22 0h1m47 0h1M403 766.20h1m51 0h1"/>
<path stroke="#cec4ca" d="M70 365.26h1m36 0h1m264 0h1M112 369.76h1m134 0h1m75 0h1M377 387.78h1M148 396.79h1m38 0h1m113 0h1m174 0h1M76 414.81h1m209 0h1M76 432.83h1m282 0h1M435 437.34h1m1 0h2m51 0h1m39 0h1M88 441.84h1m10 0h1m246 0h1m152 0h1M161 446.35h1m94 0h1M113 450.85h1m128 0h1m162 0h1M304 455.36h2m93 0h1m53 0h1M89 464.37h1M214 482.39h1m161 0h1M363 486.89h1M204 491.40h1m42 0h1m4 0h1m123 0h1M122 500.41h1m381 0h1M372 509.42h1M289 531.94h1m28 0h1m79 0h1m8 0h1m80 0h1M324 536.45h1M467 545.46h1M385 549.96h1m98 0h1m5 0h1M269 563.48h1M467 567.98h1M101 586.00h1m37 0h1m6 0h1m89 0h1m13 0h1m159 0h1m34 0h1M368 599.52h1M305 617.54h1m184 0h1M249 626.55h1M315 631.05h1m122 0h1m67 0h1M83 635.56h1m296 0h1m165 0h1M268 640.06h1m225 0h1m51 0h1M244 644.57h1M73 649.07h2M194 653.58h1m38 0h1m120 0h1m46 0h1m80 0h1m32 0h1m30 0h1M289 658.08h1m135 0h1M109 689.62h2m123 0h1m34 0h1M194 694.12h1m187 0h2m97 0h1M274 703.13h1M339 712.14h1m28 0h1m21 0h1m8 0h1M465 716.65h1M178 730.16h1m106 0h1m11 0h1m69 0h1m32 0h1m121 0h1m27 0h1M237 734.67h1m2 0h2m49 0h1m76 0h1m22 0h1m10 0h1m24 0h1m94 0h1m5 0h1m4 0h1M87 739.17h1m237 0h1m64 0h1m14 0h1m41 0h1m11 0h1m8 0h1m74 0h1m5 0h1m6 0h1M147 743.68h1m5 0h1m118 0h1m39 0h1m78 0h1m36 0h1m8 0h1m8 0h2m51 0h1m15 0h1M172 748.18h1m44 0h1m60 0h1m64 0h1m70 0h1m11 0h2m22 0h1m9 0h1m1 0h1m6 0h1m42 0h1m8 0h2m7 0h1m10 0h1M241 752.69h1m35 0h1m130 0h1m10 0h1m31 0h1m67 0h1m24 0h1M88 761.70h1m23 0h1m13 0h1m19 0h1m29 0h1m75 0h1m81 0h1m63 0h1m9 0h1m49 0h1m5 0h1m40 0h1m15 0h1M169 766.20h1m63 0h1m193 0h1m5 0h1m56 0h1m3 0h1m59 0h1"/>
<path stroke="#decdae" d="M86 365.26h1M130 369.76h1m74 0h1m5 0h1M240 374.27h1m124 0h1M246 383.28h1m1 0h1m1 0h1m18 0h1m46 0h1m6 0h1M126 387.78h1m23 0h1m115 0h1M300 392.29h1m67 0h1m8 0h1m159 0h1M259 396.79h2M251 410.31h1m15 0h1m271 0h1m11 0h1M230 414.81h1m40 0h1m69 0h1m124 0h1M162 428.33h1m104 0h1m132 0h1m44 0h1m50 0h1m27 0h1m24 0h1M158 432.83h1m53 0h1M97 437.34h1m49 0h1m4 0h1M232 441.84h1m273 0h1M111 446.35h1m251 0h1M244 450.85h1m175 0h1m11 0h1M298 459.86h1m245 0h1M122 464.37h1m181 0h1m9 0h1m18 0h1m12 0h1m44 0h1m102 0h1m19 0h1m43 0h1M190 473.38h1m125 0h1m43 0h1m83 0h1M137 482.39h1m35 0h1m110 0h1m110 0h1M119 486.89h1m307 0h1m68 0h1m18 0h1M243 491.40h1m40 0h1m50 0h1m202 0h1M77 500.41h1m116 0h1m30 0h1m46 0h1m10 0h1m21 0h1m7 0h1m20 0h1m18 0h1m1 0h1m27 0h1M234 504.91h1m2 0h1m38 0h1m148 0h1M241 509.42h1m213 0h1M76 513.92h1m90 0h1m66 0h1m106 0h1m27 0h1m64 0h1M208 518.43h1m129 0h1m185 0h1M234 522.93h1m48 0h1m111 0h1m58 0h1m30 0h1m11 0h1M233 531.94h1m128 0h1m99 0h2M258 536.45h1m139 0h1m51 0h1m10 0h1m34 0h1M293 545.46h1m8 0h1m54 0h1m149 0h1M321 554.47h1m100 0h1M94 558.97h1m7 0h1m16 0h1m19 0h1m286 0h1m82 0h1m32 0h1M107 563.48h1m138 0h1m17 0h1m245 0h1M295 567.98h1m16 0h1m144 0h1m87 0h1M70 576.99h1m137 0h1M459 586.00h1m40 0h1M96 590.51h1m4 0h1m78 0h1m282 0h1m93 0h1M83 599.52h1m39 0h1m93 0h1m18 0h1m64 0h1m78 0h1m81 0h1M97 613.03h2m78 0h1m24 0h1m218 0h2m1 0h1m32 0h1m56 0h1m23 0h1M423 617.54h1M461 622.04h1m1 0h1m29 0h1M154 626.55h1m107 0h1M151 631.05h1m15 0h1m87 0h1m52 0h1m99 0h1M166 635.56h1m3 0h1m19 0h1m70 0h1m113 0h1m30 0h1m2 0h1m10 0h1m66 0h1m5 0h1m53 0h1M151 640.06h1m385 0h1m15 0h1M252 644.57h1m33 0h1m81 0h1m113 0h1m58 0h1M195 649.07h1m6 0h2m62 0h1m97 0h1M114 653.58h1m63 0h1m33 0h1m70 0h1m34 0h1m31 0h1M306 658.08h1m25 0h1m121 0h1m46 0h1M81 662.59h1m3 0h1m54 0h1m51 0h1m29 0h1m147 0h1m36 0h1m2 0h1m13 0h1m34 0h1M246 667.09h1m167 0h1m28 0h1m18 0h1m17 0h1M124 671.60h1m426 0h1M78 676.10h1m73 0h1m332 0h1M79 680.61h1m86 0h1m311 0h1m4 0h1M163 685.11h1m52 0h1M130 689.62h1m67 0h1m322 0h1M148 694.12h1m134 0h1m32 0h1m88 0h1m25 0h1m9 0h1M254 698.63h1M377 703.13h1m155 0h1M106 712.14h1m193 0h1m76 0h1m57 0h1m99 0h1M173 716.65h1m147 0h2m16 0h1m93 0h1m1 0h1M289 725.66h1m6 0h1M319 757.19h1m60 0h1"/>
<path stroke="#edb58b" d="M93 365.26h1M68 378.77h1m68 0h1m5 0h1m61 0h1M337 383.28h1M207 387.78h1M308 392.29h1M79 396.79h1m65 0h1M194 401.30h1M115 405.80h1m31 0h1M115 410.31h1M237 419.32h1M122 428.33h1M88 432.83h1m250 0h1M84 437.34h1m7 0h1m88 0h1m103 0h1M130 446.35h1M242 455.36h1M84 459.86h1m43 0h2m120 0h1m157 0h1M163 464.37h1M92 468.87h1m58 0h1M114 473.38h1m58 0h1M105 477.88h1m81 0h1m38 0h1M217 482.39h1M328 491.40h1m5 0h1M115 495.90h1m255 0h1M95 504.91h1m160 0h1m86 0h1m24 0h1M69 509.42h1m67 0h1m74 0h1m190 0h1m66 0h1m7 0h1m27 0h1m38 0h1M82 513.92h1m2 0h1m153 0h1m64 0h1m100 0h1m7 0h1m40 0h1m3 0h1m25 0h1M70 518.43h1m316 0h1M89 522.93h1M257 531.94h1M352 536.45h1M82 540.95h1m33 0h1m18 0h1M93 545.46h1M254 549.96h1m59 0h1m36 0h1M388 554.47h1M79 558.97h1m134 0h1M239 567.98h1m134 0h1M347 572.49h1M155 576.99h1M257 581.50h1m30 0h1M195 590.51h1m152 0h1M270 608.53h2m102 0h1M249 613.03h1M511 622.04h1M323 631.05h1M277 635.56h1m101 0h1m102 0h1M235 644.57h1m237 0h1M441 649.07h1m39 0h1M135 653.58h1m142 0h1m212 0h1M140 658.08h1m395 0h1M163 662.59h1m14 0h1m181 0h1m40 0h1m38 0h1m74 0h1M126 667.09h1m297 0h1m106 0h1m12 0h1M134 671.60h1M156 676.10h1m239 0h1M291 680.61h1m175 0h1M120 685.11h1m35 0h1M321 694.12h1m38 0h1M82 698.63h1m174 0h1m97 0h1m62 0h1m94 0h1M235 703.13h1M428 707.64h1m15 0h1m49 0h1m12 0h1M151 712.14h1m25 0h1M269 716.65h1m145 0h1M234 721.15h1m58 0h1M430 725.66h1M235 730.16h1m217 0h1M227 748.18h1m15 0h1m57 0h1m216 0h1M428 752.69h1M200 757.19h1m110 0h1m128 0h1m6 0h1M364 761.70h1"/>
<path stroke="#f6d59a" d="M95 365.26h1M197 369.76h1M187 374.27h1m65 0h1m300 0h1M227 383.28h1M157 392.29h1m90 0h1m235 0h1m62 0h1M204 396.79h1M71 405.80h1m164 0h1M235 410.31h1M224 414.81h1M211 419.32h1m239 0h1M79 423.82h1m205 0h1M465 428.33h1m46 0h1M132 432.83h1M140 459.86h1m10 0h1m7 0h1m66 0h1m216 0h1M77 464.37h1m3 0h1M115 468.87h1m205 0h1m2 0h1m58 0h1M535 473.38h1m7 0h1M127 477.88h1m86 0h1m111 0h1m43 0h1M157 486.89h1M385 491.40h1M146 495.90h1m35 0h1m81 0h1m3 0h1m42 0h1M235 500.41h1m75 0h1m72 0h1m150 0h1M187 504.91h1m119 0h1m6 0h1m41 0h1m30 0h1m125 0h1M94 509.42h1m215 0h1m22 0h1m12 0h1m181 0h1M220 513.92h1m208 0h1m47 0h1m3 0h1M109 518.43h1m43 0h1m5 0h1m22 0h1m26 0h1m21 0h1m78 0h1m20 0h1m177 0h1m38 0h1M72 522.93h1m12 0h1m264 0h1M278 527.44h1m88 0h1M279 536.45h1M282 545.46h1M361 549.96h1M92 558.97h1m4 0h1m36 0h3m14 0h1m28 0h1m139 0h1M167 572.49h1m103 0h1m31 0h1m35 0h1M194 576.99h1m134 0h1M261 590.51h1m103 0h1m94 0h1m88 0h1M94 595.01h1m18 0h2m25 0h1m15 0h1m11 0h1m4 0h1m91 0h1m9 0h1M314 599.52h1M350 604.02h1m165 0h1M137 608.53h1m30 0h1m106 0h1m42 0h1m8 0h1M155 613.03h1M255 617.54h1M330 626.55h1m12 0h1M254 631.05h1M312 640.06h1M498 649.07h2m32 0h1M259 653.58h1M193 662.59h1m36 0h1m39 0h1M80 667.09h1m3 0h1m2 0h1m23 0h1m117 0h1M69 671.60h1m2 0h1m17 0h1m51 0h1m29 0h1m6 0h1m8 0h1m25 0h1M73 676.10h1m19 0h1m81 0h1m36 0h1M71 680.61h1m42 0h1m5 0h1m15 0h1m59 0h1m21 0h1m155 0h1m113 0h1M462 685.11h1M439 689.62h1M439 694.12h1m110 0h1M236 698.63h1m112 0h1m69 0h1M79 707.64h1m408 0h1M218 712.14h1m188 0h1M397 716.65h1m151 0h1M446 721.15h1m103 0h1M198 725.66h1m229 0h1m18 0h1M252 734.67h1m127 0h1M251 743.68h1m258 0h1M312 748.18h1m19 0h1M350 757.19h1m30 0h1M383 761.70h1m28 0h1m127 0h1m10 0h1M115 766.20h1m414 0h1"/>
<path stroke="#d1a79e" d="M101 365.26h1m92 0h1M100 369.76h1m214 0h1M467 374.27h1M68 383.28h1m17 0h1M450 387.78h1m47 0h1M133 396.79h1m6 0h1m113 0h2m209 0h1m42 0h1M143 405.80h1m90 0h1m39 0h1m50 0h1m27 0h1m20 0h1M108 410.31h1m33 0h1m48 0h1m3 0h1M216 414.81h1M218 419.32h1M131 428.33h1M173 432.83h1M129 437.34h1M126 441.84h1M272 446.35h1m149 0h1M89 450.85h1m134 0h1m189 0h1m62 0h1m63 0h1M97 455.36h1m135 0h1m59 0h1m181 0h1M370 459.86h1m11 0h1m139 0h1M90 464.37h1M281 468.87h1m84 0h1M73 473.38h1m27 0h1m380 0h1M139 482.39h1m71 0h1M97 486.89h1m9 0h1M104 491.40h1m121 0h1M98 500.41h1m119 0h1M451 504.91h1m39 0h1m27 0h1M157 509.42h1m114 0h1m236 0h2m24 0h1m11 0h1M235 513.92h1m15 0h1m38 0h1m49 0h1m30 0h1m10 0h1M349 518.43h1m157 0h1M450 527.44h1m24 0h1m44 0h1m22 0h1m13 0h1M253 531.94h1M356 536.45h1m95 0h1M306 540.95h1M263 554.47h1m52 0h1m184 0h1M470 563.48h1M263 567.98h1m56 0h1m139 0h1m7 0h1M133 576.99h2m231 0h1M115 586.00h1m83 0h1m61 0h1m147 0h1m83 0h1m3 0h1m28 0h1M243 590.51h1m94 0h1M363 595.01h1m163 0h1m24 0h1M358 599.52h1M233 608.53h1M265 613.03h1m16 0h1M263 617.54h1M477 622.04h1M317 626.55h1m52 0h1m29 0h1M281 631.05h1m85 0h1M143 635.56h1M194 640.06h1m179 0h1m40 0h1m71 0h1M205 644.57h1m59 0h1M158 649.07h1m290 0h1M84 653.58h1m188 0h1m29 0h1m51 0h2m48 0h1M122 658.08h1m113 0h1m220 0h1M187 667.09h1m105 0h2m6 0h1m78 0h1M366 671.60h1m43 0h1m75 0h1M151 676.10h1m111 0h1m110 0h1m111 0h1M211 680.61h1m70 0h1m35 0h1m166 0h1M118 685.11h1m38 0h1m12 0h1m1 0h1m14 0h1m220 0h1M195 694.12h1M173 698.63h1m33 0h1m98 0h1M408 703.13h1m86 0h1M251 712.14h1m24 0h1m98 0h1m8 0h1M343 716.65h1m76 0h1m112 0h1M510 721.15h1M272 725.66h1m10 0h1m38 0h1m74 0h1m158 0h1M515 730.16h1M110 734.67h1M145 739.17h1M265 757.19h1M269 761.70h1m110 0h1m45 0h1M112 766.20h1m278 0h1"/>
<path stroke="#d3e2db" d="M103 365.26h1m52 0h1m100 0h1M176 369.76h1m82 0h1M336 392.29h1m13 0h1M549 405.80h1M422 410.31h1m64 0h1M284 414.81h1m270 0h1M263 428.33h1m31 0h1m13 0h1m92 0h1m10 0h1m95 0h1m7 0h1M68 432.83h1m73 0h1M337 437.34h1m42 0h1m113 0h1M261 446.35h1m2 0h1m48 0h1m5 0h1M149 450.85h1m88 0h1m95 0h1m27 0h1M143 455.36h1m29 0h1m125 0h1m77 0h1m19 0h1m151 0h1M80 464.37h1m103 0h1m92 0h1m2 0h1m102 0h1m34 0h1m57 0h1m10 0h1m55 0h1M136 473.38h1m136 0h1m53 0h1m160 0h1m51 0h1M350 482.39h1m174 0h1m6 0h1m21 0h1M179 486.89h1m91 0h1m28 0h1m38 0h1m16 0h1m19 0h1m6 0h1M352 491.40h1m97 0h1M229 500.41h1m90 0h1M555 509.42h1M207 513.92h1m151 0h1m116 0h1M285 522.93h1m241 0h1m12 0h1M320 531.94h1m116 0h1m5 0h1m28 0h1m57 0h1M406 536.45h1M82 558.97h1m99 0h1m265 0h1m22 0h1M320 563.48h1m55 0h1m9 0h1m71 0h1M190 576.99h1M305 586.00h1m66 0h1m31 0h1m142 0h1M165 595.01h1M73 599.52h1m73 0h1M158 613.03h1m311 0h1M303 617.54h1M84 622.04h1M297 626.55h1m202 0h1M93 631.05h1m336 0h1M197 635.56h1m83 0h1m3 0h1m200 0h1m36 0h1M463 640.06h2m44 0h1M226 644.57h1M163 649.07h1m30 0h1m72 0h1m209 0h1M120 653.58h1m19 0h1m25 0h1m3 0h1m48 0h1m252 0h1M176 658.08h2m324 0h1M430 662.59h1M96 667.09h1m38 0h1m68 0h2m7 0h1m14 0h1M458 671.60h1m16 0h1m38 0h1M543 676.10h1M175 680.61h1m46 0h1M180 689.62h1m61 0h1m111 0h2m27 0h1M98 694.12h1m198 0h1m47 0h1m7 0h1m169 0h1M302 703.13h1M198 712.14h2m338 0h1M368 716.65h1m121 0h1M235 757.19h1"/>
<path stroke="#e38b6c" d="M117 365.26h1M182 369.76h1m10 0h1m106 0h1M119 378.77h1m30 0h1m3 0h1m73 0h1M221 383.28h1m59 0h1m89 0h1M82 387.78h1m30 0h1m196 0h1m17 0h1M144 392.29h1M77 396.79h1m64 0h1m200 0h1M289 401.30h1M76 405.80h1m30 0h1m103 0h1m40 0h1m68 0h1m9 0h1m52 0h1M182 410.31h1m64 0h1m231 0h1M107 419.32h1M208 428.33h1M141 432.83h1m15 0h1m151 0h1m21 0h1m128 0h1m14 0h1M85 437.34h1m36 0h1m22 0h1m65 0h1M343 441.84h1m51 0h1M119 446.35h1m54 0h1m21 0h1m185 0h1M74 450.85h1m179 0h1m124 0h1M155 455.36h1m187 0h1M222 459.86h1M189 464.37h1M118 468.87h1m21 0h1m3 0h1m42 0h1m92 0h1M89 473.38h1m88 0h1M70 477.88h1m26 0h1m77 0h1m51 0h1m8 0h1M108 482.39h1M122 486.89h1m3 0h1m150 0h1M273 491.40h1m73 0h1M79 495.90h1m19 0h1m11 0h1m66 0h1m158 0h1M340 500.41h1M113 504.91h1m43 0h1m23 0h1m251 0h1m69 0h2M128 509.42h1m30 0h1m21 0h1m218 0h1m48 0h1m10 0h1m32 0h1m29 0h2M321 513.92h1m69 0h1M435 518.43h1M78 522.93h1m45 0h1m189 0h1m24 0h1M327 527.44h1m40 0h1m143 0h1M287 531.94h1m91 0h1M274 536.45h1M353 540.95h1M283 545.46h1m4 0h1M320 549.96h1M332 554.47h1m91 0h1M91 558.97h1m236 0h1m229 0h1M369 563.48h1m129 0h1M292 567.98h1m21 0h1m37 0h1m33 0h1M79 572.49h1m11 0h1m185 0h1M98 576.99h1m198 0h1m67 0h1m4 0h1M246 581.50h1m47 0h1M303 586.00h1M247 595.01h1m122 0h1M133 599.52h1m136 0h1m29 0h1m33 0h1m16 0h1m54 0h1m57 0h1M549 608.53h1M131 613.03h1m219 0h1M280 617.54h1M444 622.04h1M80 626.55h1m13 0h1m47 0h1m392 0h1M296 631.05h1m37 0h1M376 635.56h1M310 640.06h1m61 0h1m6 0h1m112 0h1M178 644.57h1m9 0h1m66 0h1M241 649.07h1m69 0h2m53 0h1m9 0h1m19 0h1M281 653.58h1m20 0h1m40 0h1M273 658.08h1m8 0h1m34 0h1m21 0h1m200 0h1M305 662.59h1m51 0h1m115 0h1M95 667.09h1M412 676.10h1M333 680.61h1m102 0h1m106 0h1M399 685.11h1m16 0h1m113 0h1M308 689.62h1m246 0h1M300 694.12h1M165 698.63h1m55 0h1m79 0h1m133 0h1M243 703.13h1m254 0h1m58 0h1M272 716.65h1m165 0h1m69 0h1m30 0h1m17 0h1M415 721.15h1m50 0h2m25 0h1M251 725.66h1m66 0h1m96 0h1M308 743.68h1M323 748.18h1m232 0h1M283 757.19h1m118 0h1M446 761.70h1M535 766.20h1"/>
<path stroke="#e19f81" d="M122 365.26h1M242 374.27h1M175 378.77h1M164 392.29h1m222 0h1m86 0h1M102 401.30h1m7 0h1M233 405.80h1m1 0h1m115 0h2m8 0h1M296 410.31h1M90 414.81h1m51 0h1M161 423.82h1M139 428.33h1M149 432.83h1m70 0h1m10 0h1M197 437.34h1M239 441.84h1M222 446.35h1M145 450.85h1M327 455.36h1m53 0h1M111 459.86h1m194 0h1m69 0h1m94 0h1M99 464.37h1m65 0h1m141 0h1m8 0h1M97 468.87h1m222 0h1M103 477.88h1m53 0h1M226 482.39h1m90 0h1M121 486.89h1m165 0h1m9 0h1M205 491.40h1m86 0h1M183 495.90h1m64 0h1M168 500.41h1M244 504.91h1m200 0h1M118 509.42h1m148 0h1m133 0h1m42 0h1m51 0h1M98 513.92h1m22 0h1m232 0h1M335 518.43h1m21 0h1m38 0h1M294 522.93h1m8 0h2M346 531.94h1M285 536.45h1M134 540.95h1m128 0h1M276 545.46h1m59 0h1m7 0h1m47 0h1M288 549.96h1m29 0h1M486 554.47h1M84 558.97h1m128 0h1M384 563.48h1M297 567.98h1M329 581.50h1m1 0h1m1 0h1M334 586.00h1M118 590.51h1m47 0h1m193 0h1m127 0h1m30 0h1M315 604.02h1M515 608.53h1M240 613.03h1m17 0h1m169 0h1M100 617.54h1M361 622.04h1m135 0h1m4 0h1m17 0h1M176 635.56h1m317 0h1M250 640.06h1M142 649.07h1m178 0h1M422 662.59h1M206 667.09h1m12 0h1m45 0h1m98 0h1m93 0h1M352 671.60h1m140 0h1M113 676.10h1m28 0h1m75 0h1m6 0h1m29 0h1m200 0h1M97 680.61h1m32 0h1m1 0h1m305 0h1m71 0h1M99 685.11h1m1 0h1M272 689.62h1m42 0h1m212 0h1M463 694.12h1M357 698.63h1m3 0h1m42 0h1M297 707.64h1M273 721.15h1m170 0h1M258 725.66h1m31 0h1M219 734.67h1m46 0h1M260 739.17h1m254 0h1M247 752.69h1M299 757.19h1m145 0h1M158 761.70h1M409 766.20h1m94 0h1m36 0h1"/>
<path stroke="#f17e4f" d="M155 365.26h1m8 0h1m31 0h1M208 369.76h1M118 374.27h1m9 0h1m16 0h1m31 0h1m89 0h1M100 378.77h1m22 0h1m95 0h1M218 383.28h1m54 0h1m1 0h1M231 387.78h1M83 392.29h1m1 0h1m6 0h1m23 0h1m7 0h1m11 0h1m5 0h1m31 0h1M167 396.79h1m10 0h1m4 0h1m46 0h1m197 0h1M109 405.80h1m3 0h1m22 0h1m23 0h1m11 0h1m29 0h1m26 0h1m14 0h1m89 0h1M189 410.31h1m195 0h1M93 414.81h1m50 0h1m5 0h1m15 0h1m115 0h1M219 419.32h1M77 428.33h1m37 0h1m25 0h1m35 0h1M220 437.34h1m17 0h1m4 0h1M137 441.84h1m131 0h1m63 0h1M76 446.35h1m28 0h1m23 0h1m37 0h1m7 0h1m177 0h1M75 459.86h1m60 0h2m25 0h1m43 0h1m147 0h1m122 0h1M101 464.37h1m38 0h1M114 468.87h1m32 0h1m10 0h1m66 0h1m37 0h1m7 0h1m283 0h1M186 473.38h1m4 0h1m110 0h1M163 477.88h1m18 0h1m47 0h1M131 482.39h1M168 491.40h1M309 495.90h1m63 0h1M371 500.41h1M76 504.91h1m13 0h1m29 0h1m4 0h1m12 0h1m88 0h1m108 0h1m89 0h1m39 0h1m74 0h1M162 513.92h2m52 0h1M102 518.43h1m20 0h1m74 0h1m29 0h1M69 522.93h1m13 0h1m117 0h1m26 0h2m76 0h1m48 0h1M302 527.44h1m3 0h1m73 0h1M279 531.94h1M437 536.45h1M239 549.96h1m24 0h1M238 554.47h1m6 0h1m65 0h1m72 0h1M198 558.97h1m146 0h1M247 572.49h1m66 0h1m26 0h1m17 0h1m16 0h1M292 590.51h2m29 0h1m13 0h1m34 0h1m13 0h1M238 595.01h1m43 0h1m29 0h1m29 0h1M231 599.52h1m29 0h1m53 0h1M288 608.53h1m61 0h1M243 613.03h1m74 0h1M231 617.54h2m8 0h1m47 0h1M391 622.04h1m8 0h1m103 0h2m30 0h1M348 631.05h1m114 0h1M267 635.56h1m2 0h1m41 0h1m41 0h1m16 0h1M450 640.06h1M334 644.57h1M466 649.07h1m78 0h1M204 653.58h1M280 662.59h1M277 667.09h1M238 671.60h1m22 0h1m11 0h1m68 0h1m14 0h1m5 0h1m59 0h1m57 0h1m50 0h1M173 676.10h1m111 0h1m5 0h1m33 0h1M394 680.61h1M77 685.11h1m9 0h1m26 0h2m26 0h1m30 0h1m4 0h1m254 0h1m10 0h1m7 0h1m35 0h1m52 0h1M495 689.62h1M501 694.12h1M398 698.63h1m55 0h1m88 0h1M236 703.13h1m292 0h1M253 716.65h1M430 721.15h1m9 0h1M410 725.66h1m14 0h1m3 0h1m1 0h1m40 0h1m38 0h1m28 0h1M556 734.67h1M449 739.17h1M412 748.18h1"/>
<path stroke="#ec9f75" d="M159 365.26h1M218 374.27h1m222 0h1M121 387.78h1m89 0h1M286 392.29h1M108 396.79h1m51 0h1m21 0h1m44 0h1M209 405.80h1m45 0h1M112 410.31h1m184 0h1M106 414.81h1m410 0h1M129 419.32h1M127 423.82h1m44 0h1M88 428.33h1m117 0h1M185 432.83h1M136 441.84h1m115 0h1m111 0h1M116 446.35h1m83 0h1m62 0h1m18 0h1m66 0h1m44 0h1M128 450.85h1m86 0h1m218 0h1M78 455.36h1m58 0h1m79 0h1M147 459.86h1m8 0h1m76 0h1m41 0h1M85 464.37h1M129 468.87h1m166 0h1M168 473.38h1m6 0h1m147 0h1m1 0h1m73 0h1M94 477.88h1m81 0h1m67 0h1m138 0h1M145 482.39h1m39 0h1m138 0h1m233 0h1M88 486.89h1m9 0h1m9 0h1M120 491.40h1m19 0h1m168 0h1M360 495.90h1M374 500.41h1M168 504.91h1m206 0h1M93 509.42h1m18 0h1M200 513.92h1m4 0h1m130 0h1m65 0h1m125 0h1M99 518.43h1m25 0h1m90 0h1M102 522.93h1m231 0h1m53 0h1M510 527.44h1M281 531.94h1m77 0h2M276 536.45h1m221 0h1M223 540.95h1m134 0h1M234 545.46h1m15 0h1M243 549.96h1m138 0h1m8 0h1M260 554.47h1m48 0h1m3 0h1m224 0h1M372 558.97h1m51 0h1M184 567.98h1m118 0h1m42 0h1m6 0h1m10 0h1m74 0h1m30 0h1M278 572.49h1M326 581.50h1M247 586.00h1m23 0h1m14 0h1m28 0h1M266 590.51h1m6 0h1m93 0h1m23 0h1m113 0h1M185 595.01h1m62 0h1m54 0h1m37 0h1m18 0h1m13 0h1M394 599.52h1m137 0h1M391 608.53h1M130 613.03h1m39 0h1m106 0h1m39 0h1M389 622.04h1M294 626.55h1m61 0h1M92 631.05h1M303 635.56h1M381 640.06h1M103 644.57h1m2 0h1m60 0h1m273 0h1M263 649.07h1m111 0h1m143 0h1M301 658.08h1m157 0h1M105 662.59h1m6 0h1m77 0h1m73 0h1m117 0h1m52 0h1m22 0h1M141 667.09h1m23 0h1m187 0h1m11 0h1M288 671.60h1m88 0h1m48 0h1m84 0h1M111 676.10h1m17 0h1m144 0h1m58 0h1m170 0h1M219 680.61h1m47 0h1m117 0h1m17 0h1m13 0h1m23 0h1m5 0h1m28 0h1m20 0h1M122 685.11h1m74 0h1m230 0h1m126 0h1M483 689.62h1m39 0h1M163 694.12h1m223 0h1M302 698.63h1m86 0h1m10 0h1M517 703.13h1M524 707.64h1M140 712.14h1M341 716.65h1m99 0h1M525 721.15h1M297 725.66h1m162 0h1m63 0h1m12 0h1M341 730.16h1M137 734.67h1m97 0h1M395 739.17h1M236 743.68h1M135 748.18h1m16 0h1m85 0h1M472 752.69h1M261 757.19h1M191 761.70h1m281 0h1M298 766.20h1"/>
<path stroke="#f7ad6d" d="M169 365.26h1M74 369.76h1M379 383.28h1M86 387.78h1m169 0h1M135 392.29h1m62 0h1m127 0h1M215 396.79h1M96 405.80h1m57 0h1m8 0h1m55 0h1M111 410.31h1m33 0h1m16 0h1m12 0h1M141 419.32h1m66 0h1M543 428.33h1M215 437.34h1m207 0h1m34 0h1M134 446.35h1m34 0h1M69 459.86h1m2 0h1m16 0h1m44 0h1m3 0h1m35 0h1m3 0h1m10 0h2m33 0h1m131 0h1M86 468.87h1m34 0h1m27 0h1m60 0h1m17 0h2m29 0h1m104 0h1M330 473.38h1M196 482.39h1m32 0h1m124 0h1M70 486.89h1M302 491.40h1m50 0h1M344 495.90h1M245 500.41h1M107 504.91h1m391 0h1M75 509.42h1m50 0h1M73 513.92h1m55 0h1m2 0h1m2 0h1m52 0h1m84 0h1m272 0h1M68 518.43h1m4 0h1m5 0h1m39 0h1m45 0h1m64 0h1m34 0h1m53 0h1m108 0h1M150 522.93h1m16 0h1m47 0h1m3 0h1M233 527.44h1m6 0h1m8 0h1m18 0h1m2 0h1m5 0h1m40 0h1m68 0h1M270 549.96h1m41 0h1M248 554.47h1m16 0h1m41 0h1m156 0h1m2 0h1m25 0h1m21 0h1M130 558.97h1m56 0h1m24 0h1M266 567.98h1M420 572.49h1M133 590.51h1M231 595.01h1m27 0h1m83 0h1m6 0h1m18 0h1m20 0h1M128 599.52h1M388 608.53h1M300 617.54h1m73 0h1M307 622.04h1m48 0h1m28 0h1m1 0h1m17 0h1m4 0h1m144 0h1M78 644.57h1m120 0h1M103 653.58h1m17 0h1m133 0h1m264 0h1M382 658.08h1M199 671.60h1m5 0h1m102 0h1m164 0h1M180 676.10h1m53 0h1m9 0h1m94 0h1m211 0h2M539 680.61h1M79 685.11h2m105 0h1m369 0h1M81 689.62h1m193 0h1M411 698.63h1m67 0h1M541 707.64h1M448 716.65h1M310 721.15h1M478 725.66h1m24 0h1m48 0h1M288 730.16h1M443 739.17h1M102 748.18h1M338 757.19h1"/>
<path stroke="#e39675" d="M178 365.26h1m84 0h1m46 0h1M73 374.27h1M97 378.77h1M94 383.28h1m209 0h1m34 0h1M156 387.78h1m88 0h1m38 0h1m23 0h1M154 396.79h1m51 0h1m103 0h1m108 0h1M350 405.80h1m41 0h1M148 410.31h1m12 0h1m79 0h1m26 0h1m99 0h1m20 0h1M120 414.81h1m384 0h1M187 419.32h1M211 423.82h1M138 428.33h1M130 437.34h1M454 441.84h1M204 446.35h1M234 455.36h1m181 0h1m38 0h1M271 459.86h1m12 0h1m82 0h1m4 0h1m68 0h1m47 0h1M131 464.37h1m108 0h1m18 0h1m48 0h1m23 0h1m222 0h1M160 468.87h1m13 0h1m16 0h1m44 0h1m12 0h1m52 0h1m29 0h1m27 0h1M75 473.38h1m33 0h1m109 0h1m1 0h1m56 0h1m224 0h1m43 0h1M185 477.88h1m59 0h1M282 482.39h1m32 0h1m94 0h1M117 486.89h1m25 0h1m38 0h1m11 0h1m149 0h1M162 491.40h1m77 0h1m134 0h1M394 495.90h1M86 500.41h1m127 0h1m174 0h1M209 504.91h1m13 0h1m174 0h1m4 0h1m28 0h1m34 0h1M76 509.42h1m29 0h1m45 0h1m207 0h1M115 513.92h1m440 0h1M85 518.43h1m124 0h1m139 0h1m130 0h1m37 0h1M171 522.93h1m54 0h1m8 0h1M344 527.44h1M316 531.94h1m55 0h1m14 0h1m69 0h1M279 540.95h1M232 545.46h1m68 0h1m52 0h1m75 0h1M253 549.96h1m9 0h1m101 0h1M449 554.47h1m11 0h1M80 558.97h1m127 0h1m55 0h1m208 0h1M78 563.48h1m424 0h1M240 567.98h1m65 0h1m169 0h1M241 572.49h1M358 576.99h1m2 0h1M379 581.50h1M198 590.51h1m132 0h1m44 0h1m60 0h1M350 599.52h1M327 604.02h1M314 608.53h1m31 0h1m22 0h1M484 613.03h1m16 0h1M259 617.54h1m41 0h1M353 622.04h1m1 0h1m147 0h1m26 0h1m18 0h1M258 626.55h1m113 0h1M433 631.05h1M493 640.06h1M190 644.57h1m92 0h1m18 0h1m2 0h1m11 0h1m225 0h1M345 649.07h1M94 653.58h1m12 0h1m38 0h1m59 0h1m269 0h1M209 658.08h1m80 0h1m61 0h1m39 0h1m60 0h1M260 662.59h1M235 667.09h1m46 0h1M252 671.60h1m214 0h1m85 0h1M249 676.10h1m55 0h1m107 0h1m69 0h1M249 680.61h1m49 0h1m105 0h1M166 685.11h1M69 689.62h1m347 0h1M454 694.12h1m53 0h1M246 703.13h1m90 0h1M513 707.64h1m3 0h1m2 0h1M365 712.14h1m22 0h1m141 0h1m26 0h1M406 716.65h1m107 0h1m26 0h1M411 725.66h1m21 0h1m32 0h1M333 730.16h1M341 743.68h1M320 748.18h1m59 0h1M438 752.69h1M185 761.70h1"/>
<path stroke="#e3dac8" d="M206 365.26h1M505 378.77h1M201 401.30h1m225 0h1m124 0h1M245 405.80h1M359 414.81h1M497 419.32h1M547 423.82h1M76 441.84h1M200 450.85h1M163 455.36h1M344 468.87h1m41 0h1M256 473.38h1M104 477.88h1m23 0h1m151 0h1m2 0h1m18 0h1m20 0h1m102 0h1m64 0h1M225 482.39h1m273 0h1M555 486.89h1M354 491.40h1m8 0h1M189 495.90h1m47 0h1m28 0h1M260 509.42h1m295 0h1M97 513.92h1m343 0h1M321 536.45h1m198 0h1M111 540.95h1m26 0h1m180 0h1m26 0h1M401 549.96h1m49 0h1M178 572.49h1m61 0h1m53 0h1M152 576.99h1M324 581.50h1m64 0h1m2 0h1m147 0h1M212 590.51h1m210 0h1M184 595.01h1M75 599.52h1M514 604.02h1M352 608.53h1m29 0h1m143 0h1M391 640.06h1M187 644.57h1M177 649.07h1m264 0h1m28 0h1m4 0h1m57 0h1M136 653.58h1m123 0h1m214 0h1M104 658.08h1M114 662.59h1m73 0h1m27 0h1m10 0h1M207 667.09h1M78 671.60h1M293 689.62h1m70 0h1m157 0h1M299 694.12h1m73 0h1M440 707.64h1M95 712.14h1m6 0h1m15 0h1m3 0h1m114 0h1m307 0h1M352 721.15h1m29 0h1m105 0h1M80 730.16h1m229 0h1m84 0h1M410 734.67h1m86 0h1m26 0h1M257 739.17h1m52 0h2M89 743.68h1m8 0h1m162 0h1m14 0h1m53 0h1m90 0h1m31 0h1m36 0h2m17 0h1m35 0h1m6 0h1M120 748.18h1m58 0h1M303 752.69h1m62 0h1m38 0h1m71 0h1m59 0h1m1 0h1M74 761.70h1m17 0h1m21 0h1m36 0h1m49 0h1m44 0h1m180 0h1m115 0h1M219 766.20h1m73 0h2m16 0h1"/>
<path stroke="#e5d5ac" d="M207 365.26h1M308 374.27h1m110 0h1M307 383.28h2m59 0h1m22 0h1m145 0h1M280 387.78h1m34 0h1m6 0h1m21 0h1M250 392.29h1m97 0h1m113 0h1m5 0h1M195 396.79h1m46 0h1M101 410.31h1m21 0h1m29 0h1m198 0h1M172 414.81h1M189 419.32h1M262 428.33h1m41 0h1m2 0h1m41 0h1M87 432.83h1m168 0h1M433 437.34h1M184 446.35h1M150 450.85h1m17 0h1M281 455.36h1M319 459.86h1m229 0h1m2 0h1M483 464.37h1m4 0h1M282 468.87h1m194 0h1M328 473.38h1m113 0h1M212 482.39h1m9 0h1m16 0h1m100 0h1m44 0h1m76 0h1M294 486.89h1m127 0h1M320 491.40h1M228 500.41h1m36 0h1m62 0h1m30 0h1M163 504.91h1m13 0h1m258 0h1m77 0h1M70 509.42h1m194 0h1m115 0h1m76 0h1M439 513.92h1m70 0h1M133 518.43h1m234 0h1m158 0h1M319 531.94h1M549 536.45h1M237 545.46h1M85 558.97h1m45 0h1m63 0h1m114 0h1M387 563.48h1m71 0h1M319 567.98h1M143 576.99h1m37 0h1m7 0h1m1 0h1m185 0h1M241 586.00h1M241 590.51h1m185 0h1m28 0h1m96 0h1M91 595.01h1m83 0h1m163 0h1M108 599.52h1m22 0h1M237 613.03h1M74 617.54h1m80 0h1m113 0h1m250 0h1M248 622.04h1m250 0h1M203 626.55h1m99 0h1m65 0h1m162 0h1M82 635.56h1m121 0h1m95 0h1m58 0h1M482 640.06h1m6 0h1M497 649.07h1M82 653.58h1m4 0h1m125 0h1m162 0h1m1 0h1M348 658.08h1m59 0h1m6 0h1m65 0h1M89 662.59h1m4 0h1m34 0h1m47 0h1m5 0h1m10 0h1m7 0h1m4 0h1m107 0h1m145 0h1m51 0h1M68 667.09h1m10 0h1m70 0h1m1 0h1m64 0h1m180 0h1m23 0h1m83 0h1M159 671.60h1m10 0h1m13 0h1m150 0h1m22 0h1m46 0h1m11 0h1m43 0h1m3 0h1m31 0h1M76 676.10h1m12 0h1m367 0h1M220 680.61h1m202 0h1m33 0h1m10 0h1m23 0h1m60 0h1M183 685.11h1M371 689.62h1m18 0h1M266 694.12h1m144 0h1M264 703.13h1m259 0h1M163 712.14h1m26 0h1m81 0h1m44 0h1M489 716.65h1m3 0h1M357 725.66h1M228 730.16h1M255 757.19h1m17 0h1m126 0h1m29 0h1m49 0h1"/>
<path stroke="#dcb5ab" d="M208 365.26h1M164 369.76h1M108 378.77h1M69 396.79h1m19 0h1m51 0h1M223 410.31h1M233 414.81h1m142 0h1m44 0h1M114 419.32h1m17 0h1m42 0h1m170 0h1M119 423.82h1m17 0h1m18 0h1M272 432.83h1M143 437.34h1m40 0h1m42 0h1m112 0h1m16 0h1m19 0h1M78 441.84h1m219 0h1m60 0h1m37 0h1M290 446.35h2m89 0h1M129 450.85h1m26 0h1m111 0h1m17 0h2m110 0h1M147 455.36h1m10 0h1m21 0h1m152 0h1m17 0h1M178 464.37h1m119 0h1m42 0h1M224 473.38h1m65 0h1m187 0h1m69 0h1M141 477.88h1m71 0h1m80 0h1m8 0h1m241 0h1M129 482.39h1m64 0h1m199 0h1m84 0h1m11 0h1M92 486.89h1m53 0h1m160 0h1m160 0h1m78 0h1m5 0h2M129 491.40h1m148 0h1m69 0h1m44 0h1M89 495.90h1m13 0h1m46 0h1m45 0h1m135 0h1m150 0h1M254 500.41h1m20 0h1m114 0h1m12 0h1M114 509.42h1M314 531.94h1M353 536.45h1m78 0h1m46 0h1m21 0h1m27 0h1M117 540.95h1m67 0h1m111 0h1m27 0h1m61 0h1M374 545.46h1M337 549.96h1m5 0h1m45 0h1M400 558.97h1M135 563.48h1m244 0h1m113 0h1M204 572.49h1m117 0h1M536 581.50h1m9 0h1M306 586.00h1m145 0h1M328 599.52h1M234 604.02h1m110 0h1M71 608.53h1m211 0h1m3 0h1m76 0h1M190 613.03h1M318 617.54h1M123 626.55h1m5 0h1m8 0h1m105 0h1m46 0h1m23 0h1m35 0h1m152 0h1M148 631.05h1m9 0h1m74 0h1m230 0h1M118 635.56h1m49 0h1m61 0h1m15 0h1m48 0h1m6 0h1M209 640.06h1m210 0h1m96 0h1M74 644.57h1M443 649.07h1m9 0h1M207 653.58h1m54 0h1m37 0h1m19 0h1m181 0h1m4 0h1M537 658.08h1M329 689.62h1m180 0h1M275 694.12h1m122 0h1m115 0h1M425 707.64h1m114 0h1M86 712.14h1m327 0h1M260 716.65h1m3 0h1m250 0h1m9 0h1m26 0h1M237 721.15h1m189 0h1m3 0h1M345 730.16h1m13 0h1m6 0h1m31 0h1m15 0h1m56 0h1m40 0h1M179 734.67h1m223 0h1m146 0h1M268 739.17h1m52 0h1m104 0h1m52 0h1M91 743.68h1m53 0h1m176 0h1m35 0h1m160 0h1M99 748.18h1m282 0h1m10 0h1M266 752.69h1m42 0h1m113 0h1m71 0h1m39 0h1M118 761.70h1m183 0h1m17 0h1m55 0h1m80 0h1m28 0h1M244 766.20h1m70 0h1m30 0h1m58 0h1m7 0h1m21 0h1m3 0h1m46 0h1m49 0h1"/>
<path stroke="#e7ddb0" d="M220 365.26h1M265 374.27h1M112 378.77h1m235 0h1M318 383.28h1M304 392.29h1m243 0h1M338 405.80h1M87 419.32h1M453 423.82h1M275 428.33h1m113 0h1m8 0h1M268 437.34h1M270 441.84h1m78 0h1m21 0h1M374 446.35h1M88 450.85h1m244 0h1m99 0h1M481 455.36h1M295 459.86h1m15 0h1m29 0h1m181 0h1M97 464.37h1m340 0h1m38 0h1m48 0h1M91 468.87h1m146 0h1M121 473.38h1m118 0h1m34 0h1m9 0h1m49 0h1m156 0h1m56 0h1M83 477.88h1m244 0h1m23 0h1m166 0h1M336 482.39h1m75 0h1m52 0h1M220 486.89h1m81 0h1m45 0h1M244 491.40h1m126 0h1M262 495.90h1M288 500.41h1m18 0h1m10 0h1M119 504.91h1m95 0h1m2 0h1m16 0h1m59 0h1m16 0h1m37 0h1m68 0h1m10 0h1m111 0h1M244 509.42h1m21 0h1m13 0h1m55 0h1m84 0h1m116 0h1M107 513.92h1m313 0h1M289 518.43h1m143 0h1m5 0h1m10 0h1m80 0h1M130 522.93h1m119 0h1m14 0h1m94 0h1M237 536.45h1m30 0h1M277 545.46h1M258 549.96h1m93 0h1m185 0h1M454 554.47h1m93 0h1M74 558.97h1m53 0h1m9 0h1m33 0h1m12 0h1m256 0h1m9 0h1m53 0h1m7 0h1M271 563.48h1M108 572.49h1M92 576.99h1m4 0h1m56 0h1m3 0h1m14 0h1m46 0h1m159 0h1m138 0h1M544 581.50h1M106 590.51h1m32 0h1m45 0h1m21 0h1m15 0h1m184 0h1m30 0h1m68 0h1m20 0h1M83 595.01h1m2 0h1m15 0h1m49 0h1m57 0h1M205 599.52h1m6 0h1M336 604.02h1M244 608.53h1m67 0h1M165 613.03h1m70 0h1m205 0h1m68 0h1M507 617.54h1M170 622.04h1M143 626.55h1m389 0h1M410 631.05h1M174 635.56h1m225 0h1m26 0h1m74 0h1M256 640.06h1m186 0h1M73 644.57h1m150 0h1M432 649.07h1m11 0h1m106 0h1M409 653.58h1M128 658.08h1m15 0h1m81 0h1m81 0h1m91 0h1m123 0h1m18 0h1m1 0h1m8 0h1M116 662.59h1m43 0h1m58 0h1m51 0h1m95 0h1m53 0h1m55 0h1m72 0h1M81 667.09h1m16 0h1m5 0h1m5 0h1m57 0h1m42 0h1m2 0h1m12 0h1m240 0h1M74 671.60h1m50 0h1m19 0h1m5 0h1m33 0h1m38 0h1m51 0h1m162 0h1M128 676.10h1m40 0h1m2 0h1m16 0h1m4 0h1m15 0h1m193 0h1m22 0h1m114 0h1m15 0h1M125 680.61h1m1 0h1m344 0h1M162 685.11h1M139 689.62h1m308 0h1M293 694.12h1M129 698.63h1m245 0h1m153 0h1M465 703.13h1m85 0h1M496 707.64h1m11 0h1m41 0h1M209 712.14h1m247 0h1M254 716.65h1M253 721.15h1m145 0h1m61 0h1m17 0h1M231 725.66h1m93 0h2M89 730.16h1m116 0h1M400 734.67h1M330 739.17h1M205 743.68h1m46 0h1M448 748.18h1m66 0h1M416 752.69h1m18 0h1M351 757.19h1M386 766.20h1"/>
<path stroke="#f28f5b" d="M227 365.26h1M91 374.27h1m39 0h1m34 0h1M200 383.28h1M116 387.78h1m262 0h1M117 392.29h1m111 0h1M94 396.79h1M103 405.80h1m14 0h1m46 0h1m26 0h1m1 0h1m23 0h1m43 0h1m4 0h1m15 0h1m10 0h1m8 0h1m36 0h1M164 410.31h1m54 0h1M189 414.81h1M136 428.33h1m12 0h1M77 437.34h1M77 441.84h1m53 0h1m134 0h1M91 446.35h1m6 0h1m41 0h1m186 0h1M205 455.36h1m22 0h1M77 459.86h1m68 0h1m14 0h1m13 0h1m53 0h1m99 0h1M81 468.87h1m52 0h1m86 0h1m42 0h1m84 0h1M96 473.38h1m293 0h1M72 477.88h1m99 0h1m138 0h1M81 482.39h1m338 0h1M378 495.90h1M72 504.91h1m103 0h1m44 0h1m45 0h1m128 0h1m9 0h1M124 509.42h1m43 0h1m9 0h1m7 0h1M100 513.92h1m11 0h1m35 0h1m22 0h1m3 0h1m17 0h1m9 0h1m7 0h2M105 518.43h1m14 0h1m60 0h1m42 0h1M108 522.93h1m61 0h1m51 0h1M403 527.44h1M310 531.94h1m65 0h1M365 536.45h1M373 545.46h1m9 0h1M252 549.96h1m135 0h1M231 554.47h1m43 0h1m57 0h1M219 558.97h1m285 0h1M261 572.49h1m108 0h1M289 576.99h1M538 581.50h1M324 586.00h1M233 590.51h2m35 0h1m3 0h1m16 0h1m9 0h1m12 0h2m1 0h1m31 0h1M261 595.01h1m1 0h1m5 0h1m95 0h1m23 0h1M274 599.52h1m100 0h1M264 604.02h1M266 608.53h1M245 613.03h1M262 622.04h1m4 0h1m7 0h1m27 0h1m48 0h1m48 0h1m7 0h1m28 0h1m36 0h1m49 0h1m14 0h1m15 0h1M260 626.55h1m64 0h1M355 631.05h1M180 635.56h1m107 0h1m45 0h1M170 644.57h1m69 0h1M356 649.07h1M225 653.58h1m222 0h1M133 662.59h1m2 0h1m167 0h1M115 667.09h1m345 0h1m2 0h1M235 671.60h1m36 0h1m76 0h1m23 0h1m13 0h1M272 676.10h1m2 0h1m85 0h1M105 680.61h1m217 0h1M212 685.11h1m12 0h1m318 0h1m6 0h1M309 689.62h1m59 0h1M465 698.63h1m53 0h1M420 703.13h1m133 0h1M176 712.14h1M441 725.66h1m6 0h1m43 0h1m7 0h1M513 739.17h1M432 748.18h1M290 752.69h1M419 757.19h1m39 0h1"/>
<path stroke="#ebc29c" d="M229 365.26h1m239 0h1M109 374.27h1m303 0h1M201 378.77h1M536 387.78h1M264 392.29h1m109 0h1M84 401.30h1m37 0h2m52 0h1m192 0h1m11 0h1m106 0h1M501 405.80h1M83 410.31h1m178 0h1m57 0h1M191 414.81h1m153 0h1M82 419.32h1m78 0h1M112 423.82h1m35 0h1m248 0h2M230 432.83h1M124 437.34h1m92 0h1m23 0h1m144 0h1M238 441.84h1m74 0h1m171 0h1M74 446.35h1m26 0h1m181 0h1M164 450.85h1m113 0h1m173 0h1M235 464.37h1m296 0h1M372 473.38h1m178 0h1M201 477.88h1m50 0h1m21 0h1m26 0h1m46 0h1m43 0h1m147 0h1M90 486.89h1m194 0h1m25 0h1M193 491.40h1m200 0h1M121 495.90h1m57 0h1m45 0h1m125 0h1m13 0h1M309 500.41h1m139 0h1M323 509.42h1m88 0h1M157 518.43h1M105 522.93h1m167 0h1M260 531.94h1M436 536.45h1m10 0h1M349 540.95h1M382 545.46h1M513 554.47h1M234 563.48h1M299 572.49h1m34 0h1m43 0h1M144 576.99h1m74 0h1m63 0h1m125 0h1M275 581.50h1M441 590.51h1M233 595.01h1M82 599.52h1m206 0h1m21 0h1m21 0h1M126 604.02h1m165 0h1m143 0h1M210 608.53h1m149 0h1m12 0h1m67 0h2M111 613.03h1m80 0h1m333 0h1M118 626.55h1m246 0h1M137 631.05h1M532 635.56h1M419 640.06h1M197 644.57h1M227 649.07h1m21 0h1m174 0h1m5 0h1m89 0h1M96 662.59h1m75 0h1m48 0h1m312 0h1M356 667.09h1M552 671.60h1M119 676.10h1M100 685.11h1m100 0h1M255 694.12h1m20 0h1m60 0h1m33 0h1m89 0h1m33 0h1M469 707.64h1M376 712.14h1m75 0h1m28 0h1M229 721.15h1m19 0h1m36 0h1m117 0h1m52 0h1m31 0h1m18 0h1M237 725.66h1m37 0h1M121 730.16h1m52 0h1m200 0h1m61 0h1m6 0h1M318 734.67h1M265 739.17h1m65 0h1m104 0h1m67 0h1M78 743.68h1m84 0h1m51 0h1m134 0h1M205 748.18h1m16 0h1m23 0h1m108 0h1M246 752.69h1M472 761.70h1M390 766.20h1m87 0h1"/>
<path stroke="#dccfc4" d="M248 365.26h1M267 369.76h1m94 0h1m98 0h1M79 387.78h1M154 401.30h1M262 414.81h1m10 0h1m61 0h1m125 0h1m42 0h1M94 419.32h1m1 0h1M175 423.82h1M418 432.83h1m23 0h1M422 437.34h1m58 0h1M74 441.84h1m23 0h1m8 0h1m37 0h1m128 0h1m70 0h1m50 0h1M496 450.85h1M95 455.36h1M279 459.86h1M550 464.37h1M353 473.38h1m33 0h1m42 0h1m18 0h1m83 0h2m9 0h1M504 477.88h1M160 482.39h1m80 0h1m120 0h1m42 0h1m45 0h1m55 0h1M104 486.89h1m200 0h2M82 491.40h1m66 0h1M78 495.90h1m64 0h1m232 0h1M71 500.41h1m225 0h1m248 0h1M98 504.91h1m281 0h1M262 531.94h1m82 0h1m108 0h1m29 0h1M275 536.45h1M73 540.95h1m112 0h1m18 0h1m49 0h1m236 0h1M423 545.46h1M180 549.96h1M237 572.49h1m153 0h1M172 581.50h1m141 0h1m58 0h1M460 586.00h1m17 0h1M162 599.52h1M118 617.54h1m363 0h1m42 0h1M76 626.55h1M138 631.05h1m207 0h1m30 0h1m84 0h1m75 0h2M145 635.56h1m137 0h1m115 0h1m71 0h2m65 0h1m4 0h1M69 640.06h2m270 0h1m60 0h1m45 0h1m9 0h1M159 644.57h1M417 649.07h1m100 0h1m38 0h1M93 653.58h1m25 0h1m207 0h1m149 0h1m18 0h1M196 658.08h1m253 0h1M368 662.59h1M519 676.10h1M166 689.62h1m215 0h1m61 0h1m67 0h1m28 0h1M232 694.12h1m128 0h1m151 0h1M414 707.64h1m48 0h1M348 712.14h1m1 0h1M239 716.65h1M502 721.15h1m30 0h1M553 725.66h1M244 730.16h1m3 0h1m52 0h1m52 0h1m9 0h1m121 0h1m54 0h1M72 734.67h1m17 0h1m32 0h1m30 0h1m25 0h1m3 0h1m64 0h2m6 0h1m27 0h1m67 0h1m6 0h1m21 0h1M261 739.17h1m18 0h1M148 743.68h1m250 0h1m9 0h1M83 748.18h1m74 0h1m104 0h1m62 0h1m20 0h1m75 0h1M430 752.69h1m126 0h1M325 761.70h1m9 0h1m170 0h1M284 766.20h1m54 0h2m216 0h1"/>
<path stroke="#d1cebd" d="M254 365.26h1m18 0h1M398 369.76h1M295 374.27h1m177 0h1m26 0h1M116 383.28h1m157 0h1m44 0h1M334 387.78h1m51 0h1m97 0h1M100 392.29h1m137 0h1m66 0h1m3 0h1m138 0h1m36 0h1M88 396.79h1m82 0h1m170 0h1M263 405.80h1m55 0h1m23 0h1m21 0h1M168 410.31h1m222 0h1m4 0h1m105 0h1m24 0h1M205 428.33h1m125 0h1m77 0h1m30 0h1M522 437.34h1M326 446.35h1M507 450.85h1M234 459.86h1m149 0h1m106 0h1M205 464.37h1m94 0h1m84 0h1M426 468.87h1m121 0h1M297 473.38h1m147 0h1M95 482.39h1M241 486.89h1m54 0h1m17 0h1m55 0h1m154 0h1M102 504.91h1m9 0h1m29 0h1m120 0h1m71 0h1m15 0h1m31 0h1m33 0h1m68 0h1m18 0h1m16 0h1M71 513.92h1m8 0h1m20 0h1m102 0h1m114 0h1m48 0h1m101 0h1m56 0h1m16 0h1M118 518.43h1M280 522.93h1m12 0h1m34 0h1m52 0h1m35 0h1m16 0h1m53 0h1M262 527.44h1m35 0h1m27 0h1m156 0h1M558 531.94h1M375 536.45h1m26 0h1M201 545.46h1M165 554.47h1m380 0h1M93 558.97h1m53 0h1m40 0h1m255 0h1m9 0h1M217 563.48h1M165 567.98h1m253 0h1m1 0h1m7 0h1m16 0h1M132 576.99h1m42 0h1m25 0h1M163 590.51h1m17 0h1m45 0h1m194 0h1m88 0h1M110 595.01h1m295 0h1M148 599.52h1M135 613.03h1m5 0h1m5 0h1m72 0h1m185 0h1m51 0h1M489 617.54h1M105 644.57h1m60 0h1m37 0h1m286 0h1m43 0h1M179 662.59h1m201 0h1m175 0h1M83 667.09h1m33 0h1m11 0h1m26 0h1m15 0h1m134 0h1m35 0h1m63 0h1m2 0h1m28 0h1m78 0h1m33 0h2M133 671.60h1m20 0h1m34 0h1m219 0h1m8 0h2m7 0h1m66 0h1m40 0h1m7 0h1m6 0h1M186 676.10h1m8 0h1m34 0h1m220 0h1M78 680.61h1m63 0h1m22 0h1m170 0h1m35 0h1m80 0h1m7 0h2M134 685.11h1m170 0h1m230 0h1M179 694.12h1m306 0h1M92 698.63h1m18 0h1m45 0h1m32 0h1m75 0h1m32 0h1m41 0h1m45 0h1m4 0h1m90 0h1M237 703.13h1m107 0h1m15 0h1m74 0h1m19 0h1M340 716.65h1M293 725.66h1M73 757.19h1m21 0h1m155 0h1m22 0h1m67 0h1m127 0h1"/>
<path stroke="#d7e1ca" d="M320 365.26h1M69 369.76h1M423 374.27h1m55 0h1m33 0h1M302 383.28h1m64 0h1M253 387.78h1m140 0h1M349 392.29h1m2 0h1m37 0h1m2 0h1m98 0h1m38 0h1m11 0h1m10 0h1M542 396.79h1M142 405.80h1M234 410.31h1m26 0h1m153 0h1m104 0h1M201 414.81h1m104 0h1m138 0h2M287 428.33h1m8 0h1m60 0h1m47 0h1m108 0h1m1 0h1M227 432.83h1m29 0h1m292 0h1M381 437.34h1m114 0h1m16 0h1M349 455.36h1M374 459.86h1m56 0h1m17 0h1M237 464.37h1m33 0h1m18 0h1m165 0h1m83 0h1M304 473.38h1m111 0h1m36 0h1M234 482.39h1m14 0h1m46 0h2m75 0h1m29 0h1m10 0h2m102 0h1M267 486.89h1m242 0h1M87 491.40h1m121 0h1m20 0h1m70 0h1m68 0h1m38 0h1M76 500.41h1m164 0h1m24 0h1m65 0h1m31 0h1m157 0h1M147 504.91h1m8 0h1m107 0h1m10 0h1m73 0h1m11 0h1m98 0h1M206 509.42h1m76 0h1m44 0h1m3 0h1m21 0h1m84 0h1m12 0h1M301 513.92h1m48 0h1m6 0h1m70 0h1m46 0h1m12 0h1M394 518.43h1m88 0h1m30 0h1m31 0h1M309 522.93h1m126 0h1M308 531.94h1m103 0h1m55 0h1m36 0h1M320 536.45h1m150 0h2M295 545.46h1M473 554.47h1M106 558.97h1m57 0h1m11 0h1m66 0h1m238 0h1m7 0h1M435 567.98h1M96 576.99h1m16 0h1m52 0h1m10 0h1m1 0h1m15 0h1m18 0h1M422 586.00h1M154 590.51h1m23 0h2m274 0h1m6 0h1m51 0h1m1 0h1M194 595.01h1m54 0h1M158 599.52h1m54 0h1M83 613.03h1m22 0h1m1 0h1m5 0h1m41 0h1m15 0h1m13 0h1m30 0h1m121 0h1m17 0h1m76 0h1m48 0h1M355 617.54h1m79 0h2m91 0h1M71 622.04h1m106 0h2m252 0h1M186 626.55h2m39 0h1m25 0h1m13 0h1M164 631.05h1M491 635.56h1M519 640.06h1M71 644.57h1m26 0h1m22 0h2m100 0h1M513 649.07h1M158 653.58h1M154 658.08h1m224 0h1m93 0h1m12 0h1m23 0h1M91 662.59h1m6 0h2m24 0h1m81 0h1m264 0h2m33 0h1m18 0h1m25 0h2M75 667.09h1m10 0h1m80 0h1m6 0h1m22 0h1m2 0h1m20 0h1m310 0h1m10 0h1M119 671.60h1m43 0h1m23 0h1m23 0h1m210 0h1m34 0h1M83 676.10h1m144 0h1m185 0h1m4 0h1m10 0h1M74 680.61h1m9 0h1m15 0h1m80 0h1m42 0h1m105 0h1m79 0h1m16 0h1M443 689.62h1M95 694.12h1m208 0h1m37 0h1m48 0h1m78 0h1m34 0h1m20 0h1M99 698.63h1m133 0h1m41 0h1m157 0h1M419 703.13h1M165 712.14h1m82 0h1M80 716.65h1m210 0h1m147 0h1m113 0h1M254 725.66h1M87 757.19h1m114 0h1m56 0h1m41 0h1m42 0h1"/>
<path stroke="#c9e5e6" d="M353 365.26h1m51 0h1M258 369.76h1M452 374.27h1M456 383.28h2m74 0h1M257 387.78h1m7 0h1m72 0h1m6 0h1M469 392.29h1m60 0h1M403 410.31h2m16 0h1M236 428.33h1m11 0h1m21 0h1m18 0h1m120 0h1M133 432.83h2m375 0h1m25 0h1M91 437.34h1m335 0h1m86 0h1M141 446.35h1m105 0h1m27 0h1M125 450.85h1m386 0h1M506 459.86h1m20 0h1M248 464.37h1m94 0h1m28 0h1m88 0h1M415 473.38h1m120 0h1M122 482.39h1m55 0h1m201 0h1m15 0h1M295 486.89h1M305 491.40h1M110 500.41h1m281 0h1M101 504.91h1M256 509.42h1m29 0h1m14 0h2m8 0h1m36 0h1m34 0h1m53 0h1m78 0h1m1 0h1M109 513.92h1m196 0h1m232 0h1M473 522.93h1M435 531.94h1M419 545.46h1m86 0h1M475 554.47h1M223 558.97h1m235 0h1m96 0h1M254 567.98h1M82 576.99h1m18 0h1m104 0h1M426 595.01h1M137 599.52h1m312 0h1M128 613.03h1m3 0h1m21 0h1m32 0h1m13 0h1m354 0h1M380 617.54h1m63 0h1m51 0h1M82 622.04h1m117 0h1M326 626.55h1M90 644.57h1m9 0h2m265 0h1m147 0h1M70 662.59h1m38 0h1m58 0h1m335 0h1m5 0h1m24 0h1M89 667.09h1m4 0h1m63 0h1m65 0h1m171 0h1m52 0h1m97 0h1M111 671.60h2m413 0h1M162 680.61h1m19 0h1m29 0h1m285 0h1M404 694.12h1M260 698.63h1M281 703.13h1m53 0h1M338 716.65h1M126 725.66h1"/>
<path stroke="#cee8e0" d="M106 369.76h1M266 374.27h1M157 387.78h1m196 0h1m136 0h1M311 392.29h1m2 0h1m119 0h1m101 0h1M509 405.80h1M355 414.81h1M247 428.33h1m210 0h1m40 0h1M233 450.85h1M241 455.36h1m6 0h1M345 464.37h1m139 0h1M319 473.38h1M287 482.39h1m164 0h1m32 0h1m43 0h1M421 486.89h1M118 491.40h1m120 0h1M287 500.41h1M367 504.91h1M337 509.42h1M313 513.92h1m9 0h1m112 0h1m1 0h1m114 0h1M379 518.43h1M466 522.93h1M117 531.94h1M384 545.46h1m30 0h1M437 554.47h1M313 558.97h1m20 0h1m125 0h1M105 576.99h1m62 0h1m117 0h1M492 586.00h1M97 590.51h1M79 599.52h1m127 0h1m11 0h1M122 613.03h1m426 0h1M204 622.04h1M133 631.05h1m256 0h1M76 635.56h1m201 0h1m145 0h1m45 0h1m12 0h1m14 0h1M247 640.06h1m203 0h1m46 0h1M156 644.57h1m25 0h1M514 649.07h1m29 0h1M154 653.58h1m335 0h1m28 0h1M194 658.08h1m294 0h1M438 662.59h2m35 0h1M78 667.09h1m11 0h1m90 0h1m268 0h1M148 671.60h1M145 676.10h1M116 680.61h1m7 0h1m16 0h1M319 689.62h1M117 698.63h1M81 712.14h1m33 0h2m45 0h1m71 0h1M498 716.65h1M119 725.66h1m79 0h1m109 0h1M143 757.19h1m146 0h1"/>
<path stroke="#fcbe76" d="M161 369.76h1M101 374.27h1m3 0h1M191 378.77h1M369 383.28h2M180 392.29h1m236 0h1m12 0h1M80 405.80h1m50 0h2m118 0h1m89 0h1m24 0h1m15 0h1m113 0h1M128 410.31h1m34 0h1M80 414.81h1M120 446.35h1m23 0h1m223 0h1M97 459.86h1m21 0h1m2 0h1m57 0h1m110 0h1M161 464.37h1M76 468.87h1m13 0h1m3 0h1m102 0h1m17 0h1m40 0h1m20 0h1m17 0h1M106 473.38h1m15 0h1m6 0h1m39 0h1M96 477.88h1M128 482.39h1m103 0h1M112 486.89h1m11 0h1M122 491.40h1m198 0h1m36 0h1M79 504.91h1m24 0h1m103 0h1m254 0h1m51 0h1m10 0h1M90 509.42h1m50 0h1m72 0h1M79 513.92h1m61 0h1m40 0h1m224 0h1M92 518.43h1m2 0h1m11 0h1m8 0h1m14 0h1m6 0h1m1 0h1m35 0h1m20 0h1m136 0h1m41 0h1m96 0h1m68 0h1M101 522.93h1m11 0h1m13 0h1m58 0h1m11 0h1m28 0h1m8 0h1M269 527.44h1m55 0h1m65 0h1M88 558.97h1m16 0h1m14 0h1m3 0h1m16 0h1m64 0h1m158 0h1m19 0h2M242 563.48h1M282 576.99h1m9 0h1M244 590.51h1m290 0h1m20 0h1M230 595.01h1m145 0h1M354 599.52h1M297 608.53h1M280 613.03h1m43 0h1M273 622.04h1m7 0h1m90 0h1m79 0h1m61 0h1m14 0h1M393 626.55h1M347 631.05h1M321 635.56h1M288 644.57h1M304 649.07h1M443 658.08h1M73 662.59h1m14 0h1m54 0h1M69 667.09h1m233 0h1M84 671.60h1m77 0h1m14 0h1m30 0h1m11 0h1m256 0h1M87 676.10h1m15 0h1m21 0h1m147 0h1m116 0h1m17 0h1M160 680.61h1m28 0h1m5 0h1m328 0h1m24 0h1M88 685.11h1m4 0h1m30 0h1m30 0h1m55 0h1m224 0h1m20 0h1m22 0h1M158 698.63h1m144 0h1m50 0h1m7 0h2m2 0h1m50 0h1M438 703.13h1m24 0h1M436 707.64h1M100 712.14h1m341 0h1M451 721.15h1m53 0h1M241 725.66h1m133 0h1m128 0h1m30 0h1"/>
<path stroke="#e1a78a" d="M198 369.76h1m42 0h1m185 0h1M136 374.27h1m224 0h1m64 0h1m27 0h1m4 0h1M154 383.28h1m175 0h1m145 0h1M185 387.78h1m174 0h1m15 0h1M454 396.79h1m88 0h1M73 401.30h1m443 0h1M75 405.80h1M78 410.31h1m6 0h1m396 0h1m22 0h3M137 414.81h1m46 0h1m331 0h1M197 419.32h1M194 423.82h1M125 428.33h1m282 0h1m69 0h1m60 0h1M102 432.83h1m5 0h1m92 0h1M83 437.34h1m37 0h1m152 0h1M302 441.84h1M106 446.35h1m30 0h1m343 0h1M249 450.85h1m141 0h1M174 455.36h1m23 0h1m190 0h1M73 459.86h1m79 0h1M111 464.37h1m119 0h1m38 0h1m236 0h1M147 473.38h1m58 0h1m72 0h1M338 482.39h1m119 0h1M116 486.89h1m20 0h1m20 0h1m291 0h1m54 0h1M177 491.40h1M100 500.41h1m40 0h1m109 0h1M164 504.91h1m19 0h1m4 0h1M79 509.42h1m127 0h1m201 0h1m67 0h1M241 513.92h1m301 0h1M97 518.43h1m440 0h1M558 522.93h1M329 527.44h1m212 0h1M284 531.94h1m67 0h1M431 536.45h1M315 540.95h1M255 545.46h1m108 0h1m136 0h1m39 0h1M291 549.96h1M324 558.97h1m26 0h1m25 0h1m15 0h1M395 567.98h1m92 0h1M296 572.49h1m21 0h1M147 576.99h1m143 0h1m31 0h1m20 0h1M108 586.00h1m235 0h1m22 0h1M165 590.51h1m255 0h1m44 0h1M106 595.01h1m342 0h1M173 599.52h1m142 0h1m44 0h1m93 0h1M320 604.02h1M78 608.53h1m195 0h1m26 0h1m14 0h1M250 613.03h1M384 617.54h1m37 0h1m53 0h1m21 0h1M469 622.04h1m58 0h1M232 626.55h1M326 635.56h1M219 644.57h1m44 0h1m27 0h1M416 649.07h1m40 0h1m20 0h1m1 0h1M141 653.58h1m17 0h1m211 0h1m67 0h1M185 658.08h1m114 0h1m79 0h1M355 662.59h1m138 0h1m42 0h1M127 667.09h1m57 0h1M194 671.60h1m187 0h1m62 0h1m28 0h1M192 676.10h1M473 680.61h1m53 0h1M503 685.11h1m36 0h1m13 0h1M449 689.62h1M120 694.12h1m70 0h1m123 0h1m70 0h1M380 698.63h1M450 703.13h1M449 707.64h1m6 0h1m96 0h1M159 716.65h1m209 0h1m162 0h1M475 721.15h1M372 725.66h1m53 0h1M407 730.16h1M131 734.67h1m192 0h1M153 739.17h1M301 743.68h1m122 0h1M304 748.18h1m125 0h1M234 757.19h1m6 0h1m190 0h1m53 0h1M305 761.70h1M238 766.20h1m293 0h1"/>
<path stroke="#dcc2b9" d="M221 369.76h1m152 0h1M161 383.28h1m279 0h1M380 405.80h1M81 414.81h1M296 446.35h1M389 450.85h1M113 455.36h1m32 0h1m5 0h1m143 0h1m190 0h2M323 464.37h1M237 473.38h1m277 0h2M202 477.88h1m40 0h1m4 0h1m56 0h1m13 0h1m37 0h1m6 0h1m4 0h1m85 0h1m34 0h1m64 0h1M71 482.39h1m364 0h1M264 491.40h1M253 500.41h1M381 504.91h1M216 509.42h1m79 0h1m109 0h1m65 0h1M483 513.92h1M196 540.95h1m84 0h2M368 545.46h1m140 0h1M367 549.96h1M441 554.47h1M127 572.49h1m2 0h1m119 0h1m42 0h1m72 0h1M84 581.50h1m264 0h1m10 0h1m23 0h1m36 0h1M325 586.00h1m107 0h1m43 0h1M269 599.52h1M381 613.03h1m105 0h1M369 631.05h2m14 0h1m14 0h2M358 635.56h1m154 0h1M285 640.06h1m123 0h1m15 0h1M99 644.57h1m24 0h1M106 649.07h1m416 0h1m28 0h1M177 653.58h1m50 0h1m146 0h1m28 0h1m47 0h1m3 0h1m53 0h1M197 658.08h1m104 0h1m11 0h1m1 0h1m23 0h1m68 0h1m23 0h1m27 0h1m52 0h2m10 0h1M453 676.10h1M449 680.61h1M220 689.62h1m52 0h2m1 0h2m75 0h1m66 0h1m81 0h1M74 712.14h2m99 0h1m69 0h1m34 0h1m26 0h1m24 0h1m26 0h1m122 0h1M276 721.15h1m53 0h1m18 0h1m73 0h1m13 0h1M112 730.16h1m21 0h1m99 0h1m81 0h1m46 0h1m23 0h1m59 0h1m7 0h1m20 0h1m22 0h1M111 734.67h1m12 0h1m5 0h1m22 0h1m79 0h1m153 0h1m102 0h1m7 0h1m32 0h1M288 739.17h1m30 0h1m100 0h1m69 0h1M70 743.68h1m2 0h1m30 0h1m11 0h1m256 0h1m3 0h1M80 748.18h1m58 0h1m54 0h1m38 0h1m238 0h1M368 752.69h1m1 0h1m78 0h1m62 0h2m14 0h1m27 0h1M142 761.70h1m20 0h1m43 0h1m35 0h1m38 0h1m43 0h1m93 0h1m8 0h1m25 0h1M334 766.20h1m6 0h1m7 0h1m15 0h1m16 0h1m19 0h1m16 0h1m22 0h1m68 0h2m3 0h1m17 0h1"/>
<path stroke="#9f5c7b" d="M70 374.27h1m66 0h2m49 0h1M197 383.28h1m1 0h1m153 0h1M435 387.78h1M72 392.29h1M123 405.80h1m65 0h1m95 0h1m19 0h1m50 0h1M126 410.31h1M216 428.33h1m5 0h1M104 468.87h1m137 0h1m65 0h1m8 0h1m12 0h1m6 0h1m32 0h2m13 0h1m37 0h1M400 504.91h1m71 0h1M522 513.92h1M247 518.43h1M317 522.93h1M338 527.44h1m10 0h1M337 554.47h1m31 0h1m92 0h1M363 567.98h1m3 0h1m1 0h1M321 576.99h1m17 0h1M250 590.51h1m236 0h1M77 595.01h1m7 0h1m61 0h1m105 0h1m178 0h1m14 0h1M296 622.04h1m24 0h1m113 0h1m20 0h1m43 0h1M279 644.57h1m44 0h1m49 0h1m17 0h1m164 0h1M278 662.59h1m7 0h1M240 676.10h1m7 0h1m64 0h1M240 680.61h1M402 698.63h1M431 703.13h1m58 0h1M488 725.66h1m1 0h2m13 0h1M405 757.19h1"/>
<path stroke="#aec3c5" d="M98 374.27h1M90 392.29h1m94 0h1m85 0h1m30 0h1m40 0h1m13 0h1m13 0h1m24 0h1m7 0h1m23 0h1m3 0h1m26 0h1m20 0h1m53 0h1m11 0h1M186 405.80h1m50 0h1m61 0h1m68 0h1m46 0h1m17 0h1m39 0h1m60 0h1m8 0h1m3 0h1M193 459.86h1m46 0h2m13 0h1m10 0h1m30 0h1m61 0h1m13 0h1m9 0h1m2 0h1m8 0h1m5 0h1m25 0h1m7 0h1m32 0h1m13 0h1m15 0h1m15 0h1M397 468.87h1m58 0h1m18 0h1m8 0h1m21 0h1m25 0h1m5 0h1m2 0h1M229 518.43h1m5 0h1m20 0h1m38 0h1m59 0h1m5 0h1m8 0h1m34 0h1m34 0h1m6 0h1m14 0h1m5 0h1m18 0h1M278 522.93h1m26 0h1m6 0h1m40 0h1m8 0h1m1 0h1m2 0h1m6 0h2m2 0h1m11 0h1m79 0h1m6 0h1m28 0h1m14 0h1m22 0h1M314 527.44h1m84 0h1m12 0h1m10 0h1m11 0h1m8 0h1m22 0h1m6 0h1m25 0h1M172 554.47h1m50 0h1m175 0h1m2 0h1m9 0h2m7 0h1m4 0h2m18 0h1m25 0h1m26 0h1M89 590.51h2m16 0h1m8 0h1m4 0h1m12 0h2m14 0h1m77 0h1m27 0h1m146 0h1m30 0h1m17 0h1m6 0h1m20 0h1m11 0h1m21 0h1m1 0h1m8 0h1M131 595.01h1m59 0h1m32 0h1m82 0h1m112 0h1m1 0h1m53 0h1m25 0h1m30 0h1M135 622.04h1m347 0h1m23 0h1m13 0h1M104 676.10h1m13 0h1m15 0h1m5 0h1m9 0h1m3 0h1m15 0h1m52 0h1m34 0h1m117 0h1m30 0h1m35 0h1m26 0h1m5 0h1m55 0h1m3 0h1m8 0h1M203 685.11h1m147 0h2M96 698.63h1m57 0h1m13 0h1m22 0h1m36 0h1m23 0h1m12 0h1m51 0h1m2 0h1m12 0h1m26 0h1m21 0h1m29 0h1m2 0h1m37 0h1m1 0h1m51 0h1M103 725.66h1m149 0h1m25 0h1m31 0h1m9 0h1m15 0h1m25 0h1m9 0h1m3 0h1"/>
<path stroke="#f8de9e" d="M167 374.27h1m36 0h1m296 0h1m28 0h1m1 0h1M91 378.77h1m130 0h1M200 392.29h1m275 0h1M193 405.80h1M338 410.31h1M489 428.33h1m54 0h1M93 437.34h1M431 441.84h1M229 446.35h1M327 450.85h1M114 459.86h1m37 0h1m258 0h1M98 464.37h1m197 0h1m65 0h1M126 468.87h1m67 0h1m338 0h1M373 473.38h1M116 477.88h1m164 0h1m179 0h1M251 486.89h1M361 491.40h1M247 495.90h1M212 500.41h1M127 504.91h1m32 0h2m12 0h1m140 0h1m8 0h1m23 0h1m198 0h1M142 509.42h2m11 0h1m125 0h1m87 0h1M99 513.92h1m17 0h1m101 0h1m32 0h1m56 0h1m202 0h1m39 0h1M76 518.43h1m6 0h1m22 0h1m7 0h2m42 0h1m25 0h1m83 0h1m126 0h1m82 0h1m31 0h1m34 0h1M107 522.93h1m4 0h1m1 0h1m10 0h1m42 0h1m5 0h1m243 0h1M200 531.94h1M431 545.46h1M259 554.47h1M75 558.97h1m19 0h1m8 0h1m28 0h1m411 0h1M310 572.49h1M169 576.99h1M285 581.50h1M201 590.51h2m244 0h1m3 0h1m34 0h1m40 0h1M186 595.01h1m33 0h2m15 0h1m206 0h1m86 0h1M124 599.52h1M353 604.02h1M309 608.53h1M242 613.03h1m51 0h1m193 0h1M277 622.04h1m171 0h1M516 635.56h1M196 644.57h1M535 649.07h1M253 658.08h1m297 0h1M77 662.59h1m14 0h1m2 0h1m6 0h1m7 0h1m76 0h1m8 0h1m7 0h1m10 0h1m181 0h1m10 0h1m16 0h1M101 667.09h1m10 0h1m7 0h1m104 0h2m135 0h1M147 671.60h1m5 0h1m3 0h1m10 0h1m43 0h1m171 0h1m11 0h1m63 0h1M72 676.10h1m1 0h1m4 0h1m15 0h1m24 0h1m2 0h1m39 0h1m62 0h1m77 0h1m22 0h1m71 0h1m17 0h1M86 680.61h1m11 0h1m4 0h1m36 0h1m73 0h1m8 0h1m2 0h1m229 0h1m83 0h1M78 685.11h1m430 0h1M343 694.12h1M151 698.63h1m184 0h1m35 0h1M73 712.14h1M318 721.15h1m153 0h1m33 0h1m46 0h1M352 725.66h1m64 0h1m19 0h1m20 0h1m59 0h1M510 734.67h1m29 0h1M379 739.17h1M352 761.70h1m189 0h1M274 766.20h1"/>
<path stroke="#abd9e9" d="M231 374.27h5m8 0h1m3 0h2m2 0h1m2 0h2m1 0h7m5 0h1m1 0h3m1 0h4m2 0h9m1 0h1m6 0h4m6 0h1m2 0h2m2 0h3m3 0h3m2 0h1m2 0h11m2 0h2m4 0h4m4 0h4m5 0h2m1 0h1m1 0h11m1 0h3m2 0h6m1 0h4m4 0h1m4 0h1m1 0h3m1 0h4m2 0h3m1 0h2m2 0h4m6 0h3m4 0h2m2 0h2m5 0h1m3 0h1m1 0h4m3 0h3m4 0h3m1 0h4m2 0h3m1 0h1m1 0h5m2 0h1m3 0h4m2 0h1m1 0h2m1 0h1m2 0h2m1 0h2m1 0h2m2 0h1m6 0h5m3 0h4m5 0h2M261 392.29h1m21 0h1m4 0h1m4 0h1m106 0h1m13 0h1m9 0h1M294 459.86h1m185 0h1m26 0h1m40 0h1m5 0h1M372 518.43h1m15 0h1M467 522.93h1M149 554.47h1m10 0h1m1 0h1m22 0h2m2 0h1m7 0h1m22 0h1m188 0h1m141 0h1M109 590.51h1m21 0h1m278 0h1m39 0h1m47 0h1m53 0h1M395 595.01h1M77 622.04h1M429 662.59h1M225 671.60h1M422 676.10h1m14 0h1M315 698.63h1M68 725.66h1"/>
<path stroke="#abced6" d="M237 374.27h1m31 0h1m34 0h1m57 0h1m92 0h1m92 0h1M232 392.29h1m7 0h1m11 0h1m91 0h1m33 0h1m7 0h1m7 0h1m91 0h1m62 0h1M239 405.80h1m51 0h1m140 0h1m83 0h1m25 0h1M258 459.86h1m83 0h1m3 0h1m57 0h1m28 0h1m33 0h1m4 0h1m17 0h1m13 0h1M447 468.87h2M242 518.43h1m78 0h1m191 0h1m8 0h1m21 0h1M192 522.93h1m49 0h1m2 0h1m11 0h1m3 0h1m39 0h1m6 0h1m29 0h1m5 0h1m1 0h1m19 0h1m38 0h2m35 0h1m7 0h1m25 0h1m5 0h1m18 0h2m8 0h1m23 0h1M414 527.44h1m18 0h1m85 0h1m7 0h1m24 0h1M170 554.47h1m37 0h1m105 0h1m31 0h1M251 590.51h1m188 0h1m32 0h1m32 0h1M73 595.01h2m57 0h1m38 0h1m231 0h1m70 0h1m40 0h1m18 0h1M88 676.10h1m10 0h1m8 0h1m37 0h1m6 0h1m39 0h1m11 0h1m23 0h1m134 0h1m1 0h1m110 0h1m3 0h1M287 685.11h1m7 0h1m23 0h1M79 698.63h3m24 0h2m2 0h1m23 0h1m2 0h1m24 0h1m43 0h1m28 0h1m10 0h1m3 0h1m4 0h2m11 0h1m27 0h1m1 0h1m11 0h4m28 0h1m7 0h1m30 0h1m11 0h1m73 0h1M162 725.66h1m27 0h1m104 0h1m7 0h1m65 0h1m20 0h1m154 0h1"/>
<path stroke="#c6d6ce" d="M238 374.27h1m41 0h2m28 0h1m15 0h1m130 0h2m32 0h1m34 0h1m26 0h1M254 387.78h1M262 392.29h1m53 0h1m8 0h1m38 0h1m19 0h1m16 0h1m1 0h1m116 0h1m5 0h1m14 0h1M246 405.80h1m9 0h1m59 0h1m1 0h1m28 0h1m75 0h1M97 410.31h1m165 0h1m77 0h2m47 0h1m23 0h1m113 0h1m1 0h1M245 428.33h1m13 0h1m119 0h1m2 0h2m32 0h1m9 0h1m10 0h1m4 0h1m10 0h1m37 0h1M286 459.86h1m49 0h1m41 0h1m55 0h1m108 0h1M414 468.87h1m73 0h1M259 504.91h1m21 0h1m11 0h1m40 0h1m24 0h1m47 0h1m10 0h1m99 0h1M72 513.92h1m103 0h1m65 0h1m45 0h1m28 0h1m59 0h1m26 0h1m4 0h1m5 0h1m75 0h1m13 0h1m1 0h1m5 0h1m2 0h1m6 0h1m7 0h1M287 518.43h1m148 0h1m22 0h1m15 0h1M169 522.93h1m117 0h1m147 0h1m5 0h1m51 0h1m18 0h2m6 0h1M431 527.44h1m117 0h1M403 554.47h1m12 0h1m8 0h1m12 0h1m83 0h1m1 0h1m22 0h1M73 558.97h1m37 0h1m3 0h1m5 0h1m27 0h1m8 0h1m1 0h1m5 0h1m25 0h1m35 0h1m76 0h1m1 0h1m59 0h1m20 0h1m66 0h1m27 0h1m11 0h1m2 0h1m56 0h1M287 567.98h1m126 0h1m8 0h1m1 0h1m19 0h1m45 0h1m17 0h1M286 581.50h1M105 590.51h1m21 0h1m19 0h1m24 0h1m31 0h1m5 0h1m200 0h1m128 0h1M120 595.01h1m32 0h1m243 0h1m10 0h1m60 0h1m80 0h1M78 622.04h1m376 0h1M109 667.09h1m45 0h1m14 0h1m4 0h1m4 0h1m102 0h1m27 0h1m90 0h1m1 0h1m50 0h1m31 0h1m12 0h2m2 0h1m2 0h1M73 671.60h1m30 0h1m11 0h1m5 0h1m74 0h1m15 0h1m25 0h1m161 0h2m8 0h1m1 0h1m2 0h1m15 0h1m20 0h1m25 0h1m2 0h1M77 676.10h1m37 0h1m1 0h1m90 0h1m5 0h1m186 0h1M126 680.61h1m19 0h1m21 0h1m172 0h1m47 0h1m39 0h1m79 0h1m36 0h1M309 685.11h2M69 698.63h1m5 0h1m118 0h1m13 0h1m23 0h1m4 0h1m13 0h1m1 0h1m13 0h1m58 0h1m46 0h1m9 0h1M208 703.13h1m97 0h1m6 0h1m2 0h1m13 0h1m20 0h1m3 0h1m50 0h1m7 0h1M238 725.66h1m59 0h1M94 757.19h1m39 0h1m40 0h1m11 0h1m2 0h1m55 0h1m23 0h1m17 0h1m29 0h1m16 0h1m40 0h1m1 0h1m122 0h1"/>
<path stroke="#bfced3" d="M239 374.27h1m1 0h1m3 0h1m5 0h1m59 0h1m52 0h1m21 0h1m12 0h1m2 0h1m1 0h1m22 0h1m4 0h1m9 0h1m42 0h1m42 0h1m2 0h1m9 0h1m5 0h1m2 0h1M106 383.28h1m22 0h1m50 0h1m24 0h1m34 0h1m148 0h1m43 0h1M186 387.78h1M372 392.29h1m24 0h1m46 0h1m18 0h1m11 0h1m30 0h2M381 405.80h1m96 0h1m69 0h1M238 410.31h1m16 0h1m3 0h1m94 0h1m22 0h1m55 0h1m55 0h1M184 428.33h1m12 0h1M403 459.86h1m21 0h1m12 0h1M411 468.87h1m45 0h1m56 0h1M279 504.91h1m135 0h1m12 0h1m12 0h1m109 0h1M244 513.92h1m107 0h1M237 522.93h1m2 0h1m104 0h1M405 527.44h1m15 0h1m100 0h1m25 0h1m7 0h1M411 554.47h1m33 0h1m2 0h1m20 0h1m6 0h1m57 0h1M69 558.97h1m139 0h1m61 0h1m23 0h1m41 0h1m12 0h1M81 567.98h1m122 0h1m132 0h1m94 0h1m15 0h1m5 0h1m44 0h1m19 0h1m36 0h1M241 576.99h1M117 590.51h1m18 0h1m260 0h1m136 0h1M71 595.01h1m105 0h1m12 0h1m36 0h1m202 0h1M379 613.03h1m15 0h2m137 0h2M195 622.04h1m336 0h1M300 644.57h1m150 0h1M366 662.59h1M124 667.09h1m120 0h1m53 0h1m20 0h1m170 0h1m21 0h1m12 0h1M94 671.60h1m70 0h1m302 0h2m19 0h1M106 676.10h1m58 0h1m53 0h1m211 0h1m9 0h1m18 0h1m40 0h1M238 680.61h2m109 0h1m11 0h2m56 0h1M73 685.11h1m143 0h1m277 0h1M127 698.63h1m8 0h1m2 0h1m142 0h1m55 0h1m8 0h1m30 0h1M196 703.13h2m213 0h1m62 0h1m8 0h1m32 0h1m4 0h1m16 0h1M90 725.66h1m208 0h1m28 0h1M120 757.19h1m8 0h1m6 0h1m43 0h1m186 0h1m52 0h1m17 0h1m14 0h1m43 0h1m56 0h1"/>
<path stroke="#c2dfe1" d="M243 374.27h1m27 0h1m21 0h1m25 0h1m5 0h1m2 0h2m16 0h1m35 0h1m23 0h2m43 0h1M115 383.28h1m46 0h1m133 0h1m2 0h1M133 387.78h1m74 0h1M317 392.29h1m104 0h1m12 0h1m20 0h1m82 0h1M403 405.80h1m46 0h1m70 0h1M257 410.31h1m48 0h1m212 0h1M264 428.33h1m101 0h3m43 0h1m53 0h1m20 0h1m23 0h1M366 459.86h1m35 0h1m44 0h1m38 0h1M253 504.91h1m76 0h1m176 0h1M424 509.42h1M260 513.92h1m23 0h1m10 0h1m9 0h1m18 0h1m24 0h1m58 0h1m121 0h1m17 0h1M471 518.43h1m19 0h1m4 0h1M440 522.93h1m63 0h1M525 554.47h1M99 558.97h1m73 0h1m20 0h1m52 0h1m186 0h1m72 0h1m19 0h1M376 567.98h1m31 0h1m17 0h1m66 0h1M131 576.99h1M69 590.51h1m133 0h1M121 595.01h1m38 0h1m279 0h1m9 0h1m45 0h1m12 0h1M175 613.03h1m254 0h1M81 622.04h1m14 0h1m112 0h1M93 644.57h1m15 0h1m52 0h1m71 0h1m43 0h1m151 0h1m23 0h1m7 0h1m11 0h1M164 662.59h1m9 0h1m6 0h1M100 667.09h1m12 0h1m62 0h1m22 0h1m183 0h1m47 0h1m64 0h1m8 0h1M88 671.60h1m126 0h1m2 0h1m185 0h1m32 0h2m3 0h1m23 0h1m53 0h1m4 0h1m8 0h1m12 0h1M162 676.10h1m8 0h1m10 0h1M72 680.61h1m12 0h1m31 0h1m21 0h1m267 0h1m13 0h1m49 0h1m9 0h1m49 0h1m22 0h1M100 698.63h1m12 0h2m30 0h1m3 0h1m16 0h1m91 0h1m85 0h1m25 0h1M168 703.13h1m61 0h1m16 0h1m3 0h1m138 0h1m44 0h1m19 0h1M88 757.19h1m17 0h1m26 0h1m67 0h1m56 0h1m53 0h1m26 0h1m3 0h1m5 0h1m29 0h1m59 0h1m55 0h1"/>
<path stroke="#afd5e0" d="M250 374.27h1m182 0h1m99 0h1M375 392.29h1m12 0h1m18 0h1m49 0h1M447 405.80h1m98 0h1M365 459.86h1m130 0h1m38 0h1M407 468.87h2M467 518.43h1m84 0h1M297 522.93h1m139 0h1m13 0h1m16 0h1m6 0h1m32 0h1m7 0h2m10 0h2m2 0h1M365 527.44h1m94 0h1m60 0h1M86 590.51h1m56 0h1m7 0h1m15 0h1m349 0h1m3 0h1m2 0h1M84 595.01h1m38 0h1m275 0h1m43 0h1M85 622.04h1m55 0h1m57 0h1m10 0h1M464 676.10h1M306 685.11h1M131 698.63h1m12 0h1m53 0h2m127 0h1m28 0h1m14 0h1M204 725.66h1m19 0h1"/>
<path stroke="#bcb0ae" d="M275 374.27h1m79 0h2m77 0h1m12 0h2M328 392.29h1m124 0h1m55 0h1m15 0h1m25 0h1M70 405.80h1m88 0h1m78 0h1m3 0h2m13 0h1m38 0h1m13 0h1m1 0h1m16 0h1m16 0h1m102 0h1m108 0h1M70 410.31h1m257 0h1M330 428.33h1M232 459.86h1m68 0h1m50 0h1m8 0h1m13 0h1m16 0h2m35 0h1m14 0h1m60 0h1M248 468.87h1m201 0h1m68 0h1m34 0h1M211 504.91h1m268 0h1M117 518.43h1m31 0h1m100 0h1m9 0h1m57 0h1m161 0h1m34 0h1m14 0h1M84 522.93h1m169 0h1m24 0h1m44 0h1m10 0h1m11 0h1m39 0h1m76 0h1M339 527.44h1m167 0h1M101 554.47h1m361 0h1m26 0h1m18 0h1m34 0h1m9 0h1M74 590.51h1m17 0h1m1 0h1m92 0h2m33 0h1m87 0h1m1 0h1m86 0h1m5 0h1m51 0h1m21 0h1m20 0h1M87 595.01h1m10 0h1m8 0h1m16 0h1m21 0h1m68 0h1m230 0h1m33 0h1m44 0h1m15 0h1M238 622.04h1m33 0h1m31 0h1m92 0h1m6 0h1m42 0h1m31 0h1m16 0h1M316 644.57h1M235 662.59h1M495 671.60h1M204 676.10h1m101 0h1m168 0h1m6 0h1m7 0h1m18 0h1m31 0h1m15 0h1M96 685.11h1m57 0h1m72 0h1m244 0h1M146 698.63h2m31 0h2m62 0h1m32 0h1m12 0h2m6 0h1m10 0h1m14 0h2m106 0h1m46 0h1M278 703.13h1M98 725.66h1m80 0h1m54 0h1m1 0h1m23 0h1m31 0h1m40 0h1m57 0h1m107 0h1m48 0h1"/>
<path stroke="#bba0ad" d="M291 374.27h1M83 383.28h1m127 0h1m40 0h1m134 0h1M78 387.78h1m43 0h1m74 0h1m90 0h1M69 405.80h1m147 0h1m30 0h1m179 0h1m104 0h1M348 410.31h1M497 428.33h1M309 437.34h1M389 459.86h1M287 468.87h1m57 0h1M180 504.91h1m269 0h1m99 0h1M70 513.92h1m150 0h1m163 0h1M359 518.43h1M262 522.93h2m90 0h1m16 0h1m12 0h1M290 527.44h1m44 0h1m65 0h1m14 0h1m11 0h1m121 0h1M231 545.46h1M177 554.47h1m89 0h1m88 0h1m17 0h1m32 0h1m2 0h1m94 0h1M267 558.97h1m91 0h1M259 567.98h1m48 0h1m17 0h2m109 0h1m35 0h1M386 576.99h1M219 590.51h1m56 0h1m2 0h1m270 0h1M285 595.01h1m132 0h1M219 613.03h1m32 0h1m1 0h1m95 0h1m82 0h1M411 622.04h1m17 0h1m38 0h1m29 0h1m7 0h1M256 644.57h1M324 662.59h1M418 667.09h1M71 671.60h1m412 0h1M233 676.10h1m205 0h1M248 680.61h1m21 0h1m69 0h1M125 698.63h1m7 0h1m55 0h1m138 0h2M478 703.13h1M430 712.14h1M339 725.66h1m143 0h1M228 757.19h1m215 0h1m31 0h1m5 0h1m25 0h1m27 0h1m16 0h1"/>
<path stroke="#b6dce7" d="M294 374.27h1m158 0h1m21 0h1M237 392.29h1m6 0h2m46 0h1m66 0h1m13 0h1m124 0h1m43 0h1M398 405.80h1m19 0h1m133 0h1m4 0h1M277 428.33h1M154 459.86h1m98 0h1m198 0h1m66 0h1M315 513.92h1M281 518.43h1m133 0h1m142 0h1M474 522.93h1m66 0h1M437 527.44h1M77 554.47h1m39 0h1m19 0h1m3 0h1m74 0h1m187 0h1m23 0h1M500 558.97h1M130 590.51h1m39 0h1m255 0h1m62 0h1M462 595.01h1m55 0h1M124 622.04h1m2 0h1m63 0h1m2 0h1m21 0h1M130 662.59h1M91 671.60h1m4 0h1m2 0h1m1 0h1m1 0h1m6 0h1m6 0h1m37 0h1m26 0h1m7 0h1m9 0h1m15 0h2m5 0h1m171 0h1m2 0h2m3 0h1m3 0h2m15 0h2m7 0h2m1 0h1m6 0h1m2 0h1m1 0h2m13 0h1m6 0h1m1 0h1m14 0h1m3 0h2m9 0h1m2 0h2m1 0h3m5 0h3m2 0h2m4 0h4m5 0h1m3 0h2m6 0h1m8 0h2M213 676.10h1m1 0h1m186 0h1m17 0h1m29 0h1m95 0h1M156 680.61h1M123 698.63h1m107 0h1M175 725.66h1m245 0h1"/>
<path stroke="#c0c1c1" d="M298 374.27h1m42 0h1m126 0h1m3 0h1m46 0h1m2 0h1M163 383.28h1m146 0h1m36 0h1M168 387.78h1M282 392.29h1m39 0h1m30 0h1m12 0h1m42 0h1m125 0h1M117 405.80h1m191 0h1m45 0h1m60 0h1m44 0h1m26 0h1m22 0h1m1 0h1m3 0h1M121 410.31h1m138 0h1m22 0h1m3 0h1m110 0h1m123 0h1M179 428.33h1m49 0h1m61 0h1M243 459.86h1m12 0h1m173 0h1m39 0h1m70 0h1M396 468.87h1m33 0h1m55 0h1M249 504.91h1m105 0h1m16 0h1m121 0h1m28 0h1M317 518.43h1m40 0h1m68 0h1m41 0h1m71 0h1M158 522.93h1m143 0h1m111 0h1M545 527.44h1M209 554.47h1m48 0h1m9 0h1m28 0h1m17 0h1m119 0h1M118 558.97h1m81 0h1m54 0h1m221 0h1M232 567.98h1m184 0h1M110 590.51h1m4 0h1m39 0h1m306 0h1m82 0h1M104 595.01h1m93 0h1M293 613.03h1M512 622.04h1M288 662.59h1m33 0h1m2 0h1M123 667.09h1m176 0h1m40 0h1m85 0h1m107 0h1M118 671.60h1m103 0h1m96 0h1M98 676.10h1m266 0h1m32 0h1m97 0h1m36 0h1m4 0h1M307 680.61h1m68 0h1M136 685.11h1m34 0h1m20 0h1m127 0h1M84 698.63h1m43 0h1m19 0h1m4 0h1m47 0h1m46 0h1m42 0h1m2 0h1m99 0h1m10 0h1m79 0h1M69 703.13h1m360 0h1m22 0h1m18 0h1M82 725.66h1m109 0h1m69 0h1m7 0h1m23 0h1m5 0h1m13 0h1m15 0h1m14 0h1m42 0h1M92 757.19h1m232 0h1"/>
<path stroke="#d1beb4" d="M321 374.27h1m87 0h1m34 0h1M151 383.28h1M246 387.78h1M194 392.29h1M193 396.79h1M372 405.80h1M113 410.31h1m56 0h1m133 0h1m75 0h1m2 0h1m28 0h1M415 428.33h1m85 0h1M79 437.34h1m477 0h1M97 441.84h1M247 450.85h2M240 455.36h1M393 464.37h1m105 0h1M176 473.38h1M190 482.39h1m162 0h1m11 0h1M209 486.89h1m15 0h1M270 500.41h1M78 504.91h1m12 0h1M77 509.42h1m155 0h1M125 513.92h1m304 0h2m67 0h1M362 518.43h1M449 522.93h1m95 0h1M386 527.44h1m37 0h1m107 0h1M242 531.94h1M103 558.97h1m103 0h1m288 0h1M236 563.48h1m81 0h1M424 567.98h1m109 0h1M319 576.99h1M80 595.01h1m116 0h1M274 617.54h1m10 0h1M333 631.05h1m93 0h1m28 0h1M215 635.56h1m252 0h1m51 0h1m5 0h1M99 640.06h1m251 0h1M345 644.57h1m166 0h1M215 649.07h1m177 0h1m68 0h1M486 653.58h1M326 658.08h1M141 662.59h1m312 0h1m41 0h1M105 667.09h1m211 0h1m57 0h1m69 0h1M105 671.60h1m7 0h1m401 0h1M548 676.10h1M128 680.61h1m71 0h1M553 685.11h1M177 689.62h1m53 0h1m7 0h1m214 0h1M192 694.12h1m101 0h1m32 0h1M241 698.63h1m226 0h1M391 703.13h1M142 712.14h1m40 0h1m60 0h1M337 716.65h1m139 0h1M104 757.19h1"/>
<path stroke="#addae9" d="M347 374.27h1M265 392.29h1m7 0h1m3 0h1m12 0h1m29 0h1m34 0h1m43 0h1m83 0h1m43 0h1m4 0h1M397 405.80h1m121 0h1m4 0h1M406 459.86h1m56 0h1m29 0h1m42 0h1m21 0h1M363 518.43h1m18 0h1m39 0h1m127 0h1M311 522.93h1m213 0h1M116 554.47h1m37 0h1m45 0h1m17 0h1m239 0h1m93 0h1M177 590.51h1m47 0h1m294 0h1M490 595.01h1M125 622.04h1M85 676.10h1m71 0h1M138 685.11h1m10 0h1m11 0h1m13 0h1m6 0h1m22 0h1m25 0h54m3 0h6m2 0h9m3 0h1m2 0h8m2 0h6m1 0h23m2 0h42m118 0h1M108 725.66h1m29 0h1m48 0h1m67 0h1"/>
<path stroke="#9ba6b3" d="M466 374.27h1M327 392.29h1m77 0h1m54 0h1m12 0h1M74 405.80h1m124 0h1m47 0h1m11 0h1m20 0h1m3 0h1m16 0h1m5 0h1m7 0h1m16 0h1m36 0h1m23 0h1m31 0h1m22 0h1m5 0h1m42 0h1m34 0h1M184 459.86h1m88 0h1m43 0h1m27 0h1m11 0h1m10 0h1m41 0h1m88 0h1M276 468.87h1m23 0h2m41 0h1m15 0h1m38 0h1m22 0h1m5 0h2m12 0h1m2 0h1m13 0h1m26 0h1m57 0h2m6 0h1M93 518.43h1m143 0h1m13 0h1m1 0h1m10 0h1m6 0h1m18 0h2m16 0h1m13 0h1m5 0h1m14 0h1m23 0h1m17 0h1m22 0h1m17 0h1m11 0h1m2 0h1m6 0h1m16 0h1m18 0h1m12 0h1m3 0h1m18 0h2m10 0h1m21 0h1M276 522.93h1m18 0h1m2 0h2m18 0h1m46 0h1m17 0h1M419 527.44h1m119 0h1m7 0h1M285 554.47h1m156 0h1m22 0h1m16 0h1m4 0h1m28 0h1m23 0h1M68 590.51h1m6 0h1m3 0h2m2 0h1m14 0h1m74 0h1m16 0h1m17 0h1m186 0h1m22 0h2m11 0h1m72 0h1M69 595.01h1m2 0h1m27 0h1m10 0h1m23 0h2m18 0h1m2 0h1m23 0h1m31 0h1m2 0h1m131 0h1m5 0h1m17 0h1m10 0h1m3 0h1m20 0h1m2 0h1m12 0h1m62 0h1m2 0h1m2 0h1m11 0h1m9 0h1m34 0h1M163 622.04h1m18 0h1m30 0h1m25 0h1m158 0h1m19 0h1m17 0h1m11 0h1m42 0h2m26 0h1M109 676.10h1m48 0h1m171 0h1m52 0h1m61 0h1m16 0h1m26 0h1m23 0h1M456 698.63h1m29 0h1M144 725.66h1m90 0h1m7 0h1m13 0h1m23 0h1m20 0h1m10 0h1m6 0h1m21 0h1m33 0h1m10 0h1m67 0h1m31 0h1m10 0h1"/>
<path stroke="#bae0ed" d="M489 374.27h1M242 392.29h1m12 0h1m78 0h1m35 0h1m31 0h1m33 0h1m6 0h1m94 0h1M498 405.80h1M114 410.31h1m3 0h1m1 0h1m118 0h1m3 0h1m6 0h1m7 0h1m7 0h1m6 0h1m1 0h1m19 0h1m5 0h1m1 0h1m3 0h1m5 0h1m1 0h1m1 0h3m2 0h2m5 0h1m17 0h1m9 0h1m2 0h6m15 0h1m5 0h1m4 0h1m1 0h1m2 0h1m2 0h1m4 0h5m3 0h1m2 0h5m3 0h2m4 0h3m2 0h1m2 0h2m3 0h1m3 0h2m4 0h1m1 0h2m1 0h14m2 0h5m1 0h2m1 0h2m1 0h1m1 0h1m2 0h11m1 0h2m3 0h4m1 0h2m1 0h2m3 0h1m14 0h1m3 0h2m1 0h1m1 0h2m1 0h3m4 0h1M86 428.33h1m58 0h1m8 0h1m13 0h1m13 0h1m36 0h2m10 0h1m1 0h3m2 0h3m1 0h2m2 0h1m2 0h5m1 0h1m1 0h1m2 0h1m5 0h1m1 0h1m2 0h3m4 0h4m1 0h4m1 0h1m8 0h1m2 0h1m1 0h2m1 0h2m5 0h1m1 0h9m1 0h1m1 0h4m2 0h9m11 0h2m2 0h1m1 0h4m7 0h2m1 0h7m5 0h3m1 0h1m2 0h3m2 0h2m3 0h1m1 0h2m1 0h2m6 0h1m2 0h3m2 0h2m1 0h1m4 0h1m1 0h2m4 0h1m4 0h2m2 0h2m1 0h3m1 0h2m1 0h1m3 0h1m6 0h1m2 0h7m2 0h2m1 0h1m1 0h2m3 0h1m1 0h2m10 0h2m2 0h1m1 0h1m2 0h1m1 0h1m5 0h3m3 0h3m1 0h4m2 0h2m2 0h2m2 0h2m4 0h8M299 459.86h2m122 0h1m35 0h1m56 0h1m13 0h1M118 504.91h1m11 0h1m20 0h2m86 0h2m2 0h1m1 0h1m1 0h2m1 0h1m4 0h1m6 0h1m2 0h1m4 0h2m1 0h2m7 0h2m2 0h1m2 0h1m1 0h2m1 0h1m1 0h1m1 0h5m1 0h1m16 0h1m4 0h4m3 0h1m5 0h1m2 0h1m2 0h1m11 0h1m2 0h1m1 0h1m1 0h3m3 0h2m2 0h1m3 0h2m8 0h1m4 0h1m29 0h1m19 0h1m14 0h2m9 0h1m9 0h1m4 0h1m7 0h2m1 0h2m12 0h2m13 0h1m8 0h1m4 0h1m9 0h1m3 0h1M150 513.92h1m73 0h1m6 0h3m2 0h2m8 0h2m5 0h1m2 0h2m1 0h1m2 0h2m6 0h1m1 0h1m1 0h1m1 0h1m1 0h2m12 0h2m8 0h2m6 0h3m9 0h1m8 0h1m2 0h2m1 0h3m5 0h1m2 0h1m4 0h1m7 0h1m8 0h1m3 0h1m1 0h1m6 0h1m4 0h1m12 0h1m12 0h1m3 0h2m2 0h2m8 0h2m15 0h1m6 0h2m4 0h1m1 0h1m14 0h1m9 0h1m3 0h1m14 0h2m7 0h1m1 0h2m3 0h3m5 0h7m10 0h2M245 518.43h1m46 0h1m67 0h1M412 522.93h1m16 0h1M128 554.47h2m224 0h1M77 558.97h1m8 0h2m13 0h1m11 0h1m18 0h1m15 0h1m1 0h1m1 0h1m1 0h1m8 0h1m19 0h2m39 0h1m51 0h1m2 0h1m9 0h1m10 0h1m11 0h1m41 0h2m2 0h1m2 0h1m2 0h1m8 0h1m4 0h1m8 0h1m8 0h2m7 0h4m1 0h4m3 0h2m3 0h2m1 0h1m3 0h1m1 0h1m4 0h3m1 0h2m1 0h1m1 0h2m2 0h1m6 0h1m4 0h1m1 0h1m5 0h1m4 0h3m1 0h2m4 0h3m2 0h1m1 0h4m6 0h2m7 0h1m4 0h5m3 0h3m2 0h4m1 0h3m4 0h2m2 0h1m3 0h3m2 0h1M68 567.98h13m2 0h82m1 0h1m2 0h15m1 0h19m2 0h25m11 0h1m12 0h1m12 0h1m12 0h1m8 0h1m18 0h3m1 0h1m4 0h1m9 0h1m2 0h2m27 0h2m11 0h1m22 0h3m5 0h3m2 0h5m4 0h1m8 0h1m5 0h2m5 0h5m2 0h1m2 0h1m4 0h1m2 0h2m1 0h6m5 0h1m1 0h2m2 0h1m2 0h3m3 0h1m6 0h4m5 0h2m1 0h1m3 0h1m3 0h2m4 0h3m2 0h2m2 0h1m2 0h1m3 0h2m2 0h3m1 0h1m1 0h3m1 0h2m2 0h2M532 590.51h1M485 595.01h1M73 622.04h1m32 0h1m94 0h1M76 667.09h1m15 0h1m6 0h1m21 0h1m6 0h1m1 0h2m5 0h1m5 0h1m3 0h1m3 0h1m1 0h2m2 0h1m3 0h2m1 0h1m4 0h1m1 0h1m14 0h1m4 0h1m17 0h2m31 0h1m7 0h1m15 0h2m21 0h1m29 0h1m2 0h1m15 0h1m7 0h1m16 0h1m4 0h1m10 0h1m6 0h1m2 0h1m5 0h1m15 0h1m7 0h1m1 0h1m3 0h1m4 0h1m4 0h3m2 0h1m32 0h1m8 0h2m4 0h1m3 0h2m4 0h1m4 0h1m5 0h1m1 0h2m6 0h1m2 0h2m3 0h1m12 0h1m4 0h2m8 0h1M216 676.10h1m212 0h1m93 0h1M76 680.61h2m4 0h1m8 0h2m6 0h1m6 0h1m3 0h1m10 0h1m12 0h1m3 0h1m4 0h2m3 0h2m17 0h1m1 0h4m1 0h1m2 0h1m9 0h1m15 0h1m17 0h1m9 0h3m3 0h1m18 0h1m24 0h1m32 0h1m37 0h1m1 0h1m5 0h1m50 0h1m13 0h2m6 0h1m11 0h1m6 0h1m31 0h1m8 0h1m2 0h1m23 0h2m15 0h2m16 0h1M68 703.13h1m2 0h97m2 0h26m2 0h4m1 0h5m1 0h21m4 0h1m3 0h1m6 0h1m4 0h1m2 0h3m3 0h5m2 0h8m1 0h1m3 0h2m3 0h10m3 0h1m1 0h3m3 0h1m3 0h4m2 0h1m2 0h2m2 0h1m1 0h3m2 0h1m1 0h1m1 0h2m3 0h3m1 0h3m3 0h2m2 0h1m1 0h1m2 0h2m3 0h6m1 0h2m1 0h4m5 0h6m2 0h1m2 0h3m3 0h1m33 0h1m16 0h1m7 0h1m2 0h1m5 0h1m1 0h1m6 0h1m6 0h1m9 0h1m17 0h1m1 0h2m28 0h1m5 0h3M72 725.66h1m23 0h1m13 0h1m94 0h1m11 0h1M69 757.19h3m2 0h5m1 0h5m4 0h2m2 0h1m2 0h2m1 0h5m3 0h12m2 0h2m2 0h4m6 0h1m2 0h1m2 0h2m5 0h4m1 0h3m1 0h4m1 0h2m2 0h1m1 0h6m4 0h2m2 0h1m1 0h1m1 0h1m1 0h1m3 0h6m1 0h1m3 0h2m2 0h7m4 0h10m1 0h5m2 0h1m2 0h1m4 0h1m3 0h3m5 0h2m2 0h1m5 0h1m2 0h1m10 0h3m1 0h2m1 0h1m4 0h2m3 0h1m4 0h1m3 0h5m3 0h1m1 0h1m3 0h2m2 0h1m1 0h2m1 0h2m2 0h2m1 0h2m7 0h3m5 0h6m3 0h2m4 0h8m7 0h6m3 0h3m1 0h1m1 0h2m15 0h2m4 0h1m20 0h1m5 0h3m3 0h1m1 0h1m9 0h2m3 0h2m4 0h1m1 0h1m1 0h1m6 0h2m1 0h2m9 0h1m2 0h3m1 0h2m2 0h3m3 0h1m1 0h1m2 0h2m9 0h1m1 0h1m1 0h1m1 0h1m4 0h1m2 0h1m2 0h1m2 0h2"/>
<path stroke="#cfb6ab" d="M510 374.27h1M256 383.28h1m92 0h1M111 387.78h1m39 0h1m143 0h1m63 0h1M139 392.29h1m211 0h1m77 0h1M75 396.79h1M333 405.80h1m49 0h1M109 410.31h1m71 0h1m144 0h1m3 0h1m5 0h1M126 428.33h1m10 0h1m216 0h1M177 455.36h1M135 459.86h1m123 0h1m127 0h1m2 0h1m82 0h1M119 464.37h1M471 468.87h1M194 473.38h1M172 482.39h1M182 504.91h1m75 0h1m87 0h1m124 0h1m9 0h1m18 0h1m16 0h1m16 0h1M132 509.42h1m264 0h1m64 0h1M250 513.92h1m3 0h1m73 0h1m29 0h1m65 0h1m34 0h1M254 518.43h1M231 522.93h1m1 0h1m159 0h1m121 0h1M235 527.44h1m75 0h1m57 0h1m6 0h1m31 0h1m34 0h1M96 554.47h1m321 0h1m55 0h1m25 0h1m22 0h1M203 558.97h2m22 0h1m83 0h1m89 0h1m120 0h1M361 563.48h1M400 567.98h1m156 0h1M264 576.99h1M416 590.51h1m74 0h1m9 0h1M139 595.01h1M233 613.03h1m65 0h2M69 622.04h1m345 0h1m108 0h1M215 644.57h1m142 0h2m99 0h1m77 0h1M490 662.59h1M190 667.09h1m348 0h1M107 671.60h1m90 0h1m8 0h1m34 0h1m253 0h1m57 0h1M467 676.10h1m20 0h1M108 680.61h1m153 0h1m188 0h1m95 0h1M82 685.11h1m40 0h1m329 0h1M473 694.12h1M164 698.63h1m52 0h1m67 0h1m73 0h1M232 703.13h1m11 0h1m131 0h1m32 0h1m83 0h1m26 0h1m34 0h1M474 712.14h1M160 725.66h1m4 0h1m80 0h1m120 0h1m68 0h1M124 757.19h1"/>
<path stroke="#a6d5e7" d="M539 374.27h1M270 392.29h1m25 0h1m36 0h1m124 0h1m53 0h3m13 0h1M344 405.80h1m169 0h1m8 0h1m16 0h1M309 459.86h1M442 518.43h1M498 522.93h1m27 0h1m23 0h1M68 527.44h163m130 0h1m34 0h2m2 0h1m3 0h1m1 0h2m1 0h3m1 0h1m4 0h1m8 0h1m1 0h2m3 0h1m3 0h1m3 0h1m2 0h4m2 0h2m2 0h3m3 0h6m5 0h1m3 0h3m3 0h1m4 0h1m2 0h5m1 0h3m2 0h3m4 0h2m4 0h1m2 0h1m6 0h1m1 0h1m2 0h3m2 0h4m2 0h2m2 0h1m1 0h1m4 0h1m2 0h2m2 0h1M95 554.47h1m1 0h1m11 0h1m14 0h1m34 0h1m1 0h1m9 0h1m12 0h1m234 0h1m9 0h1m59 0h1M137 590.51h1m22 0h1m259 0h1m12 0h1M112 622.04h1m44 0h1m351 0h1M135 676.10h2m291 0h1m20 0h1M81 725.66h1m29 0h1m8 0h1m91 0h1m72 0h1m30 0h1"/>
<path stroke="#e8c8ac" d="M69 378.77h1m44 0h1M150 401.30h1m367 0h1M68 419.32h1m9 0h1m133 0h1m1 0h1M74 423.82h1m19 0h1m54 0h1m27 0h1m17 0h1m12 0h1m17 0h1M83 428.33h1M84 455.36h1m332 0h1m97 0h1M139 468.87h1m92 0h1M118 477.88h1m3 0h1m27 0h1m8 0h1m9 0h1m16 0h1m71 0h1m41 0h1m9 0h1m14 0h1m5 0h1m41 0h1m2 0h1m30 0h1m8 0h1m7 0h1m18 0h1m76 0h1m9 0h1M75 495.90h1m59 0h1m12 0h1m5 0h1m91 0h1m6 0h1m58 0h1m67 0h1m121 0h1M285 500.41h1M107 509.42h1m425 0h1M154 513.92h1m396 0h1M243 531.94h1M248 536.45h1M184 540.95h1m137 0h1m19 0h1m4 0h1m31 0h1M284 549.96h1m42 0h1m134 0h1M481 554.47h1m6 0h1M390 563.48h1M284 567.98h1M111 572.49h1m41 0h1m354 0h1M340 576.99h1M229 581.50h1m37 0h1m5 0h1m5 0h1m56 0h1m129 0h1m29 0h2M288 586.00h1m4 0h1M342 590.51h1M452 595.01h1M254 608.53h1m12 0h1m37 0h1M93 613.03h1M270 617.54h1m104 0h1M406 622.04h1M131 631.05h1m206 0h1M172 635.56h1m93 0h1m34 0h1M157 640.06h1m113 0h1m66 0h1m160 0h1m49 0h1M230 644.57h1m65 0h1m30 0h1M303 649.07h1m160 0h1m60 0h1M111 653.58h1m325 0h1M91 658.08h1m4 0h1m15 0h1m77 0h1m41 0h1m28 0h1m21 0h1m203 0h2M226 662.59h1m262 0h1M505 676.10h1M90 680.61h1M253 689.62h1M432 707.64h1m17 0h1m4 0h1m16 0h1m33 0h1M82 712.14h1m175 0h1m217 0h1M393 721.15h1M75 730.16h1m16 0h1m259 0h1m7 0h1m21 0h1m38 0h1m92 0h1M80 734.67h1m203 0h1m203 0h1m49 0h2M165 739.17h1m92 0h1m83 0h1m45 0h1m33 0h1m5 0h1M95 743.68h1m27 0h1m115 0h1m214 0h1m9 0h1M143 748.18h1m171 0h1m195 0h1m1 0h1m43 0h1M385 752.69h1m5 0h1M110 761.70h2m9 0h1m28 0h1m130 0h1m113 0h1m37 0h1m16 0h1m62 0h1m23 0h1M182 766.20h1m130 0h1m134 0h1m14 0h1m55 0h1"/>
<path stroke="#e7e1cb" d="M90 378.77h1m205 0h1m139 0h1M164 396.79h1m211 0h1M113 401.30h1m35 0h1m9 0h1M109 419.32h1m268 0h2M178 423.82h1m99 0h1m5 0h1m47 0h2m43 0h1m24 0h1m31 0h1m12 0h1M449 428.33h1M136 432.83h1M88 437.34h1M92 441.84h1M286 446.35h1m11 0h1M356 450.85h1M342 455.36h1m81 0h1M282 459.86h1m143 0h1M251 464.37h1m20 0h1m6 0h1M110 473.38h1m61 0h1m174 0h1m148 0h1M119 477.88h1m155 0h2m97 0h1m7 0h1m19 0h1m68 0h1m6 0h1m50 0h1m7 0h2m17 0h1M245 482.39h1m42 0h1M263 486.89h1m29 0h1m38 0h1M297 491.40h1M68 495.90h1m16 0h1m36 0h1m33 0h1m1 0h1m47 0h1m10 0h1m23 0h1m31 0h1m22 0h1m2 0h1m26 0h1m13 0h1m1 0h1m2 0h1m12 0h1m4 0h1m19 0h2m118 0h1M177 500.41h1M82 509.42h1m93 0h1m76 0h1m193 0h1M304 518.43h1m232 0h1M103 522.93h1M516 531.94h1M201 536.45h1M105 540.95h1m9 0h1m26 0h1m3 0h1m9 0h1m19 0h1m55 0h1m85 0h1m135 0h1m61 0h1M278 549.96h1m121 0h1m136 0h1M440 554.47h1M181 558.97h1m40 0h1m115 0h1M265 563.48h1m16 0h1M122 572.49h1m175 0h1m50 0h1M153 576.99h1m20 0h1M212 581.50h1m3 0h1m35 0h1m31 0h1m30 0h1m56 0h1m155 0h1m13 0h2M272 586.00h1M470 590.51h1M82 595.01h1m78 0h1m236 0h1M76 599.52h1m19 0h1m16 0h1m29 0h1m62 0h1m16 0h2m320 0h1M235 604.02h1m6 0h1m14 0h1m5 0h1m1 0h1m30 0h1m77 0h1m3 0h1M248 608.53h1m54 0h1m4 0h1m28 0h1m29 0h1m8 0h1m146 0h1M433 622.04h1M90 635.56h1m317 0h1m88 0h1M331 640.06h1M330 649.07h1m156 0h1m34 0h1M149 653.58h1m25 0h1m163 0h1m67 0h1m101 0h1M107 658.08h1m110 0h1m211 0h1m62 0h1M126 662.59h1m4 0h1m10 0h1m55 0h1M447 667.09h1M219 671.60h1M197 676.10h1m207 0h1M109 680.61h1m75 0h1m30 0h1m199 0h1M408 689.62h1m94 0h1M292 694.12h1m108 0h1M71 698.63h1M127 707.64h1m66 0h1m72 0h1m14 0h1M220 712.14h1m296 0h1m15 0h1M210 721.15h1m20 0h1m3 0h1m21 0h1m3 0h1m18 0h1m2 0h1m8 0h1m104 0h2m21 0h1m33 0h1m59 0h1m23 0h1M104 730.16h1m49 0h1m115 0h1m234 0h1M276 734.67h1m54 0h1m168 0h1M68 739.17h1m223 0h1m130 0h1m127 0h1M102 743.68h1m33 0h1m96 0h1m19 0h1m196 0h1m43 0h1M289 748.18h1m120 0h1m86 0h1M281 752.69h1m67 0h1m67 0h1m16 0h1m68 0h1M253 757.19h1m22 0h1m28 0h1M152 761.70h1m275 0h1m100 0h2m25 0h1M122 766.20h1m97 0h1m166 0h1m94 0h1m75 0h1"/>
<path stroke="#e7f6e9" d="M92 378.77h1m3 0h1m4 0h2m46 0h1m61 0h1m19 0h15m1 0h36m1 0h12m1 0h47m1 0h3m1 0h10m2 0h75m2 0h19m1 0h46m2 0h14m2 0h37M72 401.30h1m10 0h1m1 0h3m3 0h1m2 0h1m20 0h1m4 0h1m3 0h1m2 0h1m1 0h2m8 0h2m1 0h2m19 0h2m1 0h1m3 0h1m8 0h2m8 0h1m14 0h1m3 0h1m22 0h14m1 0h8m2 0h21m1 0h5m2 0h4m1 0h4m2 0h31m2 0h40m2 0h10m1 0h45m1 0h27m1 0h31m2 0h28m2 0h10m1 0h21m2 0h1m2 0h3M69 419.32h1m7 0h1m2 0h1m17 0h1m6 0h1m11 0h1m19 0h1m6 0h1m4 0h3m3 0h1m6 0h2m3 0h1m11 0h1m4 0h2m17 0h1m23 0h1m3 0h6m1 0h8m2 0h76m2 0h20m1 0h31m2 0h16m2 0h53m1 0h27m1 0h6m1 0h10m1 0h61M77 423.82h2m5 0h2m30 0h2m20 0h5m11 0h2m9 0h2m7 0h1m6 0h1m16 0h2m3 0h1m27 0h28m2 0h17m1 0h5m2 0h11m1 0h6m2 0h1m1 0h24m2 0h42m2 0h19m2 0h3m1 0h17m2 0h12m1 0h11m2 0h5m1 0h27m1 0h55m1 0h9m1 0h3m2 0h6M73 495.90h2m9 0h1m5 0h1m14 0h1m2 0h1m3 0h1m7 0h1m2 0h1m2 0h1m9 0h1m8 0h1m22 0h2m14 0h1m10 0h1m6 0h1m6 0h1m23 0h3m4 0h1m4 0h1m5 0h2m4 0h4m8 0h2m3 0h3m2 0h1m1 0h7m2 0h3m1 0h1m5 0h2m2 0h1m8 0h5m2 0h4m3 0h2m1 0h1m2 0h2m11 0h2m2 0h1m11 0h1m3 0h1m3 0h1m8 0h1m5 0h1m3 0h1m2 0h1m2 0h18m2 0h68m1 0h18m2 0h38m1 0h16M68 604.02h13m1 0h31m1 0h12m1 0h1m1 0h5m1 0h6m2 0h11m1 0h8m1 0h31m2 0h8m1 0h4m1 0h21m11 0h2m5 0h1m2 0h2m15 0h1m3 0h1m2 0h2m3 0h1m1 0h2m2 0h1m2 0h1m6 0h1m4 0h2m3 0h2m1 0h2m3 0h4m1 0h2m5 0h1m6 0h1m3 0h2m3 0h1m3 0h2m5 0h1m12 0h4m3 0h1m4 0h4m2 0h2m3 0h2m2 0h11m1 0h28m2 0h77m6 0h6m1 0h31M68 608.53h3m1 0h6m2 0h2m2 0h33m2 0h18m1 0h18m1 0h11m2 0h11m2 0h16m1 0h9m2 0h21m17 0h1m26 0h1m58 0h2m25 0h2m7 0h1m11 0h1m6 0h1m3 0h15m1 0h24m4 0h3m2 0h3m1 0h2m1 0h14m2 0h6m1 0h9m2 0h3m1 0h13m1 0h13m1 0h3m1 0h1m3 0h2m1 0h1m1 0h9m3 0h8m1 0h9M415 676.10h1M68 707.64h10m2 0h47m1 0h19m1 0h46m1 0h72m1 0h14m2 0h13m1 0h26m1 0h70m14 0h1m5 0h2m4 0h1m1 0h2m6 0h1m5 0h1m4 0h1m8 0h1m1 0h2m4 0h2m3 0h1m5 0h2m12 0h2m3 0h1m2 0h1m2 0h1m7 0h1m6 0h2m19 0h1m6 0h1m9 0h1m6 0h1"/>
<path stroke="#e8f6e9" d="M115 378.77h1M294 401.30h1M358 477.88h1m4 0h1m20 0h1M88 495.90h1m63 0h1m78 0h1m24 0h1m32 0h1m67 0h1m10 0h1m21 0h1M217 549.96h1M346 572.49h1M388 581.50h1M118 608.53h1M306 622.04h1M311 721.15h1m5 0h1m18 0h1M505 748.18h1"/>
<path stroke="#dbc8c5" d="M132 378.77h1M276 392.29h1M71 401.30h1m29 0h1m44 0h1m10 0h1m15 0h1m7 0h1m48 0h1M140 419.32h1m15 0h1m17 0h1m8 0h1m21 0h1M99 423.82h1m79 0h1M203 446.35h1M422 455.36h1m93 0h1M151 477.88h1m135 0h1m72 0h1m84 0h1m75 0h1m10 0h1M300 482.39h1M145 486.89h1M95 495.90h1m8 0h1m19 0h1m51 0h1m50 0h1m50 0h1m45 0h1m88 0h1M190 500.41h1M96 540.95h1m93 0h1m42 0h2m6 0h1m4 0h1m15 0h1m42 0h1m2 0h2m2 0h1m52 0h1M95 572.49h1m67 0h1m85 0h1m138 0h1m127 0h1M292 581.50h1m7 0h1m26 0h1m38 0h1m1 0h1m93 0h1m32 0h1m51 0h1m7 0h1M268 599.52h1M258 604.02h2m8 0h1m30 0h1m63 0h2m7 0h2M181 608.53h1m109 0h1m64 0h1m1 0h1m26 0h1m97 0h1m37 0h1M397 631.05h1m5 0h1m106 0h1m43 0h1M327 635.56h1m224 0h1M306 640.06h1m97 0h1M150 649.07h1m235 0h1m69 0h1m12 0h1M133 653.58h1m29 0h1m316 0h1m18 0h2M247 658.08h1m8 0h1m276 0h1m22 0h1M208 689.62h1M426 707.64h1m2 0h1m18 0h1m41 0h1M221 712.14h2m16 0h1m106 0h1m118 0h1m77 0h1M120 721.15h1m194 0h1m79 0h1m14 0h1m30 0h1m1 0h1m30 0h1m24 0h1m18 0h1m8 0h1m12 0h1m1 0h1m13 0h1M257 730.16h1m15 0h1m15 0h1m3 0h1m63 0h1m70 0h2m30 0h1m36 0h1m35 0h2m3 0h1M243 734.67h2m1 0h1m1 0h1m14 0h1m195 0h1M378 739.17h1m96 0h1m9 0h1m13 0h1m28 0h1m17 0h1m8 0h1M68 743.68h1m141 0h1m13 0h1m17 0h2m16 0h1m6 0h1m70 0h1m144 0h1m14 0h1m8 0h1m9 0h2m2 0h1m33 0h1M147 748.18h1m103 0h1m58 0h1m13 0h1m26 0h1m13 0h1m29 0h1m94 0h1m41 0h2M305 752.69h1m49 0h1m16 0h3m29 0h1m47 0h1m4 0h1M97 761.70h1m55 0h1m46 0h1m32 0h1m38 0h1m15 0h1m67 0h1m18 0h1m133 0h1m6 0h1M240 766.20h1m34 0h1m29 0h2m17 0h1m17 0h1m63 0h1m23 0h1m31 0h1"/>
<path stroke="#e9cfb0" d="M133 378.77h1m26 0h1m41 0h1m80 0h1M111 401.30h1m143 0h1m231 0h1M304 405.80h1M84 419.32h1m141 0h1M187 423.82h1m188 0h1m104 0h1M136 437.34h1M181 455.36h1m71 0h1m131 0h1m37 0h1m123 0h1M202 459.86h1m49 0h1m50 0h1M162 464.37h1M245 468.87h1M489 473.38h1M98 477.88h1m27 0h1m26 0h1m53 0h1m43 0h1m27 0h1m17 0h1m26 0h1m10 0h1m19 0h1m9 0h1m19 0h1m7 0h1m5 0h1M138 495.90h1m18 0h1m139 0h1m20 0h1m16 0h1m18 0h1m9 0h1m16 0h1M92 540.95h1m34 0h1m156 0h1m90 0h1M525 549.96h1m27 0h2M468 558.97h1M206 572.49h1m110 0h1m27 0h1m10 0h1m24 0h1m91 0h1M122 576.99h1M307 581.50h1m109 0h1m6 0h1m47 0h1M129 590.51h1M190 599.52h1M81 604.02h1m31 0h1m14 0h1m131 0h1m97 0h1m1 0h1m158 0h1m6 0h1M209 608.53h1m70 0h1m165 0h1m91 0h3M539 622.04h1M113 635.56h1m28 0h1m293 0h1m119 0h1M332 640.06h1M342 649.07h1m55 0h1M203 653.58h1M305 658.08h1M71 662.59h1m31 0h1m40 0h1M182 667.09h1M90 676.10h1M206 689.62h1m263 0h1M283 707.64h1m220 0h1m49 0h1M110 712.14h1m174 0h1m35 0h1M266 721.15h1m22 0h1m36 0h1m207 0h1M416 725.66h1M118 730.16h1m38 0h1m92 0h1m61 0h1m8 0h1m102 0h1m18 0h1M68 734.67h1m47 0h1m119 0h1m86 0h1m94 0h1m7 0h1M249 739.17h1m149 0h1m125 0h1M135 743.68h1m91 0h1m40 0h1m125 0h1M195 748.18h1m3 0h1m48 0h1m120 0h1m7 0h1m138 0h1M166 752.69h1m97 0h2m245 0h1M184 761.70h1m50 0h1m302 0h1M255 766.20h1m47 0h1m156 0h1m22 0h1m47 0h1"/>
<path stroke="#ecae88" d="M144 378.77h1m23 0h1m12 0h1M117 383.28h1m413 0h1M68 392.29h1M116 396.79h1M220 401.30h1m33 0h1M535 410.31h1M88 423.82h1m127 0h1M170 428.33h1m228 0h1m36 0h1M101 432.83h1M198 437.34h1m88 0h1M162 441.84h1m84 0h1M372 446.35h1M437 459.86h1M135 464.37h1M150 468.87h1m206 0h1M184 477.88h1m23 0h1m62 0h1M346 482.39h1m90 0h1m5 0h1M139 486.89h1M233 491.40h1m36 0h1M116 495.90h1m8 0h1m40 0h1m113 0h1m106 0h1M248 500.41h1M124 504.91h1m200 0h1m101 0h1M378 509.42h1m85 0h1m6 0h1M482 513.92h1M413 518.43h1M373 531.94h1M414 536.45h1M75 540.95h1m99 0h1m117 0h1M269 545.46h1m90 0h1M301 549.96h1m13 0h1m65 0h1M323 554.47h1M112 558.97h1m57 0h1m355 0h1M244 567.98h1m44 0h1M266 572.49h1m63 0h1m2 0h1m138 0h1M325 576.99h1M311 581.50h1m4 0h1m84 0h1M356 586.00h1M184 590.51h1M297 604.02h1M268 608.53h1m71 0h1M282 617.54h1M346 622.04h1M265 626.55h1m194 0h1M405 635.56h1M518 640.06h1M239 644.57h1m73 0h1M351 653.58h1M361 662.59h1m37 0h1M108 667.09h1m203 0h1m216 0h1M229 671.60h1m44 0h1m226 0h1M261 676.10h1M458 680.61h1m55 0h1m37 0h1M243 689.62h1m66 0h1M164 694.12h1m181 0h1m207 0h1M132 698.63h1M480 707.64h1m53 0h1M449 712.14h1M446 716.65h1M232 721.15h1m178 0h1M398 725.66h1M141 730.16h1m144 0h1m97 0h1m67 0h1m48 0h1M500 739.17h1m15 0h1m31 0h1M238 743.68h1m10 0h1m81 0h1m152 0h1M88 748.18h1m322 0h1m27 0h1m62 0h1M414 752.69h1m78 0h1m61 0h1M242 761.70h1m178 0h1M520 766.20h1"/>
<path stroke="#e6ebd7" d="M246 378.77h1m190 0h1m66 0h1M254 392.29h1m48 0h1m25 0h1m192 0h1m10 0h1M70 401.30h1m67 0h1m416 0h1M466 405.80h1m83 0h1M388 410.31h1M116 419.32h1m55 0h1m5 0h1m2 0h1m6 0h1m27 0h1m107 0h2m160 0h1M106 423.82h1m19 0h1m32 0h1m44 0h1m12 0h1m86 0h2m140 0h1M299 428.33h1m8 0h1m102 0h1m128 0h1M264 459.86h1m47 0h1m207 0h1M174 464.37h1m79 0h2m180 0h1M101 477.88h1m69 0h1m106 0h1m41 0h1m1 0h1m17 0h1m74 0h1m20 0h1m33 0h1m8 0h1m22 0h1m23 0h1m15 0h2M537 482.39h1M97 495.90h1m11 0h1m7 0h1m19 0h1m9 0h1m68 0h1m3 0h1m23 0h1m18 0h1m41 0h1m2 0h1m27 0h1m6 0h1m30 0h1M295 500.41h1M77 504.91h1M80 509.42h1m94 0h1M110 513.92h1m395 0h1M311 518.43h1m188 0h1M331 522.93h1M100 540.95h1m1 0h1m98 0h1m37 0h1m132 0h1m144 0h1M549 545.46h1M242 549.96h1m6 0h1m27 0h1m69 0h1m32 0h1M75 572.49h1m14 0h1m16 0h1m60 0h1m4 0h1m86 0h1m18 0h1m32 0h1m23 0h1m80 0h1m29 0h2M116 576.99h1m114 0h1m141 0h1M126 581.50h1m106 0h1m44 0h1m46 0h1m18 0h1m7 0h1m37 0h1m45 0h1m20 0h1m16 0h1M467 590.51h1m31 0h1M222 595.01h1m309 0h1M78 599.52h1m100 0h1m261 0h1M210 604.02h1m70 0h1m12 0h1m38 0h1m17 0h1m36 0h1m46 0h1m81 0h2M79 608.53h1m2 0h2m115 0h1m73 0h1m190 0h1m54 0h1M109 613.03h1m90 0h1M304 631.05h1m161 0h1M148 635.56h1m60 0h1m235 0h1M71 640.06h1m226 0h1m91 0h1m92 0h1M296 649.07h1M117 653.58h1m259 0h1M77 658.08h1m22 0h1m13 0h2m19 0h1m7 0h1m216 0h1M122 667.09h1m344 0h1m81 0h1M98 671.60h1m75 0h1M80 676.10h1M123 680.61h1m9 0h1m74 0h1m19 0h1M330 694.12h1M78 707.64h1m321 0h1m38 0h1m34 0h1m22 0h1M211 721.15h1m50 0h1m21 0h1m170 0h1m2 0h1m17 0h1m47 0h1M312 725.66h1m107 0h1M221 730.16h1m154 0h1m117 0h1M205 734.67h1m108 0h1m82 0h1m105 0h1M185 739.17h1m115 0h1m215 0h1M363 743.68h1m61 0h1M161 748.18h1m180 0h1m66 0h1M258 752.69h1m32 0h1M140 761.70h1m15 0h1m346 0h1M273 766.20h1m21 0h2m169 0h1"/>
<path stroke="#dfe0d4" d="M360 378.77h1M82 401.30h1m22 0h2m18 0h1m101 0h1M532 410.31h1M71 419.32h1m14 0h1m15 0h1m33 0h1m8 0h1m250 0h1M95 423.82h1m32 0h1m24 0h1m43 0h1m4 0h1m4 0h1m52 0h1M288 441.84h1M482 455.36h1M193 473.38h1M75 477.88h1m271 0h1m6 0h1m83 0h1m24 0h1m51 0h1M390 482.39h1M381 491.40h1M87 495.90h1m189 0h1m97 0h1m38 0h1M278 500.41h1m7 0h1m64 0h1M269 504.91h1M391 509.42h1M393 513.92h1M528 536.45h1M90 540.95h1m54 0h1m32 0h1m98 0h1m20 0h1M307 549.96h1m9 0h1m123 0h1m19 0h1M358 581.50h1m2 0h1m19 0h1m151 0h1m3 0h1M199 590.51h1M139 599.52h1M142 604.02h1m106 0h1m112 0h1m4 0h1M284 608.53h1m149 0h1m1 0h1M94 613.03h1M490 622.04h1M256 631.05h1m274 0h1M97 635.56h1m56 0h1m184 0h1m77 0h1M406 640.06h1M299 649.07h1m236 0h1M72 653.58h1m117 0h1m5 0h1m42 0h1m37 0h1M259 658.08h1m99 0h1m104 0h1m10 0h1m63 0h1M139 662.59h1M520 676.10h1M140 689.62h1M427 707.64h1m7 0h1m40 0h1m6 0h1m2 0h1m13 0h1m14 0h1M128 712.14h1m8 0h1m72 0h1m78 0h1M242 721.15h1m35 0h1m170 0h1m44 0h1M310 725.66h1M90 730.16h1m2 0h1m5 0h2m14 0h1m97 0h1m38 0h1m65 0h1m1 0h1m1 0h1m2 0h1m68 0h1m41 0h1m14 0h1m15 0h1m11 0h1m24 0h1m8 0h1M107 734.67h1m5 0h1m110 0h1m30 0h1m4 0h1m34 0h1m56 0h1m130 0h1m35 0h1m6 0h1M248 739.17h1m15 0h1m20 0h1m31 0h2m36 0h1m35 0h1m26 0h1m10 0h1m80 0h1m41 0h1M103 743.68h1m34 0h1m26 0h1m62 0h1m19 0h1m51 0h1m27 0h1m23 0h1m51 0h1m24 0h1m44 0h1m27 0h1m23 0h1m7 0h1m3 0h1M89 748.18h1m36 0h1m26 0h1m28 0h1m9 0h1m54 0h1m54 0h1m18 0h1m61 0h2m43 0h2m10 0h1m38 0h1M248 752.69h1m40 0h1m69 0h1m26 0h1m28 0h1m76 0h1M144 761.70h2m35 0h1m10 0h1m22 0h1m14 0h1m85 0h1m54 0h1m115 0h1m4 0h1m9 0h1M181 766.20h1m71 0h1m122 0h1m48 0h1m66 0h1m21 0h1"/>
<path stroke="#e2d4c5" d="M520 378.77h1M438 392.29h1M76 401.30h1m85 0h1m28 0h1m3 0h1m25 0h1m23 0h1M104 419.32h1m19 0h1m88 0h1m33 0h1m149 0h1M123 423.82h1m43 0h1M193 455.36h1m53 0h1m2 0h1M381 459.86h1M315 464.37h1m146 0h1M184 473.38h1M84 477.88h1m161 0h1m6 0h1m50 0h1m1 0h1m218 0h1m31 0h1M312 491.40h1M161 495.90h1m12 0h1m16 0h1m2 0h1m34 0h1m99 0h1M71 540.95h2m37 0h1m9 0h1m34 0h1m192 0h1m187 0h1M444 545.46h1M232 549.96h1m2 0h1m50 0h1m49 0h1M126 558.97h1M92 572.49h1m43 0h1m68 0h1m24 0h1m41 0h1m3 0h1m220 0h1M181 581.50h2m32 0h1m22 0h1m8 0h1m12 0h1m1 0h1m207 0h1m44 0h1M292 586.00h1m239 0h1M195 604.02h2m54 0h1m10 0h1m10 0h1m132 0h1m108 0h1m42 0h1M232 608.53h1m133 0h1M132 631.05h1m22 0h1M225 635.56h1m119 0h1M190 640.06h1m239 0h2m110 0h1M257 649.07h1m224 0h1m5 0h1m16 0h1M164 653.58h1m17 0h2M92 658.08h1m46 0h1m144 0h1m28 0h1m41 0h1m39 0h1m41 0h1m46 0h2m12 0h1m7 0h1m4 0h1m45 0h1M466 667.09h1M321 676.10h1m199 0h1M155 680.61h1M183 689.62h1m41 0h1m6 0h1m167 0h1M458 707.64h1m8 0h1M69 712.14h1m62 0h1m253 0h1m120 0h1M144 721.15h1m109 0h1m40 0h1m32 0h1m49 0h1m17 0h1M189 725.66h1m127 0h1m6 0h1M120 730.16h1m299 0h1M114 734.67h1m62 0h1m51 0h1m198 0h1m8 0h1M281 739.17h1m31 0h1m9 0h1m44 0h1m6 0h1m76 0h1m35 0h1m2 0h1M69 743.68h1m63 0h1m7 0h1m9 0h1m48 0h1m128 0h1m10 0h1m4 0h1m24 0h1m162 0h1m22 0h1M193 748.18h1m142 0h1M185 752.69h1m48 0h1m145 0h1m126 0h1M227 761.70h1m28 0h1m65 0h1m47 0h1m18 0h1m21 0h1M138 766.20h1m299 0h1m52 0h1"/>
<path stroke="#c1e4ef" d="M81 383.28h1m5 0h1m1 0h1m12 0h1m21 0h1m16 0h1m15 0h1m2 0h1m14 0h2m18 0h1m8 0h1m7 0h1m1 0h2m16 0h1m3 0h1m24 0h1m21 0h1m4 0h2m3 0h1m18 0h1m1 0h2m5 0h2m1 0h1m8 0h4m9 0h1m8 0h1m4 0h1m5 0h1m13 0h1m2 0h2m8 0h7m1 0h3m1 0h12m1 0h14m2 0h7m1 0h6m1 0h7m2 0h10m3 0h5m1 0h15m3 0h11m2 0h4m2 0h5m1 0h4m1 0h6m2 0h4m3 0h19M76 387.78h1m6 0h1m35 0h1m113 0h1m1 0h1m2 0h3m2 0h1m4 0h1m2 0h1m6 0h2m2 0h2m4 0h6m1 0h1m6 0h2m6 0h4m2 0h9m1 0h2m1 0h1m3 0h1m2 0h3m1 0h2m1 0h1m1 0h2m2 0h5m2 0h2m2 0h1m1 0h2m5 0h5m1 0h4m4 0h1m1 0h1m1 0h6m1 0h2m4 0h2m2 0h2m1 0h7m1 0h7m1 0h3m1 0h17m2 0h9m1 0h10m2 0h1m2 0h4m2 0h2m1 0h13m1 0h10m2 0h5m1 0h5m2 0h8m2 0h1m2 0h8m1 0h8m1 0h6m2 0h21M246 392.29h1m85 0h1m23 0h1m25 0h1m56 0h2m24 0h1m1 0h1m47 0h1m29 0h1M491 405.80h1m30 0h1M241 428.33h1m52 0h1m3 0h1m52 0h1m10 0h1m1 0h1m117 0h1M440 459.86h1M405 468.87h1M382 504.91h1M72 509.42h1m56 0h1m32 0h1m82 0h8m1 0h1m2 0h2m3 0h1m5 0h4m1 0h2m2 0h1m7 0h1m4 0h6m1 0h4m2 0h3m1 0h3m3 0h1m2 0h5m3 0h4m1 0h3m3 0h1m2 0h1m2 0h3m5 0h1m3 0h1m1 0h4m3 0h3m2 0h1m8 0h1m3 0h1m3 0h3m5 0h1m2 0h1m11 0h1m5 0h1m2 0h3m3 0h2m2 0h2m3 0h2m1 0h3m4 0h1m1 0h1m4 0h1m10 0h1m25 0h6m20 0h1m1 0h1m5 0h4m9 0h1m8 0h2m1 0h1m3 0h4m2 0h1m2 0h1M356 513.92h1m42 0h1m25 0h1M257 518.43h1m265 0h1M87 554.47h1m99 0h1m248 0h1M458 558.97h1m28 0h2m48 0h1M71 576.99h3m2 0h5m4 0h6m4 0h1m6 0h3m3 0h1m1 0h1m3 0h1m2 0h4m3 0h1m1 0h5m5 0h2m3 0h1m6 0h4m5 0h1m1 0h1m1 0h3m1 0h1m1 0h1m2 0h3m3 0h1m1 0h1m3 0h1m2 0h3m4 0h2m3 0h4m8 0h5m7 0h1m4 0h5m13 0h1m8 0h1m9 0h1m21 0h1m15 0h1m1 0h1m16 0h1m17 0h1m2 0h1m1 0h1m3 0h1m5 0h1m5 0h1m23 0h1m10 0h13m1 0h1m1 0h6m1 0h2m1 0h25m1 0h2m1 0h1m2 0h10m2 0h14m1 0h4m3 0h1m1 0h5m1 0h9m1 0h2m1 0h11m2 0h10m1 0h8m2 0h18M211 590.51h1M456 595.01h1m43 0h1M68 613.03h7m1 0h3m1 0h3m1 0h4m3 0h1m7 0h7m1 0h1m4 0h1m2 0h1m1 0h1m1 0h2m2 0h3m14 0h1m2 0h2m3 0h6m3 0h1m1 0h1m3 0h1m3 0h2m7 0h1m1 0h1m1 0h2m1 0h2m3 0h2m1 0h1m4 0h1m6 0h2m1 0h5m1 0h4m5 0h1m6 0h3m13 0h1m29 0h1m9 0h1m11 0h1m4 0h1m3 0h1m5 0h1m2 0h1m8 0h1m4 0h3m2 0h1m2 0h2m3 0h1m24 0h2m9 0h2m20 0h1m2 0h1m1 0h1m2 0h1m2 0h2m1 0h4m1 0h2m5 0h3m4 0h1m2 0h2m3 0h2m1 0h10m1 0h2m3 0h1m1 0h5m5 0h9m1 0h2m6 0h2m1 0h2m6 0h1m1 0h1m3 0h3m4 0h1m1 0h5m1 0h5m2 0h1m1 0h1m1 0h2m3 0h1m2 0h4m3 0h2m4 0h3M82 644.57h4m1 0h1m3 0h1m2 0h1m2 0h1m15 0h5m5 0h1m2 0h1m1 0h1m3 0h2m2 0h4m7 0h1m4 0h1m4 0h1m2 0h2m3 0h1m6 0h1m6 0h3m1 0h4m5 0h3m8 0h1m6 0h1m1 0h1m3 0h1m4 0h1m5 0h1m15 0h1m14 0h1m9 0h1m54 0h1m17 0h1m36 0h1m6 0h1m9 0h6m2 0h4m4 0h3m2 0h1m3 0h2m5 0h1m3 0h1m1 0h8m3 0h6m2 0h2m2 0h1m1 0h1m2 0h1m2 0h1m1 0h7m2 0h1m1 0h1m1 0h3m4 0h3m9 0h4m1 0h9m4 0h1m1 0h1m2 0h2m1 0h1m1 0h1m2 0h4m1 0h1m1 0h1m1 0h1m5 0h2m1 0h2m2 0h1m2 0h2M68 662.59h1m11 0h1m2 0h1m6 0h1m6 0h1m2 0h2m5 0h2m2 0h1m8 0h1m4 0h1m8 0h1m2 0h1m14 0h2m22 0h1m23 0h1m2 0h1m9 0h1m10 0h1m12 0h3m11 0h1m2 0h3m4 0h1m12 0h1m2 0h1m11 0h1m8 0h1m12 0h1m6 0h2m3 0h1m4 0h1m10 0h1m13 0h1m2 0h1m14 0h1m4 0h1m10 0h2m2 0h2m12 0h1m5 0h1m2 0h1m2 0h1m1 0h1m6 0h1m7 0h1m2 0h1m4 0h1m5 0h1m2 0h1m4 0h1m7 0h3m3 0h1m3 0h1m4 0h2m3 0h1m10 0h1m2 0h3m10 0h2m5 0h1m3 0h1m3 0h5m1 0h2m4 0h1m2 0h3m1 0h2m2 0h1m5 0h2M538 667.09h1M175 671.60h1M161 676.10h1m37 0h1m223 0h1m47 0h1M80 680.61h1m8 0h1m100 0h1M112 698.63h1m125 0h1M239 703.13h2m106 0h1M279 757.19h1m9 0h1"/>
<path stroke="#97c3d9" d="M233 392.29h1m46 0h1m34 0h1m15 0h1m3 0h1m9 0h1m8 0h1m26 0h1m31 0h1m2 0h1m3 0h1m51 0h1m6 0h1m9 0h1m3 0h1m6 0h1m16 0h1M292 405.80h1m34 0h1m26 0h1m3 0h1m37 0h1m42 0h1m15 0h1m16 0h1m8 0h1m5 0h1m7 0h1m6 0h1m2 0h1m4 0h1M246 459.86h1m25 0h1m3 0h1m16 0h1m26 0h1m64 0h1m50 0h1m29 0h1m34 0h2m6 0h1m40 0h1m6 0h1M412 468.87h1m3 0h1m61 0h1m16 0h1m31 0h1m14 0h1m13 0h1M294 518.43h1m38 0h1m72 0h1m16 0h1m34 0h1m31 0h1m2 0h1M92 554.47h1m13 0h2m28 0h1m5 0h1m10 0h1m1 0h1m8 0h1m4 0h1m11 0h1m1 0h1m6 0h1m1 0h1m24 0h1m3 0h1m176 0h1m1 0h1m4 0h1m38 0h1m75 0h1M82 590.51h1m59 0h1m10 0h1m3 0h1m24 0h1m34 0h1m6 0h1m1 0h1m15 0h1m189 0h1m31 0h1m25 0h1m2 0h1m28 0h1m8 0h1m7 0h1m8 0h1M169 595.01h1m234 0h1m5 0h2m15 0h1m26 0h1m20 0h1m45 0h1M87 622.04h1m12 0h1m12 0h1m3 0h1m22 0h1m6 0h1m6 0h1m3 0h2m1 0h1m3 0h1m14 0h1m21 0h2m2 0h1m129 0h1M185 676.10h1m23 0h1m185 0h1m7 0h1m20 0h1m86 0h2m16 0h1m14 0h1M80 725.66h1m4 0h2m6 0h1m5 0h1m6 0h1m5 0h1m5 0h1m11 0h1m55 0h1m7 0h1m8 0h1m15 0h1m2 0h1m3 0h1m37 0h1m1 0h1m2 0h1m36 0h1m22 0h1m2 0h1m20 0h1"/>
<path stroke="#95b6c9" d="M234 392.29h1m123 0h1m6 0h1m40 0h1m43 0h1m44 0h1M258 405.80h1m58 0h1m71 0h1m44 0h1m47 0h1m48 0h1M249 459.86h1m17 0h1m12 0h1m50 0h1m2 0h1m9 0h1m5 0h1m18 0h1m99 0h1m7 0h1m75 0h1M143 468.87h1m266 0h1m13 0h1m18 0h1m80 0h2m3 0h2M186 518.43h1m99 0h1m10 0h1m1 0h1m2 0h2m65 0h1m11 0h1m9 0h1m1 0h1m70 0h1m43 0h1M113 554.47h1m52 0h1m8 0h1m15 0h1m242 0h1m36 0h1m20 0h1m11 0h1m3 0h1m2 0h1m2 0h1M152 590.51h1m16 0h1m5 0h1m17 0h1m26 0h1m254 0h1m6 0h1m29 0h1m15 0h1M164 595.01h1m9 0h1m24 0h1m1 0h1m243 0h1m40 0h1m5 0h1m31 0h1m5 0h1m9 0h1M98 622.04h1m15 0h1m5 0h1m84 0h1m8 0h1m231 0h1M116 676.10h1m38 0h1m61 0h1m240 0h1m7 0h1m68 0h1m14 0h1M132 725.66h1m2 0h1m41 0h1m49 0h1m11 0h1m109 0h1m205 0h1"/>
<path stroke="#9ccbe1" d="M235 392.29h1m5 0h1m5 0h1m20 0h1m3 0h1m11 0h1m9 0h1m2 0h1m42 0h2m4 0h1m20 0h1m42 0h1m15 0h1m15 0h1m11 0h1m23 0h1m11 0h1m14 0h1m17 0h1m16 0h1M253 405.80h1m157 0h1m31 0h1m2 0h1m6 0h1m9 0h1m28 0h1m6 0h1m15 0h1m19 0h1m20 0h1M269 459.86h1m17 0h2m7 0h1m10 0h1m29 0h1m26 0h1m35 0h1m23 0h1m14 0h1m20 0h1m4 0h1m26 0h1m4 0h1m10 0h1m25 0h1m2 0h1m17 0h1M436 468.87h1m39 0h1M234 518.43h1m90 0h1m90 0h1m116 0h1M185 522.93h1m337 0h1M68 554.47h1m2 0h1m1 0h1m5 0h1m6 0h1m2 0h1m18 0h1m2 0h1m11 0h1m9 0h1m5 0h1m8 0h1m1 0h1m1 0h1m21 0h1m13 0h1m4 0h1m8 0h1m11 0h1m4 0h1m2 0h1m2 0h1m131 0h1m112 0h1m9 0h1m45 0h1M78 590.51h1m5 0h1m29 0h1m4 0h1m4 0h1m13 0h1m10 0h1m56 0h1m248 0h1m38 0h1M157 595.01h1m354 0h1M153 622.04h1m32 0h1m6 0h1m33 0h1m2 0h1M69 676.10h1m35 0h1m1 0h1m35 0h1m22 0h1m230 0h1m50 0h1m3 0h1m20 0h1m23 0h1m9 0h1m17 0h1m8 0h1m12 0h1M78 725.66h2m49 0h1m22 0h1m28 0h1m19 0h1m11 0h1m4 0h1m1 0h1m12 0h1m100 0h1m1 0h1m47 0h2"/>
<path stroke="#8cbfdb" d="M236 392.29h1m6 0h1m5 0h1m3 0h1m9 0h1m3 0h1m1 0h1m21 0h1m21 0h1m24 0h1m3 0h1m17 0h2m21 0h1m34 0h1m4 0h1m1 0h1m40 0h1m14 0h1m6 0h1m2 0h1m2 0h1m4 0h1m24 0h1m28 0h1m2 0h1m1 0h1M401 405.80h2m2 0h1m13 0h2m9 0h1m9 0h1m1 0h1m15 0h1m6 0h1m20 0h1m3 0h1m12 0h1m2 0h1m22 0h1m6 0h1m16 0h1m1 0h1M260 459.86h1m1 0h1m7 0h1m18 0h1m58 0h1m4 0h1m6 0h1m36 0h3m9 0h1m18 0h1m3 0h1m9 0h1m7 0h1m2 0h1m2 0h1m18 0h1m7 0h1m1 0h1m26 0h1m4 0h1m7 0h1m3 0h1m2 0h1m5 0h1m8 0h1M419 468.87h2m16 0h2m30 0h1m11 0h1m39 0h1m25 0h1m4 0h1M240 518.43h1m2 0h1m54 0h1m25 0h1m39 0h1m33 0h1m4 0h1m8 0h1m4 0h1m2 0h1m25 0h1m13 0h1m2 0h1m24 0h1m5 0h1m44 0h1m9 0h1M69 554.47h2m10 0h1m1 0h3m5 0h1m1 0h2m3 0h3m3 0h1m5 0h1m3 0h2m2 0h2m6 0h1m5 0h1m1 0h1m8 0h2m1 0h1m4 0h1m15 0h2m10 0h2m1 0h1m11 0h2m2 0h1m4 0h1m2 0h1m3 0h3m11 0h1m1 0h1m1 0h3m164 0h1m12 0h1m6 0h1m14 0h1m2 0h1m22 0h1m61 0h1m38 0h2M71 590.51h1m21 0h1m17 0h1m1 0h1m44 0h1m2 0h2m34 0h1m7 0h1m7 0h1m230 0h1m3 0h1m25 0h1m68 0h2m6 0h1M126 595.01h1m53 0h1m25 0h1m217 0h1m43 0h1m30 0h1m13 0h1m14 0h1m8 0h1m10 0h1M75 622.04h1m3 0h1m10 0h1m4 0h1m1 0h1m24 0h1m5 0h1m9 0h1m5 0h2m2 0h1m11 0h1m1 0h1m6 0h1m5 0h3m12 0h1m1 0h1m5 0h1m9 0h1m6 0h1m3 0h1m1 0h1m4 0h1m281 0h1m49 0h1M112 676.10h1m74 0h1m3 0h1m219 0h1m9 0h1m14 0h1m10 0h1m39 0h1m10 0h1m3 0h1m13 0h1m9 0h2m9 0h1m17 0h1M69 725.66h1m3 0h1m1 0h1m1 0h1m11 0h1m1 0h1m2 0h1m5 0h1m4 0h1m3 0h1m15 0h1m7 0h2m2 0h1m4 0h2m1 0h1m2 0h1m1 0h1m3 0h2m1 0h2m11 0h1m1 0h2m4 0h1m5 0h1m15 0h1m1 0h1m12 0h2m4 0h1m7 0h1m17 0h2m18 0h1m3 0h1m35 0h1m40 0h1m34 0h1m59 0h1"/>
<path stroke="#78abcf" d="M256 392.29h2m16 0h1m4 0h1m1 0h1m5 0h1m10 0h1m13 0h1m8 0h1m40 0h1m49 0h1m6 0h1m31 0h1m9 0h1m9 0h1m32 0h1M272 405.80h1m38 0h1m14 0h1m22 0h1m45 0h1m3 0h2m5 0h1m1 0h1m1 0h1m2 0h1m15 0h1m7 0h2m2 0h1m2 0h1m6 0h1m5 0h1m1 0h1m4 0h1m9 0h2m9 0h1m3 0h1m4 0h1m5 0h1m3 0h1m2 0h1m19 0h2m1 0h1m6 0h3m1 0h1m2 0h1m9 0h1M247 459.86h1m13 0h1m15 0h1m32 0h1m3 0h1m6 0h2m7 0h1m65 0h1m10 0h1m7 0h1m30 0h1m29 0h1m7 0h1m18 0h1m36 0h1m5 0h1M279 468.87h1m55 0h1m4 0h1m5 0h1m9 0h1m36 0h1m8 0h1m3 0h1m6 0h1m3 0h1m4 0h1m9 0h1m2 0h1m13 0h1m2 0h2m11 0h1m1 0h2m5 0h1m5 0h1m1 0h2m6 0h1m6 0h3m4 0h1m2 0h1m1 0h1m1 0h1m6 0h1m1 0h1m5 0h1m1 0h1m7 0h1m8 0h1m3 0h1m7 0h1M241 518.43h1m4 0h1m5 0h1m8 0h1m12 0h2m8 0h1m11 0h1m59 0h1m26 0h2m4 0h1m12 0h1m4 0h1m6 0h1m6 0h1m44 0h1m7 0h1m1 0h1m2 0h1m2 0h1m3 0h1m2 0h1m5 0h1m20 0h1m8 0h1m8 0h2m17 0h1m2 0h2M72 554.47h1m5 0h1m3 0h1m5 0h1m1 0h1m11 0h2m8 0h1m8 0h2m2 0h1m4 0h2m6 0h1m18 0h1m5 0h1m35 0h1m1 0h1m3 0h1m9 0h1m11 0h1m168 0h1m34 0h1m11 0h1m33 0h1m1 0h1m16 0h1m58 0h1M104 590.51h1m15 0h1m25 0h1m9 0h1m34 0h2m23 0h1m181 0h1m8 0h1m17 0h1m2 0h1m1 0h1m4 0h1m13 0h1m8 0h1m6 0h1m11 0h2m2 0h1m13 0h2m5 0h1m7 0h1m27 0h1M90 595.01h1m39 0h1m50 0h1m11 0h1m19 0h1m11 0h1m47 0h1m122 0h1m8 0h1m13 0h1m3 0h1m4 0h1m10 0h1m8 0h1m14 0h1m15 0h1m7 0h1m19 0h2m2 0h1m7 0h1m15 0h1m21 0h1M72 622.04h1m1 0h1m13 0h1m2 0h1m2 0h1m10 0h1m9 0h2m2 0h1m3 0h1m5 0h1m1 0h3m2 0h1m14 0h2m2 0h2m10 0h2m2 0h1m1 0h1m7 0h1m1 0h1m3 0h1m1 0h1m17 0h1m9 0h1m4 0h1m2 0h1m11 0h1m2 0h1m12 0h1m90 0h1m165 0h1M81 676.10h1m67 0h1m27 0h1m296 0h1m17 0h1m35 0h1M70 725.66h2m2 0h1m1 0h1m10 0h1m4 0h1m11 0h1m2 0h1m5 0h3m1 0h1m4 0h1m1 0h1m3 0h1m12 0h1m4 0h2m3 0h1m1 0h1m2 0h1m2 0h1m1 0h1m1 0h1m4 0h1m7 0h1m3 0h1m1 0h2m7 0h1m3 0h1m10 0h1m1 0h1m1 0h1m3 0h1m8 0h1m1 0h1m4 0h1m1 0h1m16 0h1m2 0h1m12 0h1m11 0h1m6 0h1m1 0h1m32 0h1m15 0h1m5 0h1m5 0h1m7 0h1m4 0h2m18 0h1m8 0h1m3 0h1"/>
<path stroke="#6f8ab4" d="M260 392.29h1m14 0h1M273 405.80h1m28 0h1m64 0h1m23 0h1m12 0h1m2 0h1m6 0h1m9 0h1m6 0h1m20 0h1m7 0h1m6 0h2m10 0h2m37 0h1m6 0h2M318 459.86h1m93 0h1m32 0h1m48 0h1m16 0h1m9 0h1m11 0h1M260 468.87h1m53 0h1m1 0h1m11 0h1m49 0h1m10 0h1m5 0h1m3 0h3m1 0h2m4 0h1m5 0h1m13 0h1m1 0h1m2 0h1m4 0h2m1 0h1m2 0h1m5 0h1m2 0h1m4 0h6m1 0h1m5 0h2m15 0h1m2 0h3m1 0h1m3 0h4m4 0h1m1 0h1m1 0h2m1 0h1m1 0h1m4 0h2m7 0h1m3 0h1m3 0h2m5 0h1m3 0h1m2 0h1M244 518.43h1m3 0h2m8 0h1m14 0h1m3 0h1m2 0h1m2 0h1m9 0h1m29 0h1m3 0h1m4 0h1m3 0h1m2 0h1m4 0h1m6 0h1m14 0h1m6 0h1m6 0h1m20 0h1m8 0h1m7 0h2m11 0h1m5 0h1m5 0h3m3 0h1m1 0h1m2 0h4m3 0h1m23 0h1m12 0h1m4 0h4m19 0h1m9 0h1m3 0h1m2 0h1m7 0h1m3 0h1M145 554.47h1m58 0h1m245 0h1M72 590.51h1m35 0h1m14 0h1m62 0h1m2 0h1m10 0h1m14 0h1m220 0h1m8 0h1m80 0h1m27 0h1M78 595.01h1m22 0h1m3 0h1m2 0h1m3 0h1m2 0h5m2 0h1m11 0h1m2 0h1m6 0h1m3 0h2m12 0h1m9 0h1m6 0h1m9 0h1m10 0h1m4 0h1m2 0h1m10 0h1m3 0h1m5 0h1m50 0h1m24 0h1m20 0h1m52 0h1m20 0h3m4 0h1m5 0h5m13 0h1m1 0h4m1 0h1m2 0h2m10 0h1m1 0h1m1 0h4m3 0h3m3 0h3m9 0h2m9 0h1m4 0h1m4 0h3m4 0h1m3 0h1m2 0h1m5 0h1m2 0h1m2 0h1m6 0h1m5 0h6m6 0h3m1 0h1M68 622.04h1m1 0h1m9 0h1m2 0h1m2 0h1m2 0h1m2 0h2m7 0h4m2 0h3m1 0h1m14 0h1m7 0h1m2 0h1m1 0h1m2 0h2m5 0h2m15 0h1m7 0h1m9 0h2m10 0h2m13 0h2m5 0h1m4 0h2m4 0h1m182 0h1m28 0h1m24 0h1m14 0h1m34 0h1m9 0h1M82 676.10h1m342 0h1m20 0h1M95 725.66h1m20 0h1m14 0h1m32 0h1m1 0h2m3 0h1m24 0h2m11 0h1m1 0h1m16 0h1m39 0h1m32 0h1m62 0h1m1 0h1m19 0h1"/>
<path stroke="#a0d0e4" d="M319 392.29h1m17 0h1m41 0h1m11 0h1m3 0h1m37 0h1m7 0h1m4 0h2m4 0h1m50 0h1M250 405.80h1m211 0h1m30 0h1m57 0h1M263 459.86h1m156 0h1m121 0h1M411 518.43h1m12 0h1m45 0h1M238 522.93h2m3 0h1m4 0h2m5 0h1m3 0h1m4 0h1m2 0h2m3 0h1m1 0h2m5 0h2m3 0h1m3 0h1m9 0h1m9 0h1m5 0h1m2 0h1m2 0h1m3 0h1m9 0h1m14 0h2m5 0h2m8 0h1m1 0h1m2 0h1m15 0h1m2 0h1m1 0h1m1 0h5m1 0h3m2 0h1m1 0h3m1 0h1m6 0h4m1 0h4m2 0h3m4 0h2m3 0h6m3 0h1m3 0h6m1 0h1m7 0h2m5 0h4m1 0h1m3 0h1m3 0h1m13 0h1m1 0h1m2 0h1m3 0h1m3 0h1m3 0h1m1 0h1m5 0h1m6 0h1m1 0h1m6 0h3m3 0h5M74 554.47h1m1 0h1m3 0h1m24 0h1m29 0h1m20 0h1m263 0h1m81 0h1m14 0h1m38 0h1M125 590.51h1m270 0h1m12 0h1m32 0h1M75 595.01h1M121 622.04h1m8 0h1M101 676.10h1m105 0h1m316 0h1m5 0h1M68 698.63h1m3 0h3m1 0h1m1 0h1m6 0h2m3 0h2m1 0h3m5 0h5m2 0h1m6 0h1m2 0h3m5 0h1m8 0h1m4 0h4m6 0h1m1 0h1m3 0h1m2 0h2m2 0h1m8 0h1m1 0h3m1 0h1m2 0h2m9 0h2m1 0h3m4 0h1m1 0h2m4 0h4m2 0h1m1 0h3m1 0h6m1 0h2m3 0h1m5 0h1m18 0h1m2 0h3m5 0h1m1 0h3m2 0h1m5 0h2m3 0h1m3 0h1m12 0h1m12 0h2m2 0h1m8 0h1m8 0h1m4 0h1m5 0h2m31 0h3m1 0h1m2 0h1M84 725.66h1m16 0h1m19 0h1m1 0h1m25 0h1m106 0h1m2 0h1m91 0h1m4 0h1"/>
<path stroke="#a4d3e5" d="M398 392.29h1m102 0h2m7 0h2m40 0h1M409 405.80h1m60 0h1M413 459.86h1m7 0h1m52 0h1m6 0h1m33 0h1m2 0h1m20 0h1M418 468.87h1m27 0h1m44 0h1M340 518.43h1m170 0h1M419 522.93h1m99 0h1m31 0h1M120 554.47h1m6 0h1m12 0h1m32 0h1m4 0h1m17 0h1m10 0h1m5 0h1m254 0h1m81 0h1M112 590.51h1m117 0h1m278 0h1M138 595.01h1m20 0h1m329 0h1m59 0h1M172 622.04h1m15 0h1m31 0h1M198 676.10h1m243 0h1M118 680.61h1M87 698.63h1m126 0h2m23 0h1m74 0h1M88 725.66h1m96 0h1m7 0h1m111 0h1m73 0h1"/>
<path stroke="#c7e7f1" d="M449 392.29h1m32 0h1M350 428.33h1M419 459.86h1M282 518.43h1M75 554.47h1m430 0h1M404 558.97h1M402 567.98h2M121 576.99h1m235 0h1M118 622.04h1M313 626.55h2M72 662.59h1m139 0h1m200 0h1m31 0h1M365 725.66h1"/>
<path stroke="#cce9f2" d="M497 392.29h1M483 405.80h1M526 459.86h1M413 482.39h1M100 504.91h1M366 509.42h1M93 576.99h2M140 590.51h1m35 0h1M319 617.54h1M217 658.08h1"/>
<path stroke="#ceeaf3" d="M555 392.29h1M545 405.80h1M71 455.36h1m2 0h1m7 0h1m4 0h1m12 0h1m15 0h1m4 0h3m1 0h1m2 0h2m8 0h1m25 0h3m1 0h2m1 0h1m4 0h1m12 0h1m5 0h3m6 0h1m6 0h1m1 0h1m7 0h2m2 0h1m1 0h1m3 0h2m2 0h1m1 0h2m4 0h1m7 0h2m2 0h6m3 0h8m1 0h6m1 0h1m1 0h2m2 0h7m1 0h1m2 0h2m2 0h1m1 0h1m2 0h2m1 0h4m3 0h4m4 0h1m4 0h2m1 0h1m2 0h2m7 0h2m4 0h1m1 0h3m1 0h2m1 0h3m3 0h9m4 0h3m2 0h1m3 0h2m1 0h6m2 0h1m2 0h15m3 0h3m3 0h28m5 0h7m1 0h6m5 0h4m2 0h4m2 0h5m1 0h1m1 0h1m1 0h16m3 0h21m1 0h5m5 0h1m2 0h6M177 473.38h1M269 500.41h1M489 522.93h1M147 554.47h1m291 0h1M99 576.99h1M68 586.00h4m1 0h3m1 0h24m1 0h6m1 0h6m1 0h4m1 0h3m1 0h3m1 0h3m2 0h1m3 0h1m2 0h5m1 0h13m1 0h3m2 0h30m1 0h2m1 0h3m1 0h14m1 0h2m1 0h9m1 0h2m11 0h1m2 0h1m4 0h1m8 0h2m6 0h1m2 0h2m6 0h1m1 0h1m6 0h2m43 0h1m3 0h1m2 0h2m2 0h1m11 0h2m1 0h1m1 0h1m25 0h1m6 0h6m4 0h1m4 0h2m1 0h1m3 0h1m1 0h2m2 0h1m2 0h1m2 0h1m4 0h1m1 0h6m1 0h1m1 0h5m2 0h2m6 0h1m1 0h2m1 0h5m3 0h2m4 0h9m12 0h3m3 0h1m4 0h3m2 0h2m3 0h4m1 0h1m1 0h1m4 0h1m5 0h5m1 0h1m9 0h3M183 595.01h1m369 0h1M70 599.52h1m3 0h1M76 622.04h1m151 0h1M290 626.55h1M68 631.05h1m1 0h2m1 0h8m1 0h8m1 0h1m2 0h4m4 0h29m3 0h2m3 0h4m1 0h3m6 0h2m1 0h2m1 0h3m1 0h1m1 0h2m1 0h2m1 0h1m2 0h3m1 0h8m1 0h12m1 0h6m1 0h7m2 0h15m5 0h1m2 0h1m2 0h1m2 0h1m14 0h1m11 0h1m15 0h1m12 0h1m15 0h1m27 0h1m34 0h1m14 0h2m2 0h1m4 0h4m5 0h5m4 0h5m1 0h1m2 0h2m1 0h4m2 0h2m4 0h5m3 0h1m4 0h3m3 0h1m1 0h1m5 0h3m1 0h6m1 0h9m1 0h9m1 0h1m9 0h5m1 0h11m1 0h2m1 0h2m3 0h3m4 0h5m4 0h2M68 635.56h3m4 0h1m2 0h2m1 0h1m2 0h5m2 0h2m2 0h1m2 0h4m8 0h1m3 0h1m2 0h1m5 0h8m2 0h4m4 0h1m2 0h1m6 0h3m2 0h1m1 0h6m9 0h1m1 0h1m1 0h1m3 0h9m1 0h6m2 0h2m4 0h4m1 0h1m1 0h1m1 0h1m2 0h3m1 0h1m2 0h1m1 0h2m1 0h1m11 0h1m16 0h1m1 0h1m3 0h1m27 0h1m1 0h1m2 0h1m8 0h1m8 0h1m12 0h1m9 0h1m25 0h1m1 0h1m2 0h1m3 0h2m8 0h1m5 0h2m5 0h3m2 0h4m2 0h1m2 0h2m2 0h3m8 0h1m4 0h1m2 0h2m2 0h1m1 0h2m1 0h1m3 0h1m1 0h2m1 0h3m1 0h1m4 0h6m1 0h1m6 0h3m1 0h1m9 0h1m3 0h1m2 0h2m2 0h1m1 0h1m1 0h1m3 0h3m1 0h2m4 0h3m9 0h2m2 0h5m1 0h3m2 0h1m3 0h1m1 0h2m2 0h2m1 0h2M72 640.06h3m2 0h1m1 0h15m1 0h1m1 0h1m2 0h19m1 0h4m1 0h14m1 0h9m1 0h1m1 0h5m1 0h27m1 0h3m2 0h1m1 0h1m2 0h12m2 0h3m1 0h2m2 0h3m1 0h9m1 0h2m4 0h1m5 0h1m1 0h1m4 0h1m8 0h2m7 0h1m11 0h3m5 0h2m1 0h1m3 0h2m2 0h3m8 0h1m9 0h1m1 0h2m5 0h1m9 0h1m5 0h1m1 0h2m4 0h1m3 0h1m26 0h1m1 0h1m4 0h2m4 0h2m5 0h1m2 0h1m1 0h1m3 0h1m1 0h2m6 0h1m1 0h2m4 0h1m1 0h2m2 0h3m3 0h2m3 0h1m5 0h3m3 0h2m2 0h1m1 0h6m2 0h4m5 0h3m4 0h1m5 0h1m2 0h3m4 0h2m2 0h1m1 0h1m1 0h1m5 0h11m12 0h2m1 0h1m2 0h3m1 0h4M164 644.57h1M68 649.07h5m2 0h4m1 0h2m2 0h7m2 0h2m1 0h9m2 0h35m1 0h7m3 0h5m1 0h3m2 0h12m2 0h16m2 0h6m2 0h6m3 0h1m2 0h3m1 0h7m1 0h3m21 0h1m18 0h1m18 0h1m9 0h1m16 0h1m15 0h1m19 0h1m1 0h1m25 0h1m3 0h1m5 0h1m3 0h1m1 0h1m4 0h3m2 0h1m1 0h3m1 0h1m5 0h3m3 0h4m7 0h1m8 0h2m1 0h1m2 0h2m10 0h1m1 0h1m1 0h2m6 0h1m8 0h2m3 0h3m1 0h2m5 0h1m1 0h2m2 0h1m1 0h5m2 0h2m4 0h1m4 0h1m2 0h1m7 0h3m1 0h1m5 0h2m4 0h2m3 0h1M76 653.58h1m6 0h1m2 0h1m1 0h2m1 0h1m3 0h2m9 0h1m1 0h1m3 0h2m8 0h1m2 0h3m1 0h1m9 0h1m2 0h1m5 0h1m2 0h2m8 0h2m8 0h2m3 0h1m2 0h3m6 0h2m9 0h2m4 0h1m12 0h1m3 0h1m4 0h1m10 0h1m8 0h2m8 0h1m5 0h2m5 0h2m13 0h1m2 0h1m7 0h1m11 0h2m26 0h2m2 0h1m3 0h1m22 0h1m6 0h1m5 0h1m11 0h1m4 0h1m2 0h1m2 0h1m8 0h2m2 0h3m1 0h3m1 0h1m4 0h1m1 0h1m1 0h1m4 0h1m1 0h2m4 0h2m1 0h3m2 0h2m2 0h6m1 0h3m6 0h1m3 0h1m2 0h1m2 0h2m1 0h3m2 0h3m2 0h1m3 0h1m3 0h1m7 0h1m3 0h2m2 0h7m2 0h3m1 0h3m6 0h1m1 0h1m1 0h2m1 0h4m1 0h4M70 658.08h2m1 0h2m4 0h8m1 0h3m2 0h3m3 0h1m5 0h2m2 0h3m1 0h1m3 0h5m1 0h3m1 0h1m2 0h4m2 0h3m2 0h1m4 0h6m3 0h4m1 0h1m2 0h4m2 0h5m1 0h1m4 0h1m1 0h3m1 0h1m2 0h1m8 0h2m1 0h7m2 0h5m1 0h1m4 0h5m1 0h4m15 0h1m34 0h1m15 0h2m11 0h1m19 0h1m66 0h3m5 0h1m1 0h1m2 0h1m2 0h2m1 0h3m7 0h4m4 0h1m4 0h2m3 0h5m2 0h2m2 0h2m1 0h1m3 0h1m5 0h2m4 0h1m3 0h1m3 0h2m6 0h3m2 0h3m2 0h1m4 0h1m1 0h1m1 0h1m2 0h1m6 0h5m1 0h1m1 0h1m1 0h1m2 0h1m2 0h1m5 0h2m4 0h4m1 0h2m1 0h1M418 662.59h1M212 667.09h1M179 676.10h1M137 680.61h1M70 689.62h5m3 0h1m4 0h1m6 0h1m1 0h2m1 0h2m1 0h1m1 0h3m2 0h4m3 0h5m1 0h1m1 0h4m1 0h3m4 0h2m4 0h1m2 0h1m3 0h3m1 0h1m1 0h1m5 0h2m1 0h4m1 0h1m3 0h1m1 0h5m2 0h2m2 0h1m2 0h2m1 0h3m3 0h1m1 0h2m1 0h4m8 0h1m2 0h3m2 0h1m2 0h2m2 0h1m2 0h2m2 0h1m3 0h2m2 0h1m2 0h3m2 0h4m1 0h5m2 0h3m1 0h4m9 0h3m1 0h10m2 0h5m1 0h2m1 0h1m7 0h3m2 0h3m2 0h4m1 0h1m4 0h5m3 0h3m3 0h1m1 0h2m2 0h1m5 0h5m5 0h2m3 0h3m1 0h6m2 0h6m2 0h1m1 0h2m11 0h1m2 0h1m10 0h1m31 0h1m5 0h1m11 0h1m9 0h2m1 0h1m2 0h1m2 0h1m24 0h1m21 0h3m8 0h1m4 0h1M68 712.14h1m1 0h3m3 0h5m2 0h1m3 0h8m1 0h3m4 0h3m1 0h3m2 0h1m1 0h1m4 0h3m1 0h2m1 0h2m1 0h3m1 0h4m4 0h1m1 0h2m1 0h5m4 0h6m5 0h2m1 0h3m1 0h1m4 0h2m1 0h2m1 0h1m1 0h4m2 0h6m2 0h1m5 0h2m3 0h2m3 0h2m1 0h1m3 0h2m1 0h8m4 0h1m7 0h1m3 0h1m6 0h1m1 0h1m2 0h1m2 0h1m1 0h1m3 0h1m1 0h2m2 0h3m1 0h3m2 0h2m4 0h4m8 0h1m5 0h1m4 0h1m3 0h2m2 0h2m1 0h1m1 0h2m3 0h2m5 0h1m2 0h1m5 0h1m2 0h4m1 0h1m4 0h1m9 0h1m6 0h2m10 0h4m3 0h1m21 0h2m7 0h1m20 0h1m2 0h1m7 0h1m4 0h1m13 0h1m6 0h1m11 0h1m10 0h1m7 0h2m3 0h4M139 725.66h1"/>
<path stroke="#cce8e7" d="M214 396.79h1M282 428.33h1M312 432.83h2M254 437.34h1M187 441.84h1m91 0h1M167 450.85h1m187 0h1m7 0h1M224 464.37h1m126 0h1m28 0h1m7 0h1m32 0h1m44 0h1M255 473.38h1m16 0h1m7 0h1m25 0h1m6 0h1m25 0h1m98 0h1m103 0h1M276 482.39h1m39 0h1m41 0h1m30 0h1m18 0h1m118 0h1M266 486.89h1M86 491.40h1m282 0h1m38 0h1M148 500.41h1m175 0h1M373 504.91h1M261 509.42h1m20 0h1m32 0h1m74 0h1M435 513.92h1M534 522.93h1M293 531.94h1m199 0h1M533 536.45h1M291 545.46h1m128 0h1M81 558.97h1m339 0h1m98 0h1m22 0h1M75 576.99h1m129 0h1m90 0h1M423 586.00h1M546 590.51h1M114 599.52h1m10 0h1m6 0h1m71 0h1m17 0h1m169 0h1m47 0h1M273 626.55h1M402 631.05h1M96 635.56h1m35 0h1m22 0h1m149 0h1m44 0h1m92 0h1M299 640.06h1m60 0h1m81 0h1M119 644.57h1M297 649.07h1m174 0h1M118 653.58h1m18 0h1m12 0h1m357 0h1M188 658.08h1m215 0h1M406 662.59h1m43 0h1m1 0h1m35 0h1M118 667.09h1m27 0h1m1 0h1M447 671.60h1M518 676.10h1M122 680.61h1m12 0h1M292 689.62h1m147 0h1M291 694.12h1m235 0h1M88 698.63h1M164 712.14h1m37 0h1m128 0h1m31 0h2M293 716.65h1m23 0h1M174 725.66h1M365 757.19h1"/>
<path stroke="#e4f3ec" d="M204 419.32h1M399 549.96h1M447 649.07h1M136 725.66h1M103 730.16h1m167 0h1M364 743.68h1M453 748.18h1M279 752.69h1M304 761.70h1m48 0h1M150 766.20h1"/>
<path stroke="#e0f2e4" d="M179 437.34h1m127 0h1M405 459.86h1m73 0h1M196 464.37h1m338 0h1M425 468.87h1M130 477.88h1m246 0h2m139 0h1M127 491.40h1M272 495.90h1m88 0h1M285 518.43h1m143 0h1M408 522.93h1M392 531.94h1M237 540.95h1m270 0h2M326 549.96h1m3 0h1m15 0h1M165 558.97h1m291 0h1M151 572.49h1m63 0h1m95 0h1M428 581.50h2M196 586.00h1M451 595.01h1M558 631.05h1M535 640.06h1M72 658.08h1m142 0h1m196 0h1m25 0h1M485 662.59h1M163 667.09h1m30 0h1M426 689.62h1M465 694.12h1M293 698.63h1M529 707.64h1M174 712.14h1M256 721.15h1m22 0h1m278 0h1M127 725.66h1m266 0h1M117 730.16h1m24 0h1m15 0h1m8 0h1m54 0h1m26 0h1m100 0h1m74 0h1m12 0h1m29 0h1M200 734.67h1m114 0h1m83 0h1m36 0h1m86 0h1M240 739.17h1m22 0h1m98 0h1m54 0h1m30 0h1M275 743.68h1m19 0h1m179 0h1m9 0h1m46 0h1m18 0h1M249 748.18h1m69 0h1m34 0h1M220 752.69h1m208 0h1M287 761.70h1m12 0h1m244 0h1M395 766.20h1m49 0h1"/>
<path stroke="#ddf1f7" d="M92 477.88h1M155 495.90h1M492 518.43h1M95 595.01h1M122 599.52h1M514 640.06h1M196 667.09h1M68 730.16h3m1 0h3m1 0h1m1 0h2m1 0h8m2 0h1m2 0h5m2 0h2m2 0h7m1 0h2m4 0h1m2 0h3m2 0h3m1 0h2m2 0h6m2 0h11m1 0h2m2 0h8m1 0h6m1 0h2m2 0h8m1 0h8m2 0h8m1 0h2m1 0h3m1 0h7m2 0h5m1 0h1m1 0h3m8 0h1m3 0h1m6 0h2m4 0h1m6 0h2m4 0h1m1 0h1m1 0h2m1 0h5m6 0h3m2 0h1m4 0h1m2 0h6m2 0h1m1 0h1m3 0h1m1 0h1m4 0h1m1 0h2m1 0h1m5 0h6m7 0h1m2 0h1m10 0h1m6 0h6m2 0h5m1 0h1m1 0h1m2 0h4m4 0h1m2 0h1m6 0h1m2 0h1m8 0h1m7 0h1m6 0h1m6 0h2m4 0h1m14 0h1m1 0h4m6 0h1m1 0h1m4 0h6m20 0h3m8 0h1m2 0h1m2 0h4m3 0h1m6 0h1m1 0h1m5 0h1m9 0h4M69 734.67h2m3 0h6m2 0h8m1 0h4m4 0h1m1 0h1m1 0h4m1 0h1m3 0h1m2 0h1m1 0h6m3 0h4m2 0h2m1 0h1m2 0h1m2 0h4m1 0h7m4 0h1m1 0h9m1 0h8m8 0h3m3 0h3m2 0h2m3 0h1m1 0h1m2 0h9m2 0h2m3 0h1m3 0h3m5 0h1m4 0h1m2 0h1m8 0h1m1 0h2m1 0h1m8 0h1m2 0h4m2 0h1m3 0h4m7 0h2m2 0h1m2 0h3m1 0h6m3 0h1m6 0h1m2 0h4m2 0h2m1 0h3m1 0h1m1 0h2m1 0h4m1 0h2m2 0h2m3 0h1m4 0h4m1 0h2m1 0h4m2 0h1m2 0h1m1 0h5m1 0h1m1 0h2m3 0h2m2 0h3m10 0h4m6 0h1m1 0h1m1 0h1m3 0h1m1 0h1m3 0h1m3 0h2m3 0h3m1 0h2m1 0h3m3 0h1m1 0h2m6 0h1m2 0h4m6 0h2m1 0h1m2 0h3m2 0h2m2 0h1m5 0h2m2 0h1m1 0h2m1 0h1m2 0h1m4 0h1m3 0h3m1 0h1m8 0h2m4 0h2m4 0h2m3 0h1m2 0h1m1 0h4m3 0h1M69 739.17h18m1 0h57m1 0h7m1 0h5m1 0h5m1 0h1m1 0h17m1 0h50m2 0h2m2 0h3m1 0h2m2 0h2m1 0h4m5 0h1m3 0h2m3 0h2m4 0h1m9 0h1m1 0h3m2 0h2m1 0h4m1 0h4m2 0h2m5 0h2m3 0h1m5 0h3m5 0h1m1 0h4m3 0h4m2 0h1m1 0h2m1 0h1m1 0h1m1 0h4m1 0h5m2 0h1m1 0h2m2 0h2m2 0h1m2 0h5m1 0h1m2 0h3m1 0h3m2 0h4m1 0h2m3 0h1m1 0h1m5 0h1m4 0h1m14 0h1m4 0h2m14 0h1m1 0h2m5 0h1m2 0h2m3 0h2m5 0h1m1 0h2m1 0h1m2 0h1m3 0h3m3 0h1m2 0h1m2 0h2m10 0h5m7 0h3m4 0h2m6 0h1m6 0h1M71 743.68h2m1 0h1m1 0h2m1 0h8m1 0h1m1 0h1m1 0h2m2 0h2m2 0h2m3 0h2m1 0h4m1 0h3m1 0h6m3 0h7m1 0h1m4 0h2m3 0h1m5 0h1m1 0h1m3 0h2m2 0h3m3 0h9m1 0h2m2 0h9m1 0h2m1 0h7m3 0h2m1 0h1m2 0h1m2 0h3m1 0h7m2 0h2m2 0h1m1 0h2m1 0h2m4 0h1m3 0h2m1 0h1m2 0h1m3 0h1m1 0h1m2 0h1m2 0h4m3 0h3m1 0h1m3 0h5m2 0h1m1 0h3m1 0h2m2 0h1m1 0h1m5 0h3m4 0h2m2 0h2m4 0h3m2 0h4m4 0h2m5 0h1m3 0h2m1 0h3m5 0h2m5 0h2m4 0h1m7 0h2m2 0h3m2 0h1m1 0h5m1 0h2m1 0h1m7 0h1m9 0h7m6 0h1m4 0h1m3 0h1m6 0h4m2 0h1m2 0h2m4 0h1m1 0h2m4 0h3m1 0h2m6 0h1m8 0h4m3 0h1m2 0h2m5 0h2m1 0h1m1 0h1m2 0h3m2 0h1m6 0h1m5 0h1m9 0h2m2 0h2m3 0h3m2 0h1m4 0h1M68 748.18h2m2 0h2m1 0h1m2 0h2m2 0h1m2 0h3m2 0h8m2 0h2m1 0h5m1 0h9m3 0h1m2 0h2m1 0h8m1 0h3m2 0h2m1 0h2m2 0h3m3 0h4m1 0h2m1 0h6m3 0h1m1 0h6m2 0h1m1 0h7m6 0h2m2 0h5m1 0h5m1 0h5m1 0h4m1 0h4m1 0h3m3 0h1m1 0h2m1 0h1m1 0h2m1 0h2m4 0h1m2 0h1m2 0h4m1 0h1m3 0h1m2 0h7m4 0h1m2 0h3m2 0h2m1 0h9m1 0h1m4 0h1m3 0h1m1 0h1m1 0h2m3 0h1m3 0h1m4 0h4m2 0h1m4 0h4m2 0h3m2 0h2m8 0h6m2 0h1m2 0h2m1 0h4m2 0h1m5 0h8m1 0h1m2 0h1m2 0h3m15 0h2m4 0h2m7 0h2m6 0h3m2 0h2m1 0h1m2 0h1m3 0h2m5 0h2m5 0h2m8 0h2m6 0h1m2 0h2m5 0h2m3 0h2m4 0h2m3 0h1m5 0h1m2 0h2m13 0h1m1 0h1m2 0h6m2 0h3m1 0h1M68 752.69h10m1 0h77m1 0h9m1 0h18m1 0h4m2 0h8m2 0h18m2 0h7m1 0h4m2 0h5m8 0h4m6 0h5m3 0h6m1 0h1m3 0h1m3 0h1m2 0h4m3 0h10m2 0h1m2 0h1m3 0h3m1 0h4m2 0h13m3 0h4m1 0h1m2 0h2m1 0h1m4 0h2m1 0h1m4 0h2m1 0h2m10 0h4m2 0h3m3 0h3m8 0h1m1 0h2m3 0h2m1 0h3m1 0h1m4 0h1m3 0h1m3 0h2m3 0h3m9 0h1m3 0h1m5 0h4m1 0h4m2 0h5m1 0h2m2 0h3m1 0h1m2 0h1m1 0h1m2 0h1m7 0h1m1 0h7m1 0h2m4 0h1m6 0h2m4 0h5m2 0h1m2 0h2m3 0h1m4 0h1m1 0h3m2 0h1m7 0h1M68 761.70h6m1 0h8m1 0h1m1 0h2m5 0h2m3 0h1m1 0h7m2 0h1m7 0h1m1 0h1m2 0h4m1 0h1m3 0h2m1 0h1m2 0h3m1 0h1m1 0h1m3 0h3m4 0h2m1 0h1m1 0h1m4 0h9m4 0h4m2 0h1m2 0h2m2 0h1m2 0h5m5 0h1m1 0h2m3 0h5m2 0h8m1 0h1m1 0h2m4 0h1m1 0h4m1 0h1m5 0h1m2 0h2m1 0h3m1 0h2m5 0h2m1 0h2m1 0h1m2 0h2m2 0h2m5 0h3m4 0h1m4 0h3m2 0h1m8 0h1m1 0h2m3 0h3m3 0h2m4 0h2m2 0h1m2 0h9m3 0h3m7 0h1m1 0h1m1 0h1m4 0h2m10 0h1m1 0h2m1 0h5m2 0h1m5 0h1m3 0h2m6 0h1m3 0h1m1 0h1m2 0h1m3 0h3m5 0h1m7 0h2m1 0h1m2 0h1m4 0h1m1 0h4m5 0h4m5 0h3m2 0h2m1 0h2m1 0h1m4 0h1m7 0h2m2 0h4m3 0h1m6 0h2m2 0h1m1 0h1m1 0h1m6 0h2m3 0h6m2 0h1m1 0h1m2 0h1m9 0h2M68 766.20h7m1 0h36m1 0h2m1 0h6m1 0h6m1 0h8m1 0h11m2 0h1m1 0h15m1 0h11m2 0h3m1 0h30m1 0h1m2 0h12m4 0h1m3 0h2m4 0h3m4 0h1m3 0h1m2 0h4m1 0h7m4 0h3m1 0h3m1 0h5m1 0h2m4 0h1m1 0h3m2 0h1m3 0h1m5 0h1m1 0h2m1 0h1m2 0h2m2 0h3m2 0h2m2 0h4m6 0h1m1 0h1m2 0h2m1 0h8m2 0h2m2 0h5m5 0h1m1 0h1m3 0h2m4 0h1m2 0h2m3 0h1m1 0h1m15 0h3m2 0h5m6 0h1m2 0h1m5 0h2m4 0h1m4 0h1m5 0h1m3 0h1m2 0h1m2 0h4m2 0h1m2 0h2m1 0h3m5 0h1m1 0h1m7 0h1m9 0h3m3 0h1m1 0h1m5 0h1m3 0h1m7 0h1m4 0h2m6 0h1m4 0h1m4 0h1"/>
<path stroke="#e3f4f0" d="M135 477.88h1m68 0h1m7 0h1m12 0h1m7 0h3m1 0h1m3 0h2m6 0h2m3 0h4m1 0h4m1 0h4m1 0h1m2 0h2m3 0h1m4 0h1m1 0h3m2 0h2m1 0h2m1 0h2m1 0h2m8 0h2m2 0h6m3 0h1m7 0h1m2 0h3m2 0h2m2 0h6m2 0h1m16 0h3m2 0h2m6 0h3m4 0h5m4 0h4m2 0h1m1 0h3m2 0h7m2 0h1m1 0h5m3 0h4m2 0h3m4 0h2m4 0h1m1 0h2m1 0h1m1 0h1m2 0h5m3 0h6m2 0h4m1 0h1m2 0h10m2 0h8m1 0h1m1 0h1m1 0h9m2 0h2m4 0h3m2 0h2m2 0h1m1 0h4m2 0h1m1 0h1m4 0h2m2 0h4m4 0h1M76 540.95h5m2 0h7m5 0h1m2 0h1m4 0h2m1 0h3m3 0h3m6 0h6m2 0h5m2 0h1m2 0h2m2 0h1m3 0h8m2 0h2m1 0h6m1 0h2m1 0h5m4 0h5m4 0h1m2 0h5m1 0h3m2 0h3m1 0h3m2 0h5m2 0h5m1 0h7m13 0h1m11 0h1m7 0h1m1 0h4m5 0h1m7 0h1m3 0h1m11 0h1m3 0h2m12 0h1m2 0h1m7 0h1m2 0h1m5 0h1m5 0h1m12 0h2m2 0h1m1 0h2m2 0h1m14 0h1m13 0h59m1 0h20m1 0h16m1 0h11m1 0h3m2 0h6m2 0h18m1 0h5m1 0h16M218 549.96h1m86 0h1m165 0h1m9 0h1M69 572.49h6m1 0h3m2 0h2m1 0h6m6 0h7m2 0h2m3 0h1m1 0h10m2 0h2m2 0h2m1 0h3m1 0h1m1 0h5m1 0h2m2 0h1m6 0h8m2 0h3m2 0h1m1 0h2m2 0h3m1 0h10m1 0h4m2 0h8m3 0h7m2 0h8m1 0h5m21 0h2m17 0h1m13 0h1m7 0h1m23 0h1m6 0h1m29 0h1m8 0h1m32 0h22m1 0h2m1 0h26m2 0h23m2 0h23m1 0h10m1 0h7m1 0h42M68 581.50h16m1 0h41m2 0h44m1 0h8m2 0h9m1 0h19m1 0h2m2 0h12m1 0h1m22 0h1m2 0h1m4 0h1m2 0h1m11 0h2m3 0h1m8 0h1m4 0h1m3 0h1m4 0h1m3 0h1m23 0h1m2 0h1m3 0h1m2 0h2m21 0h1m5 0h1m2 0h1m1 0h1m1 0h1m14 0h1m1 0h3m1 0h2m1 0h14m2 0h3m1 0h2m1 0h3m2 0h2m1 0h1m3 0h18m3 0h4m1 0h3m1 0h3m1 0h1m1 0h1m2 0h5m2 0h8m2 0h2m3 0h7m2 0h2m1 0h5m2 0h3m1 0h4m1 0h2m1 0h3m2 0h1m6 0h1m3 0h1m2 0h3m2 0h2m1 0h3M286 604.02h1M185 712.14h1M68 721.15h52m1 0h9m1 0h13m2 0h64m3 0h8m1 0h7m1 0h1m5 0h1m1 0h3m2 0h6m1 0h3m5 0h3m3 0h2m1 0h5m2 0h2m11 0h2m2 0h1m2 0h1m1 0h6m2 0h2m1 0h3m2 0h3m1 0h1m2 0h1m9 0h1m4 0h1m5 0h4m3 0h1m2 0h2m1 0h1m1 0h2m2 0h5m2 0h5m6 0h1m1 0h3m3 0h4m1 0h1m1 0h1m15 0h1m8 0h1m3 0h2m3 0h1m8 0h1m16 0h2m2 0h1m2 0h1m9 0h1m10 0h1m4 0h2m5 0h1m7 0h1m11 0h1m4 0h1m12 0h1m23 0h2M245 766.20h2"/>
<path stroke="#e5f4eb" d="M156 477.88h1M470 549.96h1M77 590.51h1m351 0h1M433 721.15h1M493 739.17h1M445 761.70h1"/>
<path stroke="#e0f3f8" d="M68 549.96h68m1 0h4m1 0h1m1 0h21m1 0h3m2 0h6m2 0h1m3 0h34m2 0h12m35 0h1m12 0h1m2 0h1m12 0h3m4 0h1m6 0h1m1 0h1m4 0h1m2 0h1m1 0h1m9 0h1m1 0h1m8 0h1m14 0h1m37 0h4m4 0h23m1 0h6m2 0h4m3 0h6m5 0h4m1 0h3m2 0h7m2 0h9m2 0h1m1 0h4m2 0h34m1 0h6m1 0h4m2 0h14m2 0h4"/>
</g>
<rect x="67.5" y="358" width="492" height="410.5" rx="1" fill="none" stroke="#2a2a2a" stroke-width="1.1"/>
<text transform="translate(48.4 366.3) scale(0.96 1)" text-anchor="end" font-size="9.6" fill="#1a1a1a">IGFBP5</text>
<text transform="translate(48.4 375.4) scale(0.96 1)" text-anchor="end" font-size="9.6" fill="#1a1a1a">CD248</text>
<text transform="translate(48.4 384.6) scale(0.96 1)" text-anchor="end" font-size="9.6" fill="#1a1a1a">MFAP4</text>
<text transform="translate(48.4 393.8) scale(0.96 1)" text-anchor="end" font-size="9.6" fill="#1a1a1a">NDUFA4L2</text>
<text transform="translate(48.4 402.9) scale(0.96 1)" text-anchor="end" font-size="9.6" fill="#1a1a1a">FBLN1</text>
<text transform="translate(48.4 412.1) scale(0.96 1)" text-anchor="end" font-size="9.6" fill="#1a1a1a">ADM</text>
<text transform="translate(48.4 421.2) scale(0.96 1)" text-anchor="end" font-size="9.6" fill="#1a1a1a">MGP</text>
<text transform="translate(48.4 430.4) scale(0.96 1)" text-anchor="end" font-size="9.6" fill="#1a1a1a">FOXS1</text>
<text transform="translate(48.4 439.5) scale(0.96 1)" text-anchor="end" font-size="9.6" fill="#1a1a1a">WISP2</text>
<text transform="translate(48.4 448.7) scale(0.96 1)" text-anchor="end" font-size="9.6" fill="#1a1a1a">EPSTI1</text>
<text transform="translate(48.4 457.8) scale(0.96 1)" text-anchor="end" font-size="9.6" fill="#1a1a1a">DES</text>
<text transform="translate(48.4 503.0) scale(0.96 1)" text-anchor="end" font-size="9.6" fill="#1a1a1a">JAM2</text>
<text transform="translate(48.4 512.1) scale(0.96 1)" text-anchor="end" font-size="9.6" fill="#1a1a1a">COL8A1</text>
<text transform="translate(48.4 521.3) scale(0.96 1)" text-anchor="end" font-size="9.6" fill="#1a1a1a">WDR86</text>
<text transform="translate(48.4 530.5) scale(0.96 1)" text-anchor="end" font-size="9.6" fill="#1a1a1a">RF01975</text>
<text transform="translate(48.4 539.6) scale(0.96 1)" text-anchor="end" font-size="9.6" fill="#1a1a1a">MGLL</text>
<text transform="translate(48.4 548.8) scale(0.96 1)" text-anchor="end" font-size="9.6" fill="#1a1a1a">FAM20A</text>
<text transform="translate(48.4 557.9) scale(0.96 1)" text-anchor="end" font-size="9.6" fill="#1a1a1a">CYP1B1</text>
<text transform="translate(48.4 567.0) scale(0.96 1)" text-anchor="end" font-size="9.6" fill="#1a1a1a">RARRES1</text>
<text transform="translate(48.4 576.2) scale(0.96 1)" text-anchor="end" font-size="9.6" fill="#1a1a1a">CTGF</text>
<text transform="translate(48.4 585.4) scale(0.96 1)" text-anchor="end" font-size="9.6" fill="#1a1a1a">EDIL3</text>
<text transform="translate(48.4 594.5) scale(0.96 1)" text-anchor="end" font-size="9.6" fill="#1a1a1a">TAGLN3</text>
<text transform="translate(48.4 603.6) scale(0.96 1)" text-anchor="end" font-size="9.6" fill="#1a1a1a">NSG1</text>
<text transform="translate(48.4 612.8) scale(0.96 1)" text-anchor="end" font-size="9.6" fill="#1a1a1a">TIMP3</text>
<text transform="translate(48.4 622.0) scale(0.96 1)" text-anchor="end" font-size="9.6" fill="#1a1a1a">PALLD</text>
<text transform="translate(48.4 666.7) scale(0.96 1)" text-anchor="end" font-size="9.6" fill="#1a1a1a">ASPN</text>
<text transform="translate(48.4 675.9) scale(0.96 1)" text-anchor="end" font-size="9.6" fill="#1a1a1a">MSX1</text>
<text transform="translate(48.4 685.0) scale(0.96 1)" text-anchor="end" font-size="9.6" fill="#1a1a1a">WFDC1</text>
<text transform="translate(48.4 694.2) scale(0.96 1)" text-anchor="end" font-size="9.6" fill="#1a1a1a">CRABP2</text>
<text transform="translate(48.4 703.3) scale(0.96 1)" text-anchor="end" font-size="9.6" fill="#1a1a1a">ALPL</text>
<text transform="translate(48.4 712.5) scale(0.96 1)" text-anchor="end" font-size="9.6" fill="#1a1a1a">TGFB3</text>
<text transform="translate(48.4 721.6) scale(0.96 1)" text-anchor="end" font-size="9.6" fill="#1a1a1a">TNC</text>
<text transform="translate(48.4 730.8) scale(0.96 1)" text-anchor="end" font-size="9.6" fill="#1a1a1a">COL6A3</text>
<text transform="translate(48.4 739.9) scale(0.96 1)" text-anchor="end" font-size="9.6" fill="#1a1a1a">PHLDA2</text>
<text transform="translate(48.4 749.1) scale(0.96 1)" text-anchor="end" font-size="9.6" fill="#1a1a1a">SGCG</text>
<text transform="translate(48.4 758.2) scale(0.96 1)" text-anchor="end" font-size="9.6" fill="#1a1a1a">TUBB2B</text>
<text transform="translate(48.4 767.4) scale(0.96 1)" text-anchor="end" font-size="9.6" fill="#1a1a1a">PRXL2A</text>
<path d="M50.7 363.1H55L60.3 365.3H64.3M50.7 372.2H55L60.3 374.3H64.3M50.7 381.4H55L60.3 378.8H64.3M50.7 390.6H55L60.3 383.3H64.3M50.7 399.7H55L60.3 387.8H64.3M50.7 408.9H55L60.3 392.3H64.3M50.7 418.0H55L60.3 396.8H64.3M50.7 427.2H55L60.3 401.3H64.3M50.7 436.3H55L60.3 405.8H64.3M50.7 445.5H55L60.3 414.8H64.3M50.7 454.6H55L60.3 423.8H64.3M50.7 499.8H55L60.3 527.4H64.3M50.7 508.9H55L60.3 531.9H64.3M50.7 518.1H55L60.3 536.4H64.3M50.7 527.2H55L60.3 541.0H64.3M50.7 536.4H55L60.3 545.5H64.3M50.7 545.5H55L60.3 550.0H64.3M50.7 554.7H55L60.3 554.5H64.3M50.7 563.8H55L60.3 559.0H64.3M50.7 573.0H55L60.3 563.5H64.3M50.7 582.1H55L60.3 568.0H64.3M50.7 591.3H55L60.3 572.5H64.3M50.7 600.4H55L60.3 577.0H64.3M50.7 609.6H55L60.3 586.0H64.3M50.7 618.8H55L60.3 590.5H64.3M50.7 663.5H55L60.3 685.1H64.3M50.7 672.6H55L60.3 689.6H64.3M50.7 681.8H55L60.3 694.1H64.3M50.7 691.0H55L60.3 698.6H64.3M50.7 700.1H55L60.3 703.1H64.3M50.7 709.2H55L60.3 712.1H64.3M50.7 718.4H55L60.3 721.2H64.3M50.7 727.5H55L60.3 725.7H64.3M50.7 736.7H55L60.3 730.2H64.3M50.7 745.9H55L60.3 734.7H64.3M50.7 755.0H55L60.3 739.2H64.3M50.7 764.1H55L60.3 748.2H64.3" fill="none" stroke="#3a3a3a" stroke-width="0.7"/>
<text x="563.3" y="614.2" font-weight="bold" font-size="11" fill="#1a1a1a">Scaled</text>
<text x="563.3" y="627.7" font-weight="bold" font-size="11" fill="#1a1a1a">Expression</text>
<defs><linearGradient id="cb" x1="0" y1="0" x2="0" y2="1"><stop offset="0.000" stop-color="#A50026"/><stop offset="0.100" stop-color="#D73027"/><stop offset="0.200" stop-color="#F46D43"/><stop offset="0.300" stop-color="#FDAE61"/><stop offset="0.400" stop-color="#FEE090"/><stop offset="0.500" stop-color="#FFFFBF"/><stop offset="0.600" stop-color="#E0F3F8"/><stop offset="0.700" stop-color="#ABD9E9"/><stop offset="0.800" stop-color="#74ADD1"/><stop offset="0.900" stop-color="#4575B4"/><stop offset="1.000" stop-color="#313695"/></linearGradient></defs>
<rect x="562.2" y="636.3" width="14.4" height="65.1" fill="url(#cb)"/>
<text x="578.8" y="642.2" font-size="11.2" fill="#1a1a1a">2</text>
<text x="578.8" y="657.5" font-size="11.2" fill="#1a1a1a">1</text>
<text x="578.8" y="672.7" font-size="11.2" fill="#1a1a1a">0</text>
<text x="578.8" y="688.0" font-size="11.2" fill="#1a1a1a">−1</text>
<text x="578.8" y="703.3" font-size="11.2" fill="#1a1a1a">−2</text>
<path d="M562.2 638.3h2.6M574 638.3h2.6M562.2 653.6h2.6M574 653.6h2.6M562.2 668.8h2.6M574 668.8h2.6M562.2 684.1h2.6M574 684.1h2.6M562.2 699.4h2.6M574 699.4h2.6" stroke="#fff" stroke-width="0.8" fill="none"/>
<text x="563.5" y="723.7" font-weight="bold" font-size="11" fill="#1a1a1a">Cluster</text>
<rect x="563.2" y="729.4" width="12.6" height="11.8" fill="#BE3A22"/>
<text x="579.5" y="739.5" font-size="11.2" fill="#1a1a1a">AT-MSC</text>
<rect x="563.2" y="742.2" width="12.6" height="11.8" fill="#0B6CB8"/>
<text x="579.5" y="752.3" font-size="11.2" fill="#1a1a1a">BM-MSC</text>
<rect x="563.2" y="755.0" width="12.6" height="11.8" fill="#E1881F"/>
<text x="579.5" y="765.1" font-size="11.2" fill="#1a1a1a">PB-MSC</text>
</svg>
</body></html>
